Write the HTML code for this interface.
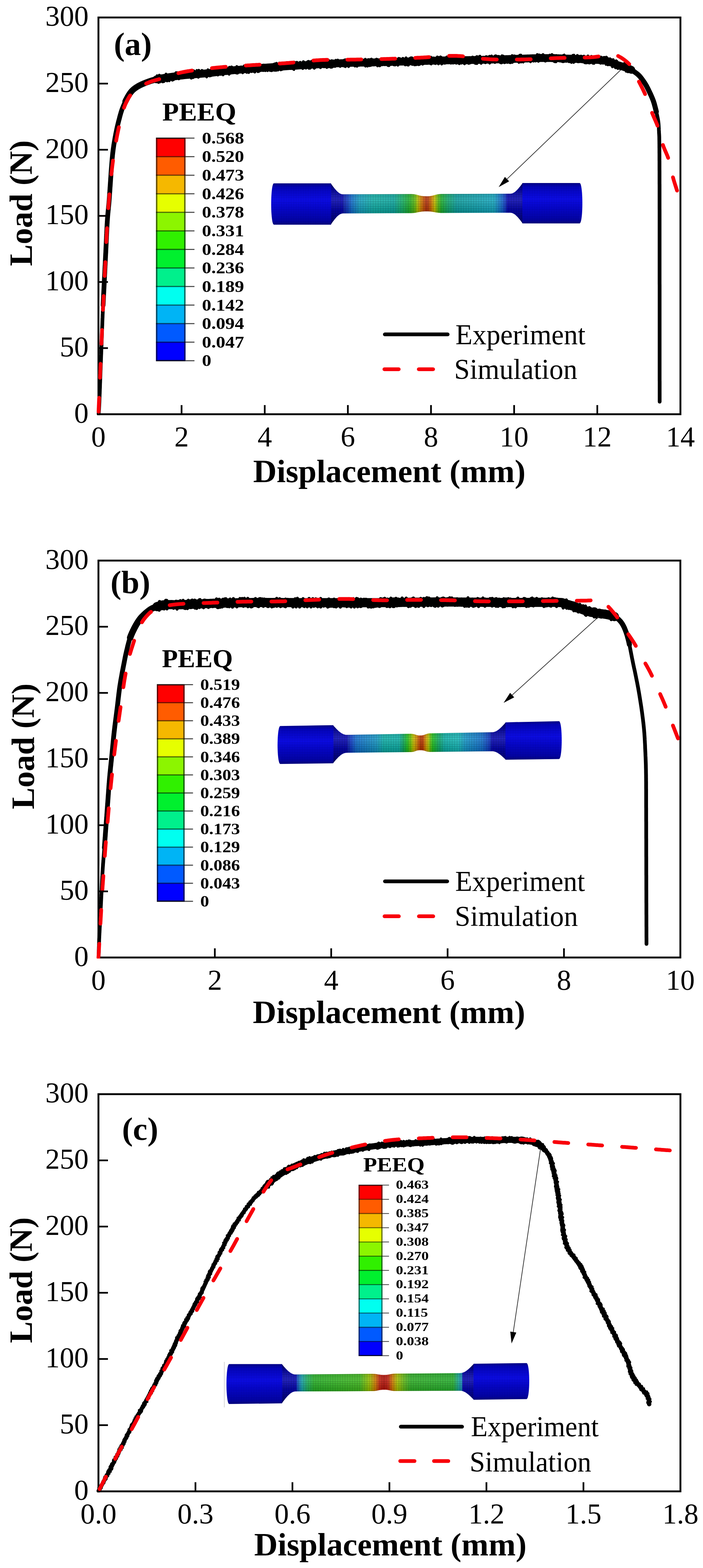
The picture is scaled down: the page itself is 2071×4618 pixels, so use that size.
<!DOCTYPE html><html><head><meta charset="utf-8"><title>Load-displacement</title><style>html,body{margin:0;padding:0;background:#fff;}svg{display:block;}</style></head><body>
<svg width="2071" height="4618" viewBox="0 0 2071 4618" font-family="'Liberation Serif', 'Times New Roman', serif">
<rect width="2071" height="4618" fill="#fff"/>
<defs>
<linearGradient id="s1g" gradientUnits="userSpaceOnUse" x1="1010.0" y1="0" x2="1495.0" y2="0"><stop offset="0.0000" stop-color="#0606b0"/><stop offset="0.0041" stop-color="#1020b0"/><stop offset="0.0289" stop-color="#1240c4"/><stop offset="0.0536" stop-color="#1470cc"/><stop offset="0.1031" stop-color="#18a0c0"/><stop offset="0.1856" stop-color="#14b0a8"/><stop offset="0.3093" stop-color="#10a8a0"/><stop offset="0.3608" stop-color="#18b068"/><stop offset="0.4021" stop-color="#20b030"/><stop offset="0.4371" stop-color="#60b810"/><stop offset="0.4536" stop-color="#b0c000"/><stop offset="0.4742" stop-color="#d08000"/><stop offset="0.4948" stop-color="#c04808"/><stop offset="0.5093" stop-color="#b03010"/><stop offset="0.5237" stop-color="#c04808"/><stop offset="0.5402" stop-color="#d08000"/><stop offset="0.5588" stop-color="#c0c000"/><stop offset="0.5773" stop-color="#60b810"/><stop offset="0.5979" stop-color="#20b030"/><stop offset="0.6392" stop-color="#14a870"/><stop offset="0.6907" stop-color="#10a0a0"/><stop offset="0.9175" stop-color="#18a8c0"/><stop offset="0.9649" stop-color="#1468cc"/><stop offset="0.9897" stop-color="#1030c0"/><stop offset="1.0000" stop-color="#0606b0"/></linearGradient>
<linearGradient id="s1sh" x1="0" y1="0" x2="0" y2="1"><stop offset="0" stop-color="#000" stop-opacity="0.55"/><stop offset="0.15" stop-color="#000" stop-opacity="0.18"/><stop offset="0.4" stop-color="#fff" stop-opacity="0.12"/><stop offset="0.65" stop-color="#000" stop-opacity="0.12"/><stop offset="0.88" stop-color="#000" stop-opacity="0.35"/><stop offset="1" stop-color="#000" stop-opacity="0.6"/></linearGradient>
<linearGradient id="s1gb" x1="0" y1="0" x2="0" y2="1"><stop offset="0" stop-color="#02028c"/><stop offset="0.1" stop-color="#0404c4"/><stop offset="0.4" stop-color="#0c0cf0"/><stop offset="0.6" stop-color="#0606d4"/><stop offset="0.9" stop-color="#0303ac"/><stop offset="1" stop-color="#020280"/></linearGradient>
<pattern id="s1m" patternUnits="userSpaceOnUse" width="5.00" height="5.10" x="798.7" y="540.0"><path d="M0,0 H5.00 M0,0 V5.10" stroke="#000030" stroke-opacity="0.42" stroke-width="1.3" fill="none"/></pattern>
<pattern id="s1n" patternUnits="userSpaceOnUse" width="7.40" height="7.00" x="1010.0" y="572.3"><path d="M0,0 H7.40 M0,0 V7.00" stroke="#000" stroke-opacity="0.3" stroke-width="1.4" fill="none"/></pattern>
</defs>
<path d="M974.3,540.0 C991.5,564.2 1000.5,572.3 1011.3,572.3 L1208.0,571.6 C1232.0,571.6 1232.0,578.0 1256.0,578.0 C1280.0,578.0 1280.0,571.3 1304.0,571.3 L1502.8,570.6 C1513.6,570.6 1522.6,562.7 1539.8,539.0 L1539.8,657.9 C1522.6,634.3 1513.6,626.4 1502.8,626.4 L1304.0,627.2 C1280.0,627.2 1280.0,622.5 1256.0,622.5 C1232.0,622.5 1232.0,627.7 1208.0,627.7 L1011.3,628.5 C1000.5,628.5 991.5,636.8 974.3,661.7 Z" fill="url(#s1g)"/>
<path d="M974.3,540.0 C991.5,564.2 1000.5,572.3 1011.3,572.3 L1208.0,571.6 C1232.0,571.6 1232.0,578.0 1256.0,578.0 C1280.0,578.0 1280.0,571.3 1304.0,571.3 L1502.8,570.6 C1513.6,570.6 1522.6,562.7 1539.8,539.0 L1539.8,657.9 C1522.6,634.3 1513.6,626.4 1502.8,626.4 L1304.0,627.2 C1280.0,627.2 1280.0,622.5 1256.0,622.5 C1232.0,622.5 1232.0,627.7 1208.0,627.7 L1011.3,628.5 C1000.5,628.5 991.5,636.8 974.3,661.7 Z" fill="url(#s1sh)"/>
<path d="M974.3,540.0 C991.5,564.2 1000.5,572.3 1011.3,572.3 L1208.0,571.6 C1232.0,571.6 1232.0,578.0 1256.0,578.0 C1280.0,578.0 1280.0,571.3 1304.0,571.3 L1502.8,570.6 C1513.6,570.6 1522.6,562.7 1539.8,539.0 L1539.8,657.9 C1522.6,634.3 1513.6,626.4 1502.8,626.4 L1304.0,627.2 C1280.0,627.2 1280.0,622.5 1256.0,622.5 C1232.0,622.5 1232.0,627.7 1208.0,627.7 L1011.3,628.5 C1000.5,628.5 991.5,636.8 974.3,661.7 Z" fill="url(#s1n)"/>
<path d="M806.7,540.0 L975.3,540.0 L975.3,661.7 L806.7,661.7 C796.3,658.7 796.3,543.0 806.7,540.0 Z" fill="url(#s1gb)"/>
<path d="M806.7,540.0 L975.3,540.0 L975.3,661.7 L806.7,661.7 C796.3,658.7 796.3,543.0 806.7,540.0 Z" fill="url(#s1m)"/>
<path d="M1538.8,539.0 L1707.8,539.0 C1718.2,542.0 1718.2,654.9 1707.8,657.9 L1538.8,657.9 Z" fill="url(#s1gb)"/>
<path d="M1538.8,539.0 L1707.8,539.0 C1718.2,542.0 1718.2,654.9 1707.8,657.9 L1538.8,657.9 Z" fill="url(#s1m)"/>
<rect x="459.5" y="406.8" width="87.0" height="55.1" fill="#ff0000"/>
<rect x="459.5" y="461.4" width="87.0" height="55.1" fill="#ff5c00"/>
<rect x="459.5" y="516.1" width="87.0" height="55.1" fill="#f5b800"/>
<rect x="459.5" y="570.7" width="87.0" height="55.1" fill="#e6ff00"/>
<rect x="459.5" y="625.3" width="87.0" height="55.1" fill="#8cf500"/>
<rect x="459.5" y="680.0" width="87.0" height="55.1" fill="#30f000"/>
<rect x="459.5" y="734.6" width="87.0" height="55.1" fill="#00f02e"/>
<rect x="459.5" y="789.2" width="87.0" height="55.1" fill="#00f08c"/>
<rect x="459.5" y="843.8" width="87.0" height="55.1" fill="#00fff0"/>
<rect x="459.5" y="898.5" width="87.0" height="55.1" fill="#00b4f5"/>
<rect x="459.5" y="953.1" width="87.0" height="55.1" fill="#005aff"/>
<rect x="459.5" y="1007.7" width="87.0" height="55.1" fill="#0000ff"/>
<line x1="459.5" y1="406.8" x2="546.5" y2="406.8" stroke="#000" stroke-opacity="0.55" stroke-width="3.5"/>
<line x1="546.5" y1="406.8" x2="572.9" y2="406.8" stroke="#444" stroke-width="3.0"/>
<line x1="459.5" y1="461.4" x2="546.5" y2="461.4" stroke="#000" stroke-opacity="0.55" stroke-width="3.5"/>
<line x1="546.5" y1="461.4" x2="572.9" y2="461.4" stroke="#444" stroke-width="3.0"/>
<line x1="459.5" y1="516.1" x2="546.5" y2="516.1" stroke="#000" stroke-opacity="0.55" stroke-width="3.5"/>
<line x1="546.5" y1="516.1" x2="572.9" y2="516.1" stroke="#444" stroke-width="3.0"/>
<line x1="459.5" y1="570.7" x2="546.5" y2="570.7" stroke="#000" stroke-opacity="0.55" stroke-width="3.5"/>
<line x1="546.5" y1="570.7" x2="572.9" y2="570.7" stroke="#444" stroke-width="3.0"/>
<line x1="459.5" y1="625.3" x2="546.5" y2="625.3" stroke="#000" stroke-opacity="0.55" stroke-width="3.5"/>
<line x1="546.5" y1="625.3" x2="572.9" y2="625.3" stroke="#444" stroke-width="3.0"/>
<line x1="459.5" y1="680.0" x2="546.5" y2="680.0" stroke="#000" stroke-opacity="0.55" stroke-width="3.5"/>
<line x1="546.5" y1="680.0" x2="572.9" y2="680.0" stroke="#444" stroke-width="3.0"/>
<line x1="459.5" y1="734.6" x2="546.5" y2="734.6" stroke="#000" stroke-opacity="0.55" stroke-width="3.5"/>
<line x1="546.5" y1="734.6" x2="572.9" y2="734.6" stroke="#444" stroke-width="3.0"/>
<line x1="459.5" y1="789.2" x2="546.5" y2="789.2" stroke="#000" stroke-opacity="0.55" stroke-width="3.5"/>
<line x1="546.5" y1="789.2" x2="572.9" y2="789.2" stroke="#444" stroke-width="3.0"/>
<line x1="459.5" y1="843.8" x2="546.5" y2="843.8" stroke="#000" stroke-opacity="0.55" stroke-width="3.5"/>
<line x1="546.5" y1="843.8" x2="572.9" y2="843.8" stroke="#444" stroke-width="3.0"/>
<line x1="459.5" y1="898.5" x2="546.5" y2="898.5" stroke="#000" stroke-opacity="0.55" stroke-width="3.5"/>
<line x1="546.5" y1="898.5" x2="572.9" y2="898.5" stroke="#444" stroke-width="3.0"/>
<line x1="459.5" y1="953.1" x2="546.5" y2="953.1" stroke="#000" stroke-opacity="0.55" stroke-width="3.5"/>
<line x1="546.5" y1="953.1" x2="572.9" y2="953.1" stroke="#444" stroke-width="3.0"/>
<line x1="459.5" y1="1007.7" x2="546.5" y2="1007.7" stroke="#000" stroke-opacity="0.55" stroke-width="3.5"/>
<line x1="546.5" y1="1007.7" x2="572.9" y2="1007.7" stroke="#444" stroke-width="3.0"/>
<line x1="459.5" y1="1062.4" x2="546.5" y2="1062.4" stroke="#000" stroke-opacity="0.55" stroke-width="3.5"/>
<line x1="546.5" y1="1062.4" x2="572.9" y2="1062.4" stroke="#444" stroke-width="3.0"/>
<rect x="461.5" y="407.3" width="83.0" height="654.6" fill="none" stroke="#000" stroke-opacity="0.6" stroke-width="4.0"/>
<text transform="translate(594.9,422.8) scale(1.1490,1)" font-size="48" font-weight="bold" text-anchor="start">0.568</text>
<text transform="translate(594.9,477.4) scale(1.1490,1)" font-size="48" font-weight="bold" text-anchor="start">0.520</text>
<text transform="translate(594.9,532.1) scale(1.1490,1)" font-size="48" font-weight="bold" text-anchor="start">0.473</text>
<text transform="translate(594.9,586.7) scale(1.1490,1)" font-size="48" font-weight="bold" text-anchor="start">0.426</text>
<text transform="translate(594.9,641.3) scale(1.1490,1)" font-size="48" font-weight="bold" text-anchor="start">0.378</text>
<text transform="translate(594.9,696.0) scale(1.1490,1)" font-size="48" font-weight="bold" text-anchor="start">0.331</text>
<text transform="translate(594.9,750.6) scale(1.1490,1)" font-size="48" font-weight="bold" text-anchor="start">0.284</text>
<text transform="translate(594.9,805.2) scale(1.1490,1)" font-size="48" font-weight="bold" text-anchor="start">0.236</text>
<text transform="translate(594.9,859.8) scale(1.1490,1)" font-size="48" font-weight="bold" text-anchor="start">0.189</text>
<text transform="translate(594.9,914.5) scale(1.1490,1)" font-size="48" font-weight="bold" text-anchor="start">0.142</text>
<text transform="translate(594.9,969.1) scale(1.1490,1)" font-size="48" font-weight="bold" text-anchor="start">0.094</text>
<text transform="translate(594.9,1023.7) scale(1.1490,1)" font-size="48" font-weight="bold" text-anchor="start">0.047</text>
<text transform="translate(594.9,1078.4) scale(1.1490,1)" font-size="48" font-weight="bold" text-anchor="start">0</text>
<text transform="translate(478.0,355.3) scale(1.0542,1)" font-size="76" font-weight="bold" text-anchor="start">PEEQ</text>
<line x1="1133.7" y1="984.8" x2="1318.8" y2="984.8" stroke="#000" stroke-width="11" stroke-linecap="round"/>
<line x1="1132.4" y1="1087.4" x2="1174.6" y2="1087.4" stroke="#f8000a" stroke-width="11" stroke-linecap="round"/>
<line x1="1233.7" y1="1087.4" x2="1275.9" y2="1087.4" stroke="#f8000a" stroke-width="11" stroke-linecap="round"/>
<text transform="translate(1341.8,1014.0) scale(0.9662,1)" font-size="85" font-weight="normal" text-anchor="start">Experiment</text>
<text transform="translate(1338.0,1115.5) scale(0.9727,1)" font-size="85" font-weight="normal" text-anchor="start">Simulation</text>
<rect x="290.0" y="51.5" width="1714.5" height="1168.5" fill="none" stroke="#000" stroke-width="5.5"/>
<clipPath id="clipa"><rect x="283.0" y="51.5" width="1721.5" height="1171.5"/></clipPath>
<g clip-path="url(#clipa)">
<path d="M290.5,1219.0 L290.6,1217.4 L290.8,1215.8 L291.0,1213.9 L291.2,1211.7 L291.4,1208.9 L291.7,1205.6 L291.9,1201.5 L292.2,1196.5 L292.5,1190.5 L292.6,1188.5 L292.7,1186.3 L292.8,1184.0 L292.9,1181.6 L293.0,1179.1 L293.1,1176.4 L293.2,1173.7 L293.3,1170.9 L293.4,1168.0 L293.5,1165.1 L293.6,1162.0 L293.8,1158.9 L293.9,1155.8 L294.0,1152.6 L294.1,1149.4 L294.2,1146.1 L294.4,1142.8 L294.5,1139.5 L294.6,1136.1 L294.7,1132.8 L294.8,1129.4 L295.0,1126.1 L295.1,1122.8 L295.2,1119.5 L295.3,1116.2 L295.4,1113.0 L295.6,1109.8 L295.7,1106.6 L295.8,1103.5 L295.9,1100.5 L296.0,1097.5 L296.1,1094.5 L296.2,1091.5 L296.4,1088.5 L296.5,1085.5 L296.6,1082.5 L296.7,1079.5 L296.8,1076.5 L296.9,1073.5 L297.0,1070.5 L297.1,1067.5 L297.3,1064.5 L297.4,1061.5 L297.5,1058.5 L297.6,1055.5 L297.7,1052.5 L297.8,1049.5 L297.9,1046.5 L298.1,1043.5 L298.2,1040.5 L298.3,1037.5 L298.4,1034.5 L298.5,1031.4 L298.6,1028.4 L298.7,1025.4 L298.8,1022.4 L299.0,1019.4 L299.1,1016.4 L299.2,1013.4 L299.3,1010.4 L299.4,1007.4 L299.5,1004.4 L299.6,1001.4 L299.7,998.4 L299.9,995.3 L300.0,992.3 L300.1,989.3 L300.2,986.3 L300.3,983.3 L300.4,980.3 L300.5,977.3 L300.6,974.2 L300.7,971.2 L300.8,968.2 L300.9,965.2 L301.0,962.2 L301.2,959.2 L301.3,956.1 L301.4,953.1 L301.5,950.1 L301.6,947.1 L301.7,944.1 L301.8,941.1 L301.9,938.1 L302.1,935.0 L302.2,932.0 L302.3,929.0 L302.4,926.0 L302.6,923.0 L302.7,920.0 L302.8,917.0 L303.0,914.0 L303.1,911.0 L303.2,908.0 L303.4,905.0 L303.5,902.0 L303.7,899.0 L303.8,896.0 L304.0,893.0 L304.1,890.0 L304.3,887.0 L304.4,884.0 L304.6,881.0 L304.7,878.0 L304.9,875.0 L305.0,872.0 L305.2,869.0 L305.3,866.0 L305.5,863.0 L305.7,860.0 L305.8,857.0 L306.0,854.0 L306.1,851.0 L306.3,848.0 L306.4,845.0 L306.6,842.0 L306.7,839.0 L306.9,836.0 L307.0,833.0 L307.2,830.0 L307.3,827.0 L307.5,824.0 L307.6,821.0 L307.8,818.0 L307.9,815.0 L308.1,812.0 L308.2,809.0 L308.4,806.0 L308.6,803.0 L308.7,800.0 L308.8,797.0 L309.0,794.0 L309.1,791.0 L309.3,788.0 L309.4,785.0 L309.6,782.0 L309.8,779.0 L309.9,776.0 L310.1,773.0 L310.2,770.0 L310.3,767.0 L310.5,764.0 L310.6,761.0 L310.8,758.0 L310.9,755.0 L311.1,752.0 L311.2,749.0 L311.4,746.0 L311.6,743.0 L311.7,740.0 L311.8,737.0 L312.0,733.9 L312.1,730.9 L312.3,727.8 L312.4,724.7 L312.6,721.6 L312.7,718.4 L312.9,715.3 L313.0,712.1 L313.2,709.0 L313.3,705.8 L313.5,702.7 L313.6,699.5 L313.7,696.4 L313.9,693.2 L314.0,690.1 L314.2,687.1 L314.3,684.0 L314.5,680.9 L314.6,677.9 L314.8,674.9 L314.9,672.0 L315.1,669.1 L315.2,666.2 L315.4,663.4 L315.5,660.6 L315.7,657.9 L315.9,655.2 L316.0,652.6 L316.2,650.0 L316.5,646.3 L316.7,642.8 L317.0,639.5 L317.2,636.4 L317.5,633.4 L317.7,630.4 L318.0,627.6 L318.3,624.9 L318.5,622.1 L318.8,619.4 L319.1,616.7 L319.4,614.0 L319.6,611.2 L319.9,608.3 L320.2,605.3 L320.5,602.2 L320.8,598.9 L321.1,595.5 L321.4,591.9 L321.7,588.0 L321.9,585.5 L322.1,582.8 L322.3,580.1 L322.5,577.2 L322.7,574.3 L322.9,571.3 L323.1,568.2 L323.4,565.1 L323.6,561.9 L323.8,558.7 L324.0,555.4 L324.2,552.1 L324.5,548.8 L324.7,545.5 L324.9,542.1 L325.1,538.8 L325.4,535.4 L325.6,532.1 L325.8,528.8 L326.0,525.5 L326.3,522.2 L326.5,519.0 L326.7,515.9 L326.9,512.8 L327.1,509.7 L327.3,506.8 L327.5,503.9 L327.7,501.1 L327.9,498.4 L328.1,495.8 L328.3,493.4 L328.5,491.0 L328.9,486.6 L329.2,482.5 L329.5,478.6 L329.8,475.1 L330.1,471.7 L330.3,468.6 L330.6,465.6 L330.9,462.8 L331.2,460.0 L331.4,457.3 L331.7,454.7 L332.0,452.0 L332.3,449.3 L332.7,446.6 L333.0,443.8 L333.4,440.8 L333.8,437.6 L334.3,434.3 L334.8,431.1 L335.2,427.9 L335.7,424.7 L336.3,421.5 L336.8,418.3 L337.3,415.1 L337.9,412.0 L338.4,408.9 L339.0,405.8 L339.5,402.8 L340.1,399.8 L340.6,396.9 L341.2,394.0 L341.8,390.7 L342.5,387.6 L343.1,384.5 L343.7,381.4 L344.4,378.4 L345.0,375.4 L345.7,372.5 L346.4,369.6 L347.1,366.7 L347.8,363.8 L348.5,360.9 L349.2,358.0 L350.0,355.0 L350.8,352.0 L351.6,349.1 L352.3,346.1 L353.1,343.1 L353.9,340.2 L354.7,337.2 L355.6,334.3 L356.4,331.3 L357.4,328.4 L358.3,325.4 L359.4,322.4 L360.4,319.5 L361.6,316.5 L362.7,313.7 L364.0,310.8 L365.2,307.9 L366.6,304.9 L368.0,301.9 L369.4,298.9 L370.8,295.9 L372.3,293.0 L373.8,290.2 L375.2,287.4 L376.7,284.8 L378.2,282.2 L379.6,279.9 L381.0,277.7 L383.1,274.6 L385.1,272.0 L387.0,269.6 L389.0,267.4 L391.0,265.4 L393.1,263.5 L395.3,261.7 L397.7,259.9 L400.4,258.0 L402.8,256.4 L405.3,254.9 L407.9,253.4 L410.6,251.9 L413.4,250.5 L416.3,249.1 L419.2,247.7 L422.2,246.4 L425.3,245.1 L428.4,243.9 L431.5,242.7 L434.3,241.6 L437.0,240.6 L439.7,239.7 L442.3,238.8 L445.1,237.9 L447.9,237.0 L450.8,236.2 L453.9,235.3 L457.2,234.5 L460.8,233.7 L464.7,232.9 L469.0,232.0 L471.4,231.5 L473.9,231.1 L476.5,230.6 L479.2,230.2 L482.0,229.7 L484.9,229.2 L487.8,228.8 L490.8,228.3 L493.9,227.8 L497.0,227.4 L500.2,226.9 L503.4,226.5 L506.6,226.0 L509.8,225.6 L513.1,225.2 L516.3,224.7 L519.6,224.3 L522.8,223.9 L526.0,223.5 L529.2,223.1 L532.4,222.7 L535.5,222.4 L538.5,222.0 L541.5,221.7 L544.5,221.3 L547.5,221.0 L550.6,220.7 L553.6,220.5 L556.6,220.2 L559.6,219.9 L562.6,219.7 L565.6,219.5 L568.6,219.2 L571.7,219.0 L574.7,218.8 L577.7,218.5 L580.7,218.3 L583.7,218.1 L586.7,217.8 L589.7,217.6 L592.7,217.4 L595.8,217.1 L598.8,216.9 L601.8,216.6 L604.8,216.3 L607.8,216.0 L610.8,215.7 L613.8,215.4 L616.8,215.0 L619.8,214.7 L622.8,214.4 L625.9,214.0 L628.9,213.6 L631.9,213.3 L634.9,212.9 L637.9,212.6 L640.9,212.2 L643.9,211.8 L646.9,211.4 L649.9,211.1 L652.9,210.7 L655.9,210.4 L658.9,210.0 L662.0,209.6 L665.0,209.3 L668.0,209.0 L671.0,208.6 L674.0,208.3 L677.0,208.0 L680.0,207.7 L683.1,207.4 L686.1,207.1 L689.2,206.8 L692.3,206.5 L695.5,206.2 L698.6,206.0 L701.7,205.7 L704.8,205.4 L708.0,205.1 L711.1,204.9 L714.2,204.6 L717.2,204.4 L720.3,204.1 L723.3,203.9 L726.4,203.6 L729.3,203.4 L732.3,203.1 L735.2,202.9 L738.0,202.7 L740.8,202.4 L743.6,202.2 L746.3,202.0 L749.8,201.7 L753.0,201.5 L756.1,201.2 L758.9,201.0 L761.7,200.8 L764.4,200.5 L767.0,200.3 L769.7,200.1 L772.3,199.9 L775.1,199.7 L778.0,199.5 L781.0,199.3 L784.2,199.1 L787.7,198.8 L791.5,198.6 L795.6,198.3 L800.0,198.0 L802.4,197.8 L804.8,197.7 L807.3,197.5 L809.9,197.3 L812.6,197.2 L815.3,197.0 L818.1,196.8 L821.0,196.6 L823.9,196.4 L826.9,196.2 L829.9,196.0 L833.0,195.9 L836.1,195.7 L839.2,195.5 L842.4,195.3 L845.6,195.0 L848.9,194.8 L852.1,194.6 L855.4,194.4 L858.7,194.2 L862.0,194.0 L865.3,193.8 L868.6,193.6 L871.9,193.4 L875.2,193.2 L878.5,193.0 L881.7,192.8 L885.0,192.6 L888.2,192.4 L891.5,192.2 L894.6,192.0 L897.8,191.9 L900.9,191.7 L904.0,191.5 L907.1,191.3 L910.1,191.1 L913.2,191.0 L916.2,190.8 L919.3,190.6 L922.4,190.4 L925.4,190.3 L928.5,190.1 L931.5,189.9 L934.6,189.7 L937.6,189.5 L940.7,189.4 L943.8,189.2 L946.8,189.0 L949.9,188.8 L952.9,188.7 L956.0,188.5 L959.1,188.3 L962.1,188.2 L965.2,188.0 L968.2,187.8 L971.3,187.7 L974.4,187.5 L977.4,187.4 L980.5,187.2 L983.5,187.1 L986.6,186.9 L989.6,186.8 L992.7,186.6 L995.8,186.5 L998.8,186.4 L1001.9,186.2 L1004.9,186.1 L1008.0,186.0 L1011.1,185.9 L1014.1,185.8 L1017.2,185.7 L1020.3,185.6 L1023.4,185.5 L1026.6,185.4 L1029.7,185.3 L1032.8,185.2 L1035.9,185.1 L1039.1,185.0 L1042.2,185.0 L1045.4,184.9 L1048.5,184.8 L1051.6,184.8 L1054.8,184.7 L1057.9,184.6 L1061.0,184.6 L1064.1,184.5 L1067.2,184.4 L1070.3,184.4 L1073.4,184.3 L1076.5,184.3 L1079.5,184.2 L1082.6,184.1 L1085.6,184.1 L1088.6,184.0 L1091.6,184.0 L1094.6,183.9 L1097.6,183.8 L1100.5,183.8 L1103.4,183.7 L1106.3,183.6 L1109.2,183.6 L1112.0,183.5 L1115.3,183.4 L1118.5,183.3 L1121.7,183.2 L1124.8,183.2 L1127.9,183.1 L1131.0,183.0 L1134.0,182.9 L1137.0,182.8 L1140.0,182.7 L1142.9,182.7 L1145.8,182.6 L1148.7,182.5 L1151.7,182.4 L1154.6,182.3 L1157.4,182.2 L1160.3,182.2 L1163.3,182.1 L1166.2,182.0 L1169.1,181.9 L1172.0,181.8 L1175.0,181.7 L1178.0,181.6 L1181.0,181.5 L1184.1,181.5 L1187.2,181.4 L1190.3,181.3 L1193.5,181.2 L1196.7,181.1 L1200.0,181.0 L1202.8,180.9 L1205.7,180.8 L1208.6,180.7 L1211.5,180.7 L1214.4,180.6 L1217.4,180.5 L1220.4,180.4 L1223.4,180.3 L1226.4,180.2 L1229.4,180.1 L1232.5,180.0 L1235.5,179.9 L1238.6,179.8 L1241.7,179.7 L1244.8,179.6 L1247.9,179.5 L1251.0,179.4 L1254.1,179.3 L1257.2,179.2 L1260.4,179.2 L1263.5,179.1 L1266.6,179.0 L1269.8,178.9 L1272.9,178.8 L1276.1,178.7 L1279.2,178.6 L1282.3,178.5 L1285.4,178.4 L1288.6,178.4 L1291.7,178.3 L1294.8,178.2 L1297.9,178.1 L1300.9,178.1 L1304.0,178.0 L1307.1,177.9 L1310.1,177.9 L1313.2,177.8 L1316.2,177.8 L1319.3,177.7 L1322.4,177.7 L1325.4,177.6 L1328.5,177.6 L1331.5,177.5 L1334.6,177.5 L1337.6,177.5 L1340.7,177.4 L1343.8,177.4 L1346.8,177.4 L1349.9,177.3 L1352.9,177.3 L1356.0,177.2 L1359.1,177.2 L1362.1,177.2 L1365.2,177.1 L1368.2,177.1 L1371.3,177.1 L1374.4,177.0 L1377.4,177.0 L1380.5,177.0 L1383.5,176.9 L1386.6,176.9 L1389.6,176.8 L1392.7,176.8 L1395.8,176.7 L1398.8,176.7 L1401.9,176.6 L1404.9,176.6 L1408.0,176.5 L1411.1,176.4 L1414.1,176.4 L1417.2,176.3 L1420.3,176.2 L1423.4,176.1 L1426.6,176.1 L1429.7,176.0 L1432.8,175.9 L1435.9,175.8 L1439.1,175.7 L1442.2,175.6 L1445.4,175.5 L1448.5,175.4 L1451.6,175.3 L1454.8,175.3 L1457.9,175.2 L1461.0,175.1 L1464.1,175.0 L1467.2,174.9 L1470.3,174.8 L1473.4,174.7 L1476.5,174.6 L1479.5,174.5 L1482.6,174.4 L1485.6,174.3 L1488.6,174.2 L1491.6,174.1 L1494.6,174.0 L1497.6,173.9 L1500.5,173.8 L1503.4,173.8 L1506.3,173.7 L1509.2,173.6 L1512.0,173.5 L1515.3,173.4 L1518.6,173.3 L1521.9,173.2 L1525.1,173.1 L1528.3,173.0 L1531.5,172.9 L1534.7,172.8 L1537.9,172.7 L1541.1,172.6 L1544.2,172.4 L1547.3,172.3 L1550.4,172.2 L1553.5,172.1 L1556.5,172.0 L1559.6,171.9 L1562.6,171.8 L1565.6,171.7 L1568.6,171.6 L1571.5,171.5 L1574.5,171.5 L1577.4,171.4 L1580.3,171.3 L1583.2,171.2 L1586.0,171.2 L1588.9,171.1 L1591.7,171.1 L1594.5,171.1 L1597.2,171.0 L1600.0,171.0 L1603.4,171.0 L1606.8,171.0 L1610.1,171.0 L1613.4,171.0 L1616.6,171.0 L1619.7,171.1 L1622.9,171.1 L1626.0,171.2 L1629.0,171.2 L1632.1,171.3 L1635.1,171.4 L1638.1,171.4 L1641.0,171.5 L1644.0,171.6 L1647.0,171.7 L1649.9,171.8 L1652.9,171.9 L1655.9,172.0 L1658.9,172.1 L1661.9,172.2 L1664.9,172.3 L1667.9,172.4 L1671.0,172.5 L1674.1,172.6 L1677.3,172.7 L1680.5,172.8 L1683.8,173.0 L1687.0,173.1 L1690.4,173.2 L1693.7,173.4 L1697.0,173.5 L1700.3,173.7 L1703.6,173.8 L1706.9,174.0 L1710.2,174.1 L1713.4,174.3 L1716.6,174.4 L1719.7,174.6 L1722.8,174.7 L1725.8,174.9 L1728.8,175.0 L1731.6,175.2 L1734.4,175.3 L1737.0,175.4 L1739.6,175.6 L1742.0,175.7 L1746.4,175.9 L1750.5,176.1 L1754.2,176.3 L1757.8,176.4 L1761.1,176.5 L1764.2,176.7 L1767.1,176.8 L1769.9,177.0 L1772.5,177.2 L1775.1,177.4 L1777.6,177.7 L1780.0,178.0 L1784.4,178.7 L1788.0,179.6 L1791.1,180.5 L1794.0,181.6 L1796.9,182.7 L1800.0,183.8 L1802.8,184.8 L1805.7,186.0 L1808.5,187.2 L1811.3,188.4 L1814.1,189.6 L1817.0,190.7 L1819.8,191.8 L1823.1,192.9 L1826.5,193.9 L1829.8,194.8 L1833.1,195.7 L1836.5,196.7 L1839.8,197.8 L1842.6,198.8 L1845.5,199.7 L1848.3,200.7 L1851.2,201.8 L1854.0,202.9 L1856.9,204.2 L1859.7,205.7 L1862.2,207.2 L1864.9,208.8 L1867.5,210.5 L1870.1,212.3 L1872.7,214.2 L1875.2,216.1 L1877.5,217.9 L1879.6,219.7 L1882.1,222.0 L1884.2,224.2 L1886.1,226.4 L1887.9,228.7 L1889.7,231.1 L1891.6,233.6 L1893.3,235.9 L1895.0,238.2 L1896.7,240.7 L1898.4,243.2 L1900.1,245.8 L1901.8,248.6 L1903.5,251.5 L1905.0,254.2 L1906.5,257.1 L1908.1,260.1 L1909.6,263.1 L1911.1,266.2 L1912.6,269.4 L1914.1,272.5 L1915.5,275.5 L1916.9,278.5 L1918.2,281.3 L1919.4,284.2 L1920.7,287.1 L1921.9,290.0 L1923.1,293.0 L1924.3,296.1 L1925.4,299.4 L1926.3,302.1 L1927.2,305.0 L1928.0,307.9 L1928.8,310.9 L1929.6,313.9 L1930.4,317.0 L1931.2,320.1 L1932.0,323.1 L1932.7,326.2 L1933.4,329.2 L1934.1,332.2 L1934.8,335.2 L1935.5,338.1 L1936.1,341.1 L1936.8,344.1 L1937.4,347.1 L1938.0,350.0 L1938.5,353.0 L1939.0,356.0 L1939.4,359.0 L1939.8,362.0 L1940.1,365.0 L1940.3,368.0 L1940.5,371.0 L1940.7,374.0 L1940.9,377.0 L1941.0,380.0 L1941.1,383.0 L1941.3,386.0 L1941.4,389.0 L1941.5,391.7 L1941.7,393.9 L1941.8,395.8 L1941.9,397.6 L1942.0,399.6 L1942.1,401.9 L1942.2,404.8 L1942.2,408.5 L1942.3,413.1 L1942.4,419.0 L1942.4,421.0 L1942.4,423.1 L1942.5,425.3 L1942.5,427.5 L1942.5,429.7 L1942.5,432.1 L1942.5,434.5 L1942.6,437.0 L1942.6,439.5 L1942.6,442.1 L1942.6,444.8 L1942.6,447.6 L1942.6,450.4 L1942.7,453.2 L1942.7,456.2 L1942.7,459.2 L1942.7,462.2 L1942.7,465.4 L1942.7,468.6 L1942.7,471.8 L1942.8,475.1 L1942.8,478.5 L1942.8,482.0 L1942.8,485.5 L1942.8,489.1 L1942.8,492.7 L1942.8,496.4 L1942.8,500.2 L1942.9,504.0 L1942.9,507.9 L1942.9,511.9 L1942.9,515.9 L1942.9,520.0 L1942.9,522.4 L1942.9,524.8 L1942.9,527.1 L1942.9,529.5 L1942.9,531.8 L1942.9,534.2 L1942.9,536.6 L1942.9,538.9 L1942.9,541.3 L1943.0,543.7 L1943.0,546.0 L1943.0,548.4 L1943.0,550.8 L1943.0,553.2 L1943.0,555.6 L1943.0,558.1 L1943.0,560.5 L1943.0,563.0 L1943.0,565.5 L1943.0,568.0 L1943.0,570.5 L1943.0,573.1 L1943.0,575.7 L1943.0,578.3 L1943.0,580.9 L1943.0,583.6 L1943.0,586.3 L1943.0,589.1 L1943.0,591.8 L1943.0,594.6 L1943.0,597.5 L1943.0,600.4 L1943.0,603.3 L1943.0,606.3 L1943.0,609.4 L1943.0,612.4 L1943.0,615.6 L1943.1,618.7 L1943.1,622.0 L1943.1,625.3 L1943.1,628.6 L1943.1,632.0 L1943.1,635.5 L1943.1,639.0 L1943.1,642.6 L1943.1,646.2 L1943.1,649.9 L1943.1,653.7 L1943.1,657.5 L1943.1,661.5 L1943.1,665.4 L1943.1,669.5 L1943.1,673.7 L1943.1,677.9 L1943.1,682.2 L1943.1,686.5 L1943.1,691.0 L1943.1,693.3 L1943.1,695.6 L1943.1,697.9 L1943.1,700.3 L1943.1,702.7 L1943.1,705.2 L1943.1,707.7 L1943.1,710.3 L1943.1,712.8 L1943.1,715.4 L1943.1,718.1 L1943.1,720.7 L1943.1,723.5 L1943.1,726.2 L1943.1,729.0 L1943.1,731.8 L1943.1,734.6 L1943.1,737.4 L1943.1,740.3 L1943.1,743.2 L1943.1,746.2 L1943.1,749.1 L1943.1,752.1 L1943.1,755.1 L1943.1,758.2 L1943.1,761.2 L1943.1,764.3 L1943.1,767.4 L1943.1,770.5 L1943.1,773.7 L1943.1,776.8 L1943.1,780.0 L1943.1,783.2 L1943.1,786.4 L1943.1,789.7 L1943.1,792.9 L1943.1,796.2 L1943.1,799.4 L1943.1,802.7 L1943.1,806.0 L1943.1,809.3 L1943.1,812.7 L1943.1,816.0 L1943.1,819.3 L1943.1,822.7 L1943.1,826.0 L1943.1,829.4 L1943.1,832.8 L1943.1,836.2 L1943.2,839.5 L1943.2,842.9 L1943.2,846.3 L1943.2,849.7 L1943.2,853.1 L1943.2,856.5 L1943.2,859.9 L1943.2,863.3 L1943.2,866.7 L1943.2,870.1 L1943.2,873.5 L1943.2,876.9 L1943.2,880.3 L1943.2,883.7 L1943.2,887.0 L1943.2,890.4 L1943.2,893.8 L1943.2,897.1 L1943.2,900.5 L1943.2,903.8 L1943.2,907.1 L1943.2,910.5 L1943.2,913.8 L1943.2,917.1 L1943.2,920.4 L1943.2,923.6 L1943.2,926.9 L1943.2,930.1 L1943.2,933.4 L1943.2,936.6 L1943.2,939.8 L1943.2,942.9 L1943.2,946.1 L1943.2,949.2 L1943.2,952.4 L1943.2,955.5 L1943.2,958.5 L1943.2,961.6 L1943.2,964.6 L1943.2,967.6 L1943.2,970.6 L1943.2,973.6 L1943.2,976.5 L1943.2,979.4 L1943.2,982.3 L1943.2,985.1 L1943.2,988.0 L1943.2,990.7 L1943.2,993.5 L1943.2,996.2 L1943.2,998.9 L1943.2,1001.6 L1943.2,1004.2 L1943.2,1006.8 L1943.2,1009.4 L1943.2,1011.9 L1943.2,1014.4 L1943.2,1016.9 L1943.2,1019.3 L1943.2,1021.7 L1943.2,1024.0 L1943.2,1026.3 L1943.2,1028.6 L1943.2,1030.8 L1943.2,1033.0 L1943.2,1037.9 L1943.2,1042.7 L1943.2,1047.3 L1943.2,1051.9 L1943.2,1056.5 L1943.2,1060.9 L1943.2,1065.2 L1943.2,1069.5 L1943.2,1073.6 L1943.2,1077.7 L1943.2,1081.7 L1943.2,1085.6 L1943.2,1089.4 L1943.2,1093.2 L1943.2,1096.8 L1943.2,1100.4 L1943.2,1103.9 L1943.2,1107.4 L1943.2,1110.7 L1943.2,1114.0 L1943.2,1117.2 L1943.2,1120.4 L1943.3,1123.4 L1943.3,1126.4 L1943.3,1129.4 L1943.3,1132.2 L1943.3,1135.0 L1943.3,1137.8 L1943.3,1140.4 L1943.3,1143.0 L1943.3,1145.6 L1943.3,1148.0 L1943.3,1150.4 L1943.3,1152.8 L1943.3,1155.1 L1943.3,1157.3 L1943.3,1159.5 L1943.3,1161.6 L1943.3,1163.7 L1943.3,1165.7 L1943.3,1167.6 L1943.3,1169.5 L1943.3,1171.4 L1943.3,1173.2 L1943.3,1174.9 L1943.3,1176.6 L1943.3,1178.3 L1943.3,1179.9 L1943.3,1181.5 L1943.3,1183.0" fill="none" stroke="#000" stroke-width="11" stroke-linejoin="round" stroke-linecap="round"/>
<path d="M303.7,899.0 L303.8,896.0 L304.0,893.0 L304.1,890.0 L304.3,887.0 L304.4,884.0 L304.6,881.0 L304.7,878.0 L304.9,875.0 L305.0,872.0 L305.2,869.0 L305.3,866.0 L305.5,863.0 L305.7,860.0 L305.8,857.0 L306.0,854.0 L306.1,851.0 L306.3,848.0 L306.4,845.0 L306.6,842.0 L306.7,839.0 L306.9,836.0 L307.0,833.0 L307.2,830.0 L307.3,827.0 L307.5,824.0 L307.6,821.0 L307.8,818.0 L307.9,815.0 L308.1,812.0 L308.2,809.0 L308.4,806.0 L308.6,803.0 L308.7,800.0 L308.8,797.0 L309.0,794.0 L309.1,791.0 L309.3,788.0 L309.4,785.0 L309.6,782.0 L309.8,779.0 L309.9,776.0 L310.1,773.0 L310.2,770.0 L310.3,767.0 L310.5,764.0 L310.6,761.0 L310.8,758.0 L310.9,755.0 L311.1,752.0 L311.2,749.0 L311.4,746.0 L311.6,743.0 L311.7,740.0 L311.8,737.0 L312.0,733.9 L312.1,730.9 L312.3,727.8 L312.4,724.7 L312.6,721.6 L312.7,718.4 L312.9,715.3 L313.0,712.1 L313.2,709.0 L313.3,705.8 L313.5,702.7 L313.6,699.5 L313.7,696.4 L313.9,693.2 L314.0,690.1 L314.2,687.1 L314.3,684.0 L314.5,680.9 L314.6,677.9 L314.8,674.9 L314.9,672.0 L315.1,669.1 L315.2,666.2 L315.4,663.4 L315.5,660.6 L315.7,657.9 L315.9,655.2 L316.0,652.6 L316.2,650.0 L316.5,646.3 L316.7,642.8 L317.0,639.5 L317.2,636.4 L317.5,633.4 L317.7,630.4 L318.0,627.6 L318.3,624.9 L318.5,622.1 L318.8,619.4 L319.1,616.7 L319.4,614.0 L319.6,611.2 L319.9,608.3 L320.2,605.3 L320.5,602.2 L320.8,598.9 L321.1,595.5 L321.4,591.9 L321.7,588.0 L321.9,585.5 L322.1,582.8 L322.3,580.1 L322.5,577.2 L322.7,574.3 L322.9,571.3 L323.1,568.2 L323.4,565.1 L323.6,561.9 L323.8,558.7 L324.0,555.4 L324.2,552.1 L324.5,548.8 L324.7,545.5 L324.9,542.1 L325.1,538.8 L325.4,535.4 L325.6,532.1 L325.8,528.8 L326.0,525.5 L326.3,522.2 L326.5,519.0 L326.7,515.9 L326.9,512.8 L327.1,509.7 L327.3,506.8 L327.5,503.9 L327.7,501.1 L327.9,498.4 L328.1,495.8 L328.3,493.4 L328.5,491.0 L328.9,486.6 L329.2,482.5 L329.5,478.6 L329.8,475.1 L330.1,471.7 L330.3,468.6 L330.6,465.6 L330.9,462.8 L331.2,460.0 L331.4,457.3 L331.7,454.7 L332.0,452.0 L332.3,449.3 L332.7,446.6 L333.0,443.8 L333.4,440.8 L333.8,437.6 L334.3,434.3 L334.8,431.1 L335.2,427.9 L335.7,424.7 L336.3,421.5 L336.8,418.3 L337.3,415.1 L337.9,412.0 L338.4,408.9 L339.0,405.8 L339.5,402.8 L340.1,399.8 L340.6,396.9 L341.2,394.0 L341.8,390.7 L342.5,387.6 L343.1,384.5 L343.7,381.4 L344.4,378.4 L345.0,375.4 L345.7,372.5 L346.4,369.6 L347.1,366.7 L347.8,363.8 L348.5,360.9 L349.2,358.0 L350.0,355.0 L350.8,352.0 L351.6,349.1 L352.3,346.1 L353.1,343.1 L353.9,340.2 L354.7,337.2 L355.6,334.3 L356.4,331.3 L357.4,328.4 L358.3,325.4 L359.4,322.4 L360.4,319.5 L361.6,316.5 L362.7,313.7 L364.0,310.8 L365.2,307.9 L366.6,304.9 L368.0,301.9 L369.4,298.9 L370.8,295.9 L372.3,293.0 L373.8,290.2 L375.2,287.4 L376.7,284.8 L378.2,282.2 L379.6,279.9 L381.0,277.7 L383.1,274.6 L385.1,272.0 L387.0,269.6 L389.0,267.4 L391.0,265.4 L393.1,263.5 L395.3,261.7 L397.7,259.9 L400.4,258.0 L402.8,256.4 L405.3,254.9 L407.9,253.4 L410.6,251.9 L413.4,250.5 L416.3,249.1 L419.2,247.7 L422.2,246.4 L425.3,245.1 L428.4,243.9 L431.5,242.7 L434.3,241.6 L437.0,240.6 L439.7,239.7 L442.3,238.8 L445.1,237.9 L447.9,237.0 L450.8,236.2" fill="none" stroke="#000" stroke-width="14" stroke-linejoin="round" stroke-linecap="round"/>
<path d="M303.7,899.0 L305.3,896.0 L302.6,892.9 L304.8,890.0 L304.2,887.0 L305.7,884.0 L304.3,881.0 L306.0,878.0 L303.9,874.9 L306.5,872.1 L304.9,869.0 L304.4,865.9 L305.0,863.0 L306.1,860.0 L304.4,856.9 L305.6,854.0 L304.7,850.9 L305.0,847.9 L305.4,844.9 L305.8,842.0 L306.1,839.0 L307.7,836.0 L306.8,833.0 L308.3,830.1 L308.5,827.1 L308.7,824.1 L309.0,821.1 L308.0,818.0 L308.5,815.0 L309.2,812.1 L308.4,809.0 L307.3,805.9 L308.6,803.0 L308.8,800.0 L307.9,797.0 L307.8,793.9 L308.2,791.0 L309.9,788.0 L310.4,785.0 L310.1,782.0 L309.5,779.0 L308.5,775.9 L308.6,772.9 L310.7,770.0 L310.4,767.0 L310.4,764.0 L309.7,761.0 L309.7,757.9 L310.0,755.0 L310.0,751.9 L311.5,749.0 L310.8,746.0 L311.7,743.0 L311.5,740.0 L312.0,737.0 L312.7,734.0 L313.0,730.9 L311.2,727.7 L313.8,724.7 L313.6,721.6 L313.7,718.5 L312.7,715.3 L314.4,712.2 L314.1,709.0 L312.5,705.8 L314.0,702.7 L314.6,699.6 L314.5,696.4 L315.1,693.3 L314.1,690.1 L314.7,687.1 L313.1,683.9 L315.0,681.0 L313.6,677.9 L315.4,675.0 L316.1,672.1 L314.7,669.1 L313.9,666.1 L314.0,663.3 L315.6,660.6 L314.7,657.8 L316.6,655.2 L316.4,652.6 L316.2,650.0 L317.0,646.3 L315.7,642.7 L316.8,639.5 L315.9,636.3 L317.6,633.4 L318.6,630.5 L317.0,627.5 L318.8,624.9 L320.0,622.3 L318.3,619.4 L318.2,616.6 L318.6,613.9 L320.6,611.3 L318.7,608.2 L321.0,605.4 L319.8,602.1 L321.6,599.0 L322.2,595.6 L322.4,591.9 L320.8,587.9 L322.0,585.5 L321.5,582.8 L323.4,580.1 L321.9,577.2 L321.7,574.2 L322.6,571.3 L321.9,568.2 L322.5,565.1 L324.2,562.0 L323.3,558.7 L323.1,555.4 L325.5,552.2 L323.7,548.8 L325.6,545.5 L325.5,542.2 L325.3,538.8 L325.8,535.4 L325.8,532.1 L326.8,528.8 L326.6,525.5 L325.6,522.2 L326.9,519.1 L326.7,515.9 L328.2,512.9 L326.0,509.7 L327.2,506.8 L328.9,504.0 L326.4,501.0 L328.6,498.5 L329.3,495.9 L328.6,493.4 L327.2,490.9 L329.7,486.6 L328.5,482.4 L329.5,478.6 L330.7,475.2 L329.5,471.7 L329.6,468.5 L329.5,465.5 L330.4,462.7 L330.0,459.9 L332.0,457.4 L332.7,454.8 L330.7,451.9 L332.4,449.3 L333.5,446.7 L333.8,443.9 L332.7,440.7 L333.9,437.6 L334.8,434.4 L334.8,431.1 L336.7,428.1 L337.0,424.9 L337.6,421.7 L335.7,418.1 L335.9,414.9 L338.1,412.0 L338.7,408.9 L338.3,405.7 L338.8,402.7 L340.9,400.0 L341.5,397.1 L339.8,393.7 L340.7,390.5 L343.1,387.7 L342.9,384.4 L342.7,381.2 L345.7,378.7 L344.5,375.3 L344.5,372.2 L346.1,369.5 L346.8,366.6 L348.2,363.9 L349.3,361.1 L348.0,357.6 L349.9,355.0 L351.9,352.3 L351.5,349.0 L353.5,346.4 L354.3,343.4 L354.8,340.4 L355.2,337.3 L354.4,333.9 L357.8,331.7 L356.8,328.2 L357.8,325.2 L359.4,322.4 L360.5,319.5 L362.4,316.8 L362.9,313.7 L365.1,311.3 L366.0,308.2 L367.0,305.1 L367.3,301.6 L369.7,299.1 L370.8,295.9 L373.0,293.4 L373.2,289.8 L376.0,287.8 L377.3,285.1 L377.3,281.8 L380.7,280.6 L381.0,277.7 L382.9,274.5 L384.7,271.7 L386.8,269.3 L389.6,268.0 L391.8,266.3 L393.0,263.5 L395.4,261.8 L397.7,259.8 L399.8,257.1 L403.4,257.4 L405.1,254.7 L407.2,252.1 L410.2,251.2 L413.1,250.0 L416.6,249.9 L418.8,246.9 L421.8,245.5 L425.8,246.3 L428.2,243.4 L432.0,243.9 L433.8,240.3 L436.6,239.5 L439.4,238.9 L442.2,238.5 L445.1,238.0 L447.7,236.5 L450.8,236.2" fill="none" stroke="#000" stroke-width="8" stroke-linejoin="round" stroke-linecap="round"/>
<path d="M369.4,298.9 L370.8,295.9 L372.3,293.0 L373.8,290.2 L375.2,287.4 L376.7,284.8 L378.2,282.2 L379.6,279.9 L381.0,277.7 L383.1,274.6 L385.1,272.0 L387.0,269.6 L389.0,267.4 L391.0,265.4 L393.1,263.5 L395.3,261.7 L397.7,259.9 L400.4,258.0 L402.8,256.4 L405.3,254.9 L407.9,253.4 L410.6,251.9 L413.4,250.5 L416.3,249.1 L419.2,247.7 L422.2,246.4 L425.3,245.1 L428.4,243.9 L431.5,242.7 L434.3,241.6 L437.0,240.6 L439.7,239.7 L442.3,238.8 L445.1,237.9 L447.9,237.0 L450.8,236.2 L453.9,235.3 L457.2,234.5 L460.8,233.7 L464.7,232.9 L469.0,232.0 L471.4,231.5 L473.9,231.1 L476.5,230.6 L479.2,230.2 L482.0,229.7 L484.9,229.2 L487.8,228.8" fill="none" stroke="#000" stroke-width="18" stroke-linejoin="round" stroke-linecap="round"/>
<path d="M369.4,298.9 L371.4,296.2 L374.4,294.1 L373.5,290.0 L376.3,288.0 L379.0,286.1 L378.3,282.3 L380.8,280.6 L382.1,278.5 L384.8,275.9 L382.9,270.3 L385.5,268.3 L391.1,269.4 L392.0,266.5 L392.1,262.4 L396.2,262.9 L396.6,258.3 L399.9,257.3 L402.6,256.1 L404.4,253.5 L406.8,251.5 L410.6,252.0 L413.8,251.3 L415.8,248.1 L419.6,248.6 L423.4,249.1 L424.3,242.7 L427.9,242.7 L430.6,240.4 L434.7,242.6 L436.8,240.1 L439.6,239.3 L441.9,237.3 L445.6,239.5 L448.3,238.5 L450.7,235.9 L454.4,237.2 L456.9,232.9 L460.6,232.8 L465.3,235.5 L468.7,230.4 L471.0,229.4 L473.4,228.3 L476.7,231.7 L479.5,232.1 L481.5,227.1 L484.8,229.1 L487.8,228.8" fill="none" stroke="#000" stroke-width="8" stroke-linejoin="round" stroke-linecap="round"/>
<path d="M369.4,298.9 L373.0,297.0 L370.3,292.0 L374.0,290.3 L375.1,287.4 L379.1,286.1 L377.5,281.9 L379.3,279.7 L381.4,278.0 L382.5,274.2 L387.0,273.5 L388.8,271.0 L390.0,268.3 L389.1,263.5 L395.0,265.8 L395.5,261.9 L398.1,260.4 L400.5,258.2 L402.8,256.5 L406.6,257.1 L407.2,252.2 L409.6,250.0 L414.7,253.2 L415.7,247.8 L418.7,246.5 L422.1,246.1 L426.2,247.3 L428.1,243.2 L430.5,240.0 L433.8,240.3 L436.5,239.1 L438.7,237.0 L443.1,241.0 L445.5,239.2 L447.2,234.9 L450.4,234.7 L454.6,238.1 L457.5,235.7 L460.8,233.4 L464.8,233.3 L469.6,234.8 L471.1,230.0 L474.0,231.9 L476.0,227.8 L479.2,230.1 L481.7,228.1 L484.7,228.3 L487.8,228.8" fill="none" stroke="#000" stroke-width="8" stroke-linejoin="round" stroke-linecap="round"/>
<path d="M460.8,233.7 L464.7,232.9 L469.0,232.0 L471.4,231.5 L473.9,231.1 L476.5,230.6 L479.2,230.2 L482.0,229.7 L484.9,229.2 L487.8,228.8 L490.8,228.3 L493.9,227.8 L497.0,227.4 L500.2,226.9 L503.4,226.5 L506.6,226.0 L509.8,225.6 L513.1,225.2 L516.3,224.7 L519.6,224.3 L522.8,223.9 L526.0,223.5 L529.2,223.1 L532.4,222.7 L535.5,222.4 L538.5,222.0 L541.5,221.7 L544.5,221.3 L547.5,221.0 L550.6,220.7 L553.6,220.5 L556.6,220.2 L559.6,219.9 L562.6,219.7 L565.6,219.5 L568.6,219.2 L571.7,219.0 L574.7,218.8 L577.7,218.5 L580.7,218.3 L583.7,218.1 L586.7,217.8 L589.7,217.6 L592.7,217.4 L595.8,217.1 L598.8,216.9 L601.8,216.6 L604.8,216.3 L607.8,216.0 L610.8,215.7 L613.8,215.4 L616.8,215.0 L619.8,214.7 L622.8,214.4 L625.9,214.0 L628.9,213.6 L631.9,213.3 L634.9,212.9 L637.9,212.6 L640.9,212.2 L643.9,211.8 L646.9,211.4 L649.9,211.1 L652.9,210.7 L655.9,210.4 L658.9,210.0 L662.0,209.6 L665.0,209.3 L668.0,209.0 L671.0,208.6 L674.0,208.3 L677.0,208.0 L680.0,207.7 L683.1,207.4 L686.1,207.1 L689.2,206.8 L692.3,206.5 L695.5,206.2 L698.6,206.0 L701.7,205.7 L704.8,205.4 L708.0,205.1 L711.1,204.9 L714.2,204.6 L717.2,204.4 L720.3,204.1 L723.3,203.9 L726.4,203.6 L729.3,203.4 L732.3,203.1 L735.2,202.9 L738.0,202.7 L740.8,202.4 L743.6,202.2 L746.3,202.0 L749.8,201.7 L753.0,201.5 L756.1,201.2 L758.9,201.0 L761.7,200.8 L764.4,200.5 L767.0,200.3 L769.7,200.1 L772.3,199.9 L775.1,199.7 L778.0,199.5 L781.0,199.3 L784.2,199.1 L787.7,198.8 L791.5,198.6 L795.6,198.3 L800.0,198.0 L802.4,197.8 L804.8,197.7 L807.3,197.5 L809.9,197.3 L812.6,197.2 L815.3,197.0 L818.1,196.8 L821.0,196.6 L823.9,196.4 L826.9,196.2 L829.9,196.0 L833.0,195.9 L836.1,195.7 L839.2,195.5 L842.4,195.3 L845.6,195.0 L848.9,194.8 L852.1,194.6 L855.4,194.4 L858.7,194.2 L862.0,194.0 L865.3,193.8 L868.6,193.6 L871.9,193.4 L875.2,193.2 L878.5,193.0 L881.7,192.8 L885.0,192.6 L888.2,192.4 L891.5,192.2 L894.6,192.0 L897.8,191.9 L900.9,191.7 L904.0,191.5 L907.1,191.3 L910.1,191.1 L913.2,191.0 L916.2,190.8 L919.3,190.6 L922.4,190.4 L925.4,190.3 L928.5,190.1 L931.5,189.9 L934.6,189.7 L937.6,189.5 L940.7,189.4 L943.8,189.2 L946.8,189.0 L949.9,188.8 L952.9,188.7 L956.0,188.5 L959.1,188.3 L962.1,188.2 L965.2,188.0 L968.2,187.8 L971.3,187.7 L974.4,187.5 L977.4,187.4 L980.5,187.2 L983.5,187.1 L986.6,186.9 L989.6,186.8 L992.7,186.6 L995.8,186.5 L998.8,186.4 L1001.9,186.2 L1004.9,186.1 L1008.0,186.0 L1011.1,185.9 L1014.1,185.8 L1017.2,185.7 L1020.3,185.6 L1023.4,185.5 L1026.6,185.4 L1029.7,185.3 L1032.8,185.2 L1035.9,185.1 L1039.1,185.0 L1042.2,185.0 L1045.4,184.9 L1048.5,184.8 L1051.6,184.8 L1054.8,184.7 L1057.9,184.6 L1061.0,184.6 L1064.1,184.5 L1067.2,184.4 L1070.3,184.4 L1073.4,184.3 L1076.5,184.3 L1079.5,184.2 L1082.6,184.1 L1085.6,184.1 L1088.6,184.0 L1091.6,184.0 L1094.6,183.9 L1097.6,183.8 L1100.5,183.8 L1103.4,183.7 L1106.3,183.6 L1109.2,183.6 L1112.0,183.5 L1115.3,183.4 L1118.5,183.3 L1121.7,183.2 L1124.8,183.2 L1127.9,183.1 L1131.0,183.0 L1134.0,182.9 L1137.0,182.8 L1140.0,182.7 L1142.9,182.7 L1145.8,182.6 L1148.7,182.5 L1151.7,182.4 L1154.6,182.3 L1157.4,182.2 L1160.3,182.2 L1163.3,182.1 L1166.2,182.0 L1169.1,181.9 L1172.0,181.8 L1175.0,181.7 L1178.0,181.6 L1181.0,181.5 L1184.1,181.5 L1187.2,181.4 L1190.3,181.3 L1193.5,181.2 L1196.7,181.1 L1200.0,181.0 L1202.8,180.9 L1205.7,180.8 L1208.6,180.7 L1211.5,180.7 L1214.4,180.6 L1217.4,180.5 L1220.4,180.4 L1223.4,180.3 L1226.4,180.2 L1229.4,180.1 L1232.5,180.0 L1235.5,179.9 L1238.6,179.8 L1241.7,179.7 L1244.8,179.6 L1247.9,179.5 L1251.0,179.4 L1254.1,179.3 L1257.2,179.2 L1260.4,179.2 L1263.5,179.1 L1266.6,179.0 L1269.8,178.9 L1272.9,178.8 L1276.1,178.7 L1279.2,178.6 L1282.3,178.5 L1285.4,178.4 L1288.6,178.4 L1291.7,178.3 L1294.8,178.2 L1297.9,178.1 L1300.9,178.1 L1304.0,178.0 L1307.1,177.9 L1310.1,177.9 L1313.2,177.8 L1316.2,177.8 L1319.3,177.7 L1322.4,177.7 L1325.4,177.6 L1328.5,177.6 L1331.5,177.5 L1334.6,177.5 L1337.6,177.5 L1340.7,177.4 L1343.8,177.4 L1346.8,177.4 L1349.9,177.3 L1352.9,177.3 L1356.0,177.2 L1359.1,177.2 L1362.1,177.2 L1365.2,177.1 L1368.2,177.1 L1371.3,177.1 L1374.4,177.0 L1377.4,177.0 L1380.5,177.0 L1383.5,176.9 L1386.6,176.9 L1389.6,176.8 L1392.7,176.8 L1395.8,176.7 L1398.8,176.7 L1401.9,176.6 L1404.9,176.6 L1408.0,176.5 L1411.1,176.4 L1414.1,176.4 L1417.2,176.3 L1420.3,176.2 L1423.4,176.1 L1426.6,176.1 L1429.7,176.0 L1432.8,175.9 L1435.9,175.8 L1439.1,175.7 L1442.2,175.6 L1445.4,175.5 L1448.5,175.4 L1451.6,175.3 L1454.8,175.3 L1457.9,175.2 L1461.0,175.1 L1464.1,175.0 L1467.2,174.9 L1470.3,174.8 L1473.4,174.7 L1476.5,174.6 L1479.5,174.5 L1482.6,174.4 L1485.6,174.3 L1488.6,174.2 L1491.6,174.1 L1494.6,174.0 L1497.6,173.9 L1500.5,173.8 L1503.4,173.8 L1506.3,173.7 L1509.2,173.6 L1512.0,173.5 L1515.3,173.4 L1518.6,173.3 L1521.9,173.2 L1525.1,173.1 L1528.3,173.0 L1531.5,172.9 L1534.7,172.8 L1537.9,172.7 L1541.1,172.6 L1544.2,172.4 L1547.3,172.3 L1550.4,172.2 L1553.5,172.1 L1556.5,172.0 L1559.6,171.9 L1562.6,171.8 L1565.6,171.7 L1568.6,171.6 L1571.5,171.5 L1574.5,171.5 L1577.4,171.4 L1580.3,171.3 L1583.2,171.2 L1586.0,171.2 L1588.9,171.1 L1591.7,171.1 L1594.5,171.1 L1597.2,171.0 L1600.0,171.0 L1603.4,171.0 L1606.8,171.0 L1610.1,171.0 L1613.4,171.0 L1616.6,171.0 L1619.7,171.1 L1622.9,171.1 L1626.0,171.2 L1629.0,171.2 L1632.1,171.3 L1635.1,171.4 L1638.1,171.4 L1641.0,171.5 L1644.0,171.6 L1647.0,171.7 L1649.9,171.8 L1652.9,171.9 L1655.9,172.0 L1658.9,172.1 L1661.9,172.2 L1664.9,172.3 L1667.9,172.4 L1671.0,172.5 L1674.1,172.6 L1677.3,172.7 L1680.5,172.8 L1683.8,173.0 L1687.0,173.1 L1690.4,173.2 L1693.7,173.4 L1697.0,173.5 L1700.3,173.7 L1703.6,173.8 L1706.9,174.0 L1710.2,174.1 L1713.4,174.3 L1716.6,174.4 L1719.7,174.6 L1722.8,174.7 L1725.8,174.9 L1728.8,175.0 L1731.6,175.2 L1734.4,175.3 L1737.0,175.4 L1739.6,175.6 L1742.0,175.7 L1746.4,175.9 L1750.5,176.1 L1754.2,176.3 L1757.8,176.4 L1761.1,176.5 L1764.2,176.7 L1767.1,176.8 L1769.9,177.0 L1772.5,177.2 L1775.1,177.4 L1777.6,177.7 L1780.0,178.0 L1784.4,178.7 L1788.0,179.6 L1791.1,180.5 L1794.0,181.6 L1796.9,182.7 L1800.0,183.8 L1802.8,184.8 L1805.7,186.0 L1808.5,187.2 L1811.3,188.4 L1814.1,189.6 L1817.0,190.7 L1819.8,191.8 L1823.1,192.9 L1826.5,193.9 L1829.8,194.8 L1833.1,195.7 L1836.5,196.7 L1839.8,197.8 L1842.6,198.8 L1845.5,199.7 L1848.3,200.7 L1851.2,201.8 L1854.0,202.9 L1856.9,204.2 L1859.7,205.7" fill="none" stroke="#000" stroke-width="23" stroke-linejoin="round" stroke-linecap="round"/>
<path d="M460.8,233.7 L462.9,224.0 L470.9,241.7 L470.0,224.0 L474.8,236.3 L477.8,238.0 L480.1,235.5 L481.3,225.4 L484.3,226.0 L488.6,233.6 L492.4,238.4 L494.4,231.4 L497.1,228.3 L499.8,224.5 L503.1,224.4 L507.2,230.8 L509.6,224.0 L513.2,225.9 L516.7,227.6 L520.0,227.2 L521.5,213.9 L525.3,217.6 L529.8,227.6 L532.5,224.3 L536.3,229.7 L537.4,212.2 L540.9,215.8 L544.5,221.4 L548.1,226.4 L549.9,214.1 L554.1,226.3 L556.4,218.2 L559.3,215.7 L563.2,226.9 L565.0,210.8 L569.4,228.7 L571.3,214.8 L574.4,215.7 L577.2,212.0 L580.6,217.6 L584.3,225.6 L586.2,211.7 L589.8,218.8 L592.6,216.1 L595.4,212.8 L598.1,208.7 L602.2,220.9 L604.6,214.4 L607.7,215.3 L611.0,217.9 L612.9,206.8 L617.6,222.0 L620.8,223.2 L622.2,209.0 L626.7,220.9 L629.4,218.0 L631.3,208.9 L634.3,207.9 L636.8,203.5 L640.7,210.3 L643.8,210.7 L646.9,211.2 L649.9,210.7 L653.1,211.8 L655.0,202.2 L658.2,204.0 L662.1,210.9 L664.9,208.7 L667.2,201.8 L670.5,203.7 L675.1,218.8 L677.7,214.5 L680.5,212.7 L682.8,204.2 L686.0,205.3 L689.7,211.3 L692.5,207.9 L695.7,209.3 L697.7,195.8 L702.1,210.3 L704.3,198.8 L707.6,201.4 L711.1,205.6 L715.0,214.5 L717.1,202.3 L720.6,207.3 L722.8,197.5 L727.1,213.3 L728.9,197.8 L732.3,204.0 L735.5,206.9 L738.4,207.0 L740.7,201.2 L743.9,205.4 L745.4,191.3 L750.6,212.4 L753.1,202.7 L756.2,203.3 L758.5,195.6 L761.7,200.3 L764.6,203.7 L766.9,198.4 L769.0,191.8 L771.8,193.3 L775.7,207.9 L777.5,193.1 L781.0,199.6 L784.6,203.7 L787.3,192.7 L791.9,205.3 L795.5,197.8 L800.7,207.8 L801.9,191.4 L804.7,196.0 L807.1,194.5 L809.6,192.4 L812.5,195.5 L815.2,195.4 L818.0,194.5 L821.5,204.7 L823.7,192.6 L826.3,186.5 L830.3,201.5 L832.9,194.4 L835.4,185.2 L839.6,201.0 L842.7,200.2 L845.8,198.4 L849.3,201.9 L851.8,189.6 L855.8,201.9 L858.5,191.2 L862.5,201.9 L865.9,204.8 L868.6,194.8 L871.8,191.7 L875.5,198.4 L878.8,197.8 L881.7,192.9 L884.5,183.4 L888.1,189.3 L891.7,196.2 L894.0,181.4 L897.7,189.9 L901.5,200.8 L904.3,196.2 L906.8,186.1 L909.7,183.1 L913.3,192.5 L916.4,193.3 L919.0,185.9 L922.4,190.8 L926.0,201.1 L928.7,193.4 L931.6,190.8 L934.0,180.1 L937.6,189.0 L940.1,178.9 L944.3,199.4 L946.8,189.4 L950.0,191.1 L953.2,192.6 L955.4,178.4 L959.4,195.4 L962.4,192.5 L964.7,178.6 L968.7,196.9 L971.7,195.7 L974.9,198.3 L977.0,178.4 L980.9,196.3 L983.8,193.2 L986.3,181.5 L989.2,177.5 L992.9,190.5 L995.3,176.9 L998.9,187.4 L1002.2,193.0 L1004.9,183.8 L1007.9,182.3 L1011.0,184.1 L1013.8,177.3 L1016.9,176.0 L1020.4,187.0 L1023.7,192.5 L1026.9,196.2 L1029.4,176.6 L1032.7,180.9 L1036.1,192.1 L1039.0,180.5 L1042.4,190.9 L1045.6,194.6 L1048.7,192.7 L1051.7,187.5 L1054.9,189.7 L1058.0,192.5 L1060.8,176.7 L1064.0,180.9 L1067.3,189.6 L1070.3,183.9 L1073.5,190.2 L1076.7,194.7 L1079.6,189.1 L1082.6,186.1 L1085.7,189.0 L1088.8,193.4 L1091.4,175.1 L1094.4,173.9 L1097.7,190.3 L1100.7,191.5 L1103.5,187.2 L1106.3,182.7 L1109.0,178.5 L1112.3,194.1 L1115.4,187.9 L1118.8,194.0 L1121.8,186.8 L1125.0,191.0 L1127.8,177.2 L1131.1,187.9 L1133.8,174.0 L1136.9,179.0 L1139.9,181.6 L1142.9,183.2 L1146.1,193.4 L1148.8,185.3 L1151.4,173.8 L1154.7,188.9 L1157.6,188.0 L1160.6,189.4 L1163.5,191.6 L1166.3,188.2 L1169.1,182.3 L1172.1,185.4 L1174.7,171.9 L1177.9,178.9 L1181.0,179.5 L1184.2,186.7 L1186.9,171.7 L1190.1,174.8 L1193.3,175.5 L1196.5,174.5 L1200.0,180.4 L1203.2,191.8 L1205.6,177.1 L1208.3,171.2 L1211.2,170.1 L1214.6,186.0 L1217.3,178.1 L1220.7,191.1 L1223.2,174.8 L1226.7,190.6 L1229.3,176.0 L1232.8,190.5 L1235.8,189.4 L1238.5,177.6 L1241.4,170.7 L1244.9,182.3 L1247.9,181.4 L1251.1,182.4 L1253.9,171.5 L1257.5,186.7 L1260.3,175.7 L1263.4,175.0 L1266.4,169.6 L1269.5,168.3 L1272.9,177.7 L1275.8,170.6 L1279.1,174.4 L1282.5,183.8 L1285.6,184.0 L1288.5,177.2 L1291.5,172.2 L1294.8,181.0 L1297.8,175.6 L1301.2,188.7 L1304.1,183.8 L1307.2,185.8 L1310.0,172.8 L1313.3,183.7 L1316.2,176.1 L1319.2,172.3 L1322.2,169.2 L1325.4,177.9 L1328.5,180.9 L1331.5,172.2 L1334.5,168.6 L1337.7,179.4 L1340.7,178.0 L1343.8,182.3 L1346.9,185.4 L1349.8,170.0 L1353.1,187.7 L1355.9,172.6 L1359.1,182.6 L1362.1,171.3 L1365.2,182.9 L1368.2,173.8 L1371.3,177.6 L1374.5,185.4 L1377.5,182.8 L1380.5,182.7 L1383.7,186.1 L1386.6,174.9 L1389.6,171.4 L1392.8,184.0 L1395.8,178.6 L1398.7,171.7 L1402.1,187.2 L1405.1,185.2 L1408.1,183.1 L1411.0,175.6 L1414.3,183.1 L1417.2,174.1 L1420.2,171.6 L1423.6,183.1 L1426.6,178.4 L1429.8,181.3 L1432.6,166.6 L1436.0,176.3 L1439.0,173.9 L1441.9,165.5 L1445.6,183.1 L1448.5,174.4 L1451.6,174.9 L1454.8,177.0 L1458.0,177.8 L1460.7,166.8 L1463.9,168.3 L1466.9,166.0 L1470.4,177.8 L1473.2,167.4 L1476.6,178.9 L1479.7,180.9 L1482.8,179.9 L1485.9,184.9 L1488.6,174.6 L1491.7,175.0 L1494.7,175.7 L1497.6,176.2 L1500.5,174.3 L1503.3,168.5 L1506.4,178.1 L1509.3,179.4 L1511.9,170.1 L1515.0,164.6 L1518.6,175.2 L1521.7,167.7 L1525.0,169.3 L1528.6,181.3 L1531.8,179.4 L1535.1,182.7 L1538.0,174.5 L1541.2,177.5 L1544.0,166.9 L1547.4,175.1 L1550.4,173.3 L1553.3,165.5 L1556.6,175.0 L1559.7,175.0 L1562.4,164.8 L1565.8,177.9 L1568.4,166.7 L1571.8,180.1 L1574.3,166.6 L1577.6,179.9 L1580.4,176.8 L1583.1,167.0 L1585.9,163.7 L1588.9,171.3 L1591.6,168.2 L1594.5,173.4 L1597.2,170.9 L1599.9,160.7 L1603.4,166.4 L1606.8,171.9 L1610.1,175.2 L1613.4,165.5 L1616.6,172.1 L1619.8,164.4 L1622.8,176.6 L1625.9,174.0 L1629.1,166.9 L1632.2,163.2 L1634.8,182.0 L1638.2,164.3 L1641.0,173.0 L1644.2,164.0 L1647.1,166.8 L1650.2,164.9 L1652.6,180.0 L1655.9,172.3 L1659.2,163.4 L1662.2,162.0 L1664.8,174.5 L1668.1,166.7 L1670.8,178.5 L1674.0,175.0 L1677.2,176.4 L1680.8,165.7 L1684.0,166.8 L1686.8,179.4 L1689.9,183.9 L1693.7,172.8 L1697.0,172.8 L1700.3,173.4 L1704.0,165.2 L1707.3,166.8 L1710.6,165.2 L1713.8,165.5 L1716.8,171.2 L1720.1,167.3 L1722.3,184.8 L1725.5,181.2 L1728.3,185.3 L1732.1,164.7 L1734.0,182.2 L1736.7,181.3 L1739.3,180.4 L1742.5,165.9 L1745.9,186.2 L1750.0,186.8 L1754.1,179.2 L1757.6,181.0 L1761.4,170.0 L1763.8,184.2 L1767.6,167.8 L1769.7,179.5 L1771.9,185.7 L1775.5,173.3 L1777.7,176.7 L1779.5,181.5 L1786.5,168.3 L1789.7,173.1 L1789.1,186.6 L1790.6,191.0 L1799.7,175.1 L1802.6,176.7 L1806.5,175.5 L1803.5,191.1 L1804.3,196.9 L1815.4,179.0 L1811.9,195.1 L1816.5,192.0 L1821.8,186.2 L1821.9,196.7 L1826.5,193.6 L1831.5,188.7 L1834.8,190.0 L1838.0,191.7 L1842.6,189.5 L1843.5,196.2 L1844.2,203.6 L1851.4,192.1 L1851.2,201.7 L1850.2,211.7 L1857.5,203.0 L1859.7,205.7" fill="none" stroke="#000" stroke-width="8" stroke-linejoin="round" stroke-linecap="round"/>
<path d="M460.8,233.7 L466.8,242.9 L469.3,233.3 L471.3,231.0 L474.0,231.6 L477.5,236.4 L481.0,240.8 L481.7,228.0 L483.9,223.4 L487.4,226.1 L489.4,218.9 L494.3,231.0 L498.6,238.1 L499.3,220.6 L504.2,232.1 L505.7,219.7 L511.1,235.0 L513.2,226.4 L516.0,222.2 L518.3,214.1 L521.9,216.4 L527.1,232.3 L528.4,216.3 L532.7,225.2 L535.6,223.6 L538.4,220.8 L542.0,226.3 L543.7,213.1 L547.9,224.8 L549.7,211.2 L553.0,214.2 L556.9,224.0 L559.0,213.1 L562.0,211.7 L565.6,219.4 L568.9,222.3 L570.8,208.1 L575.0,222.6 L577.8,220.4 L579.9,207.4 L583.8,219.6 L585.9,206.9 L589.8,218.8 L592.9,219.8 L595.5,214.6 L598.5,213.8 L602.4,223.0 L604.1,209.6 L607.7,215.2 L610.8,215.7 L612.7,205.4 L617.8,223.8 L619.0,207.7 L623.6,220.7 L625.8,213.3 L627.6,202.9 L631.4,209.0 L635.1,214.7 L637.8,211.7 L642.0,221.2 L642.6,201.5 L647.8,218.6 L650.9,219.0 L652.0,203.3 L656.0,210.5 L657.8,200.1 L662.2,211.4 L665.4,213.5 L667.5,204.3 L671.7,214.9 L673.4,202.7 L676.0,198.3 L680.0,207.3 L683.6,212.8 L685.7,202.7 L688.7,200.6 L692.7,209.9 L695.8,209.9 L697.9,197.9 L701.1,198.3 L705.1,208.1 L708.5,211.5 L710.4,197.1 L714.4,207.7 L717.5,207.9 L719.5,194.1 L723.7,207.8 L726.3,203.3 L728.6,194.8 L731.6,195.1 L734.7,197.6 L738.4,207.2 L740.2,194.7 L743.7,204.0 L747.0,210.1 L749.9,203.2 L753.4,205.7 L755.4,192.8 L759.8,211.1 L762.5,210.6 L765.0,208.4 L766.6,194.5 L769.8,202.1 L772.7,205.4 L774.5,191.7 L777.4,191.4 L781.6,208.1 L784.3,200.4 L788.3,208.1 L791.4,196.8 L796.2,207.9 L800.3,202.7 L801.9,191.1 L804.4,191.9 L808.0,207.1 L809.4,188.7 L813.3,207.4 L815.5,200.1 L818.8,206.5 L820.6,189.9 L823.3,186.4 L827.5,205.8 L830.0,196.8 L832.7,191.1 L836.2,198.0 L838.7,187.6 L842.7,199.6 L845.8,197.9 L849.1,198.3 L851.9,191.9 L855.2,192.3 L858.3,188.6 L861.4,184.4 L865.3,194.1 L868.3,189.9 L871.7,190.8 L874.7,184.9 L878.8,198.8 L881.8,194.5 L884.5,183.8 L888.2,191.4 L891.4,190.7 L895.1,199.4 L897.6,188.8 L900.7,187.5 L904.0,192.2 L907.5,198.9 L909.5,180.6 L913.8,200.9 L915.7,181.6 L918.7,180.3 L922.0,185.2 L925.7,194.6 L929.0,198.7 L931.4,187.9 L934.1,181.7 L937.5,187.2 L940.5,185.4 L943.8,189.9 L946.3,180.4 L950.2,193.7 L953.4,196.5 L955.7,183.1 L959.0,187.2 L962.7,199.0 L964.9,181.9 L967.7,177.0 L971.5,191.6 L974.3,186.8 L977.3,185.7 L980.2,181.6 L983.7,189.7 L987.0,195.8 L989.9,193.1 L992.6,183.4 L995.5,179.6 L998.8,185.9 L1002.3,195.8 L1005.0,187.5 L1008.1,187.8 L1011.2,188.3 L1014.5,194.8 L1017.6,196.4 L1020.1,179.4 L1023.6,190.8 L1026.7,189.9 L1029.7,184.7 L1032.9,189.5 L1035.7,176.6 L1039.1,184.4 L1042.0,176.7 L1045.1,174.5 L1048.5,187.5 L1051.8,195.2 L1054.7,184.3 L1057.9,187.9 L1061.0,186.2 L1064.0,178.4 L1067.1,180.0 L1070.4,186.9 L1073.4,185.8 L1076.3,174.4 L1079.5,184.0 L1082.6,185.0 L1085.7,187.9 L1088.5,175.7 L1091.8,192.7 L1094.6,184.6 L1097.7,189.5 L1100.6,189.0 L1103.3,178.7 L1106.1,176.8 L1109.0,178.8 L1112.1,189.1 L1115.1,177.7 L1118.8,193.1 L1121.8,186.9 L1124.9,185.9 L1127.9,180.7 L1131.0,182.5 L1134.2,188.9 L1137.0,182.5 L1140.2,190.7 L1143.2,193.2 L1145.9,183.9 L1149.0,190.2 L1151.4,175.1 L1154.3,174.5 L1157.4,179.2 L1160.6,191.2 L1163.0,172.7 L1166.0,177.2 L1169.3,190.2 L1171.8,175.0 L1174.8,173.2 L1177.8,176.3 L1180.9,177.8 L1184.1,181.9 L1187.2,182.4 L1190.2,178.2 L1193.8,191.3 L1196.8,185.7 L1200.2,187.6 L1203.0,186.5 L1205.7,181.7 L1208.8,186.4 L1211.7,186.6 L1214.7,189.9 L1217.6,187.0 L1220.5,185.3 L1223.7,190.9 L1226.4,181.3 L1229.2,172.6 L1232.3,174.5 L1235.8,190.1 L1238.4,172.6 L1241.9,186.0 L1244.7,176.1 L1247.8,177.7 L1250.7,168.9 L1254.1,180.1 L1257.5,186.8 L1260.6,185.0 L1263.2,168.5 L1266.7,182.0 L1270.0,185.6 L1272.8,174.3 L1275.8,170.5 L1279.0,171.1 L1282.4,180.3 L1285.3,172.4 L1288.5,175.8 L1291.9,188.5 L1294.8,180.4 L1297.9,178.7 L1300.8,172.6 L1304.1,180.9 L1307.2,183.9 L1310.1,176.4 L1313.3,185.5 L1316.1,167.7 L1319.2,170.6 L1322.4,180.7 L1325.3,169.7 L1328.6,186.3 L1331.5,173.4 L1334.7,185.8 L1337.5,166.9 L1340.6,170.9 L1343.8,182.6 L1346.8,175.8 L1349.9,180.5 L1352.9,170.3 L1356.0,179.9 L1359.2,186.1 L1362.0,169.4 L1365.3,185.3 L1368.4,188.0 L1371.4,182.4 L1374.4,183.6 L1377.4,177.2 L1380.6,185.0 L1383.6,181.1 L1386.5,171.9 L1389.7,181.9 L1392.7,176.8 L1395.9,183.6 L1398.9,179.5 L1402.0,184.6 L1404.7,166.6 L1408.1,181.2 L1410.9,168.4 L1413.9,165.4 L1417.3,177.5 L1420.3,174.3 L1423.2,168.6 L1426.6,178.2 L1429.9,184.9 L1432.9,178.2 L1435.7,167.5 L1439.2,178.5 L1442.5,186.0 L1445.1,167.0 L1448.2,164.7 L1451.5,170.3 L1454.6,169.8 L1457.6,165.2 L1460.9,171.9 L1463.9,169.5 L1467.0,166.5 L1470.4,179.0 L1473.3,171.8 L1476.5,176.6 L1479.2,164.1 L1482.7,179.5 L1485.7,178.0 L1488.8,180.0 L1491.9,182.3 L1494.9,183.9 L1497.4,169.2 L1500.8,184.2 L1503.7,184.7 L1506.2,171.5 L1509.5,183.9 L1512.0,173.5 L1515.3,172.2 L1518.3,165.5 L1521.7,167.9 L1525.3,179.5 L1528.7,183.9 L1531.2,162.6 L1534.6,168.4 L1538.1,178.0 L1540.9,167.0 L1544.2,172.2 L1547.5,178.4 L1550.4,171.7 L1553.7,179.9 L1556.3,165.4 L1559.6,172.0 L1562.9,182.1 L1565.4,165.9 L1568.8,177.8 L1571.7,175.9 L1574.6,174.4 L1577.4,173.5 L1580.2,166.6 L1583.3,178.2 L1586.2,180.7 L1589.0,177.4 L1591.8,175.9 L1594.4,162.9 L1597.2,169.9 L1600.0,170.5 L1603.4,167.3 L1606.8,176.2 L1610.1,165.7 L1613.4,169.2 L1616.6,171.4 L1619.8,162.2 L1622.9,165.5 L1626.1,160.8 L1629.0,174.3 L1631.8,180.5 L1634.9,176.4 L1637.8,182.2 L1640.9,177.0 L1644.0,171.0 L1646.8,177.1 L1649.8,176.4 L1652.8,174.5 L1655.6,181.2 L1658.5,181.9 L1661.6,181.3 L1664.6,179.6 L1667.6,180.9 L1671.2,167.7 L1673.8,180.6 L1677.3,172.8 L1680.6,169.2 L1683.7,174.8 L1687.5,162.9 L1690.7,165.5 L1693.3,181.9 L1697.0,174.0 L1700.8,163.1 L1703.2,182.2 L1706.6,181.6 L1710.5,167.1 L1713.5,172.4 L1716.2,182.3 L1720.2,165.2 L1723.0,170.7 L1725.6,179.8 L1728.6,178.3 L1731.2,184.2 L1733.9,185.1 L1737.3,170.8 L1739.6,175.2 L1742.3,169.4 L1746.3,178.4 L1750.5,174.8 L1754.4,171.4 L1758.0,171.4 L1761.6,166.0 L1764.6,167.4 L1767.0,178.1 L1769.3,186.4 L1772.6,176.6 L1775.6,172.6 L1778.6,169.1 L1781.4,168.9 L1783.7,182.3 L1785.3,189.6 L1792.1,177.6 L1790.6,190.9 L1798.6,178.0 L1798.1,188.9 L1801.3,188.7 L1802.9,192.6 L1809.5,184.8 L1815.0,179.9 L1815.3,186.8 L1817.8,188.6 L1820.6,189.6 L1820.3,201.9 L1826.0,195.5 L1831.1,190.1 L1831.7,200.6 L1837.7,192.8 L1841.3,193.2 L1840.6,204.7 L1844.4,202.9 L1846.4,206.0 L1852.8,197.7 L1853.8,203.6 L1857.8,202.3 L1859.7,205.7" fill="none" stroke="#000" stroke-width="8" stroke-linejoin="round" stroke-linecap="round"/>
<path d="M460.8,233.7 L462.7,223.0 L469.4,233.9 L469.5,221.2 L473.9,231.4 L478.3,241.0 L478.4,225.6 L483.7,240.0 L485.3,232.2 L489.1,237.1 L489.2,217.9 L494.6,233.0 L497.1,227.8 L500.5,229.2 L503.0,223.8 L508.0,236.4 L510.3,229.0 L513.7,230.1 L516.9,228.7 L519.7,225.3 L523.7,230.7 L526.3,226.0 L529.4,224.5 L531.4,214.8 L535.6,223.6 L537.6,214.4 L541.7,223.5 L544.4,219.7 L548.1,226.8 L550.8,222.7 L553.3,217.5 L556.6,220.6 L559.1,213.8 L563.5,230.3 L566.3,227.2 L568.5,216.9 L571.2,212.8 L574.6,217.6 L577.9,221.6 L580.6,217.1 L584.5,227.8 L586.0,208.0 L589.5,214.1 L592.8,217.7 L594.9,207.2 L598.7,216.1 L601.9,218.2 L604.4,212.0 L608.9,226.8 L610.5,212.4 L613.5,212.5 L617.1,217.1 L619.3,209.6 L622.8,213.7 L625.0,206.5 L627.7,203.9 L632.4,217.3 L634.3,208.1 L637.0,205.1 L640.2,206.9 L643.7,210.0 L646.0,203.7 L650.4,215.3 L653.5,215.6 L657.2,220.6 L657.8,200.0 L661.5,205.6 L665.4,213.1 L668.8,216.5 L670.4,203.1 L674.8,216.3 L676.0,198.0 L680.1,208.7 L682.1,197.0 L685.4,199.6 L689.7,211.5 L692.2,205.4 L696.3,215.2 L699.4,215.6 L701.6,204.5 L704.9,206.1 L707.7,202.5 L710.4,197.6 L714.0,202.8 L717.8,210.9 L720.1,202.2 L723.9,210.5 L725.7,195.6 L728.6,194.8 L733.1,213.7 L734.7,197.0 L737.4,194.8 L741.5,210.9 L744.1,207.8 L747.0,210.4 L750.4,209.7 L752.4,193.2 L756.2,202.8 L759.2,204.1 L761.3,195.6 L764.6,202.8 L766.8,197.1 L769.3,196.2 L772.2,197.6 L775.2,200.9 L777.5,192.6 L781.4,204.5 L784.0,196.2 L787.6,196.6 L791.3,196.7 L795.7,199.7 L800.7,208.2 L802.9,206.3 L804.8,198.1 L806.8,189.2 L809.3,188.0 L813.1,204.8 L814.6,186.2 L817.8,191.8 L821.0,196.8 L823.2,185.6 L827.1,199.3 L830.5,204.6 L833.2,199.4 L836.4,200.1 L839.6,200.5 L842.6,198.2 L844.9,184.3 L848.2,184.6 L852.5,200.3 L855.7,200.1 L859.1,201.4 L862.3,199.1 L864.9,188.0 L867.9,183.1 L871.9,194.5 L874.6,183.2 L878.7,196.6 L881.5,188.6 L885.3,196.8 L888.6,197.9 L892.0,202.0 L894.7,192.4 L897.8,191.4 L900.5,184.6 L903.7,186.1 L906.5,181.4 L910.7,201.4 L912.7,183.3 L916.6,196.4 L918.7,180.1 L922.3,189.6 L925.0,183.4 L928.8,195.7 L931.0,181.6 L934.9,195.4 L938.0,196.2 L940.8,190.4 L943.8,190.0 L946.8,187.8 L950.1,193.2 L952.9,187.5 L956.5,196.7 L958.7,181.3 L961.7,179.8 L965.3,190.0 L967.9,181.0 L970.9,181.0 L974.5,190.4 L977.9,197.9 L980.1,179.3 L983.3,181.9 L986.3,181.4 L989.5,183.4 L992.8,189.7 L995.8,187.5 L998.6,180.3 L1002.3,195.3 L1004.7,179.0 L1007.8,182.0 L1011.4,194.1 L1014.3,191.1 L1017.4,189.8 L1020.1,179.6 L1023.3,179.3 L1026.7,189.5 L1029.6,180.7 L1032.6,178.8 L1036.0,185.7 L1039.1,184.9 L1042.2,182.4 L1045.5,193.2 L1048.4,180.2 L1051.8,194.9 L1054.7,181.5 L1057.7,174.1 L1060.9,182.0 L1064.0,179.1 L1067.1,175.8 L1070.2,180.7 L1073.4,182.1 L1076.4,178.9 L1079.6,188.8 L1082.8,194.8 L1085.4,175.3 L1088.5,176.1 L1091.6,180.3 L1094.8,191.9 L1097.5,180.4 L1100.6,189.0 L1103.3,179.2 L1106.1,177.4 L1108.9,174.1 L1111.8,175.1 L1115.3,183.1 L1118.6,187.4 L1121.8,187.6 L1124.6,175.0 L1127.8,177.2 L1131.1,188.1 L1134.2,190.5 L1137.1,185.6 L1139.8,176.6 L1143.1,187.9 L1146.1,192.4 L1148.5,172.4 L1151.7,184.5 L1154.3,175.2 L1157.6,188.6 L1160.5,187.5 L1163.3,184.4 L1166.4,189.3 L1169.1,183.6 L1172.3,192.1 L1175.0,182.5 L1177.7,172.3 L1180.9,178.2 L1183.9,175.3 L1187.3,185.8 L1190.1,173.5 L1193.4,178.6 L1196.4,170.2 L1200.3,191.4 L1202.9,183.8 L1205.8,185.7 L1208.7,185.5 L1211.6,184.4 L1214.1,170.5 L1217.2,174.4 L1220.2,175.3 L1223.5,185.6 L1226.2,172.8 L1229.2,174.2 L1232.3,174.8 L1235.5,179.0 L1238.4,172.5 L1241.6,176.8 L1245.1,189.2 L1248.1,185.0 L1250.7,170.5 L1254.3,185.9 L1257.4,183.2 L1260.6,185.2 L1263.4,174.5 L1266.9,186.8 L1270.1,188.5 L1272.8,175.9 L1276.0,176.3 L1279.1,176.3 L1282.6,187.5 L1285.3,173.0 L1288.3,167.6 L1291.4,169.2 L1294.6,170.1 L1297.6,167.4 L1300.7,169.5 L1304.0,178.8 L1306.9,170.8 L1310.3,186.5 L1313.2,179.3 L1316.2,173.8 L1319.3,177.9 L1322.3,173.5 L1325.5,181.8 L1328.6,185.2 L1331.5,175.7 L1334.7,185.8 L1337.7,184.2 L1340.8,182.6 L1343.9,186.2 L1346.9,180.8 L1349.8,168.8 L1353.0,185.3 L1356.1,184.5 L1359.0,170.0 L1362.1,175.9 L1365.2,177.3 L1368.3,185.4 L1371.2,170.1 L1374.4,181.5 L1377.4,174.0 L1380.6,186.8 L1383.4,169.6 L1386.5,172.2 L1389.8,184.1 L1392.6,167.9 L1395.7,173.2 L1399.0,185.9 L1401.7,169.0 L1405.2,187.2 L1407.8,167.1 L1411.1,177.8 L1414.1,176.5 L1417.5,186.7 L1420.3,174.0 L1423.4,174.9 L1426.6,179.2 L1429.7,175.3 L1432.7,172.4 L1436.1,181.4 L1438.9,168.4 L1442.1,173.0 L1445.4,175.7 L1448.3,170.0 L1451.5,172.2 L1454.6,170.8 L1458.2,184.1 L1460.7,164.1 L1463.9,167.1 L1467.1,170.2 L1470.1,166.3 L1473.7,184.5 L1476.8,185.5 L1479.8,184.3 L1482.3,164.9 L1485.9,182.7 L1488.9,184.0 L1491.8,179.7 L1494.9,183.3 L1497.5,171.6 L1500.6,178.3 L1503.6,181.7 L1506.4,175.4 L1508.9,163.6 L1511.8,168.0 L1515.0,164.8 L1518.7,175.6 L1521.7,169.0 L1525.2,177.3 L1528.5,178.7 L1531.5,172.1 L1534.4,162.2 L1538.0,176.9 L1541.4,182.9 L1544.2,172.9 L1547.6,179.4 L1550.5,176.3 L1553.7,178.0 L1556.4,167.8 L1559.8,179.6 L1562.6,170.8 L1565.6,171.3 L1568.4,164.1 L1571.7,178.8 L1574.5,171.6 L1577.5,174.5 L1580.4,175.3 L1582.9,160.5 L1586.0,171.0 L1588.7,161.7 L1591.7,169.7 L1594.5,170.4 L1597.3,173.0 L1600.0,165.8 L1603.4,169.3 L1606.8,180.2 L1610.1,177.6 L1613.3,176.6 L1616.5,173.2 L1619.8,169.1 L1623.0,165.3 L1626.1,160.8 L1629.0,171.1 L1631.9,178.6 L1634.9,177.8 L1638.3,163.2 L1641.2,164.7 L1644.2,165.8 L1646.9,174.7 L1649.7,179.8 L1653.1,166.0 L1656.1,166.9 L1658.9,169.7 L1661.6,180.6 L1664.7,179.0 L1668.1,166.7 L1670.8,177.3 L1674.3,168.4 L1676.9,181.9 L1680.2,180.3 L1683.3,183.9 L1687.4,163.7 L1690.8,162.3 L1693.5,177.1 L1697.2,168.7 L1700.8,164.1 L1703.8,169.3 L1706.7,179.1 L1710.0,177.9 L1713.3,177.6 L1716.7,173.6 L1719.4,181.8 L1722.7,176.7 L1725.3,185.3 L1728.8,173.9 L1732.1,166.2 L1734.4,174.7 L1736.5,185.7 L1739.1,184.7 L1741.6,183.4 L1746.7,168.5 L1750.9,166.9 L1754.3,174.2 L1757.7,177.6 L1761.3,172.4 L1764.2,177.2 L1767.3,173.0 L1770.5,168.0 L1773.0,171.5 L1775.6,171.8 L1776.6,186.3 L1780.0,178.2 L1783.0,185.6 L1787.5,181.6 L1792.3,177.0 L1797.1,173.1 L1794.0,190.4 L1800.3,183.0 L1801.6,188.1 L1808.0,180.3 L1807.0,190.6 L1814.0,182.1 L1817.7,180.9 L1813.4,199.8 L1817.7,197.7 L1825.4,185.7 L1826.8,192.6 L1827.7,202.2 L1831.6,201.1 L1839.6,186.6 L1841.1,194.0 L1840.9,203.8 L1848.3,191.7 L1844.9,210.2 L1848.3,209.1 L1853.3,204.7 L1856.5,204.9 L1859.7,205.7" fill="none" stroke="#000" stroke-width="8" stroke-linejoin="round" stroke-linecap="round"/>
<path d="M1842.6,198.8 L1845.5,199.7 L1848.3,200.7 L1851.2,201.8 L1854.0,202.9 L1856.9,204.2 L1859.7,205.7 L1862.2,207.2 L1864.9,208.8 L1867.5,210.5 L1870.1,212.3 L1872.7,214.2 L1875.2,216.1 L1877.5,217.9 L1879.6,219.7 L1882.1,222.0 L1884.2,224.2 L1886.1,226.4 L1887.9,228.7 L1889.7,231.1 L1891.6,233.6 L1893.3,235.9 L1895.0,238.2 L1896.7,240.7 L1898.4,243.2 L1900.1,245.8 L1901.8,248.6 L1903.5,251.5 L1905.0,254.2 L1906.5,257.1 L1908.1,260.1 L1909.6,263.1 L1911.1,266.2 L1912.6,269.4 L1914.1,272.5 L1915.5,275.5 L1916.9,278.5 L1918.2,281.3 L1919.4,284.2 L1920.7,287.1 L1921.9,290.0 L1923.1,293.0 L1924.3,296.1 L1925.4,299.4 L1926.3,302.1 L1927.2,305.0 L1928.0,307.9 L1928.8,310.9 L1929.6,313.9 L1930.4,317.0 L1931.2,320.1 L1932.0,323.1 L1932.7,326.2 L1933.4,329.2" fill="none" stroke="#000" stroke-width="15" stroke-linejoin="round" stroke-linecap="round"/>
<path d="M1842.6,198.8 L1845.4,199.9 L1848.6,200.1 L1851.1,202.1 L1853.6,203.9 L1857.3,203.2 L1859.8,205.6 L1862.4,206.9 L1865.1,208.3 L1867.0,211.3 L1869.5,213.2 L1872.3,214.8 L1875.3,215.9 L1876.9,218.6 L1880.2,219.0 L1882.1,222.0 L1884.2,224.1 L1886.9,225.8 L1887.8,228.8 L1889.9,230.9 L1891.9,233.4 L1894.1,235.3 L1894.7,238.5 L1897.4,240.2 L1899.3,242.6 L1899.3,246.3 L1902.2,248.4 L1903.3,251.6 L1904.5,254.5 L1906.0,257.4 L1907.2,260.5 L1910.4,262.8 L1911.3,266.2 L1913.4,269.0 L1913.6,272.7 L1916.1,275.2 L1917.4,278.2 L1918.7,281.1 L1919.0,284.4 L1920.7,287.1 L1921.2,290.3 L1922.9,293.1 L1924.1,296.2 L1925.0,299.5 L1926.7,302.0 L1927.4,304.9 L1928.5,307.8 L1929.5,310.7 L1928.7,314.2 L1930.2,317.1 L1931.3,320.0 L1931.7,323.2 L1933.4,326.0 L1933.4,329.2" fill="none" stroke="#000" stroke-width="8" stroke-linejoin="round" stroke-linecap="round"/>
<path d="M290.0,1220.0 L290.1,1218.4 L290.1,1216.6 L290.2,1214.7 L290.3,1212.6 L290.4,1210.4 L290.5,1208.0 L290.6,1205.5 L290.7,1202.8 L290.9,1200.0 L291.0,1197.1 L291.1,1194.1 L291.3,1190.9 L291.4,1187.6 L291.5,1184.3 L291.7,1180.8 L291.8,1177.2 L292.0,1173.6 L292.2,1169.8 L292.3,1166.0 L292.5,1162.1 L292.7,1158.1 L292.8,1154.1 L293.0,1150.0 L293.1,1147.6 L293.2,1145.1 L293.3,1142.6 L293.4,1140.1 L293.5,1137.5 L293.6,1134.8 L293.7,1132.1 L293.9,1129.4 L294.0,1126.6 L294.1,1123.8 L294.2,1120.9 L294.3,1118.0 L294.4,1115.1 L294.6,1112.1 L294.7,1109.1 L294.8,1106.1 L294.9,1103.0 L295.1,1100.0 L295.2,1096.9 L295.3,1093.8 L295.4,1090.6 L295.6,1087.5 L295.7,1084.3 L295.8,1081.1 L296.0,1077.9 L296.1,1074.7 L296.2,1071.5 L296.4,1068.3 L296.5,1065.1 L296.6,1061.9 L296.8,1058.7 L296.9,1055.4 L297.0,1052.2 L297.2,1049.0 L297.3,1045.8 L297.5,1042.6 L297.6,1039.5 L297.7,1036.3 L297.9,1033.1 L298.0,1030.0 L298.1,1027.1 L298.3,1024.2 L298.4,1021.2 L298.5,1018.3 L298.7,1015.3 L298.8,1012.3 L298.9,1009.3 L299.1,1006.3 L299.2,1003.3 L299.3,1000.2 L299.5,997.2 L299.6,994.2 L299.7,991.1 L299.9,988.1 L300.0,985.0 L300.2,981.9 L300.3,978.9 L300.4,975.8 L300.6,972.7 L300.7,969.6 L300.9,966.5 L301.0,963.5 L301.2,960.4 L301.3,957.3 L301.4,954.2 L301.6,951.1 L301.7,948.1 L301.9,945.0 L302.0,941.9 L302.2,938.9 L302.3,935.8 L302.4,932.8 L302.6,929.8 L302.7,926.7 L302.9,923.7 L303.0,920.7 L303.2,917.7 L303.3,914.7 L303.4,911.7 L303.6,908.8 L303.7,905.8 L303.9,902.9 L304.0,900.0 L304.1,896.9 L304.3,893.8 L304.4,890.7 L304.6,887.6 L304.8,884.5 L304.9,881.5 L305.1,878.4 L305.2,875.4 L305.4,872.3 L305.5,869.3 L305.6,866.3 L305.8,863.3 L305.9,860.3 L306.1,857.3 L306.2,854.3 L306.4,851.3 L306.6,848.3 L306.7,845.3 L306.9,842.3 L307.0,839.4 L307.1,836.4 L307.3,833.4 L307.4,830.5 L307.6,827.5 L307.8,824.6 L307.9,821.6 L308.1,818.6 L308.2,815.7 L308.4,812.7 L308.5,809.8 L308.6,806.8 L308.8,803.8 L308.9,800.9 L309.1,797.9 L309.2,794.9 L309.4,792.0 L309.6,789.0 L309.7,786.0 L309.9,783.0 L310.0,780.0 L310.1,777.0 L310.3,774.0 L310.4,770.9 L310.6,767.9 L310.7,764.8 L310.9,761.8 L311.0,758.7 L311.2,755.6 L311.3,752.5 L311.5,749.4 L311.6,746.3 L311.8,743.2 L311.9,740.1 L312.1,737.0 L312.2,733.9 L312.4,730.8 L312.5,727.7 L312.6,724.6 L312.8,721.5 L312.9,718.4 L313.1,715.4 L313.2,712.3 L313.4,709.2 L313.5,706.2 L313.7,703.2 L313.8,700.2 L314.0,697.1 L314.1,694.2 L314.3,691.2 L314.4,688.2 L314.6,685.3 L314.7,682.4 L314.9,679.5 L315.0,676.6 L315.2,673.8 L315.4,671.0 L315.5,668.2 L315.7,665.4 L315.8,662.7 L316.0,660.0 L316.2,656.6 L316.4,653.1 L316.6,649.8 L316.8,646.4 L317.1,643.2 L317.3,639.9 L317.5,636.7 L317.7,633.5 L317.9,630.3 L318.1,627.2 L318.3,624.0 L318.5,620.9 L318.8,617.9 L319.0,614.8 L319.2,611.8 L319.4,608.8 L319.6,605.8 L319.9,602.9 L320.1,599.9 L320.3,597.0 L320.6,594.0 L320.8,591.1 L321.0,588.2 L321.3,585.3 L321.5,582.4 L321.7,579.5 L322.0,576.6 L322.2,573.7 L322.5,570.8 L322.7,567.9 L323.0,565.0 L323.3,561.8 L323.6,558.6 L323.9,555.4 L324.2,552.2 L324.5,549.0 L324.8,545.9 L325.1,542.7 L325.4,539.5 L325.7,536.4 L326.0,533.3 L326.3,530.2 L326.6,527.1 L326.9,524.0 L327.2,520.9 L327.6,517.9 L327.9,514.9 L328.2,511.8 L328.6,508.8 L328.9,505.9 L329.2,502.9 L329.6,500.0 L329.9,497.0 L330.2,494.1 L330.6,491.3 L330.9,488.4 L331.3,485.6 L331.6,482.8 L332.0,480.0 L332.4,476.6 L332.9,473.3 L333.3,470.1 L333.8,466.8 L334.2,463.6 L334.7,460.4 L335.1,457.3 L335.6,454.1 L336.1,451.1 L336.5,448.0 L337.0,444.9 L337.5,441.9 L338.0,438.9 L338.5,436.0 L338.9,433.0 L339.4,430.1 L339.9,427.2 L340.4,424.3 L340.9,421.4 L341.5,418.5 L342.0,415.7 L342.5,412.8 L343.0,410.0 L343.6,406.8 L344.2,403.5 L344.8,400.3 L345.5,397.1 L346.1,393.9 L346.8,390.7 L347.4,387.5 L348.1,384.4 L348.7,381.3 L349.4,378.2 L350.0,375.2 L350.7,372.2 L351.4,369.3 L352.0,366.4 L352.7,363.5 L353.4,360.7 L354.0,357.9 L354.7,355.2 L355.3,352.6 L356.0,350.0 L356.9,346.4 L357.8,343.0 L358.7,339.6 L359.5,336.4 L360.4,333.3 L361.3,330.3 L362.1,327.3 L363.0,324.4 L363.9,321.6 L364.8,318.8 L365.8,316.1 L366.8,313.4 L367.9,310.7 L369.0,308.0 L370.4,304.9 L371.8,301.8 L373.2,298.8 L374.7,295.8 L376.2,292.9 L377.8,290.1 L379.4,287.3 L381.1,284.6 L382.8,282.1 L384.5,279.6 L386.2,277.2 L388.0,275.0 L390.2,272.5 L392.4,270.2 L394.7,268.1 L397.0,266.2 L399.4,264.3 L401.9,262.6 L404.3,260.9 L406.9,259.3 L409.4,257.6 L412.0,256.0 L414.6,254.4 L417.3,252.8 L420.1,251.3 L422.9,249.8 L425.7,248.4 L428.5,247.0 L431.4,245.7 L434.3,244.4 L437.1,243.2 L440.0,242.0 L442.7,241.0 L445.0,240.1 L447.3,239.3 L449.5,238.6 L451.8,237.9 L454.3,237.2 L457.1,236.4 L460.4,235.5 L464.4,234.4 L469.0,233.0 L471.1,232.4 L473.2,231.7 L475.5,231.0 L477.8,230.2 L480.2,229.4 L482.7,228.6 L485.3,227.8 L487.9,226.9 L490.6,226.0 L493.4,225.1 L496.2,224.2 L499.2,223.2 L502.1,222.3 L505.1,221.3 L508.2,220.4 L511.3,219.5 L514.5,218.5 L517.7,217.6 L520.9,216.7 L524.2,215.9 L527.5,215.0 L530.8,214.2 L534.2,213.4 L537.6,212.7 L541.0,212.0 L543.6,211.5 L546.3,211.0 L549.0,210.5 L551.7,210.0 L554.5,209.5 L557.3,209.1 L560.2,208.6 L563.1,208.2 L566.0,207.7 L569.0,207.3 L572.0,206.9 L575.0,206.4 L578.0,206.0 L581.0,205.6 L584.1,205.2 L587.2,204.8 L590.3,204.4 L593.4,204.1 L596.5,203.7 L599.7,203.3 L602.8,202.9 L605.9,202.6 L609.1,202.2 L612.2,201.9 L615.3,201.6 L618.5,201.2 L621.6,200.9 L624.7,200.6 L627.8,200.2 L630.9,199.9 L633.9,199.6 L637.0,199.3 L640.0,199.0 L643.0,198.7 L646.0,198.4 L649.0,198.1 L652.1,197.9 L655.1,197.6 L658.1,197.3 L661.1,197.1 L664.1,196.9 L667.1,196.6 L670.2,196.4 L673.2,196.2 L676.2,196.0 L679.2,195.8 L682.3,195.6 L685.3,195.4 L688.3,195.2 L691.3,195.0 L694.4,194.8 L697.4,194.6 L700.4,194.4 L703.4,194.2 L706.5,194.0 L709.5,193.9 L712.6,193.7 L715.6,193.5 L718.6,193.3 L721.7,193.1 L724.7,192.9 L727.8,192.8 L730.8,192.6 L733.9,192.4 L736.9,192.2 L740.0,192.0 L743.0,191.8 L746.0,191.6 L748.9,191.4 L751.9,191.3 L754.9,191.1 L757.9,190.9 L760.9,190.8 L763.9,190.6 L766.9,190.4 L769.9,190.3 L772.9,190.1 L775.9,189.9 L778.9,189.8 L782.0,189.6 L785.0,189.4 L788.0,189.3 L791.0,189.1 L794.0,189.0 L797.0,188.8 L800.0,188.6 L803.1,188.5 L806.1,188.3 L809.1,188.1 L812.1,188.0 L815.1,187.8 L818.1,187.6 L821.1,187.4 L824.1,187.2 L827.1,187.0 L830.1,186.8 L833.1,186.6 L836.0,186.4 L839.0,186.2 L842.0,186.0 L845.1,185.8 L848.1,185.5 L851.2,185.3 L854.2,185.0 L857.3,184.7 L860.3,184.4 L863.3,184.2 L866.4,183.9 L869.4,183.6 L872.5,183.3 L875.5,182.9 L878.5,182.6 L881.5,182.3 L884.6,182.0 L887.6,181.7 L890.6,181.4 L893.6,181.1 L896.7,180.8 L899.7,180.4 L902.7,180.1 L905.7,179.8 L908.7,179.6 L911.8,179.3 L914.8,179.0 L917.8,178.7 L920.8,178.5 L923.8,178.2 L926.9,178.0 L929.9,177.8 L932.9,177.5 L935.9,177.4 L939.0,177.2 L942.0,177.0 L945.0,176.8 L948.1,176.7 L951.1,176.6 L954.1,176.5 L957.1,176.4 L960.2,176.3 L963.2,176.2 L966.2,176.1 L969.2,176.1 L972.3,176.0 L975.3,176.0 L978.3,175.9 L981.3,175.9 L984.4,175.9 L987.4,175.8 L990.4,175.8 L993.5,175.8 L996.5,175.8 L999.5,175.8 L1002.5,175.8 L1005.6,175.8 L1008.6,175.8 L1011.6,175.8 L1014.7,175.7 L1017.7,175.7 L1020.7,175.7 L1023.8,175.7 L1026.8,175.7 L1029.8,175.7 L1032.9,175.6 L1035.9,175.6 L1039.0,175.5 L1042.0,175.5 L1045.0,175.4 L1048.1,175.4 L1051.2,175.3 L1054.2,175.3 L1057.3,175.2 L1060.3,175.2 L1063.4,175.1 L1066.5,175.1 L1069.5,175.0 L1072.6,175.0 L1075.7,174.9 L1078.7,174.9 L1081.8,174.8 L1084.9,174.8 L1088.0,174.7 L1091.0,174.7 L1094.1,174.6 L1097.2,174.6 L1100.2,174.5 L1103.3,174.4 L1106.4,174.4 L1109.4,174.3 L1112.5,174.3 L1115.6,174.2 L1118.6,174.1 L1121.7,174.1 L1124.7,174.0 L1127.8,173.9 L1130.8,173.8 L1133.9,173.8 L1136.9,173.7 L1140.0,173.6 L1143.0,173.5 L1146.0,173.4 L1149.1,173.3 L1152.1,173.2 L1155.1,173.1 L1158.1,173.0 L1161.1,172.9 L1164.1,172.8 L1167.1,172.7 L1170.1,172.6 L1173.1,172.5 L1176.1,172.4 L1179.1,172.3 L1182.1,172.2 L1185.1,172.0 L1188.1,171.9 L1191.1,171.8 L1194.1,171.7 L1197.0,171.6 L1200.0,171.4 L1203.0,171.3 L1206.0,171.2 L1209.0,171.1 L1212.0,170.9 L1215.0,170.8 L1218.0,170.7 L1221.0,170.5 L1224.0,170.4 L1227.0,170.3 L1230.0,170.1 L1233.0,170.0 L1236.0,169.9 L1239.0,169.7 L1242.0,169.6 L1245.0,169.5 L1248.0,169.3 L1251.1,169.1 L1254.1,168.9 L1257.1,168.7 L1260.1,168.5 L1263.1,168.3 L1266.2,168.1 L1269.2,167.9 L1272.2,167.7 L1275.3,167.4 L1278.3,167.2 L1281.3,167.0 L1284.4,166.7 L1287.4,166.5 L1290.4,166.3 L1293.5,166.1 L1296.5,165.9 L1299.5,165.7 L1302.6,165.5 L1305.6,165.3 L1308.6,165.1 L1311.7,165.0 L1314.7,164.8 L1317.7,164.7 L1320.8,164.6 L1323.8,164.5 L1326.8,164.5 L1329.9,164.4 L1332.9,164.4 L1335.9,164.4 L1339.0,164.4 L1342.0,164.5 L1345.0,164.6 L1348.1,164.7 L1351.1,164.9 L1354.1,165.1 L1357.2,165.3 L1360.2,165.5 L1363.2,165.8 L1366.2,166.1 L1369.3,166.4 L1372.3,166.7 L1375.3,167.1 L1378.4,167.4 L1381.4,167.8 L1384.4,168.2 L1387.5,168.6 L1390.5,169.0 L1393.5,169.3 L1396.5,169.7 L1399.6,170.1 L1402.6,170.5 L1405.6,170.9 L1408.7,171.3 L1411.7,171.7 L1414.7,172.0 L1417.8,172.4 L1420.8,172.7 L1423.8,173.1 L1426.8,173.4 L1429.9,173.6 L1432.9,173.9 L1435.9,174.1 L1439.0,174.3 L1442.0,174.5 L1445.0,174.7 L1448.1,174.8 L1451.1,174.9 L1454.1,175.0 L1457.1,175.1 L1460.2,175.2 L1463.2,175.3 L1466.2,175.4 L1469.2,175.4 L1472.3,175.5 L1475.3,175.5 L1478.3,175.6 L1481.3,175.6 L1484.4,175.6 L1487.4,175.6 L1490.4,175.6 L1493.5,175.6 L1496.5,175.6 L1499.5,175.6 L1502.5,175.6 L1505.6,175.5 L1508.6,175.5 L1511.6,175.5 L1514.7,175.4 L1517.7,175.4 L1520.7,175.4 L1523.8,175.3 L1526.8,175.3 L1529.8,175.2 L1532.9,175.2 L1535.9,175.1 L1539.0,175.1 L1542.0,175.0 L1545.0,174.9 L1548.1,174.9 L1551.1,174.8 L1554.2,174.7 L1557.3,174.6 L1560.3,174.5 L1563.4,174.4 L1566.4,174.3 L1569.5,174.2 L1572.6,174.1 L1575.6,173.9 L1578.7,173.8 L1581.8,173.7 L1584.8,173.5 L1587.9,173.4 L1591.0,173.3 L1594.0,173.1 L1597.1,173.0 L1600.2,172.8 L1603.2,172.7 L1606.3,172.5 L1609.4,172.4 L1612.4,172.2 L1615.5,172.1 L1618.6,172.0 L1621.6,171.8 L1624.7,171.7 L1627.7,171.6 L1630.8,171.4 L1633.9,171.3 L1636.9,171.2 L1640.0,171.1 L1643.0,171.0 L1646.1,170.9 L1649.2,170.8 L1652.3,170.7 L1655.5,170.7 L1658.7,170.6 L1662.0,170.5 L1665.2,170.5 L1668.5,170.4 L1671.8,170.4 L1675.1,170.3 L1678.4,170.3 L1681.7,170.2 L1685.0,170.2 L1688.2,170.1 L1691.5,170.1 L1694.8,170.0 L1698.0,170.0 L1701.2,169.9 L1704.4,169.9 L1707.5,169.8 L1710.6,169.8 L1713.6,169.7 L1716.6,169.6 L1719.6,169.6 L1722.5,169.5 L1725.3,169.4 L1728.1,169.3 L1730.7,169.2 L1733.4,169.1 L1735.9,169.0 L1738.4,168.9 L1740.7,168.7 L1743.0,168.6 L1747.7,168.2 L1752.1,167.8 L1756.1,167.3 L1759.8,166.8 L1763.3,166.2 L1766.5,165.7 L1769.6,165.1 L1772.4,164.5 L1775.1,163.9 L1777.7,163.4 L1780.2,162.9 L1782.7,162.4 L1785.1,162.0 L1787.5,161.7 L1790.0,161.5 L1793.9,161.2 L1797.3,160.8 L1800.4,160.5 L1803.2,160.3 L1805.9,160.3 L1808.6,160.6 L1811.5,161.1 L1814.6,162.1 L1818.0,163.5 L1820.3,164.6 L1822.7,165.8 L1825.2,167.2 L1827.8,168.7 L1830.4,170.3 L1833.2,172.0 L1835.9,173.9 L1838.6,175.8 L1841.3,177.9 L1844.0,180.0 L1846.6,182.2 L1849.1,184.4 L1851.6,186.7 L1853.9,189.1 L1856.0,191.5 L1857.9,193.8 L1859.7,196.3 L1861.4,198.8 L1863.0,201.5 L1864.6,204.2 L1866.1,207.0 L1867.6,209.8 L1869.0,212.7 L1870.4,215.6 L1871.8,218.6 L1873.1,221.5 L1874.5,224.5 L1875.8,227.4 L1877.2,230.3 L1878.6,233.2 L1880.0,236.0 L1881.4,238.8 L1882.9,241.6 L1884.3,244.3 L1885.7,247.1 L1887.2,249.9 L1888.6,252.7 L1890.0,255.4 L1891.4,258.2 L1892.8,261.0 L1894.1,263.8 L1895.5,266.6 L1896.8,269.5 L1898.2,272.3 L1899.5,275.2 L1900.7,278.1 L1902.0,281.0 L1903.2,283.8 L1904.3,286.6 L1905.4,289.4 L1906.5,292.3 L1907.6,295.2 L1908.6,298.1 L1909.6,301.0 L1910.7,304.0 L1911.7,306.9 L1912.7,309.8 L1913.7,312.8 L1914.8,315.7 L1915.8,318.6 L1916.8,321.5 L1917.9,324.3 L1918.9,327.2 L1920.0,330.0 L1921.2,332.9 L1922.4,335.9 L1923.6,338.7 L1924.8,341.6 L1926.0,344.4 L1927.3,347.2 L1928.5,350.1 L1929.8,352.9 L1931.0,355.7 L1932.2,358.5 L1933.4,361.4 L1934.6,364.2 L1935.7,367.1 L1936.9,370.0 L1937.9,373.0 L1939.0,376.0 L1939.9,378.9 L1940.9,381.8 L1941.7,384.8 L1942.6,387.8 L1943.4,390.9 L1944.2,394.0 L1945.0,397.0 L1945.7,400.1 L1946.5,403.2 L1947.3,406.3 L1948.0,409.4 L1948.8,412.4 L1949.6,415.4 L1950.4,418.4 L1951.2,421.3 L1952.1,424.2 L1953.0,427.0 L1954.1,430.1 L1955.1,433.0 L1956.3,435.9 L1957.4,438.8 L1958.6,441.5 L1959.8,444.2 L1961.0,447.0 L1962.2,449.7 L1963.3,452.4 L1964.5,455.1 L1965.7,458.0 L1966.8,460.8 L1967.9,463.8 L1969.0,466.8 L1970.0,470.0 L1970.8,472.7 L1971.6,475.5 L1972.4,478.4 L1973.1,481.3 L1973.8,484.3 L1974.5,487.3 L1975.2,490.3 L1975.9,493.4 L1976.6,496.5 L1977.2,499.6 L1977.9,502.7 L1978.6,505.8 L1979.3,508.9 L1980.0,512.0 L1980.7,515.0 L1981.4,518.1 L1982.2,521.1 L1983.0,524.0 L1983.9,527.2 L1984.8,530.4 L1985.8,533.8 L1986.9,537.3 L1988.0,540.8 L1989.1,544.3 L1990.2,547.8 L1991.3,551.2 L1992.3,554.5 L1993.4,557.8 L1994.4,560.9 L1995.4,563.8 L1996.3,566.6 L1997.1,569.1 L1997.8,571.4 L1998.5,573.3 L1999.0,575.0" fill="none" stroke="#f8000a" stroke-width="11" stroke-dasharray="41 59" stroke-dashoffset="92.4" stroke-linecap="round" stroke-linejoin="round"/>
</g>
<line x1="1829.0" y1="205.5" x2="1490.7" y2="530.1" stroke="#2a2a2a" stroke-width="2"/>
<polygon points="1469.1,550.9 1487.4,520.9 1499.9,533.9" fill="#000"/>
<line x1="290.0" y1="1025.2" x2="318.0" y2="1025.2" stroke="#000" stroke-width="5"/>
<line x1="290.0" y1="830.5" x2="318.0" y2="830.5" stroke="#000" stroke-width="5"/>
<line x1="290.0" y1="635.8" x2="318.0" y2="635.8" stroke="#000" stroke-width="5"/>
<line x1="290.0" y1="441.0" x2="318.0" y2="441.0" stroke="#000" stroke-width="5"/>
<line x1="290.0" y1="246.2" x2="318.0" y2="246.2" stroke="#000" stroke-width="5"/>
<line x1="534.9" y1="1220.0" x2="534.9" y2="1193.0" stroke="#000" stroke-width="5"/>
<line x1="779.9" y1="1220.0" x2="779.9" y2="1193.0" stroke="#000" stroke-width="5"/>
<line x1="1024.8" y1="1220.0" x2="1024.8" y2="1193.0" stroke="#000" stroke-width="5"/>
<line x1="1269.7" y1="1220.0" x2="1269.7" y2="1193.0" stroke="#000" stroke-width="5"/>
<line x1="1514.6" y1="1220.0" x2="1514.6" y2="1193.0" stroke="#000" stroke-width="5"/>
<line x1="1759.6" y1="1220.0" x2="1759.6" y2="1193.0" stroke="#000" stroke-width="5"/>
<text x="261.0" y="1244.5" font-size="85" font-weight="normal" text-anchor="end">0</text>
<text x="261.0" y="1049.8" font-size="85" font-weight="normal" text-anchor="end">50</text>
<text x="261.0" y="855.0" font-size="85" font-weight="normal" text-anchor="end">100</text>
<text x="261.0" y="660.2" font-size="85" font-weight="normal" text-anchor="end">150</text>
<text x="261.0" y="465.5" font-size="85" font-weight="normal" text-anchor="end">200</text>
<text x="261.0" y="270.8" font-size="85" font-weight="normal" text-anchor="end">250</text>
<text x="261.0" y="76.0" font-size="85" font-weight="normal" text-anchor="end">300</text>
<text x="290.0" y="1314.5" font-size="85" font-weight="normal" text-anchor="middle">0</text>
<text x="534.9" y="1314.5" font-size="85" font-weight="normal" text-anchor="middle">2</text>
<text x="779.9" y="1314.5" font-size="85" font-weight="normal" text-anchor="middle">4</text>
<text x="1024.8" y="1314.5" font-size="85" font-weight="normal" text-anchor="middle">6</text>
<text x="1269.7" y="1314.5" font-size="85" font-weight="normal" text-anchor="middle">8</text>
<text x="1514.6" y="1314.5" font-size="85" font-weight="normal" text-anchor="middle">10</text>
<text x="1759.6" y="1314.5" font-size="85" font-weight="normal" text-anchor="middle">12</text>
<text x="2004.5" y="1314.5" font-size="85" font-weight="normal" text-anchor="middle">14</text>
<text transform="translate(93.7,598.3) rotate(-90)" font-size="96" font-weight="bold" text-anchor="middle">Load (N)</text>
<text x="745.7" y="1419.6" font-size="96" font-weight="bold" text-anchor="start">Displacement (mm)</text>
<text x="335.4" y="162.1" font-size="96" font-weight="bold" text-anchor="start">(a)</text>
<defs>
<linearGradient id="s2g" gradientUnits="userSpaceOnUse" x1="1022.0" y1="0" x2="1449.0" y2="0"><stop offset="0.0000" stop-color="#0606b0"/><stop offset="0.0070" stop-color="#1020b0"/><stop offset="0.0304" stop-color="#1040c8"/><stop offset="0.0656" stop-color="#1470cc"/><stop offset="0.2061" stop-color="#1898c4"/><stop offset="0.2529" stop-color="#10b0a8"/><stop offset="0.3583" stop-color="#10b0a8"/><stop offset="0.3888" stop-color="#10a860"/><stop offset="0.4169" stop-color="#20c020"/><stop offset="0.4450" stop-color="#80c000"/><stop offset="0.4567" stop-color="#c0c000"/><stop offset="0.4824" stop-color="#d08000"/><stop offset="0.5012" stop-color="#c04000"/><stop offset="0.5129" stop-color="#b03000"/><stop offset="0.5269" stop-color="#c04000"/><stop offset="0.5386" stop-color="#d08000"/><stop offset="0.5597" stop-color="#c0c000"/><stop offset="0.5761" stop-color="#60c010"/><stop offset="0.5925" stop-color="#20c020"/><stop offset="0.6393" stop-color="#10a870"/><stop offset="0.6745" stop-color="#10b0a8"/><stop offset="0.7681" stop-color="#18b8b8"/><stop offset="0.8150" stop-color="#1898c8"/><stop offset="0.9321" stop-color="#1470cc"/><stop offset="0.9836" stop-color="#1038c0"/><stop offset="1.0000" stop-color="#0606b0"/></linearGradient>
<linearGradient id="s2sh" x1="0" y1="0" x2="0" y2="1"><stop offset="0" stop-color="#000" stop-opacity="0.55"/><stop offset="0.15" stop-color="#000" stop-opacity="0.18"/><stop offset="0.4" stop-color="#fff" stop-opacity="0.12"/><stop offset="0.65" stop-color="#000" stop-opacity="0.12"/><stop offset="0.88" stop-color="#000" stop-opacity="0.35"/><stop offset="1" stop-color="#000" stop-opacity="0.6"/></linearGradient>
<linearGradient id="s2gb" x1="0" y1="0" x2="0" y2="1"><stop offset="0" stop-color="#02028c"/><stop offset="0.1" stop-color="#0404c4"/><stop offset="0.4" stop-color="#0c0cf0"/><stop offset="0.6" stop-color="#0606d4"/><stop offset="0.9" stop-color="#0303ac"/><stop offset="1" stop-color="#020280"/></linearGradient>
<pattern id="s2m" patternUnits="userSpaceOnUse" width="4.90" height="5.00" x="817.5" y="2136.0"><path d="M0,0 H4.90 M0,0 V5.00" stroke="#000030" stroke-opacity="0.42" stroke-width="1.3" fill="none"/></pattern>
<pattern id="s2n" patternUnits="userSpaceOnUse" width="7.20" height="6.80" x="1022.0" y="2164.3"><path d="M0,0 H7.20 M0,0 V6.80" stroke="#000" stroke-opacity="0.3" stroke-width="1.4" fill="none"/></pattern>
</defs>
<path d="M981.0,2135.8 C1000.0,2157.2 1010.0,2164.3 1022.0,2164.3 L1208.5,2160.9 C1223.5,2160.9 1223.5,2166.0 1238.5,2166.0 C1253.5,2166.0 1253.5,2159.8 1268.5,2159.8 L1449.0,2156.5 C1461.0,2156.5 1471.0,2149.2 1490.0,2127.4 L1490.0,2237.5 C1471.0,2218.8 1461.0,2212.6 1449.0,2212.6 L1268.5,2214.5 C1253.5,2214.5 1253.5,2209.5 1238.5,2209.5 C1223.5,2209.5 1223.5,2215.1 1208.5,2215.1 L1022.0,2217.0 C1010.0,2217.0 1000.0,2224.8 981.0,2248.0 Z" fill="url(#s2g)"/>
<path d="M981.0,2135.8 C1000.0,2157.2 1010.0,2164.3 1022.0,2164.3 L1208.5,2160.9 C1223.5,2160.9 1223.5,2166.0 1238.5,2166.0 C1253.5,2166.0 1253.5,2159.8 1268.5,2159.8 L1449.0,2156.5 C1461.0,2156.5 1471.0,2149.2 1490.0,2127.4 L1490.0,2237.5 C1471.0,2218.8 1461.0,2212.6 1449.0,2212.6 L1268.5,2214.5 C1253.5,2214.5 1253.5,2209.5 1238.5,2209.5 C1223.5,2209.5 1223.5,2215.1 1208.5,2215.1 L1022.0,2217.0 C1010.0,2217.0 1000.0,2224.8 981.0,2248.0 Z" fill="url(#s2sh)"/>
<path d="M981.0,2135.8 C1000.0,2157.2 1010.0,2164.3 1022.0,2164.3 L1208.5,2160.9 C1223.5,2160.9 1223.5,2166.0 1238.5,2166.0 C1253.5,2166.0 1253.5,2159.8 1268.5,2159.8 L1449.0,2156.5 C1461.0,2156.5 1471.0,2149.2 1490.0,2127.4 L1490.0,2237.5 C1471.0,2218.8 1461.0,2212.6 1449.0,2212.6 L1268.5,2214.5 C1253.5,2214.5 1253.5,2209.5 1238.5,2209.5 C1223.5,2209.5 1223.5,2215.1 1208.5,2215.1 L1022.0,2217.0 C1010.0,2217.0 1000.0,2224.8 981.0,2248.0 Z" fill="url(#s2n)"/>
<path d="M825.5,2138.2 L982.0,2135.8 L982.0,2248.0 L825.5,2250.0 C815.1,2247.0 815.1,2141.2 825.5,2138.2 Z" fill="url(#s2gb)"/>
<path d="M825.5,2138.2 L982.0,2135.8 L982.0,2248.0 L825.5,2250.0 C815.1,2247.0 815.1,2141.2 825.5,2138.2 Z" fill="url(#s2m)"/>
<path d="M1489.0,2127.4 L1647.0,2124.0 C1657.4,2127.0 1657.4,2232.5 1647.0,2235.5 L1489.0,2237.5 Z" fill="url(#s2gb)"/>
<path d="M1489.0,2127.4 L1647.0,2124.0 C1657.4,2127.0 1657.4,2232.5 1647.0,2235.5 L1489.0,2237.5 Z" fill="url(#s2m)"/>
<rect x="462.0" y="2016.4" width="81.9" height="53.7" fill="#ff0000"/>
<rect x="462.0" y="2069.6" width="81.9" height="53.7" fill="#ff5c00"/>
<rect x="462.0" y="2122.7" width="81.9" height="53.7" fill="#f5b800"/>
<rect x="462.0" y="2175.9" width="81.9" height="53.7" fill="#e6ff00"/>
<rect x="462.0" y="2229.1" width="81.9" height="53.7" fill="#8cf500"/>
<rect x="462.0" y="2282.2" width="81.9" height="53.7" fill="#30f000"/>
<rect x="462.0" y="2335.4" width="81.9" height="53.7" fill="#00f02e"/>
<rect x="462.0" y="2388.6" width="81.9" height="53.7" fill="#00f08c"/>
<rect x="462.0" y="2441.8" width="81.9" height="53.7" fill="#00fff0"/>
<rect x="462.0" y="2494.9" width="81.9" height="53.7" fill="#00b4f5"/>
<rect x="462.0" y="2548.1" width="81.9" height="53.7" fill="#005aff"/>
<rect x="462.0" y="2601.3" width="81.9" height="53.7" fill="#0000ff"/>
<line x1="462.0" y1="2016.4" x2="543.9" y2="2016.4" stroke="#000" stroke-opacity="0.55" stroke-width="3.5"/>
<line x1="543.9" y1="2016.4" x2="568.6" y2="2016.4" stroke="#444" stroke-width="3.0"/>
<line x1="462.0" y1="2069.6" x2="543.9" y2="2069.6" stroke="#000" stroke-opacity="0.55" stroke-width="3.5"/>
<line x1="543.9" y1="2069.6" x2="568.6" y2="2069.6" stroke="#444" stroke-width="3.0"/>
<line x1="462.0" y1="2122.7" x2="543.9" y2="2122.7" stroke="#000" stroke-opacity="0.55" stroke-width="3.5"/>
<line x1="543.9" y1="2122.7" x2="568.6" y2="2122.7" stroke="#444" stroke-width="3.0"/>
<line x1="462.0" y1="2175.9" x2="543.9" y2="2175.9" stroke="#000" stroke-opacity="0.55" stroke-width="3.5"/>
<line x1="543.9" y1="2175.9" x2="568.6" y2="2175.9" stroke="#444" stroke-width="3.0"/>
<line x1="462.0" y1="2229.1" x2="543.9" y2="2229.1" stroke="#000" stroke-opacity="0.55" stroke-width="3.5"/>
<line x1="543.9" y1="2229.1" x2="568.6" y2="2229.1" stroke="#444" stroke-width="3.0"/>
<line x1="462.0" y1="2282.2" x2="543.9" y2="2282.2" stroke="#000" stroke-opacity="0.55" stroke-width="3.5"/>
<line x1="543.9" y1="2282.2" x2="568.6" y2="2282.2" stroke="#444" stroke-width="3.0"/>
<line x1="462.0" y1="2335.4" x2="543.9" y2="2335.4" stroke="#000" stroke-opacity="0.55" stroke-width="3.5"/>
<line x1="543.9" y1="2335.4" x2="568.6" y2="2335.4" stroke="#444" stroke-width="3.0"/>
<line x1="462.0" y1="2388.6" x2="543.9" y2="2388.6" stroke="#000" stroke-opacity="0.55" stroke-width="3.5"/>
<line x1="543.9" y1="2388.6" x2="568.6" y2="2388.6" stroke="#444" stroke-width="3.0"/>
<line x1="462.0" y1="2441.8" x2="543.9" y2="2441.8" stroke="#000" stroke-opacity="0.55" stroke-width="3.5"/>
<line x1="543.9" y1="2441.8" x2="568.6" y2="2441.8" stroke="#444" stroke-width="3.0"/>
<line x1="462.0" y1="2494.9" x2="543.9" y2="2494.9" stroke="#000" stroke-opacity="0.55" stroke-width="3.5"/>
<line x1="543.9" y1="2494.9" x2="568.6" y2="2494.9" stroke="#444" stroke-width="3.0"/>
<line x1="462.0" y1="2548.1" x2="543.9" y2="2548.1" stroke="#000" stroke-opacity="0.55" stroke-width="3.5"/>
<line x1="543.9" y1="2548.1" x2="568.6" y2="2548.1" stroke="#444" stroke-width="3.0"/>
<line x1="462.0" y1="2601.3" x2="543.9" y2="2601.3" stroke="#000" stroke-opacity="0.55" stroke-width="3.5"/>
<line x1="543.9" y1="2601.3" x2="568.6" y2="2601.3" stroke="#444" stroke-width="3.0"/>
<line x1="462.0" y1="2654.4" x2="543.9" y2="2654.4" stroke="#000" stroke-opacity="0.55" stroke-width="3.5"/>
<line x1="543.9" y1="2654.4" x2="568.6" y2="2654.4" stroke="#444" stroke-width="3.0"/>
<rect x="464.0" y="2016.9" width="77.9" height="637.0" fill="none" stroke="#000" stroke-opacity="0.6" stroke-width="4.0"/>
<text transform="translate(589.9,2031.9) scale(1.1078,1)" font-size="47" font-weight="bold" text-anchor="start">0.519</text>
<text transform="translate(589.9,2085.1) scale(1.1078,1)" font-size="47" font-weight="bold" text-anchor="start">0.476</text>
<text transform="translate(589.9,2138.2) scale(1.1078,1)" font-size="47" font-weight="bold" text-anchor="start">0.433</text>
<text transform="translate(589.9,2191.4) scale(1.1078,1)" font-size="47" font-weight="bold" text-anchor="start">0.389</text>
<text transform="translate(589.9,2244.6) scale(1.1078,1)" font-size="47" font-weight="bold" text-anchor="start">0.346</text>
<text transform="translate(589.9,2297.8) scale(1.1078,1)" font-size="47" font-weight="bold" text-anchor="start">0.303</text>
<text transform="translate(589.9,2350.9) scale(1.1078,1)" font-size="47" font-weight="bold" text-anchor="start">0.259</text>
<text transform="translate(589.9,2404.1) scale(1.1078,1)" font-size="47" font-weight="bold" text-anchor="start">0.216</text>
<text transform="translate(589.9,2457.3) scale(1.1078,1)" font-size="47" font-weight="bold" text-anchor="start">0.173</text>
<text transform="translate(589.9,2510.4) scale(1.1078,1)" font-size="47" font-weight="bold" text-anchor="start">0.129</text>
<text transform="translate(589.9,2563.6) scale(1.1078,1)" font-size="47" font-weight="bold" text-anchor="start">0.086</text>
<text transform="translate(589.9,2616.8) scale(1.1078,1)" font-size="47" font-weight="bold" text-anchor="start">0.043</text>
<text transform="translate(589.9,2669.9) scale(1.1078,1)" font-size="47" font-weight="bold" text-anchor="start">0</text>
<text transform="translate(477.0,1965.4) scale(1.0099,1)" font-size="76" font-weight="bold" text-anchor="start">PEEQ</text>
<line x1="1134.1" y1="2595.7" x2="1317.4" y2="2595.7" stroke="#000" stroke-width="11" stroke-linecap="round"/>
<line x1="1132.8" y1="2698.6" x2="1175.0" y2="2698.6" stroke="#f8000a" stroke-width="11" stroke-linecap="round"/>
<line x1="1234.1" y1="2698.6" x2="1276.3" y2="2698.6" stroke="#f8000a" stroke-width="11" stroke-linecap="round"/>
<text transform="translate(1340.9,2624.3) scale(0.9645,1)" font-size="85" font-weight="normal" text-anchor="start">Experiment</text>
<text transform="translate(1339.7,2726.8) scale(0.9727,1)" font-size="85" font-weight="normal" text-anchor="start">Simulation</text>
<rect x="290.0" y="1651.0" width="1714.3" height="1169.0" fill="none" stroke="#000" stroke-width="5.5"/>
<clipPath id="clipb"><rect x="283.0" y="1651.0" width="1721.3" height="1172.0"/></clipPath>
<g clip-path="url(#clipb)">
<path d="M290.5,2819.0 L290.5,2817.3 L290.6,2815.4 L290.7,2813.2 L290.7,2810.8 L290.8,2808.1 L290.9,2805.2 L291.0,2802.2 L291.0,2799.0 L291.1,2795.7 L291.2,2792.3 L291.3,2788.8 L291.5,2785.2 L291.6,2781.5 L291.7,2777.9 L291.9,2774.2 L292.0,2770.5 L292.1,2767.8 L292.2,2765.0 L292.4,2762.2 L292.5,2759.3 L292.6,2756.3 L292.8,2753.3 L292.9,2750.2 L293.1,2747.1 L293.3,2743.9 L293.4,2740.7 L293.6,2737.5 L293.7,2734.2 L293.9,2731.0 L294.1,2727.7 L294.3,2724.5 L294.4,2721.2 L294.6,2717.9 L294.8,2714.7 L294.9,2711.5 L295.1,2708.3 L295.2,2705.1 L295.4,2702.0 L295.6,2698.9 L295.7,2695.8 L295.9,2692.7 L296.0,2689.6 L296.2,2686.5 L296.3,2683.4 L296.5,2680.3 L296.6,2677.2 L296.8,2674.1 L296.9,2671.0 L297.1,2667.9 L297.3,2664.8 L297.4,2661.7 L297.6,2658.6 L297.7,2655.5 L297.9,2652.4 L298.0,2649.3 L298.2,2646.2 L298.3,2643.1 L298.5,2640.0 L298.6,2636.9 L298.8,2633.8 L299.0,2630.7 L299.1,2627.6 L299.2,2624.5 L299.4,2621.4 L299.5,2618.3 L299.7,2615.2 L299.8,2612.1 L300.0,2608.9 L300.1,2605.8 L300.2,2602.7 L300.4,2599.6 L300.5,2596.5 L300.7,2593.4 L300.8,2590.3 L301.0,2587.2 L301.1,2584.1 L301.3,2580.9 L301.5,2577.8 L301.6,2574.7 L301.8,2571.6 L302.0,2568.5 L302.2,2565.4 L302.4,2562.3 L302.6,2559.2 L302.8,2556.1 L303.0,2553.0 L303.3,2549.9 L303.5,2546.7 L303.7,2543.6 L304.0,2540.5 L304.2,2537.4 L304.4,2534.3 L304.7,2531.2 L304.9,2528.1 L305.2,2525.0 L305.4,2521.9 L305.7,2518.8 L305.9,2515.7 L306.2,2512.5 L306.4,2509.4 L306.7,2506.3 L306.9,2503.2 L307.2,2500.1 L307.4,2497.0 L307.6,2493.9 L307.9,2490.8 L308.1,2487.7 L308.3,2484.6 L308.6,2481.5 L308.8,2478.3 L309.0,2475.2 L309.3,2472.1 L309.5,2469.0 L309.7,2465.9 L310.0,2462.8 L310.2,2459.7 L310.4,2456.6 L310.6,2453.5 L310.9,2450.4 L311.1,2447.2 L311.3,2444.1 L311.6,2441.0 L311.8,2437.9 L312.0,2434.8 L312.3,2431.7 L312.5,2428.6 L312.7,2425.5 L313.0,2422.4 L313.2,2419.3 L313.4,2416.2 L313.7,2413.1 L313.9,2410.0 L314.1,2406.9 L314.4,2403.8 L314.6,2400.7 L314.8,2397.6 L315.1,2394.4 L315.3,2391.3 L315.5,2388.2 L315.7,2385.1 L316.0,2382.0 L316.2,2378.9 L316.4,2375.8 L316.7,2372.7 L316.9,2369.6 L317.1,2366.5 L317.4,2363.4 L317.6,2360.3 L317.8,2357.2 L318.1,2354.1 L318.3,2351.0 L318.5,2347.9 L318.7,2344.8 L318.9,2341.7 L319.2,2338.5 L319.4,2335.4 L319.6,2332.3 L319.8,2329.2 L320.0,2326.1 L320.3,2323.0 L320.5,2319.9 L320.7,2316.8 L320.9,2313.7 L321.2,2310.6 L321.4,2307.4 L321.7,2304.3 L321.9,2301.2 L322.2,2298.1 L322.4,2295.0 L322.7,2291.9 L323.0,2288.8 L323.3,2285.7 L323.6,2282.6 L323.8,2279.5 L324.1,2276.4 L324.5,2273.2 L324.8,2270.1 L325.1,2267.0 L325.4,2263.9 L325.7,2260.8 L326.0,2257.7 L326.4,2254.6 L326.7,2251.5 L327.0,2248.4 L327.3,2245.3 L327.7,2242.2 L328.0,2239.1 L328.3,2235.9 L328.6,2232.8 L329.0,2229.7 L329.3,2226.6 L329.6,2223.5 L329.9,2220.4 L330.2,2217.3 L330.5,2214.2 L330.8,2211.0 L331.1,2207.9 L331.4,2204.8 L331.7,2201.7 L332.0,2198.6 L332.3,2195.5 L332.6,2192.4 L332.9,2189.2 L333.2,2186.1 L333.5,2183.0 L333.8,2179.9 L334.1,2176.8 L334.4,2173.7 L334.7,2170.5 L335.1,2167.4 L335.4,2164.3 L335.7,2161.2 L336.1,2158.1 L336.4,2155.0 L336.8,2151.9 L337.1,2148.8 L337.5,2145.7 L337.9,2142.6 L338.2,2139.5 L338.6,2136.4 L339.0,2133.3 L339.4,2130.2 L339.8,2127.1 L340.2,2124.0 L340.6,2120.9 L341.0,2117.8 L341.4,2114.7 L341.8,2111.6 L342.2,2108.5 L342.6,2105.4 L343.0,2102.3 L343.4,2099.2 L343.8,2096.1 L344.2,2093.0 L344.6,2089.9 L345.0,2086.8 L345.4,2083.7 L345.8,2080.6 L346.1,2077.5 L346.5,2074.4 L346.9,2071.3 L347.2,2068.2 L347.6,2065.1 L347.9,2061.9 L348.3,2058.8 L348.6,2055.7 L349.0,2052.6 L349.4,2049.5 L349.7,2046.4 L350.1,2043.3 L350.5,2040.2 L350.9,2037.1 L351.3,2033.9 L351.7,2030.8 L352.1,2027.7 L352.6,2024.6 L353.0,2021.5 L353.5,2018.4 L354.0,2015.4 L354.5,2012.3 L355.0,2009.2 L355.5,2006.1 L356.1,2002.9 L356.6,1999.7 L357.2,1996.5 L357.8,1993.2 L358.4,1990.0 L359.0,1986.8 L359.5,1983.6 L360.1,1980.4 L360.7,1977.3 L361.3,1974.2 L361.9,1971.2 L362.5,1968.2 L363.0,1965.3 L363.6,1962.5 L364.1,1959.8 L364.6,1957.2 L365.1,1954.7 L365.6,1952.3 L366.0,1950.0 L366.8,1945.7 L367.6,1941.8 L368.2,1938.4 L368.9,1935.4 L369.4,1932.6 L370.0,1929.9 L370.5,1927.4 L371.1,1924.9 L371.7,1922.3 L372.3,1919.6 L373.0,1916.6 L373.7,1913.7 L374.4,1910.8 L375.1,1907.8 L375.8,1904.7 L376.5,1901.7 L377.3,1898.7 L378.1,1895.7 L378.9,1892.7 L379.7,1889.7 L380.5,1886.8 L381.4,1884.0 L382.3,1881.3 L383.4,1878.1 L384.6,1875.0 L385.7,1872.0 L387.0,1869.0 L388.2,1866.1 L389.5,1863.2 L390.8,1860.4 L392.1,1857.7 L393.5,1854.9 L394.8,1852.2 L396.3,1849.2 L397.9,1846.2 L399.5,1843.3 L401.1,1840.4 L402.8,1837.6 L404.5,1834.8 L406.1,1832.2 L407.8,1829.7 L409.4,1827.3 L411.4,1824.5 L413.4,1821.9 L415.3,1819.6 L417.3,1817.3 L419.4,1815.1 L421.6,1812.9 L424.0,1810.6 L426.3,1808.5 L428.7,1806.2 L431.3,1804.0 L434.0,1801.8 L436.7,1799.6 L439.4,1797.6 L442.1,1795.7 L444.7,1794.0 L447.7,1792.3 L450.6,1790.9 L453.6,1789.7 L456.6,1788.6 L459.6,1787.6 L462.5,1786.6 L465.5,1785.7 L468.3,1784.8 L470.8,1784.0 L473.3,1783.2 L475.9,1782.5 L478.8,1781.9 L482.1,1781.4 L486.2,1781.0 L488.7,1780.8 L491.5,1780.8 L494.6,1780.7 L497.8,1780.7 L501.1,1780.7 L504.5,1780.7 L508.0,1780.8 L511.5,1780.9 L515.0,1780.9 L518.4,1781.0 L521.7,1781.0 L524.9,1781.0 L527.8,1781.0 L531.2,1780.9 L534.3,1780.9 L537.1,1780.8 L539.7,1780.8 L542.4,1780.7 L545.1,1780.6 L548.2,1780.5 L551.5,1780.3 L555.5,1780.2 L560.0,1780.0 L562.2,1779.9 L564.5,1779.8 L566.8,1779.7 L569.1,1779.6 L571.4,1779.4 L573.8,1779.3 L576.3,1779.2 L578.8,1779.0 L581.4,1778.9 L584.1,1778.7 L586.9,1778.6 L589.8,1778.4 L592.8,1778.3 L595.9,1778.1 L599.1,1778.0 L602.5,1777.8 L606.0,1777.7 L609.6,1777.5 L613.5,1777.4 L617.5,1777.3 L621.6,1777.1 L626.0,1777.0 L628.3,1776.9 L630.7,1776.9 L633.1,1776.8 L635.6,1776.7 L638.1,1776.7 L640.7,1776.6 L643.4,1776.5 L646.0,1776.5 L648.8,1776.4 L651.6,1776.3 L654.4,1776.3 L657.2,1776.2 L660.1,1776.1 L663.1,1776.0 L666.1,1776.0 L669.1,1775.9 L672.1,1775.8 L675.2,1775.8 L678.3,1775.7 L681.4,1775.6 L684.5,1775.6 L687.7,1775.5 L690.9,1775.4 L694.1,1775.4 L697.3,1775.3 L700.6,1775.2 L703.8,1775.2 L707.1,1775.1 L710.4,1775.1 L713.6,1775.0 L716.9,1775.0 L720.2,1774.9 L723.5,1774.9 L726.8,1774.8 L730.0,1774.8 L733.3,1774.7 L736.6,1774.7 L739.9,1774.7 L743.1,1774.6 L746.4,1774.6 L749.6,1774.6 L752.8,1774.5 L756.0,1774.5 L758.8,1774.5 L761.7,1774.5 L764.5,1774.4 L767.3,1774.4 L770.1,1774.4 L772.9,1774.4 L775.7,1774.4 L778.5,1774.4 L781.3,1774.4 L784.1,1774.4 L786.9,1774.4 L789.7,1774.4 L792.5,1774.4 L795.3,1774.4 L798.1,1774.5 L800.9,1774.5 L803.7,1774.5 L806.5,1774.5 L809.3,1774.5 L812.2,1774.5 L815.0,1774.5 L817.9,1774.6 L820.7,1774.6 L823.6,1774.6 L826.5,1774.6 L829.4,1774.6 L832.4,1774.7 L835.3,1774.7 L838.3,1774.7 L841.3,1774.7 L844.3,1774.7 L847.3,1774.8 L850.4,1774.8 L853.5,1774.8 L856.6,1774.8 L859.7,1774.8 L862.9,1774.9 L866.1,1774.9 L869.3,1774.9 L872.6,1774.9 L875.9,1774.9 L879.2,1774.9 L882.6,1775.0 L886.0,1775.0 L889.4,1775.0 L892.9,1775.0 L896.4,1775.0 L900.0,1775.0 L902.6,1775.0 L905.3,1775.0 L907.9,1775.0 L910.6,1775.0 L913.3,1775.0 L916.1,1775.0 L918.8,1775.0 L921.6,1775.0 L924.4,1775.0 L927.2,1775.0 L930.1,1775.1 L933.0,1775.1 L935.8,1775.1 L938.7,1775.1 L941.7,1775.1 L944.6,1775.1 L947.5,1775.1 L950.5,1775.1 L953.5,1775.1 L956.5,1775.1 L959.5,1775.1 L962.5,1775.1 L965.6,1775.1 L968.6,1775.1 L971.7,1775.1 L974.7,1775.1 L977.8,1775.1 L980.9,1775.1 L984.0,1775.1 L987.1,1775.1 L990.2,1775.2 L993.4,1775.2 L996.5,1775.2 L999.6,1775.2 L1002.8,1775.2 L1005.9,1775.2 L1009.1,1775.2 L1012.2,1775.2 L1015.4,1775.2 L1018.6,1775.2 L1021.7,1775.2 L1024.9,1775.2 L1028.1,1775.2 L1031.3,1775.2 L1034.4,1775.2 L1037.6,1775.2 L1040.8,1775.2 L1043.9,1775.2 L1047.1,1775.2 L1050.3,1775.2 L1053.4,1775.1 L1056.6,1775.1 L1059.7,1775.1 L1062.9,1775.1 L1066.0,1775.1 L1069.2,1775.1 L1072.3,1775.1 L1075.4,1775.1 L1078.5,1775.1 L1081.6,1775.1 L1084.7,1775.1 L1087.8,1775.1 L1090.9,1775.0 L1093.9,1775.0 L1097.0,1775.0 L1100.0,1775.0 L1103.0,1775.0 L1106.1,1775.0 L1109.1,1774.9 L1112.1,1774.9 L1115.2,1774.9 L1118.2,1774.9 L1121.2,1774.9 L1124.2,1774.8 L1127.3,1774.8 L1130.3,1774.8 L1133.3,1774.7 L1136.4,1774.7 L1139.4,1774.7 L1142.4,1774.6 L1145.5,1774.6 L1148.5,1774.6 L1151.5,1774.5 L1154.5,1774.5 L1157.6,1774.5 L1160.6,1774.4 L1163.6,1774.4 L1166.7,1774.4 L1169.7,1774.3 L1172.7,1774.3 L1175.8,1774.2 L1178.8,1774.2 L1181.8,1774.2 L1184.8,1774.1 L1187.9,1774.1 L1190.9,1774.0 L1193.9,1774.0 L1197.0,1773.9 L1200.0,1773.9 L1203.0,1773.9 L1206.1,1773.8 L1209.1,1773.8 L1212.1,1773.7 L1215.2,1773.7 L1218.2,1773.7 L1221.2,1773.6 L1224.2,1773.6 L1227.3,1773.6 L1230.3,1773.5 L1233.3,1773.5 L1236.4,1773.4 L1239.4,1773.4 L1242.4,1773.4 L1245.5,1773.3 L1248.5,1773.3 L1251.5,1773.3 L1254.5,1773.3 L1257.6,1773.2 L1260.6,1773.2 L1263.6,1773.2 L1266.7,1773.2 L1269.7,1773.1 L1272.7,1773.1 L1275.8,1773.1 L1278.8,1773.1 L1281.8,1773.1 L1284.8,1773.0 L1287.9,1773.0 L1290.9,1773.0 L1293.9,1773.0 L1297.0,1773.0 L1300.0,1773.0 L1303.0,1773.0 L1306.1,1773.0 L1309.2,1773.0 L1312.2,1773.0 L1315.3,1773.0 L1318.4,1773.0 L1321.5,1773.0 L1324.6,1773.0 L1327.8,1773.0 L1330.9,1773.1 L1334.0,1773.1 L1337.2,1773.1 L1340.3,1773.1 L1343.5,1773.1 L1346.7,1773.1 L1349.8,1773.2 L1353.0,1773.2 L1356.2,1773.2 L1359.3,1773.2 L1362.5,1773.3 L1365.7,1773.3 L1368.9,1773.3 L1372.1,1773.3 L1375.3,1773.4 L1378.4,1773.4 L1381.6,1773.4 L1384.8,1773.5 L1388.0,1773.5 L1391.1,1773.5 L1394.3,1773.6 L1397.4,1773.6 L1400.6,1773.6 L1403.8,1773.7 L1406.9,1773.7 L1410.0,1773.7 L1413.1,1773.8 L1416.3,1773.8 L1419.4,1773.8 L1422.5,1773.9 L1425.6,1773.9 L1428.6,1773.9 L1431.7,1774.0 L1434.7,1774.0 L1437.8,1774.0 L1440.8,1774.0 L1443.8,1774.1 L1446.8,1774.1 L1449.8,1774.1 L1452.7,1774.2 L1455.7,1774.2 L1458.6,1774.2 L1461.5,1774.3 L1464.4,1774.3 L1467.3,1774.3 L1470.1,1774.3 L1473.0,1774.3 L1475.8,1774.4 L1478.6,1774.4 L1481.3,1774.4 L1484.1,1774.4 L1486.8,1774.4 L1489.5,1774.5 L1492.2,1774.5 L1494.8,1774.5 L1497.4,1774.5 L1500.0,1774.5 L1503.7,1774.5 L1507.4,1774.5 L1511.1,1774.5 L1514.8,1774.5 L1518.4,1774.5 L1522.1,1774.5 L1525.7,1774.5 L1529.4,1774.5 L1533.0,1774.5 L1536.6,1774.4 L1540.2,1774.4 L1543.8,1774.4 L1547.3,1774.4 L1550.8,1774.3 L1554.3,1774.3 L1557.8,1774.3 L1561.2,1774.3 L1564.6,1774.2 L1568.0,1774.2 L1571.3,1774.2 L1574.6,1774.1 L1577.9,1774.1 L1581.1,1774.1 L1584.3,1774.0 L1587.4,1774.0 L1590.5,1774.0 L1593.5,1774.0 L1596.5,1773.9 L1599.5,1773.9 L1602.4,1773.9 L1605.2,1773.9 L1608.0,1773.9 L1610.7,1773.8 L1613.4,1773.8 L1616.0,1773.8 L1618.5,1773.8 L1621.0,1773.8 L1623.4,1773.8 L1625.7,1773.8 L1628.0,1773.8 L1630.2,1773.9 L1632.3,1773.9 L1634.3,1773.9 L1636.3,1773.9 L1638.2,1774.0 L1640.0,1774.0 L1649.4,1774.4 L1655.0,1774.8 L1657.9,1775.4 L1659.0,1776.1 L1659.5,1776.8 L1660.3,1777.6 L1662.5,1778.3 L1665.7,1779.0 L1668.9,1779.8 L1672.1,1780.5 L1675.4,1781.3 L1678.6,1782.2 L1681.8,1783.1 L1685.0,1784.0 L1688.2,1785.0 L1691.4,1786.1 L1694.6,1787.3 L1697.9,1788.5 L1701.1,1789.6 L1704.3,1790.8 L1707.5,1792.0 L1710.7,1793.2 L1713.9,1794.4 L1717.1,1795.6 L1720.4,1796.8 L1723.6,1797.9 L1726.8,1799.0 L1730.0,1800.0 L1733.2,1800.9 L1736.5,1801.8 L1739.7,1802.6 L1742.9,1803.4 L1746.2,1804.1 L1749.4,1804.7 L1752.6,1805.3 L1755.8,1805.8 L1759.0,1806.2 L1762.2,1806.6 L1765.4,1806.9 L1768.6,1807.2 L1771.8,1807.6 L1775.0,1808.0 L1778.3,1808.5 L1781.6,1809.0 L1784.9,1809.5 L1788.2,1810.0 L1791.5,1810.6 L1794.6,1811.3 L1797.6,1812.0 L1800.9,1812.9 L1804.0,1813.8 L1807.0,1814.8 L1809.9,1815.9 L1812.8,1817.3 L1815.6,1819.0 L1818.0,1820.7 L1820.4,1822.6 L1822.8,1824.7 L1825.1,1827.0 L1827.3,1829.4 L1829.4,1831.9 L1831.4,1834.6 L1833.0,1837.0 L1834.6,1839.6 L1836.0,1842.2 L1837.4,1844.9 L1838.8,1847.8 L1840.1,1850.8 L1841.3,1853.8 L1842.6,1857.0 L1843.6,1859.6 L1844.6,1862.3 L1845.5,1865.1 L1846.5,1868.0 L1847.4,1870.9 L1848.3,1873.9 L1849.1,1877.0 L1850.0,1880.0 L1850.8,1883.2 L1851.6,1886.3 L1852.3,1889.2 L1853.0,1892.2 L1853.6,1895.2 L1854.2,1898.2 L1854.8,1901.3 L1855.4,1904.4 L1856.0,1907.5 L1856.6,1910.7 L1857.2,1913.8 L1857.8,1916.9 L1858.4,1920.0 L1859.0,1923.1 L1859.6,1926.2 L1860.2,1929.3 L1860.8,1932.4 L1861.4,1935.5 L1862.0,1938.6 L1862.7,1941.7 L1863.3,1944.8 L1863.9,1947.8 L1864.5,1950.9 L1865.1,1953.9 L1865.8,1957.1 L1866.4,1960.2 L1867.1,1963.2 L1867.7,1966.2 L1868.4,1969.2 L1869.1,1972.2 L1869.8,1975.4 L1870.5,1978.7 L1871.2,1982.2 L1872.0,1986.0 L1872.5,1988.6 L1873.1,1991.4 L1873.7,1994.1 L1874.2,1997.0 L1874.8,1999.9 L1875.4,2002.9 L1876.0,2005.9 L1876.7,2009.0 L1877.3,2012.2 L1877.9,2015.4 L1878.5,2018.6 L1879.1,2022.0 L1879.8,2025.3 L1880.4,2028.7 L1881.0,2032.2 L1881.5,2035.0 L1882.0,2037.8 L1882.5,2040.7 L1883.0,2043.7 L1883.5,2046.7 L1884.0,2049.7 L1884.5,2052.8 L1885.0,2055.9 L1885.5,2059.1 L1886.0,2062.2 L1886.5,2065.4 L1887.0,2068.6 L1887.5,2071.7 L1888.0,2074.9 L1888.5,2078.1 L1889.0,2081.3 L1889.4,2084.4 L1889.9,2087.5 L1890.3,2090.6 L1890.7,2093.7 L1891.2,2096.7 L1891.6,2099.8 L1892.0,2102.9 L1892.4,2106.0 L1892.8,2109.0 L1893.2,2112.1 L1893.6,2115.2 L1894.0,2118.3 L1894.3,2121.3 L1894.7,2124.4 L1895.1,2127.5 L1895.4,2130.6 L1895.8,2133.6 L1896.1,2136.7 L1896.4,2139.8 L1896.7,2142.8 L1897.0,2145.9 L1897.3,2149.0 L1897.6,2152.1 L1897.8,2155.1 L1898.1,2158.1 L1898.3,2161.1 L1898.5,2164.1 L1898.7,2167.1 L1898.9,2170.0 L1899.1,2173.0 L1899.3,2176.0 L1899.4,2179.0 L1899.6,2182.0 L1899.7,2185.1 L1899.9,2188.2 L1900.1,2191.3 L1900.2,2194.4 L1900.4,2197.6 L1900.5,2200.9 L1900.6,2204.1 L1900.8,2207.5 L1900.9,2210.3 L1901.0,2213.0 L1901.2,2215.7 L1901.3,2218.3 L1901.4,2221.0 L1901.5,2223.6 L1901.6,2226.3 L1901.8,2229.0 L1901.9,2231.7 L1902.0,2234.4 L1902.1,2237.2 L1902.2,2240.0 L1902.3,2242.9 L1902.4,2245.8 L1902.5,2248.9 L1902.6,2252.0 L1902.7,2255.3 L1902.7,2258.7 L1902.8,2262.2 L1902.9,2265.8 L1903.0,2269.6 L1903.0,2273.5 L1903.1,2277.6 L1903.1,2280.0 L1903.2,2282.4 L1903.2,2284.9 L1903.2,2287.4 L1903.2,2289.9 L1903.3,2292.4 L1903.3,2294.9 L1903.3,2297.5 L1903.3,2300.1 L1903.4,2302.7 L1903.4,2305.4 L1903.4,2308.0 L1903.4,2310.7 L1903.4,2313.5 L1903.4,2316.3 L1903.4,2319.1 L1903.4,2321.9 L1903.5,2324.8 L1903.5,2327.7 L1903.5,2330.7 L1903.5,2333.7 L1903.5,2336.7 L1903.5,2339.8 L1903.5,2342.9 L1903.5,2346.1 L1903.5,2349.3 L1903.5,2352.6 L1903.5,2355.9 L1903.5,2359.3 L1903.5,2362.7 L1903.5,2366.2 L1903.5,2369.7 L1903.5,2373.3 L1903.5,2376.9 L1903.6,2380.6 L1903.6,2384.4 L1903.6,2388.2 L1903.6,2392.1 L1903.6,2396.0 L1903.6,2400.0 L1903.6,2402.5 L1903.6,2405.0 L1903.6,2407.5 L1903.6,2410.1 L1903.6,2412.7 L1903.6,2415.3 L1903.6,2418.0 L1903.7,2420.7 L1903.7,2423.5 L1903.7,2426.3 L1903.7,2429.1 L1903.7,2431.9 L1903.7,2434.8 L1903.7,2437.7 L1903.7,2440.6 L1903.7,2443.5 L1903.7,2446.5 L1903.7,2449.5 L1903.7,2452.5 L1903.7,2455.5 L1903.7,2458.6 L1903.7,2461.7 L1903.7,2464.7 L1903.7,2467.9 L1903.8,2471.0 L1903.8,2474.1 L1903.8,2477.3 L1903.8,2480.4 L1903.8,2483.6 L1903.8,2486.8 L1903.8,2490.0 L1903.8,2493.2 L1903.8,2496.4 L1903.8,2499.6 L1903.8,2502.8 L1903.8,2506.1 L1903.8,2509.3 L1903.8,2512.5 L1903.8,2515.8 L1903.8,2519.0 L1903.8,2522.2 L1903.9,2525.5 L1903.9,2528.7 L1903.9,2531.9 L1903.9,2535.2 L1903.9,2538.4 L1903.9,2541.6 L1903.9,2544.8 L1903.9,2548.0 L1903.9,2551.2 L1903.9,2554.4 L1903.9,2557.5 L1903.9,2560.7 L1903.9,2563.8 L1903.9,2566.9 L1903.9,2570.0 L1903.9,2573.1 L1903.9,2576.2 L1904.0,2579.2 L1904.0,2582.3 L1904.0,2585.3 L1904.0,2588.3 L1904.0,2591.2 L1904.0,2594.2 L1904.0,2597.1 L1904.0,2600.0 L1904.0,2603.2 L1904.0,2606.4 L1904.0,2609.7 L1904.0,2613.0 L1904.0,2616.3 L1904.0,2619.6 L1904.1,2623.0 L1904.1,2626.4 L1904.1,2629.8 L1904.1,2633.2 L1904.1,2636.7 L1904.1,2640.2 L1904.1,2643.6 L1904.1,2647.1 L1904.1,2650.6 L1904.1,2654.1 L1904.1,2657.6 L1904.2,2661.1 L1904.2,2664.6 L1904.2,2668.1 L1904.2,2671.6 L1904.2,2675.1 L1904.2,2678.6 L1904.2,2682.1 L1904.2,2685.5 L1904.2,2689.0 L1904.2,2692.4 L1904.3,2695.8 L1904.3,2699.2 L1904.3,2702.5 L1904.3,2705.8 L1904.3,2709.1 L1904.3,2712.4 L1904.3,2715.6 L1904.3,2718.8 L1904.3,2721.9 L1904.3,2725.0 L1904.3,2728.1 L1904.4,2731.1 L1904.4,2734.1 L1904.4,2737.0 L1904.4,2739.9 L1904.4,2742.7 L1904.4,2745.4 L1904.4,2748.1 L1904.4,2750.8 L1904.4,2753.3 L1904.4,2755.8 L1904.4,2758.3 L1904.4,2760.6 L1904.5,2762.9 L1904.5,2765.2 L1904.5,2767.3 L1904.5,2769.4 L1904.5,2771.4 L1904.5,2773.3 L1904.5,2775.1 L1904.5,2776.8 L1904.5,2778.5 L1904.5,2780.0" fill="none" stroke="#000" stroke-width="11" stroke-linejoin="round" stroke-linecap="round"/>
<path d="M307.4,2497.0 L307.6,2493.9 L307.9,2490.8 L308.1,2487.7 L308.3,2484.6 L308.6,2481.5 L308.8,2478.3 L309.0,2475.2 L309.3,2472.1 L309.5,2469.0 L309.7,2465.9 L310.0,2462.8 L310.2,2459.7 L310.4,2456.6 L310.6,2453.5 L310.9,2450.4 L311.1,2447.2 L311.3,2444.1 L311.6,2441.0 L311.8,2437.9 L312.0,2434.8 L312.3,2431.7 L312.5,2428.6 L312.7,2425.5 L313.0,2422.4 L313.2,2419.3 L313.4,2416.2 L313.7,2413.1 L313.9,2410.0 L314.1,2406.9 L314.4,2403.8 L314.6,2400.7 L314.8,2397.6 L315.1,2394.4 L315.3,2391.3 L315.5,2388.2 L315.7,2385.1 L316.0,2382.0 L316.2,2378.9 L316.4,2375.8 L316.7,2372.7 L316.9,2369.6 L317.1,2366.5 L317.4,2363.4 L317.6,2360.3 L317.8,2357.2 L318.1,2354.1 L318.3,2351.0 L318.5,2347.9 L318.7,2344.8 L318.9,2341.7 L319.2,2338.5 L319.4,2335.4 L319.6,2332.3 L319.8,2329.2 L320.0,2326.1 L320.3,2323.0 L320.5,2319.9 L320.7,2316.8 L320.9,2313.7 L321.2,2310.6 L321.4,2307.4 L321.7,2304.3 L321.9,2301.2 L322.2,2298.1 L322.4,2295.0 L322.7,2291.9 L323.0,2288.8 L323.3,2285.7 L323.6,2282.6 L323.8,2279.5 L324.1,2276.4 L324.5,2273.2 L324.8,2270.1 L325.1,2267.0 L325.4,2263.9 L325.7,2260.8 L326.0,2257.7 L326.4,2254.6 L326.7,2251.5 L327.0,2248.4 L327.3,2245.3 L327.7,2242.2 L328.0,2239.1 L328.3,2235.9 L328.6,2232.8 L329.0,2229.7 L329.3,2226.6 L329.6,2223.5 L329.9,2220.4 L330.2,2217.3 L330.5,2214.2 L330.8,2211.0 L331.1,2207.9 L331.4,2204.8 L331.7,2201.7 L332.0,2198.6 L332.3,2195.5 L332.6,2192.4 L332.9,2189.2 L333.2,2186.1 L333.5,2183.0 L333.8,2179.9 L334.1,2176.8 L334.4,2173.7 L334.7,2170.5 L335.1,2167.4 L335.4,2164.3 L335.7,2161.2 L336.1,2158.1 L336.4,2155.0 L336.8,2151.9 L337.1,2148.8 L337.5,2145.7 L337.9,2142.6 L338.2,2139.5 L338.6,2136.4 L339.0,2133.3 L339.4,2130.2 L339.8,2127.1 L340.2,2124.0 L340.6,2120.9 L341.0,2117.8 L341.4,2114.7 L341.8,2111.6 L342.2,2108.5 L342.6,2105.4 L343.0,2102.3 L343.4,2099.2 L343.8,2096.1 L344.2,2093.0 L344.6,2089.9 L345.0,2086.8 L345.4,2083.7 L345.8,2080.6 L346.1,2077.5 L346.5,2074.4 L346.9,2071.3 L347.2,2068.2 L347.6,2065.1 L347.9,2061.9 L348.3,2058.8 L348.6,2055.7 L349.0,2052.6 L349.4,2049.5 L349.7,2046.4 L350.1,2043.3 L350.5,2040.2 L350.9,2037.1 L351.3,2033.9 L351.7,2030.8 L352.1,2027.7 L352.6,2024.6 L353.0,2021.5 L353.5,2018.4 L354.0,2015.4 L354.5,2012.3 L355.0,2009.2 L355.5,2006.1 L356.1,2002.9 L356.6,1999.7 L357.2,1996.5 L357.8,1993.2 L358.4,1990.0 L359.0,1986.8 L359.5,1983.6 L360.1,1980.4 L360.7,1977.3 L361.3,1974.2 L361.9,1971.2 L362.5,1968.2 L363.0,1965.3 L363.6,1962.5 L364.1,1959.8 L364.6,1957.2 L365.1,1954.7 L365.6,1952.3 L366.0,1950.0 L366.8,1945.7 L367.6,1941.8 L368.2,1938.4 L368.9,1935.4 L369.4,1932.6 L370.0,1929.9 L370.5,1927.4 L371.1,1924.9 L371.7,1922.3 L372.3,1919.6 L373.0,1916.6 L373.7,1913.7 L374.4,1910.8 L375.1,1907.8 L375.8,1904.7 L376.5,1901.7 L377.3,1898.7 L378.1,1895.7 L378.9,1892.7 L379.7,1889.7 L380.5,1886.8 L381.4,1884.0 L382.3,1881.3 L383.4,1878.1 L384.6,1875.0 L385.7,1872.0 L387.0,1869.0 L388.2,1866.1 L389.5,1863.2 L390.8,1860.4 L392.1,1857.7 L393.5,1854.9 L394.8,1852.2 L396.3,1849.2 L397.9,1846.2 L399.5,1843.3 L401.1,1840.4" fill="none" stroke="#000" stroke-width="14" stroke-linejoin="round" stroke-linecap="round"/>
<path d="M307.4,2497.0 L307.2,2493.9 L307.5,2490.8 L307.6,2487.6 L308.3,2484.6 L308.0,2481.4 L309.8,2478.4 L308.8,2475.2 L308.8,2472.1 L308.5,2468.9 L308.9,2465.8 L309.9,2462.8 L308.7,2459.6 L309.1,2456.5 L309.8,2453.4 L311.6,2450.4 L311.7,2447.3 L310.9,2444.1 L312.0,2441.1 L310.3,2437.8 L311.1,2434.7 L311.4,2431.6 L312.6,2428.6 L312.0,2425.4 L314.4,2422.5 L314.4,2419.4 L312.6,2416.1 L313.8,2413.1 L313.3,2409.9 L314.3,2406.9 L313.0,2403.7 L314.1,2400.6 L313.9,2397.5 L314.4,2394.4 L315.5,2391.4 L315.3,2388.2 L314.6,2385.1 L314.6,2381.9 L317.5,2379.0 L317.0,2375.9 L315.3,2372.6 L318.1,2369.7 L315.7,2366.4 L318.8,2363.5 L317.3,2360.3 L316.7,2357.1 L318.2,2354.1 L319.2,2351.0 L317.0,2347.8 L319.3,2344.8 L319.0,2341.7 L319.4,2338.6 L318.6,2335.4 L318.5,2332.2 L320.1,2329.2 L318.6,2326.0 L320.9,2323.0 L319.0,2319.8 L319.9,2316.7 L321.4,2313.7 L322.1,2310.6 L320.5,2307.4 L321.7,2304.3 L322.4,2301.3 L322.0,2298.1 L323.1,2295.1 L321.5,2291.8 L321.9,2288.7 L322.4,2285.6 L324.7,2282.7 L324.6,2279.5 L323.8,2276.3 L323.7,2273.2 L324.9,2270.2 L325.2,2267.0 L324.4,2263.8 L326.9,2260.9 L324.7,2257.6 L325.6,2254.5 L326.4,2251.5 L325.8,2248.3 L327.1,2245.2 L327.0,2242.1 L326.9,2238.9 L328.9,2236.0 L328.0,2232.8 L329.4,2229.8 L328.9,2226.6 L328.7,2223.4 L330.6,2220.5 L328.9,2217.1 L329.2,2214.0 L330.0,2211.0 L330.3,2207.9 L332.3,2204.9 L332.9,2201.8 L332.8,2198.7 L331.0,2195.3 L333.4,2192.4 L333.7,2189.3 L331.8,2186.0 L334.4,2183.1 L332.8,2179.8 L333.5,2176.7 L335.7,2173.8 L333.4,2170.4 L334.3,2167.4 L335.7,2164.4 L335.9,2161.2 L335.6,2158.1 L336.6,2155.0 L336.1,2151.8 L338.4,2148.9 L338.9,2145.9 L337.4,2142.5 L338.8,2139.6 L338.6,2136.4 L339.5,2133.3 L338.1,2130.0 L339.1,2127.0 L338.8,2123.8 L341.5,2121.0 L339.9,2117.7 L340.4,2114.6 L342.0,2111.6 L342.4,2108.5 L343.7,2105.5 L342.1,2102.2 L343.3,2099.2 L343.8,2096.1 L345.4,2093.2 L343.2,2089.7 L346.5,2087.0 L346.1,2083.8 L344.6,2080.5 L345.0,2077.3 L347.5,2074.5 L346.7,2071.2 L345.8,2068.0 L347.7,2065.1 L347.3,2061.9 L349.5,2059.0 L349.6,2055.8 L349.8,2052.7 L348.1,2049.4 L348.6,2046.2 L350.9,2043.4 L351.1,2040.2 L350.2,2037.0 L351.0,2033.9 L353.1,2031.0 L353.3,2027.9 L351.2,2024.4 L352.5,2021.4 L353.8,2018.4 L353.0,2015.2 L355.9,2012.6 L354.6,2009.2 L354.4,2005.9 L357.2,2003.1 L356.2,1999.6 L358.5,1996.7 L356.4,1993.0 L357.1,1989.8 L360.4,1987.1 L359.4,1983.6 L359.9,1980.4 L362.1,1977.6 L362.5,1974.5 L361.3,1971.1 L363.6,1968.5 L363.3,1965.4 L363.3,1962.5 L364.8,1960.0 L363.9,1957.1 L365.8,1954.8 L364.9,1952.2 L364.6,1949.7 L366.6,1945.6 L367.4,1941.8 L367.1,1938.2 L369.4,1935.5 L368.1,1932.3 L370.8,1930.1 L371.3,1927.6 L369.7,1924.6 L370.4,1922.0 L372.3,1919.6 L372.7,1916.5 L372.8,1913.5 L375.3,1911.0 L376.3,1908.0 L375.1,1904.6 L377.4,1901.9 L377.8,1898.8 L377.6,1895.5 L380.3,1893.1 L378.3,1889.3 L381.1,1887.0 L382.8,1884.5 L382.3,1881.3 L383.7,1878.2 L384.8,1875.1 L386.9,1872.4 L387.3,1869.2 L387.5,1865.8 L389.0,1863.0 L391.2,1860.6 L391.8,1857.5 L393.2,1854.8 L394.8,1852.2 L395.3,1848.7 L397.2,1845.9 L400.7,1844.0 L401.1,1840.4" fill="none" stroke="#000" stroke-width="8" stroke-linejoin="round" stroke-linecap="round"/>
<path d="M383.4,1878.1 L384.6,1875.0 L385.7,1872.0 L387.0,1869.0 L388.2,1866.1 L389.5,1863.2 L390.8,1860.4 L392.1,1857.7 L393.5,1854.9 L394.8,1852.2 L396.3,1849.2 L397.9,1846.2 L399.5,1843.3 L401.1,1840.4 L402.8,1837.6 L404.5,1834.8 L406.1,1832.2 L407.8,1829.7 L409.4,1827.3 L411.4,1824.5 L413.4,1821.9 L415.3,1819.6 L417.3,1817.3 L419.4,1815.1 L421.6,1812.9 L424.0,1810.6 L426.3,1808.5 L428.7,1806.2 L431.3,1804.0 L434.0,1801.8 L436.7,1799.6 L439.4,1797.6 L442.1,1795.7 L444.7,1794.0 L447.7,1792.3 L450.6,1790.9 L453.6,1789.7 L456.6,1788.6 L459.6,1787.6 L462.5,1786.6 L465.5,1785.7 L468.3,1784.8 L470.8,1784.0 L473.3,1783.2 L475.9,1782.5 L478.8,1781.9 L482.1,1781.4 L486.2,1781.0 L488.7,1780.8 L491.5,1780.8 L494.6,1780.7 L497.8,1780.7 L501.1,1780.7 L504.5,1780.7 L508.0,1780.8 L511.5,1780.9 L515.0,1780.9 L518.4,1781.0 L521.7,1781.0 L524.9,1781.0 L527.8,1781.0 L531.2,1780.9 L534.3,1780.9 L537.1,1780.8 L539.7,1780.8 L542.4,1780.7 L545.1,1780.6 L548.2,1780.5 L551.5,1780.3 L555.5,1780.2" fill="none" stroke="#000" stroke-width="19" stroke-linejoin="round" stroke-linecap="round"/>
<path d="M383.4,1878.1 L386.6,1875.8 L387.7,1872.7 L387.0,1869.0 L386.5,1865.3 L392.1,1864.4 L390.3,1860.2 L391.6,1857.4 L393.4,1854.9 L394.0,1851.8 L395.6,1848.8 L397.9,1846.2 L400.3,1843.7 L399.4,1839.4 L405.1,1838.9 L404.2,1834.7 L407.8,1833.3 L408.4,1830.1 L409.1,1827.1 L409.2,1822.9 L414.1,1822.4 L415.2,1819.5 L417.6,1817.6 L418.0,1813.8 L423.0,1814.3 L422.8,1809.3 L425.1,1807.2 L427.4,1804.7 L430.8,1803.4 L432.9,1800.4 L436.0,1798.7 L440.5,1799.1 L443.5,1797.8 L445.0,1794.6 L446.5,1790.2 L450.5,1790.5 L454.6,1792.3 L456.0,1787.0 L459.5,1787.4 L463.3,1789.2 L465.8,1786.5 L468.1,1784.4 L470.8,1783.9 L472.5,1780.6 L475.7,1781.9 L478.9,1782.7 L481.9,1779.5 L486.3,1782.7 L488.7,1780.7 L491.5,1781.0 L494.6,1782.4 L497.8,1781.2 L501.1,1778.7 L504.5,1781.4 L508.0,1783.3 L511.5,1782.2 L515.0,1780.5 L518.4,1779.8 L521.7,1781.1 L524.9,1782.5 L527.8,1782.4 L531.3,1781.2 L534.3,1780.8 L537.1,1781.9 L539.8,1782.7 L542.4,1780.0 L545.1,1780.1 L548.1,1778.5 L551.4,1777.4 L555.5,1780.2" fill="none" stroke="#000" stroke-width="8" stroke-linejoin="round" stroke-linecap="round"/>
<path d="M383.4,1878.1 L383.1,1874.5 L388.2,1873.0 L389.6,1870.1 L389.7,1866.7 L388.4,1862.7 L389.3,1859.7 L390.4,1856.8 L393.4,1854.9 L393.0,1851.3 L394.1,1848.0 L398.7,1846.7 L399.6,1843.3 L400.9,1840.3 L404.8,1838.8 L405.9,1835.7 L405.5,1831.8 L408.6,1830.2 L407.7,1826.1 L409.6,1823.1 L414.0,1822.4 L415.8,1820.0 L419.1,1818.9 L419.7,1815.4 L420.8,1812.1 L425.2,1811.9 L424.5,1806.5 L429.7,1807.4 L432.5,1805.3 L434.9,1802.9 L434.9,1797.4 L439.8,1798.1 L442.0,1795.6 L445.6,1795.5 L446.5,1790.1 L449.8,1789.2 L454.4,1791.8 L455.8,1786.3 L458.9,1785.4 L462.0,1784.8 L464.8,1783.4 L467.7,1782.9 L471.4,1785.7 L473.7,1784.6 L475.3,1780.1 L479.0,1782.9 L481.9,1779.7 L486.0,1778.5 L488.8,1781.5 L491.5,1778.7 L494.5,1778.8 L497.8,1781.3 L501.1,1779.5 L504.5,1781.9 L508.0,1782.1 L511.5,1781.3 L515.0,1779.8 L518.4,1782.2 L521.7,1779.7 L524.8,1778.1 L527.8,1779.1 L531.3,1781.8 L534.3,1782.8 L537.0,1778.5 L539.7,1778.3 L542.3,1778.8 L545.1,1779.3 L548.2,1780.6 L551.5,1780.2 L555.5,1780.2" fill="none" stroke="#000" stroke-width="8" stroke-linejoin="round" stroke-linecap="round"/>
<path d="M462.5,1786.6 L465.5,1785.7 L468.3,1784.8 L470.8,1784.0 L473.3,1783.2 L475.9,1782.5 L478.8,1781.9 L482.1,1781.4 L486.2,1781.0 L488.7,1780.8 L491.5,1780.8 L494.6,1780.7 L497.8,1780.7 L501.1,1780.7 L504.5,1780.7 L508.0,1780.8 L511.5,1780.9 L515.0,1780.9 L518.4,1781.0 L521.7,1781.0 L524.9,1781.0 L527.8,1781.0 L531.2,1780.9 L534.3,1780.9 L537.1,1780.8 L539.7,1780.8 L542.4,1780.7 L545.1,1780.6 L548.2,1780.5 L551.5,1780.3 L555.5,1780.2 L560.0,1780.0 L562.2,1779.9 L564.5,1779.8 L566.8,1779.7 L569.1,1779.6 L571.4,1779.4 L573.8,1779.3 L576.3,1779.2 L578.8,1779.0 L581.4,1778.9 L584.1,1778.7 L586.9,1778.6 L589.8,1778.4 L592.8,1778.3 L595.9,1778.1 L599.1,1778.0 L602.5,1777.8 L606.0,1777.7 L609.6,1777.5 L613.5,1777.4 L617.5,1777.3 L621.6,1777.1 L626.0,1777.0 L628.3,1776.9 L630.7,1776.9 L633.1,1776.8 L635.6,1776.7 L638.1,1776.7 L640.7,1776.6 L643.4,1776.5 L646.0,1776.5 L648.8,1776.4 L651.6,1776.3 L654.4,1776.3 L657.2,1776.2 L660.1,1776.1 L663.1,1776.0 L666.1,1776.0 L669.1,1775.9 L672.1,1775.8 L675.2,1775.8 L678.3,1775.7 L681.4,1775.6 L684.5,1775.6 L687.7,1775.5 L690.9,1775.4 L694.1,1775.4 L697.3,1775.3 L700.6,1775.2 L703.8,1775.2 L707.1,1775.1 L710.4,1775.1 L713.6,1775.0 L716.9,1775.0 L720.2,1774.9 L723.5,1774.9 L726.8,1774.8 L730.0,1774.8 L733.3,1774.7 L736.6,1774.7 L739.9,1774.7 L743.1,1774.6 L746.4,1774.6 L749.6,1774.6 L752.8,1774.5 L756.0,1774.5 L758.8,1774.5 L761.7,1774.5 L764.5,1774.4 L767.3,1774.4 L770.1,1774.4 L772.9,1774.4 L775.7,1774.4 L778.5,1774.4 L781.3,1774.4 L784.1,1774.4 L786.9,1774.4 L789.7,1774.4 L792.5,1774.4 L795.3,1774.4 L798.1,1774.5 L800.9,1774.5 L803.7,1774.5 L806.5,1774.5 L809.3,1774.5 L812.2,1774.5 L815.0,1774.5 L817.9,1774.6 L820.7,1774.6 L823.6,1774.6 L826.5,1774.6 L829.4,1774.6 L832.4,1774.7 L835.3,1774.7 L838.3,1774.7 L841.3,1774.7 L844.3,1774.7 L847.3,1774.8 L850.4,1774.8 L853.5,1774.8 L856.6,1774.8 L859.7,1774.8 L862.9,1774.9 L866.1,1774.9 L869.3,1774.9 L872.6,1774.9 L875.9,1774.9 L879.2,1774.9 L882.6,1775.0 L886.0,1775.0 L889.4,1775.0 L892.9,1775.0 L896.4,1775.0 L900.0,1775.0 L902.6,1775.0 L905.3,1775.0 L907.9,1775.0 L910.6,1775.0 L913.3,1775.0 L916.1,1775.0 L918.8,1775.0 L921.6,1775.0 L924.4,1775.0 L927.2,1775.0 L930.1,1775.1 L933.0,1775.1 L935.8,1775.1 L938.7,1775.1 L941.7,1775.1 L944.6,1775.1 L947.5,1775.1 L950.5,1775.1 L953.5,1775.1 L956.5,1775.1 L959.5,1775.1 L962.5,1775.1 L965.6,1775.1 L968.6,1775.1 L971.7,1775.1 L974.7,1775.1 L977.8,1775.1 L980.9,1775.1 L984.0,1775.1 L987.1,1775.1 L990.2,1775.2 L993.4,1775.2 L996.5,1775.2 L999.6,1775.2 L1002.8,1775.2 L1005.9,1775.2 L1009.1,1775.2 L1012.2,1775.2 L1015.4,1775.2 L1018.6,1775.2 L1021.7,1775.2 L1024.9,1775.2 L1028.1,1775.2 L1031.3,1775.2 L1034.4,1775.2 L1037.6,1775.2 L1040.8,1775.2 L1043.9,1775.2 L1047.1,1775.2 L1050.3,1775.2 L1053.4,1775.1 L1056.6,1775.1 L1059.7,1775.1 L1062.9,1775.1 L1066.0,1775.1 L1069.2,1775.1 L1072.3,1775.1 L1075.4,1775.1 L1078.5,1775.1 L1081.6,1775.1 L1084.7,1775.1 L1087.8,1775.1 L1090.9,1775.0 L1093.9,1775.0 L1097.0,1775.0 L1100.0,1775.0 L1103.0,1775.0 L1106.1,1775.0 L1109.1,1774.9 L1112.1,1774.9 L1115.2,1774.9 L1118.2,1774.9 L1121.2,1774.9 L1124.2,1774.8 L1127.3,1774.8 L1130.3,1774.8 L1133.3,1774.7 L1136.4,1774.7 L1139.4,1774.7 L1142.4,1774.6 L1145.5,1774.6 L1148.5,1774.6 L1151.5,1774.5 L1154.5,1774.5 L1157.6,1774.5 L1160.6,1774.4 L1163.6,1774.4 L1166.7,1774.4 L1169.7,1774.3 L1172.7,1774.3 L1175.8,1774.2 L1178.8,1774.2 L1181.8,1774.2 L1184.8,1774.1 L1187.9,1774.1 L1190.9,1774.0 L1193.9,1774.0 L1197.0,1773.9 L1200.0,1773.9 L1203.0,1773.9 L1206.1,1773.8 L1209.1,1773.8 L1212.1,1773.7 L1215.2,1773.7 L1218.2,1773.7 L1221.2,1773.6 L1224.2,1773.6 L1227.3,1773.6 L1230.3,1773.5 L1233.3,1773.5 L1236.4,1773.4 L1239.4,1773.4 L1242.4,1773.4 L1245.5,1773.3 L1248.5,1773.3 L1251.5,1773.3 L1254.5,1773.3 L1257.6,1773.2 L1260.6,1773.2 L1263.6,1773.2 L1266.7,1773.2 L1269.7,1773.1 L1272.7,1773.1 L1275.8,1773.1 L1278.8,1773.1 L1281.8,1773.1 L1284.8,1773.0 L1287.9,1773.0 L1290.9,1773.0 L1293.9,1773.0 L1297.0,1773.0 L1300.0,1773.0 L1303.0,1773.0 L1306.1,1773.0 L1309.2,1773.0 L1312.2,1773.0 L1315.3,1773.0 L1318.4,1773.0 L1321.5,1773.0 L1324.6,1773.0 L1327.8,1773.0 L1330.9,1773.1 L1334.0,1773.1 L1337.2,1773.1 L1340.3,1773.1 L1343.5,1773.1 L1346.7,1773.1 L1349.8,1773.2 L1353.0,1773.2 L1356.2,1773.2 L1359.3,1773.2 L1362.5,1773.3 L1365.7,1773.3 L1368.9,1773.3 L1372.1,1773.3 L1375.3,1773.4 L1378.4,1773.4 L1381.6,1773.4 L1384.8,1773.5 L1388.0,1773.5 L1391.1,1773.5 L1394.3,1773.6 L1397.4,1773.6 L1400.6,1773.6 L1403.8,1773.7 L1406.9,1773.7 L1410.0,1773.7 L1413.1,1773.8 L1416.3,1773.8 L1419.4,1773.8 L1422.5,1773.9 L1425.6,1773.9 L1428.6,1773.9 L1431.7,1774.0 L1434.7,1774.0 L1437.8,1774.0 L1440.8,1774.0 L1443.8,1774.1 L1446.8,1774.1 L1449.8,1774.1 L1452.7,1774.2 L1455.7,1774.2 L1458.6,1774.2 L1461.5,1774.3 L1464.4,1774.3 L1467.3,1774.3 L1470.1,1774.3 L1473.0,1774.3 L1475.8,1774.4 L1478.6,1774.4 L1481.3,1774.4 L1484.1,1774.4 L1486.8,1774.4 L1489.5,1774.5 L1492.2,1774.5 L1494.8,1774.5 L1497.4,1774.5 L1500.0,1774.5 L1503.7,1774.5 L1507.4,1774.5 L1511.1,1774.5 L1514.8,1774.5 L1518.4,1774.5 L1522.1,1774.5 L1525.7,1774.5 L1529.4,1774.5 L1533.0,1774.5 L1536.6,1774.4 L1540.2,1774.4 L1543.8,1774.4 L1547.3,1774.4 L1550.8,1774.3 L1554.3,1774.3 L1557.8,1774.3 L1561.2,1774.3 L1564.6,1774.2 L1568.0,1774.2 L1571.3,1774.2 L1574.6,1774.1 L1577.9,1774.1 L1581.1,1774.1 L1584.3,1774.0 L1587.4,1774.0 L1590.5,1774.0 L1593.5,1774.0 L1596.5,1773.9 L1599.5,1773.9 L1602.4,1773.9 L1605.2,1773.9 L1608.0,1773.9 L1610.7,1773.8 L1613.4,1773.8 L1616.0,1773.8 L1618.5,1773.8 L1621.0,1773.8 L1623.4,1773.8 L1625.7,1773.8 L1628.0,1773.8 L1630.2,1773.9 L1632.3,1773.9 L1634.3,1773.9 L1636.3,1773.9 L1638.2,1774.0 L1640.0,1774.0 L1649.4,1774.4 L1655.0,1774.8 L1657.9,1775.4 L1659.0,1776.1 L1659.5,1776.8 L1660.3,1777.6 L1662.5,1778.3 L1665.7,1779.0 L1668.9,1779.8 L1672.1,1780.5 L1675.4,1781.3 L1678.6,1782.2 L1681.8,1783.1 L1685.0,1784.0 L1688.2,1785.0 L1691.4,1786.1 L1694.6,1787.3 L1697.9,1788.5 L1701.1,1789.6 L1704.3,1790.8 L1707.5,1792.0 L1710.7,1793.2 L1713.9,1794.4 L1717.1,1795.6 L1720.4,1796.8 L1723.6,1797.9 L1726.8,1799.0 L1730.0,1800.0 L1733.2,1800.9 L1736.5,1801.8 L1739.7,1802.6 L1742.9,1803.4 L1746.2,1804.1 L1749.4,1804.7 L1752.6,1805.3 L1755.8,1805.8 L1759.0,1806.2 L1762.2,1806.6 L1765.4,1806.9 L1768.6,1807.2 L1771.8,1807.6 L1775.0,1808.0 L1778.3,1808.5 L1781.6,1809.0 L1784.9,1809.5 L1788.2,1810.0 L1791.5,1810.6 L1794.6,1811.3 L1797.6,1812.0 L1800.9,1812.9 L1804.0,1813.8 L1807.0,1814.8 L1809.9,1815.9" fill="none" stroke="#000" stroke-width="27" stroke-linejoin="round" stroke-linecap="round"/>
<path d="M462.5,1786.6 L465.5,1785.8 L465.8,1777.2 L469.7,1780.4 L469.9,1771.4 L473.8,1773.5 L479.7,1787.3 L483.0,1788.6 L485.5,1772.2 L488.6,1777.8 L491.2,1768.0 L494.6,1782.6 L497.8,1773.3 L501.1,1781.6 L504.5,1781.1 L508.1,1777.3 L511.3,1791.6 L514.9,1788.1 L518.5,1771.6 L521.8,1771.3 L524.8,1780.0 L527.8,1785.1 L531.1,1769.0 L534.1,1771.4 L536.9,1771.9 L539.6,1776.7 L542.2,1774.0 L545.6,1792.3 L547.8,1772.6 L552.0,1792.5 L554.9,1767.8 L560.4,1788.5 L562.7,1789.5 L564.5,1779.8 L566.1,1767.3 L568.8,1773.5 L571.6,1782.1 L573.3,1769.6 L575.7,1768.8 L578.9,1781.0 L581.5,1780.4 L584.0,1776.1 L587.3,1786.0 L590.2,1786.7 L592.7,1776.8 L596.2,1784.5 L599.6,1790.0 L602.0,1767.3 L605.6,1768.0 L609.5,1772.9 L613.8,1785.3 L617.5,1776.8 L621.5,1772.0 L626.3,1786.8 L628.1,1767.7 L630.8,1782.5 L632.9,1768.2 L635.4,1771.1 L638.2,1779.6 L641.1,1789.5 L643.7,1789.3 L645.7,1764.8 L648.7,1772.0 L651.5,1775.7 L654.7,1787.7 L657.3,1777.5 L660.3,1783.3 L662.8,1763.5 L665.9,1770.3 L669.3,1786.5 L672.2,1781.4 L675.2,1776.5 L678.3,1778.8 L681.3,1769.5 L684.8,1788.2 L687.7,1776.1 L690.9,1773.9 L694.2,1780.3 L697.5,1784.7 L700.6,1779.1 L703.7,1766.4 L707.1,1777.3 L710.2,1769.0 L713.4,1762.5 L717.0,1780.4 L720.3,1781.6 L723.4,1769.9 L726.7,1766.7 L729.9,1762.2 L733.5,1785.3 L736.7,1783.2 L740.0,1787.2 L743.2,1786.6 L746.4,1773.7 L749.5,1764.7 L752.8,1769.7 L755.9,1766.3 L758.9,1774.8 L761.7,1780.2 L764.5,1778.1 L767.3,1769.9 L770.1,1775.0 L772.9,1773.2 L775.8,1782.9 L778.5,1777.9 L781.3,1783.3 L784.1,1775.7 L786.9,1785.2 L789.7,1775.2 L792.5,1766.1 L795.3,1784.9 L798.1,1774.2 L800.9,1774.6 L803.7,1779.3 L806.5,1785.2 L809.3,1780.2 L812.2,1773.6 L815.1,1762.2 L817.8,1782.0 L820.8,1766.3 L823.7,1763.3 L826.5,1778.4 L829.4,1785.0 L832.4,1766.1 L835.3,1782.9 L838.2,1786.0 L841.4,1764.6 L844.3,1776.6 L847.3,1782.9 L850.3,1783.2 L853.4,1780.1 L856.6,1766.1 L859.7,1775.7 L862.9,1774.3 L866.1,1767.2 L869.4,1763.5 L872.6,1783.6 L875.9,1776.8 L879.3,1766.5 L882.6,1776.1 L886.0,1773.2 L889.4,1783.6 L892.9,1764.7 L896.4,1774.9 L900.0,1776.2 L902.6,1773.7 L905.3,1775.7 L907.9,1766.8 L910.6,1762.4 L913.3,1781.3 L916.1,1782.1 L918.9,1768.6 L921.6,1763.0 L924.4,1785.8 L927.2,1782.5 L930.1,1765.4 L932.9,1783.2 L935.8,1787.2 L938.8,1766.9 L941.7,1777.5 L944.6,1762.4 L947.5,1776.7 L950.5,1775.5 L953.5,1785.3 L956.5,1768.9 L959.5,1772.5 L962.5,1779.8 L965.5,1788.1 L968.6,1771.2 L971.6,1786.1 L974.7,1778.0 L977.8,1781.1 L980.9,1769.9 L984.0,1786.7 L987.1,1775.1 L990.2,1787.6 L993.4,1784.9 L996.5,1776.1 L999.6,1772.0 L1002.8,1770.9 L1005.9,1772.0 L1009.1,1783.0 L1012.2,1781.6 L1015.4,1784.8 L1018.6,1772.7 L1021.7,1775.8 L1024.9,1780.5 L1028.1,1785.2 L1031.3,1766.5 L1034.4,1786.4 L1037.6,1765.1 L1040.8,1763.0 L1043.9,1782.0 L1047.1,1767.7 L1050.3,1777.5 L1053.4,1763.2 L1056.6,1773.1 L1059.8,1785.6 L1062.9,1764.4 L1066.0,1770.9 L1069.2,1776.4 L1072.3,1780.2 L1075.4,1765.3 L1078.5,1765.0 L1081.6,1773.0 L1084.7,1787.7 L1087.8,1782.2 L1090.8,1770.9 L1094.0,1788.0 L1096.9,1769.6 L1100.0,1776.3 L1103.0,1768.7 L1106.0,1773.1 L1109.2,1785.1 L1112.1,1776.4 L1115.2,1780.5 L1118.3,1786.2 L1121.1,1763.0 L1124.2,1767.2 L1127.2,1765.3 L1130.3,1769.8 L1133.3,1770.0 L1136.3,1765.7 L1139.5,1786.2 L1142.5,1785.5 L1145.5,1775.6 L1148.6,1786.9 L1151.6,1781.2 L1154.5,1767.5 L1157.7,1786.3 L1160.6,1777.6 L1163.6,1767.7 L1166.5,1762.0 L1169.8,1780.7 L1172.6,1763.9 L1175.7,1767.1 L1178.8,1774.9 L1181.9,1780.6 L1184.7,1761.2 L1188.0,1780.0 L1190.9,1770.0 L1193.9,1773.5 L1197.0,1779.0 L1200.0,1771.8 L1203.2,1786.5 L1206.1,1775.7 L1209.2,1783.4 L1212.1,1773.7 L1215.1,1766.4 L1218.0,1761.2 L1221.3,1782.5 L1224.4,1786.3 L1227.4,1780.9 L1230.4,1778.8 L1233.5,1785.9 L1236.3,1770.5 L1239.5,1779.5 L1242.4,1774.4 L1245.5,1781.0 L1248.4,1762.4 L1251.5,1776.5 L1254.5,1768.8 L1257.6,1781.4 L1260.7,1783.9 L1263.5,1761.3 L1266.6,1769.7 L1269.7,1768.4 L1272.7,1772.7 L1275.7,1768.0 L1278.9,1784.3 L1281.9,1785.4 L1284.9,1783.0 L1287.8,1760.5 L1290.9,1779.1 L1293.9,1772.4 L1297.0,1767.3 L1300.0,1776.2 L1303.0,1778.1 L1306.1,1783.3 L1309.1,1780.3 L1312.2,1773.5 L1315.3,1769.4 L1318.4,1782.2 L1321.5,1772.9 L1324.7,1760.4 L1327.7,1774.7 L1330.9,1775.8 L1334.0,1770.3 L1337.1,1779.3 L1340.3,1774.6 L1343.4,1781.0 L1346.6,1775.4 L1349.8,1775.5 L1352.9,1779.1 L1356.1,1779.2 L1359.3,1781.2 L1362.5,1782.3 L1365.6,1781.7 L1368.8,1778.7 L1372.1,1770.4 L1375.1,1785.0 L1378.6,1760.5 L1381.5,1783.7 L1384.7,1781.3 L1388.0,1771.4 L1391.2,1764.1 L1394.2,1782.8 L1397.4,1782.6 L1400.7,1765.8 L1403.7,1780.1 L1406.8,1779.9 L1410.1,1763.8 L1413.1,1774.9 L1416.2,1780.8 L1419.5,1764.4 L1422.5,1773.2 L1425.6,1772.9 L1428.7,1763.9 L1431.6,1779.0 L1434.7,1781.8 L1437.7,1780.4 L1440.8,1771.6 L1443.8,1774.4 L1446.7,1781.1 L1449.9,1762.2 L1452.8,1765.0 L1455.7,1771.6 L1458.6,1773.1 L1461.6,1769.6 L1464.4,1781.0 L1467.3,1767.4 L1470.1,1781.0 L1473.0,1767.2 L1475.8,1774.8 L1478.6,1773.2 L1481.2,1787.1 L1484.1,1764.0 L1486.7,1786.6 L1489.4,1782.9 L1492.2,1764.1 L1494.8,1782.7 L1497.4,1771.0 L1500.0,1770.9 L1503.7,1764.0 L1507.4,1777.1 L1511.1,1777.8 L1514.8,1782.6 L1518.5,1787.3 L1522.1,1764.3 L1525.7,1768.7 L1529.4,1772.3 L1533.0,1783.8 L1536.6,1782.9 L1540.2,1775.2 L1543.7,1763.0 L1547.2,1763.2 L1550.8,1773.1 L1554.4,1784.8 L1557.9,1785.4 L1561.2,1768.9 L1564.7,1779.8 L1567.9,1763.1 L1571.4,1784.7 L1574.6,1775.1 L1577.9,1772.1 L1581.0,1762.2 L1584.2,1767.2 L1587.3,1766.2 L1590.5,1769.6 L1593.6,1775.5 L1596.4,1763.4 L1599.4,1768.9 L1602.3,1764.6 L1605.2,1768.3 L1608.0,1784.7 L1610.7,1770.1 L1613.3,1768.1 L1615.9,1763.3 L1618.5,1773.7 L1621.0,1784.4 L1623.4,1785.2 L1625.7,1766.4 L1628.0,1761.3 L1630.2,1775.2 L1632.4,1765.1 L1634.5,1763.3 L1636.3,1774.0 L1638.1,1776.2 L1639.6,1786.4 L1649.6,1769.8 L1654.8,1776.3 L1655.1,1784.1 L1652.5,1783.7 L1657.7,1778.4 L1663.4,1771.3 L1659.1,1790.8 L1665.7,1779.2 L1669.0,1779.6 L1674.3,1771.8 L1677.5,1773.0 L1675.9,1792.2 L1683.0,1779.0 L1682.4,1792.3 L1691.2,1776.0 L1694.1,1778.4 L1690.4,1798.9 L1698.4,1786.9 L1697.4,1799.4 L1704.7,1789.8 L1706.4,1795.0 L1708.8,1798.5 L1714.7,1792.3 L1718.8,1791.2 L1724.7,1784.8 L1721.1,1805.0 L1726.2,1800.8 L1728.8,1804.1 L1736.3,1789.6 L1736.6,1801.4 L1737.5,1811.8 L1740.9,1812.2 L1746.3,1803.2 L1751.6,1793.1 L1754.5,1794.1 L1754.6,1814.1 L1759.9,1799.0 L1763.1,1797.5 L1766.4,1796.8 L1769.1,1802.6 L1770.6,1817.6 L1774.7,1810.0 L1777.1,1816.4 L1782.8,1801.0 L1784.3,1813.6 L1787.6,1813.4 L1792.8,1804.0 L1793.3,1816.9 L1798.6,1808.0 L1801.9,1809.2 L1800.6,1825.1 L1809.1,1808.9 L1809.9,1815.9" fill="none" stroke="#000" stroke-width="9" stroke-linejoin="round" stroke-linecap="round"/>
<path d="M462.5,1786.6 L469.2,1797.3 L470.7,1792.2 L470.7,1783.6 L474.0,1785.8 L477.9,1790.9 L480.5,1791.8 L481.4,1774.8 L486.0,1778.4 L488.2,1768.9 L491.6,1783.5 L494.6,1784.7 L497.8,1783.2 L501.1,1781.5 L504.7,1771.8 L508.0,1782.2 L511.4,1789.3 L515.1,1775.1 L518.4,1779.8 L521.7,1783.3 L524.8,1771.2 L527.9,1786.3 L531.2,1775.0 L534.5,1788.6 L537.1,1779.5 L539.7,1778.9 L542.7,1791.1 L544.9,1775.2 L547.9,1775.0 L552.0,1790.9 L555.1,1772.5 L560.4,1789.0 L562.0,1774.7 L564.8,1786.6 L566.9,1782.0 L569.5,1788.0 L571.6,1782.2 L573.2,1767.4 L576.7,1786.2 L579.5,1791.9 L581.6,1782.6 L584.0,1776.9 L586.3,1767.1 L589.1,1765.7 L592.6,1774.2 L595.9,1779.4 L599.4,1785.4 L602.9,1786.6 L605.7,1771.9 L609.7,1778.9 L613.9,1789.0 L617.5,1777.0 L621.9,1785.6 L626.2,1783.9 L628.4,1780.0 L630.7,1776.1 L632.9,1771.1 L635.4,1769.0 L637.8,1763.8 L640.9,1782.3 L643.1,1765.9 L646.0,1773.7 L649.0,1784.8 L651.4,1768.5 L654.3,1773.4 L657.0,1764.7 L660.0,1769.6 L663.3,1783.7 L665.8,1763.5 L669.1,1775.4 L672.1,1774.3 L675.4,1787.1 L678.4,1780.9 L681.4,1774.4 L684.5,1775.2 L687.5,1762.8 L690.8,1769.1 L694.2,1780.4 L697.3,1771.9 L700.4,1766.8 L703.7,1768.3 L706.9,1762.6 L710.2,1768.9 L713.5,1769.3 L717.1,1785.9 L720.1,1767.4 L723.6,1780.4 L726.7,1769.1 L730.1,1780.3 L733.3,1775.7 L736.7,1780.7 L740.0,1787.5 L743.1,1770.5 L746.4,1781.3 L749.5,1767.2 L752.7,1762.8 L756.0,1781.2 L758.8,1767.6 L761.8,1786.7 L764.5,1763.1 L767.3,1775.3 L770.1,1764.3 L773.0,1776.4 L775.8,1784.6 L778.5,1764.2 L781.3,1775.7 L784.1,1765.2 L786.9,1773.6 L789.7,1782.3 L792.5,1783.2 L795.3,1779.7 L798.1,1778.9 L800.8,1787.4 L803.7,1768.7 L806.5,1786.0 L809.3,1782.7 L812.2,1771.5 L814.9,1785.6 L817.8,1778.9 L820.7,1775.4 L823.6,1772.3 L826.4,1786.7 L829.4,1778.8 L832.3,1780.7 L835.3,1778.4 L838.3,1776.5 L841.4,1764.3 L844.3,1771.9 L847.4,1765.1 L850.4,1781.0 L853.4,1780.9 L856.6,1772.4 L859.8,1772.0 L862.8,1787.8 L866.0,1784.8 L869.3,1773.2 L872.6,1780.2 L875.9,1783.9 L879.2,1774.1 L882.6,1781.0 L886.0,1770.4 L889.4,1771.1 L892.9,1784.2 L896.4,1778.1 L900.0,1775.5 L902.6,1770.7 L905.2,1787.2 L907.9,1768.0 L910.6,1770.0 L913.3,1775.3 L916.1,1787.6 L918.8,1779.4 L921.6,1773.3 L924.4,1771.7 L927.2,1775.0 L930.1,1771.6 L933.0,1764.7 L935.8,1781.3 L938.7,1775.1 L941.6,1784.4 L944.6,1787.8 L947.5,1782.0 L950.5,1777.5 L953.5,1775.7 L956.5,1766.5 L959.5,1773.7 L962.5,1778.2 L965.5,1783.5 L968.6,1764.0 L971.7,1775.8 L974.7,1772.5 L977.8,1769.1 L980.9,1766.7 L984.0,1782.9 L987.1,1772.3 L990.2,1775.9 L993.4,1782.6 L996.5,1781.6 L999.6,1769.5 L1002.8,1772.1 L1005.9,1775.6 L1009.1,1782.0 L1012.2,1775.2 L1015.4,1779.9 L1018.6,1783.7 L1021.7,1786.7 L1024.9,1775.8 L1028.1,1778.0 L1031.3,1780.9 L1034.4,1787.6 L1037.6,1769.0 L1040.8,1783.1 L1043.9,1774.6 L1047.1,1777.4 L1050.3,1783.5 L1053.4,1782.8 L1056.6,1770.0 L1059.7,1782.0 L1062.9,1785.0 L1066.0,1766.1 L1069.2,1779.2 L1072.2,1764.8 L1075.4,1771.0 L1078.5,1766.3 L1081.6,1777.9 L1084.7,1771.1 L1087.8,1775.4 L1090.9,1787.5 L1093.9,1775.5 L1096.9,1769.5 L1100.1,1787.3 L1103.0,1770.6 L1106.1,1781.6 L1109.0,1767.3 L1112.1,1778.4 L1115.2,1785.3 L1118.1,1768.0 L1121.1,1764.6 L1124.3,1778.7 L1127.2,1764.8 L1130.4,1780.9 L1133.2,1762.0 L1136.3,1770.0 L1139.3,1764.8 L1142.3,1767.2 L1145.4,1768.2 L1148.6,1786.5 L1151.6,1784.2 L1154.4,1763.4 L1157.5,1769.5 L1160.5,1763.7 L1163.8,1784.0 L1166.6,1767.1 L1169.7,1774.1 L1172.7,1769.8 L1175.7,1767.7 L1178.8,1775.9 L1181.7,1767.6 L1184.9,1778.0 L1187.8,1770.2 L1191.0,1782.8 L1193.9,1767.6 L1196.9,1767.5 L1200.0,1770.6 L1203.0,1768.1 L1206.0,1767.2 L1209.2,1785.6 L1212.1,1774.9 L1215.0,1763.1 L1218.2,1771.6 L1221.1,1767.0 L1224.2,1773.0 L1227.2,1765.4 L1230.4,1784.6 L1233.4,1779.6 L1236.4,1772.4 L1239.3,1763.4 L1242.4,1770.4 L1245.4,1767.7 L1248.6,1786.2 L1251.6,1781.8 L1254.6,1777.1 L1257.5,1760.2 L1260.6,1772.9 L1263.6,1769.6 L1266.6,1763.5 L1269.7,1770.3 L1272.7,1764.8 L1275.8,1772.8 L1278.7,1763.9 L1281.9,1785.4 L1284.8,1773.2 L1287.9,1768.5 L1290.9,1785.2 L1294.0,1780.8 L1297.0,1770.8 L1300.0,1778.3 L1303.0,1784.8 L1306.1,1774.6 L1309.1,1781.1 L1312.2,1778.8 L1315.3,1771.1 L1318.4,1769.6 L1321.5,1777.5 L1324.7,1766.9 L1327.8,1764.9 L1330.9,1761.1 L1334.0,1772.4 L1337.1,1781.6 L1340.3,1776.1 L1343.4,1780.7 L1346.6,1782.8 L1349.8,1780.8 L1352.9,1779.6 L1356.1,1777.0 L1359.4,1764.1 L1362.5,1770.4 L1365.8,1765.1 L1368.8,1785.8 L1372.1,1770.8 L1375.1,1784.9 L1378.4,1772.0 L1381.6,1772.8 L1384.7,1781.2 L1388.0,1773.6 L1391.0,1783.9 L1394.3,1774.9 L1397.4,1782.0 L1400.5,1779.7 L1403.7,1773.9 L1407.0,1762.6 L1410.1,1767.2 L1413.2,1765.6 L1416.4,1765.7 L1419.4,1767.9 L1422.4,1780.8 L1425.5,1774.8 L1428.5,1785.5 L1431.7,1771.2 L1434.7,1773.8 L1437.9,1765.4 L1440.8,1774.8 L1443.9,1763.1 L1446.7,1782.1 L1449.7,1785.1 L1452.7,1779.8 L1455.8,1764.6 L1458.6,1771.9 L1461.4,1785.7 L1464.5,1764.4 L1467.3,1767.5 L1470.1,1776.1 L1473.0,1766.3 L1475.8,1771.6 L1478.6,1775.3 L1481.4,1766.8 L1484.1,1763.2 L1486.8,1780.0 L1489.5,1764.1 L1492.1,1781.0 L1494.8,1776.2 L1497.5,1763.3 L1500.0,1770.4 L1503.7,1764.8 L1507.4,1775.4 L1511.1,1765.3 L1514.8,1773.4 L1518.4,1780.2 L1522.1,1773.5 L1525.7,1761.5 L1529.4,1780.8 L1533.0,1771.9 L1536.6,1780.4 L1540.2,1783.2 L1543.7,1762.5 L1547.2,1767.6 L1550.9,1786.3 L1554.4,1780.7 L1557.8,1775.5 L1561.1,1766.3 L1564.5,1762.9 L1567.9,1761.3 L1571.2,1766.1 L1574.5,1764.3 L1577.8,1768.3 L1581.1,1779.6 L1584.2,1770.5 L1587.4,1767.6 L1590.4,1766.7 L1593.6,1776.3 L1596.5,1767.8 L1599.4,1768.6 L1602.4,1786.3 L1605.2,1769.4 L1607.9,1765.2 L1610.7,1775.7 L1613.4,1775.4 L1615.9,1768.5 L1618.5,1764.3 L1621.0,1775.0 L1623.4,1766.1 L1625.7,1779.2 L1628.0,1771.7 L1630.2,1770.8 L1632.3,1770.8 L1634.3,1776.0 L1636.2,1783.0 L1638.1,1777.6 L1640.3,1764.4 L1649.3,1776.4 L1656.1,1766.5 L1655.9,1781.7 L1657.1,1778.3 L1658.4,1777.8 L1658.8,1780.8 L1662.0,1780.1 L1668.5,1766.8 L1670.2,1774.4 L1669.5,1791.5 L1675.8,1779.6 L1679.1,1780.1 L1682.1,1781.9 L1682.3,1792.8 L1685.7,1792.6 L1694.2,1778.2 L1692.3,1793.8 L1695.1,1795.8 L1700.4,1791.4 L1708.3,1780.0 L1703.7,1802.5 L1711.9,1789.8 L1717.8,1784.0 L1718.5,1791.9 L1719.7,1798.6 L1722.6,1800.7 L1728.9,1792.5 L1729.9,1800.2 L1735.7,1791.8 L1738.7,1793.2 L1742.0,1793.2 L1741.8,1808.2 L1748.4,1793.1 L1748.5,1809.2 L1754.6,1793.9 L1756.0,1804.7 L1757.6,1818.3 L1762.8,1800.8 L1765.4,1807.0 L1767.6,1816.5 L1771.5,1809.7 L1774.2,1813.4 L1779.5,1799.9 L1781.3,1810.6 L1786.1,1802.2 L1787.5,1814.0 L1792.1,1807.5 L1796.0,1805.1 L1795.9,1818.4 L1802.2,1808.0 L1801.1,1823.4 L1808.3,1811.2 L1809.9,1815.9" fill="none" stroke="#000" stroke-width="9" stroke-linejoin="round" stroke-linecap="round"/>
<path d="M462.5,1786.6 L467.2,1790.9 L467.9,1783.7 L472.2,1788.1 L476.1,1793.0 L475.5,1780.9 L480.6,1792.5 L483.6,1793.5 L486.3,1782.0 L488.1,1768.0 L491.9,1793.4 L494.6,1787.4 L497.8,1788.6 L501.1,1778.0 L504.5,1782.4 L508.2,1773.4 L511.5,1781.4 L515.0,1778.9 L518.6,1770.6 L521.6,1794.0 L524.9,1780.6 L527.9,1786.5 L531.2,1779.5 L534.1,1772.9 L537.1,1780.2 L539.4,1768.0 L542.3,1776.9 L545.2,1781.5 L548.2,1782.7 L551.2,1770.6 L555.2,1774.1 L560.1,1783.0 L561.8,1769.2 L564.2,1773.3 L567.2,1787.6 L569.3,1783.6 L571.8,1785.6 L574.5,1791.0 L576.2,1777.6 L579.2,1785.3 L581.7,1784.6 L584.3,1781.4 L587.5,1789.4 L589.4,1771.1 L592.4,1771.6 L595.9,1779.3 L599.4,1785.1 L602.1,1769.8 L606.3,1786.4 L609.7,1780.0 L613.2,1768.6 L617.8,1787.1 L621.8,1780.8 L626.1,1781.3 L628.2,1774.1 L630.6,1772.9 L632.9,1768.5 L635.6,1777.2 L638.4,1787.4 L640.5,1769.2 L643.4,1777.9 L646.0,1775.1 L649.1,1788.4 L651.4,1768.2 L654.2,1769.0 L657.0,1767.9 L660.4,1784.9 L663.1,1777.6 L666.2,1781.9 L669.1,1775.6 L672.0,1771.6 L675.0,1767.2 L678.0,1764.3 L681.3,1771.9 L684.6,1776.9 L687.7,1773.4 L690.9,1776.8 L694.0,1770.3 L697.6,1787.4 L700.7,1780.1 L703.7,1768.3 L707.0,1773.0 L710.2,1766.0 L713.5,1768.8 L717.0,1778.3 L720.0,1762.0 L723.6,1784.0 L726.8,1777.0 L730.2,1786.9 L733.3,1768.8 L736.7,1785.1 L740.0,1786.6 L743.1,1776.9 L746.3,1771.5 L749.6,1770.4 L752.8,1777.9 L756.0,1772.1 L758.9,1785.7 L761.7,1782.5 L764.5,1776.3 L767.3,1763.0 L770.1,1772.5 L772.9,1763.9 L775.8,1786.0 L778.5,1782.6 L781.3,1780.2 L784.1,1781.4 L786.9,1766.6 L789.7,1786.6 L792.5,1781.9 L795.3,1773.7 L798.1,1776.0 L800.9,1783.4 L803.7,1777.2 L806.5,1778.4 L809.3,1773.7 L812.1,1781.2 L814.9,1785.5 L817.8,1784.7 L820.7,1773.9 L823.6,1779.3 L826.6,1765.9 L829.5,1772.5 L832.3,1784.3 L835.3,1780.5 L838.2,1781.2 L841.2,1787.0 L844.3,1769.9 L847.3,1779.9 L850.4,1772.1 L853.4,1781.2 L856.6,1769.8 L859.8,1771.2 L863.0,1766.0 L866.1,1779.8 L869.3,1781.8 L872.5,1787.6 L876.0,1762.0 L879.2,1776.1 L882.5,1787.8 L886.0,1783.6 L889.5,1769.3 L892.9,1763.1 L896.4,1786.5 L900.0,1783.1 L902.6,1778.4 L905.3,1775.5 L907.9,1770.0 L910.6,1780.6 L913.3,1782.7 L916.1,1765.3 L918.8,1772.9 L921.6,1772.5 L924.4,1766.9 L927.3,1770.7 L930.1,1763.6 L933.0,1771.6 L935.8,1782.8 L938.7,1774.0 L941.7,1776.4 L944.6,1770.8 L947.5,1772.4 L950.5,1779.5 L953.5,1766.2 L956.5,1767.6 L959.5,1768.2 L962.5,1783.6 L965.5,1778.9 L968.6,1768.3 L971.7,1766.1 L974.7,1783.9 L977.8,1785.5 L980.9,1775.9 L984.0,1764.4 L987.1,1769.0 L990.2,1776.0 L993.4,1765.9 L996.5,1770.6 L999.6,1776.7 L1002.8,1788.1 L1005.9,1774.3 L1009.1,1773.5 L1012.2,1775.8 L1015.4,1773.4 L1018.6,1773.0 L1021.7,1775.9 L1024.9,1783.6 L1028.1,1763.3 L1031.3,1767.0 L1034.4,1772.9 L1037.6,1782.9 L1040.8,1776.4 L1044.0,1787.9 L1047.1,1770.4 L1050.3,1762.5 L1053.4,1787.2 L1056.6,1769.6 L1059.7,1775.0 L1062.9,1786.5 L1066.0,1784.4 L1069.2,1779.9 L1072.3,1778.1 L1075.4,1779.5 L1078.5,1766.8 L1081.6,1774.4 L1084.7,1766.7 L1087.8,1767.7 L1090.9,1780.5 L1093.9,1772.7 L1096.9,1767.4 L1100.0,1773.3 L1103.1,1779.7 L1106.1,1785.7 L1109.1,1779.7 L1112.1,1776.1 L1115.1,1774.2 L1118.2,1779.8 L1121.3,1784.3 L1124.1,1763.9 L1127.3,1776.2 L1130.2,1763.5 L1133.4,1776.7 L1136.4,1775.2 L1139.4,1777.8 L1142.3,1764.3 L1145.5,1782.2 L1148.5,1774.4 L1151.4,1761.6 L1154.6,1779.8 L1157.6,1774.1 L1160.8,1786.5 L1163.5,1767.5 L1166.8,1784.0 L1169.8,1784.6 L1172.7,1768.5 L1175.9,1783.5 L1178.8,1775.0 L1181.7,1765.8 L1184.9,1777.9 L1188.0,1780.0 L1190.8,1769.6 L1194.0,1780.5 L1196.8,1761.4 L1199.9,1767.1 L1202.9,1767.1 L1206.0,1769.2 L1209.0,1770.2 L1212.0,1763.9 L1215.0,1764.2 L1218.3,1783.0 L1221.1,1764.1 L1224.4,1783.9 L1227.3,1776.0 L1230.3,1770.9 L1233.4,1777.2 L1236.4,1780.1 L1239.3,1762.2 L1242.3,1766.5 L1245.4,1766.9 L1248.6,1785.8 L1251.5,1772.8 L1254.4,1762.6 L1257.6,1773.0 L1260.6,1775.7 L1263.7,1778.5 L1266.7,1774.4 L1269.8,1783.4 L1272.7,1770.4 L1275.8,1779.4 L1278.8,1770.1 L1281.8,1768.6 L1284.9,1778.5 L1287.8,1763.5 L1290.9,1784.6 L1294.0,1778.4 L1297.0,1765.1 L1300.0,1773.8 L1303.0,1762.0 L1306.1,1761.3 L1309.2,1762.9 L1312.2,1769.2 L1315.3,1773.5 L1318.4,1763.1 L1321.5,1770.8 L1324.6,1774.5 L1327.7,1777.7 L1330.9,1761.5 L1334.0,1768.9 L1337.2,1776.8 L1340.3,1782.9 L1343.5,1768.3 L1346.7,1763.4 L1349.8,1780.7 L1353.0,1768.9 L1356.2,1772.1 L1359.3,1782.4 L1362.6,1769.6 L1365.8,1767.4 L1368.8,1779.9 L1372.0,1779.7 L1375.2,1782.9 L1378.5,1765.1 L1381.5,1785.8 L1384.9,1766.1 L1387.9,1778.4 L1391.2,1770.7 L1394.2,1785.7 L1397.3,1784.8 L1400.5,1783.4 L1403.7,1777.9 L1407.0,1767.0 L1409.9,1786.4 L1413.2,1772.5 L1416.3,1767.8 L1419.3,1781.1 L1422.6,1761.1 L1425.5,1774.3 L1428.6,1773.4 L1431.7,1776.1 L1434.8,1769.7 L1437.7,1780.7 L1440.8,1776.6 L1443.9,1762.8 L1446.8,1770.6 L1449.7,1778.2 L1452.8,1767.5 L1455.8,1766.6 L1458.6,1776.3 L1461.6,1762.9 L1464.3,1784.1 L1467.2,1785.9 L1470.2,1764.5 L1473.0,1770.3 L1475.8,1770.1 L1478.5,1778.9 L1481.3,1772.8 L1484.1,1774.8 L1486.8,1764.6 L1489.4,1781.7 L1492.2,1772.1 L1494.8,1784.2 L1497.5,1763.1 L1500.0,1773.4 L1503.7,1779.9 L1507.4,1774.7 L1511.1,1786.9 L1514.8,1782.4 L1518.4,1785.1 L1522.1,1773.9 L1525.7,1762.2 L1529.4,1783.1 L1533.0,1783.0 L1536.6,1766.1 L1540.1,1764.9 L1543.7,1771.1 L1547.2,1766.3 L1550.9,1779.7 L1554.4,1782.2 L1557.7,1768.9 L1561.2,1777.7 L1564.6,1776.4 L1567.9,1763.5 L1571.2,1765.7 L1574.5,1767.3 L1577.9,1774.4 L1581.0,1766.8 L1584.2,1771.2 L1587.4,1778.3 L1590.5,1769.6 L1593.6,1779.7 L1596.6,1779.0 L1599.5,1772.4 L1602.4,1780.2 L1605.2,1771.6 L1608.0,1781.2 L1610.7,1769.6 L1613.4,1784.0 L1616.0,1773.7 L1618.5,1782.0 L1621.0,1783.9 L1623.4,1773.7 L1625.7,1782.1 L1628.0,1776.1 L1630.3,1763.5 L1632.3,1772.7 L1634.3,1779.4 L1636.2,1779.3 L1638.4,1765.1 L1639.8,1778.7 L1649.4,1774.1 L1655.5,1771.0 L1660.1,1768.2 L1657.2,1778.2 L1651.8,1783.6 L1663.5,1771.0 L1662.4,1778.6 L1664.4,1784.9 L1668.2,1782.8 L1671.2,1784.6 L1677.7,1772.2 L1678.8,1781.3 L1679.8,1789.9 L1683.6,1788.5 L1689.6,1780.9 L1689.9,1790.4 L1691.7,1795.4 L1696.3,1792.7 L1698.2,1797.3 L1703.9,1791.8 L1709.3,1787.0 L1712.3,1788.9 L1714.7,1792.4 L1717.6,1794.3 L1720.9,1795.3 L1723.6,1797.9 L1723.4,1809.5 L1726.3,1812.3 L1733.1,1801.4 L1738.9,1792.4 L1739.9,1801.7 L1744.2,1797.7 L1744.9,1809.9 L1748.9,1807.2 L1750.6,1817.1 L1755.4,1808.9 L1757.9,1815.4 L1762.9,1800.0 L1765.2,1808.8 L1768.5,1808.3 L1772.8,1799.3 L1775.0,1807.9 L1777.7,1812.4 L1783.0,1799.4 L1785.3,1807.0 L1788.1,1810.5 L1792.9,1803.4 L1796.0,1805.1 L1799.4,1805.1 L1801.1,1812.2 L1807.0,1804.0 L1805.3,1819.5 L1809.9,1815.9" fill="none" stroke="#000" stroke-width="9" stroke-linejoin="round" stroke-linecap="round"/>
<path d="M1791.5,1810.6 L1794.6,1811.3 L1797.6,1812.0 L1800.9,1812.9 L1804.0,1813.8 L1807.0,1814.8 L1809.9,1815.9 L1812.8,1817.3 L1815.6,1819.0 L1818.0,1820.7 L1820.4,1822.6 L1822.8,1824.7 L1825.1,1827.0 L1827.3,1829.4 L1829.4,1831.9 L1831.4,1834.6 L1833.0,1837.0 L1834.6,1839.6 L1836.0,1842.2 L1837.4,1844.9 L1838.8,1847.8 L1840.1,1850.8 L1841.3,1853.8 L1842.6,1857.0 L1843.6,1859.6 L1844.6,1862.3 L1845.5,1865.1 L1846.5,1868.0 L1847.4,1870.9 L1848.3,1873.9 L1849.1,1877.0 L1850.0,1880.0 L1850.8,1883.2 L1851.6,1886.3 L1852.3,1889.2 L1853.0,1892.2 L1853.6,1895.2 L1854.2,1898.2" fill="none" stroke="#000" stroke-width="15" stroke-linejoin="round" stroke-linecap="round"/>
<path d="M1791.5,1810.6 L1794.3,1812.5 L1797.6,1811.8 L1800.5,1814.3 L1803.7,1814.8 L1807.1,1814.4 L1809.7,1816.3 L1813.1,1816.7 L1815.1,1819.8 L1818.3,1820.3 L1821.0,1821.9 L1823.5,1823.9 L1825.7,1826.3 L1828.1,1828.7 L1829.8,1831.6 L1831.7,1834.4 L1834.5,1836.1 L1833.9,1840.0 L1837.0,1841.7 L1836.6,1845.4 L1839.6,1847.4 L1839.7,1850.9 L1841.2,1853.9 L1841.4,1857.5 L1843.2,1859.8 L1845.1,1862.1 L1844.0,1865.6 L1846.1,1868.1 L1848.2,1870.7 L1848.6,1873.8 L1848.0,1877.3 L1849.6,1880.2 L1849.2,1883.6 L1851.8,1886.2 L1852.2,1889.2 L1853.6,1892.0 L1853.8,1895.1 L1854.2,1898.2" fill="none" stroke="#000" stroke-width="8" stroke-linejoin="round" stroke-linecap="round"/>
<path d="M290.0,2820.0 L290.1,2818.3 L290.2,2816.3 L290.4,2814.0 L290.5,2811.5 L290.7,2808.7 L290.9,2805.8 L291.1,2802.7 L291.2,2799.4 L291.5,2796.0 L291.7,2792.4 L291.9,2788.8 L292.1,2785.1 L292.3,2781.3 L292.6,2777.5 L292.8,2773.8 L293.0,2770.0 L293.2,2767.4 L293.3,2764.6 L293.5,2761.9 L293.6,2759.0 L293.8,2756.1 L294.0,2753.2 L294.1,2750.2 L294.3,2747.1 L294.5,2744.1 L294.7,2741.0 L294.8,2737.8 L295.0,2734.7 L295.2,2731.5 L295.4,2728.3 L295.6,2725.1 L295.8,2721.9 L295.9,2718.8 L296.1,2715.6 L296.3,2712.4 L296.5,2709.3 L296.6,2706.2 L296.8,2703.1 L297.0,2700.0 L297.2,2697.0 L297.3,2693.9 L297.5,2690.9 L297.7,2687.8 L297.9,2684.8 L298.0,2681.7 L298.2,2678.7 L298.4,2675.7 L298.5,2672.6 L298.7,2669.6 L298.9,2666.5 L299.0,2663.5 L299.2,2660.4 L299.4,2657.4 L299.5,2654.3 L299.7,2651.3 L299.9,2648.3 L300.1,2645.2 L300.2,2642.2 L300.4,2639.1 L300.6,2636.1 L300.8,2633.0 L301.0,2630.0 L301.2,2627.0 L301.4,2623.9 L301.6,2620.9 L301.8,2617.8 L302.0,2614.8 L302.2,2611.7 L302.4,2608.7 L302.7,2605.7 L302.9,2602.6 L303.1,2599.6 L303.3,2596.5 L303.5,2593.5 L303.8,2590.4 L304.0,2587.4 L304.2,2584.3 L304.4,2581.3 L304.7,2578.3 L304.9,2575.2 L305.1,2572.2 L305.3,2569.1 L305.6,2566.1 L305.8,2563.0 L306.0,2560.0 L306.2,2557.0 L306.4,2553.9 L306.6,2550.9 L306.9,2547.8 L307.1,2544.8 L307.3,2541.7 L307.5,2538.7 L307.7,2535.7 L307.9,2532.6 L308.1,2529.6 L308.3,2526.5 L308.5,2523.5 L308.8,2520.4 L309.0,2517.4 L309.2,2514.3 L309.4,2511.3 L309.6,2508.3 L309.8,2505.2 L310.1,2502.2 L310.3,2499.1 L310.5,2496.1 L310.8,2493.0 L311.0,2490.0 L311.2,2487.0 L311.5,2483.9 L311.7,2480.9 L312.0,2477.8 L312.2,2474.8 L312.5,2471.7 L312.8,2468.7 L313.0,2465.7 L313.3,2462.6 L313.5,2459.6 L313.8,2456.5 L314.1,2453.5 L314.3,2450.4 L314.6,2447.4 L314.9,2444.3 L315.1,2441.3 L315.4,2438.3 L315.7,2435.2 L315.9,2432.2 L316.2,2429.1 L316.5,2426.1 L316.7,2423.0 L317.0,2420.0 L317.3,2417.0 L317.5,2413.9 L317.8,2410.9 L318.0,2407.8 L318.3,2404.8 L318.5,2401.7 L318.8,2398.7 L319.0,2395.7 L319.3,2392.6 L319.6,2389.6 L319.8,2386.5 L320.1,2383.5 L320.3,2380.4 L320.6,2377.4 L320.8,2374.3 L321.1,2371.3 L321.4,2368.3 L321.6,2365.2 L321.9,2362.2 L322.2,2359.1 L322.4,2356.1 L322.7,2353.0 L323.0,2350.0 L323.3,2347.0 L323.6,2343.9 L323.9,2340.9 L324.1,2337.8 L324.4,2334.8 L324.7,2331.7 L325.0,2328.7 L325.3,2325.7 L325.6,2322.6 L325.9,2319.6 L326.2,2316.5 L326.5,2313.5 L326.8,2310.4 L327.1,2307.4 L327.5,2304.3 L327.8,2301.3 L328.1,2298.3 L328.4,2295.2 L328.7,2292.2 L329.0,2289.1 L329.4,2286.1 L329.7,2283.0 L330.0,2280.0 L330.3,2277.0 L330.7,2273.9 L331.0,2270.9 L331.3,2267.8 L331.7,2264.8 L332.0,2261.7 L332.3,2258.7 L332.7,2255.7 L333.0,2252.6 L333.4,2249.6 L333.7,2246.5 L334.0,2243.5 L334.4,2240.4 L334.8,2237.4 L335.1,2234.3 L335.5,2231.3 L335.8,2228.3 L336.2,2225.2 L336.5,2222.2 L336.9,2219.1 L337.3,2216.1 L337.6,2213.0 L338.0,2210.0 L338.4,2207.0 L338.7,2203.9 L339.1,2200.9 L339.5,2197.8 L339.9,2194.8 L340.3,2191.7 L340.6,2188.7 L341.0,2185.7 L341.4,2182.6 L341.8,2179.6 L342.2,2176.5 L342.6,2173.5 L343.0,2170.4 L343.4,2167.4 L343.8,2164.3 L344.2,2161.3 L344.6,2158.3 L345.0,2155.2 L345.4,2152.2 L345.8,2149.1 L346.2,2146.1 L346.6,2143.0 L347.0,2140.0 L347.4,2137.0 L347.8,2133.9 L348.3,2130.9 L348.7,2127.8 L349.1,2124.8 L349.5,2121.7 L350.0,2118.7 L350.4,2115.6 L350.8,2112.6 L351.3,2109.5 L351.7,2106.5 L352.2,2103.4 L352.6,2100.4 L353.0,2097.3 L353.5,2094.3 L353.9,2091.2 L354.4,2088.2 L354.8,2085.2 L355.2,2082.1 L355.7,2079.1 L356.1,2076.1 L356.6,2073.0 L357.0,2070.0 L357.4,2067.0 L357.9,2063.9 L358.3,2060.9 L358.7,2057.8 L359.2,2054.7 L359.6,2051.6 L360.0,2048.5 L360.4,2045.4 L360.9,2042.3 L361.3,2039.2 L361.7,2036.2 L362.2,2033.1 L362.6,2030.0 L363.0,2027.0 L363.4,2024.0 L363.9,2021.0 L364.3,2018.0 L364.8,2015.1 L365.2,2012.2 L365.6,2009.4 L366.1,2006.5 L366.5,2003.7 L367.0,2001.0 L367.6,1997.7 L368.1,1994.5 L368.7,1991.3 L369.2,1988.1 L369.8,1985.0 L370.4,1981.9 L370.9,1978.8 L371.5,1975.8 L372.1,1972.8 L372.7,1969.8 L373.2,1966.9 L373.8,1964.0 L374.4,1961.2 L375.0,1958.4 L375.6,1955.6 L376.2,1952.9 L376.8,1950.2 L377.4,1947.6 L378.0,1945.0 L378.8,1941.6 L379.6,1938.3 L380.4,1935.2 L381.2,1932.2 L382.0,1929.2 L382.8,1926.3 L383.6,1923.5 L384.5,1920.7 L385.3,1917.9 L386.2,1915.0 L387.1,1912.1 L388.0,1909.2 L389.0,1906.2 L390.0,1903.0 L390.9,1900.1 L391.9,1897.2 L392.8,1894.2 L393.8,1891.1 L394.8,1888.0 L395.8,1884.9 L396.9,1881.8 L397.9,1878.6 L399.0,1875.5 L400.1,1872.4 L401.2,1869.3 L402.4,1866.3 L403.5,1863.3 L404.6,1860.5 L405.8,1857.7 L407.0,1855.0 L408.5,1851.8 L409.9,1848.7 L411.3,1845.7 L412.8,1842.7 L414.3,1839.8 L415.8,1837.0 L417.3,1834.3 L418.9,1831.6 L420.6,1828.9 L422.3,1826.4 L424.1,1823.9 L426.0,1821.4 L428.0,1819.0 L430.0,1816.6 L432.1,1814.3 L434.1,1812.1 L436.2,1809.8 L438.3,1807.7 L440.5,1805.6 L442.9,1803.6 L445.3,1801.6 L447.9,1799.7 L450.6,1797.9 L453.5,1796.2 L456.7,1794.5 L460.0,1793.0 L462.4,1792.0 L464.8,1791.0 L467.3,1790.1 L469.8,1789.3 L472.3,1788.4 L475.0,1787.6 L477.7,1786.9 L480.4,1786.2 L483.3,1785.5 L486.2,1784.8 L489.3,1784.2 L492.4,1783.6 L495.7,1783.0 L499.1,1782.5 L502.6,1782.0 L506.2,1781.4 L510.0,1780.9 L513.9,1780.5 L518.0,1780.0 L520.4,1779.7 L522.9,1779.5 L525.5,1779.3 L528.1,1779.1 L530.8,1778.8 L533.6,1778.7 L536.4,1778.5 L539.3,1778.3 L542.2,1778.1 L545.1,1778.0 L548.1,1777.8 L551.2,1777.7 L554.3,1777.6 L557.4,1777.4 L560.5,1777.3 L563.7,1777.2 L566.8,1777.1 L570.0,1777.0 L573.3,1776.9 L576.5,1776.8 L579.7,1776.7 L583.0,1776.6 L586.2,1776.5 L589.4,1776.4 L592.7,1776.3 L595.9,1776.2 L599.1,1776.1 L602.3,1776.0 L605.5,1775.9 L608.7,1775.8 L611.8,1775.7 L614.9,1775.6 L618.0,1775.5 L621.0,1775.4 L623.9,1775.3 L626.9,1775.1 L629.8,1775.0 L632.8,1774.9 L635.8,1774.8 L638.7,1774.7 L641.7,1774.6 L644.6,1774.4 L647.5,1774.3 L650.5,1774.2 L653.4,1774.1 L656.4,1774.0 L659.4,1773.9 L662.3,1773.8 L665.3,1773.6 L668.2,1773.5 L671.2,1773.4 L674.2,1773.3 L677.2,1773.2 L680.2,1773.1 L683.2,1773.0 L686.2,1772.9 L689.2,1772.8 L692.2,1772.7 L695.3,1772.6 L698.3,1772.5 L701.4,1772.5 L704.4,1772.4 L707.5,1772.3 L710.6,1772.2 L713.7,1772.1 L716.9,1772.1 L720.0,1772.0 L722.9,1771.9 L725.8,1771.9 L728.8,1771.8 L731.8,1771.8 L734.8,1771.8 L737.8,1771.7 L740.9,1771.7 L744.0,1771.7 L747.0,1771.7 L750.1,1771.6 L753.2,1771.6 L756.4,1771.6 L759.5,1771.6 L762.6,1771.6 L765.8,1771.6 L768.9,1771.6 L772.0,1771.6 L775.2,1771.5 L778.3,1771.5 L781.4,1771.5 L784.6,1771.5 L787.7,1771.5 L790.8,1771.5 L793.9,1771.5 L796.9,1771.5 L800.0,1771.5 L803.0,1771.4 L806.1,1771.4 L809.1,1771.4 L812.0,1771.4 L815.0,1771.3 L817.9,1771.3 L820.8,1771.2 L823.6,1771.2 L826.5,1771.1 L829.3,1771.1 L832.0,1771.0 L835.3,1770.9 L838.6,1770.8 L841.9,1770.7 L845.0,1770.6 L848.2,1770.5 L851.3,1770.3 L854.3,1770.2 L857.4,1770.1 L860.4,1769.9 L863.3,1769.8 L866.3,1769.6 L869.2,1769.5 L872.1,1769.3 L875.0,1769.2 L877.9,1769.0 L880.7,1768.9 L883.6,1768.7 L886.5,1768.5 L889.3,1768.4 L892.2,1768.2 L895.1,1768.1 L898.0,1767.9 L900.9,1767.8 L903.8,1767.6 L906.8,1767.5 L909.8,1767.3 L912.8,1767.2 L915.8,1767.0 L918.9,1766.9 L922.0,1766.8 L924.9,1766.7 L927.9,1766.6 L930.9,1766.5 L933.9,1766.3 L936.8,1766.2 L939.9,1766.1 L942.9,1766.0 L945.9,1765.8 L948.9,1765.7 L952.0,1765.6 L955.0,1765.5 L958.1,1765.4 L961.1,1765.2 L964.2,1765.1 L967.3,1765.0 L970.4,1764.9 L973.5,1764.8 L976.6,1764.7 L979.7,1764.6 L982.8,1764.5 L985.9,1764.4 L989.0,1764.3 L992.1,1764.3 L995.2,1764.2 L998.3,1764.1 L1001.4,1764.1 L1004.5,1764.1 L1007.6,1764.0 L1010.7,1764.0 L1013.8,1764.0 L1016.9,1764.0 L1020.0,1764.0 L1023.0,1764.0 L1026.0,1764.1 L1029.0,1764.1 L1032.0,1764.2 L1035.0,1764.3 L1038.1,1764.4 L1041.1,1764.5 L1044.1,1764.6 L1047.1,1764.7 L1050.2,1764.8 L1053.2,1765.0 L1056.2,1765.1 L1059.2,1765.2 L1062.3,1765.4 L1065.3,1765.6 L1068.4,1765.7 L1071.4,1765.9 L1074.4,1766.0 L1077.5,1766.2 L1080.5,1766.3 L1083.6,1766.5 L1086.6,1766.7 L1089.6,1766.8 L1092.7,1766.9 L1095.7,1767.1 L1098.8,1767.2 L1101.8,1767.3 L1104.8,1767.4 L1107.9,1767.5 L1110.9,1767.6 L1113.9,1767.7 L1117.0,1767.8 L1120.0,1767.8 L1123.0,1767.8 L1126.1,1767.9 L1129.1,1767.9 L1132.1,1767.9 L1135.1,1767.9 L1138.2,1767.9 L1141.2,1767.9 L1144.2,1767.8 L1147.2,1767.8 L1150.2,1767.8 L1153.3,1767.7 L1156.3,1767.7 L1159.3,1767.6 L1162.3,1767.6 L1165.3,1767.5 L1168.4,1767.4 L1171.4,1767.4 L1174.4,1767.3 L1177.4,1767.3 L1180.5,1767.2 L1183.5,1767.1 L1186.5,1767.1 L1189.5,1767.0 L1192.6,1767.0 L1195.6,1766.9 L1198.7,1766.9 L1201.7,1766.8 L1204.7,1766.8 L1207.8,1766.8 L1210.8,1766.7 L1213.9,1766.7 L1216.9,1766.7 L1220.0,1766.7 L1223.0,1766.7 L1226.0,1766.7 L1228.9,1766.7 L1231.9,1766.7 L1234.9,1766.7 L1237.9,1766.7 L1241.0,1766.7 L1244.0,1766.8 L1247.0,1766.8 L1250.0,1766.8 L1253.0,1766.8 L1256.1,1766.8 L1259.1,1766.9 L1262.1,1766.9 L1265.1,1766.9 L1268.2,1766.9 L1271.2,1767.0 L1274.2,1767.0 L1277.2,1767.1 L1280.3,1767.1 L1283.3,1767.1 L1286.3,1767.2 L1289.3,1767.2 L1292.3,1767.3 L1295.3,1767.3 L1298.3,1767.4 L1301.3,1767.4 L1304.3,1767.5 L1307.2,1767.5 L1310.2,1767.6 L1313.2,1767.6 L1316.1,1767.7 L1319.1,1767.7 L1322.0,1767.8 L1325.1,1767.9 L1328.2,1767.9 L1331.3,1768.0 L1334.3,1768.1 L1337.4,1768.2 L1340.5,1768.3 L1343.5,1768.4 L1346.5,1768.5 L1349.6,1768.6 L1352.6,1768.8 L1355.6,1768.9 L1358.6,1769.0 L1361.6,1769.1 L1364.6,1769.2 L1367.6,1769.3 L1370.6,1769.5 L1373.6,1769.6 L1376.6,1769.7 L1379.6,1769.8 L1382.6,1769.9 L1385.6,1770.1 L1388.6,1770.2 L1391.6,1770.3 L1394.7,1770.4 L1397.7,1770.5 L1400.7,1770.6 L1403.7,1770.7 L1406.8,1770.7 L1409.8,1770.8 L1412.9,1770.9 L1415.9,1770.9 L1419.0,1771.0 L1422.0,1771.0 L1425.0,1771.1 L1428.0,1771.1 L1431.0,1771.2 L1434.0,1771.2 L1437.0,1771.2 L1440.0,1771.2 L1443.0,1771.2 L1446.1,1771.3 L1449.1,1771.3 L1452.1,1771.3 L1455.1,1771.3 L1458.2,1771.3 L1461.2,1771.3 L1464.3,1771.3 L1467.3,1771.3 L1470.3,1771.3 L1473.4,1771.2 L1476.4,1771.2 L1479.5,1771.2 L1482.5,1771.2 L1485.6,1771.2 L1488.6,1771.2 L1491.6,1771.2 L1494.7,1771.1 L1497.7,1771.1 L1500.8,1771.1 L1503.8,1771.1 L1506.9,1771.1 L1509.9,1771.0 L1512.9,1771.0 L1516.0,1771.0 L1519.0,1771.0 L1522.0,1771.0 L1525.1,1771.0 L1528.1,1770.9 L1531.1,1770.9 L1534.1,1770.9 L1537.2,1770.9 L1540.2,1770.9 L1543.2,1770.8 L1546.2,1770.8 L1549.3,1770.8 L1552.3,1770.7 L1555.3,1770.7 L1558.3,1770.7 L1561.4,1770.6 L1564.4,1770.6 L1567.4,1770.6 L1570.5,1770.5 L1573.5,1770.5 L1576.5,1770.5 L1579.5,1770.4 L1582.6,1770.4 L1585.6,1770.4 L1588.6,1770.3 L1591.7,1770.3 L1594.7,1770.3 L1597.7,1770.2 L1600.8,1770.2 L1603.8,1770.2 L1606.8,1770.1 L1609.9,1770.1 L1612.9,1770.1 L1616.0,1770.0 L1619.0,1770.0 L1622.1,1770.0 L1625.2,1769.9 L1628.4,1769.9 L1631.6,1769.9 L1634.8,1769.8 L1638.1,1769.8 L1641.4,1769.8 L1644.8,1769.8 L1648.1,1769.7 L1651.5,1769.7 L1654.9,1769.7 L1658.2,1769.6 L1661.6,1769.6 L1664.9,1769.6 L1668.3,1769.5 L1671.6,1769.5 L1674.9,1769.5 L1678.2,1769.5 L1681.4,1769.4 L1684.6,1769.4 L1687.7,1769.4 L1690.8,1769.3 L1693.9,1769.3 L1696.8,1769.3 L1699.7,1769.2 L1702.6,1769.2 L1705.3,1769.2 L1708.0,1769.2 L1710.6,1769.1 L1713.1,1769.1 L1715.5,1769.1 L1717.8,1769.0 L1720.0,1769.0 L1725.1,1768.9 L1729.7,1768.8 L1733.8,1768.6 L1737.5,1768.4 L1740.7,1768.3 L1743.7,1768.1 L1746.4,1767.9 L1748.8,1767.8 L1751.2,1767.7 L1753.4,1767.7 L1755.6,1767.7 L1757.7,1767.8 L1760.0,1768.0 L1763.8,1768.3 L1766.8,1768.5 L1769.2,1768.8 L1771.5,1769.4 L1773.8,1770.5 L1776.6,1772.3 L1780.0,1775.0 L1781.7,1776.5 L1783.6,1778.2 L1785.6,1780.0 L1787.6,1782.1 L1789.7,1784.2 L1791.9,1786.5 L1794.1,1788.9 L1796.4,1791.4 L1798.7,1794.0 L1801.0,1796.6 L1803.2,1799.2 L1805.5,1801.9 L1807.7,1804.6 L1809.9,1807.3 L1812.0,1809.9 L1814.0,1812.5 L1815.9,1814.9 L1817.7,1817.4 L1819.5,1820.0 L1821.3,1822.6 L1823.1,1825.2 L1824.9,1827.9 L1826.6,1830.5 L1828.4,1833.2 L1830.1,1835.9 L1831.8,1838.6 L1833.5,1841.3 L1835.2,1844.0 L1836.9,1846.7 L1838.5,1849.3 L1840.2,1851.9 L1841.9,1854.5 L1843.5,1857.0 L1845.4,1859.8 L1847.2,1862.5 L1849.0,1865.2 L1850.8,1867.8 L1852.6,1870.4 L1854.3,1873.0 L1856.1,1875.5 L1857.8,1878.1 L1859.6,1880.7 L1861.3,1883.3 L1863.0,1885.9 L1864.8,1888.6 L1866.5,1891.3 L1868.3,1894.1 L1870.0,1897.0 L1871.5,1899.5 L1872.9,1902.0 L1874.4,1904.6 L1875.9,1907.2 L1877.4,1909.8 L1878.9,1912.5 L1880.3,1915.3 L1881.8,1918.0 L1883.3,1920.7 L1884.7,1923.5 L1886.2,1926.2 L1887.6,1928.9 L1889.1,1931.6 L1890.5,1934.3 L1891.9,1936.9 L1893.3,1939.5 L1894.7,1942.0 L1896.0,1944.5 L1897.6,1947.4 L1899.1,1950.2 L1900.6,1952.9 L1902.1,1955.6 L1903.6,1958.2 L1905.1,1960.8 L1906.5,1963.3 L1907.9,1965.9 L1909.4,1968.5 L1910.8,1971.1 L1912.2,1973.7 L1913.6,1976.4 L1915.1,1979.2 L1916.5,1982.1 L1918.0,1985.0 L1919.2,1987.5 L1920.5,1990.1 L1921.8,1992.8 L1923.0,1995.5 L1924.3,1998.3 L1925.6,2001.1 L1926.9,2003.9 L1928.2,2006.8 L1929.5,2009.6 L1930.7,2012.5 L1932.0,2015.4 L1933.3,2018.2 L1934.5,2021.0 L1935.8,2023.8 L1937.0,2026.6 L1938.2,2029.3 L1939.3,2031.9 L1940.5,2034.5 L1941.8,2037.5 L1943.2,2040.4 L1944.4,2043.2 L1945.7,2046.0 L1946.9,2048.7 L1948.1,2051.4 L1949.3,2054.1 L1950.5,2056.8 L1951.7,2059.4 L1952.9,2062.2 L1954.1,2064.9 L1955.3,2067.7 L1956.5,2070.6 L1957.7,2073.5 L1959.0,2076.6 L1960.1,2079.2 L1961.2,2082.0 L1962.3,2084.7 L1963.4,2087.6 L1964.5,2090.5 L1965.7,2093.4 L1966.8,2096.3 L1968.0,2099.3 L1969.1,2102.3 L1970.3,2105.3 L1971.4,2108.3 L1972.5,2111.2 L1973.7,2114.1 L1974.8,2117.0 L1975.9,2119.9 L1976.9,2122.7 L1978.0,2125.4 L1979.0,2128.0 L1980.2,2131.1 L1981.5,2134.3 L1982.7,2137.5 L1983.9,2140.7 L1985.2,2143.8 L1986.4,2146.9 L1987.6,2150.0 L1988.7,2152.9 L1989.9,2155.8 L1990.9,2158.6 L1992.0,2161.2 L1992.9,2163.7 L1993.8,2166.0 L1994.7,2168.1 L1995.4,2170.0 L1997.5,2175.4 L1998.7,2178.6 L1999.5,2180.5 L2000.0,2182.0" fill="none" stroke="#f8000a" stroke-width="11" stroke-dasharray="41 59" stroke-dashoffset="0.3" stroke-linecap="round" stroke-linejoin="round"/>
</g>
<line x1="1764.2" y1="1815.8" x2="1505.8" y2="2049.8" stroke="#2a2a2a" stroke-width="2"/>
<polygon points="1483.6,2069.9 1502.8,2040.4 1514.8,2053.7" fill="#000"/>
<line x1="290.0" y1="2625.2" x2="318.0" y2="2625.2" stroke="#000" stroke-width="5"/>
<line x1="290.0" y1="2430.3" x2="318.0" y2="2430.3" stroke="#000" stroke-width="5"/>
<line x1="290.0" y1="2235.5" x2="318.0" y2="2235.5" stroke="#000" stroke-width="5"/>
<line x1="290.0" y1="2040.7" x2="318.0" y2="2040.7" stroke="#000" stroke-width="5"/>
<line x1="290.0" y1="1845.8" x2="318.0" y2="1845.8" stroke="#000" stroke-width="5"/>
<line x1="632.9" y1="2820.0" x2="632.9" y2="2793.0" stroke="#000" stroke-width="5"/>
<line x1="975.7" y1="2820.0" x2="975.7" y2="2793.0" stroke="#000" stroke-width="5"/>
<line x1="1318.6" y1="2820.0" x2="1318.6" y2="2793.0" stroke="#000" stroke-width="5"/>
<line x1="1661.4" y1="2820.0" x2="1661.4" y2="2793.0" stroke="#000" stroke-width="5"/>
<text x="261.0" y="2844.5" font-size="85" font-weight="normal" text-anchor="end">0</text>
<text x="261.0" y="2649.7" font-size="85" font-weight="normal" text-anchor="end">50</text>
<text x="261.0" y="2454.8" font-size="85" font-weight="normal" text-anchor="end">100</text>
<text x="261.0" y="2260.0" font-size="85" font-weight="normal" text-anchor="end">150</text>
<text x="261.0" y="2065.2" font-size="85" font-weight="normal" text-anchor="end">200</text>
<text x="261.0" y="1870.3" font-size="85" font-weight="normal" text-anchor="end">250</text>
<text x="261.0" y="1675.5" font-size="85" font-weight="normal" text-anchor="end">300</text>
<text x="290.0" y="2914.5" font-size="85" font-weight="normal" text-anchor="middle">0</text>
<text x="632.9" y="2914.5" font-size="85" font-weight="normal" text-anchor="middle">2</text>
<text x="975.7" y="2914.5" font-size="85" font-weight="normal" text-anchor="middle">4</text>
<text x="1318.6" y="2914.5" font-size="85" font-weight="normal" text-anchor="middle">6</text>
<text x="1661.4" y="2914.5" font-size="85" font-weight="normal" text-anchor="middle">8</text>
<text x="2004.3" y="2914.5" font-size="85" font-weight="normal" text-anchor="middle">10</text>
<text transform="translate(99.5,2198.2) rotate(-90)" font-size="96" font-weight="bold" text-anchor="middle">Load (N)</text>
<text x="744.8" y="3012.7" font-size="96" font-weight="bold" text-anchor="start">Displacement (mm)</text>
<text x="325.4" y="1747.3" font-size="96" font-weight="bold" text-anchor="start">(b)</text>
<defs>
<linearGradient id="s3g" gradientUnits="userSpaceOnUse" x1="872.0" y1="0" x2="1362.0" y2="0"><stop offset="0.0000" stop-color="#0606b0"/><stop offset="0.0082" stop-color="#1050c0"/><stop offset="0.0327" stop-color="#18a0b0"/><stop offset="0.0673" stop-color="#20b060"/><stop offset="0.1082" stop-color="#28b028"/><stop offset="0.3837" stop-color="#40b820"/><stop offset="0.4408" stop-color="#98c000"/><stop offset="0.4776" stop-color="#d07800"/><stop offset="0.5041" stop-color="#c02010"/><stop offset="0.5286" stop-color="#b01008"/><stop offset="0.5531" stop-color="#c02010"/><stop offset="0.5796" stop-color="#d07800"/><stop offset="0.6082" stop-color="#a8c000"/><stop offset="0.6490" stop-color="#60b818"/><stop offset="0.6898" stop-color="#30b028"/><stop offset="0.9449" stop-color="#28b030"/><stop offset="0.9755" stop-color="#18a890"/><stop offset="1.0000" stop-color="#1880c0"/><stop offset="1.0000" stop-color="#1040b8"/><stop offset="1.0000" stop-color="#0606b0"/></linearGradient>
<linearGradient id="s3sh" x1="0" y1="0" x2="0" y2="1"><stop offset="0" stop-color="#000" stop-opacity="0.55"/><stop offset="0.15" stop-color="#000" stop-opacity="0.18"/><stop offset="0.4" stop-color="#fff" stop-opacity="0.12"/><stop offset="0.65" stop-color="#000" stop-opacity="0.12"/><stop offset="0.88" stop-color="#000" stop-opacity="0.35"/><stop offset="1" stop-color="#000" stop-opacity="0.6"/></linearGradient>
<linearGradient id="s3gb" x1="0" y1="0" x2="0" y2="1"><stop offset="0" stop-color="#02028c"/><stop offset="0.1" stop-color="#0404c4"/><stop offset="0.4" stop-color="#0c0cf0"/><stop offset="0.6" stop-color="#0606d4"/><stop offset="0.9" stop-color="#0303ac"/><stop offset="1" stop-color="#020280"/></linearGradient>
<pattern id="s3m" patternUnits="userSpaceOnUse" width="4.90" height="4.90" x="667.0" y="4017.0"><path d="M0,0 H4.90 M0,0 V4.90" stroke="#000030" stroke-opacity="0.42" stroke-width="1.3" fill="none"/></pattern>
<pattern id="s3n" patternUnits="userSpaceOnUse" width="7.20" height="6.60" x="872.0" y="4048.0"><path d="M0,0 H7.20 M0,0 V6.60" stroke="#000" stroke-opacity="0.3" stroke-width="1.4" fill="none"/></pattern>
</defs>
<path d="M830.2,4017.5 C849.2,4040.4 859.2,4048.0 871.2,4048.0 L1095.0,4046.1 C1113.0,4046.1 1113.0,4049.5 1131.0,4049.5 C1149.0,4049.5 1149.0,4045.6 1167.0,4045.6 L1355.0,4044.0 C1367.0,4044.0 1377.0,4037.2 1396.0,4016.6 L1396.0,4122.6 C1377.0,4102.6 1367.0,4096.0 1355.0,4096.0 L1167.0,4096.8 C1149.0,4096.8 1149.0,4093.0 1131.0,4093.0 C1113.0,4093.0 1113.0,4097.1 1095.0,4097.1 L871.2,4098.0 C859.2,4098.0 849.2,4106.8 830.2,4133.0 Z" fill="url(#s3g)"/>
<path d="M830.2,4017.5 C849.2,4040.4 859.2,4048.0 871.2,4048.0 L1095.0,4046.1 C1113.0,4046.1 1113.0,4049.5 1131.0,4049.5 C1149.0,4049.5 1149.0,4045.6 1167.0,4045.6 L1355.0,4044.0 C1367.0,4044.0 1377.0,4037.2 1396.0,4016.6 L1396.0,4122.6 C1377.0,4102.6 1367.0,4096.0 1355.0,4096.0 L1167.0,4096.8 C1149.0,4096.8 1149.0,4093.0 1131.0,4093.0 C1113.0,4093.0 1113.0,4097.1 1095.0,4097.1 L871.2,4098.0 C859.2,4098.0 849.2,4106.8 830.2,4133.0 Z" fill="url(#s3sh)"/>
<path d="M830.2,4017.5 C849.2,4040.4 859.2,4048.0 871.2,4048.0 L1095.0,4046.1 C1113.0,4046.1 1113.0,4049.5 1131.0,4049.5 C1149.0,4049.5 1149.0,4045.6 1167.0,4045.6 L1355.0,4044.0 C1367.0,4044.0 1377.0,4037.2 1396.0,4016.6 L1396.0,4122.6 C1377.0,4102.6 1367.0,4096.0 1355.0,4096.0 L1167.0,4096.8 C1149.0,4096.8 1149.0,4093.0 1131.0,4093.0 C1113.0,4093.0 1113.0,4097.1 1095.0,4097.1 L871.2,4098.0 C859.2,4098.0 849.2,4106.8 830.2,4133.0 Z" fill="url(#s3n)"/>
<path d="M675.0,4017.5 L831.2,4017.5 L831.2,4133.0 L675.0,4135.0 C664.6,4132.0 664.6,4020.5 675.0,4017.5 Z" fill="url(#s3gb)"/>
<path d="M675.0,4017.5 L831.2,4017.5 L831.2,4133.0 L675.0,4135.0 C664.6,4132.0 664.6,4020.5 675.0,4017.5 Z" fill="url(#s3m)"/>
<path d="M1395.0,4016.6 L1551.3,4014.5 C1561.7,4017.5 1561.7,4117.5 1551.3,4120.5 L1395.0,4122.6 Z" fill="url(#s3gb)"/>
<path d="M1395.0,4016.6 L1551.3,4014.5 C1561.7,4017.5 1561.7,4117.5 1551.3,4120.5 L1395.0,4122.6 Z" fill="url(#s3m)"/>
<rect x="1056.4" y="3490.3" width="70.3" height="42.4" fill="#ff0000"/>
<rect x="1056.4" y="3532.2" width="70.3" height="42.4" fill="#ff5c00"/>
<rect x="1056.4" y="3574.0" width="70.3" height="42.4" fill="#f5b800"/>
<rect x="1056.4" y="3615.9" width="70.3" height="42.4" fill="#e6ff00"/>
<rect x="1056.4" y="3657.8" width="70.3" height="42.4" fill="#8cf500"/>
<rect x="1056.4" y="3699.7" width="70.3" height="42.4" fill="#30f000"/>
<rect x="1056.4" y="3741.5" width="70.3" height="42.4" fill="#00f02e"/>
<rect x="1056.4" y="3783.4" width="70.3" height="42.4" fill="#00f08c"/>
<rect x="1056.4" y="3825.3" width="70.3" height="42.4" fill="#00fff0"/>
<rect x="1056.4" y="3867.1" width="70.3" height="42.4" fill="#00b4f5"/>
<rect x="1056.4" y="3909.0" width="70.3" height="42.4" fill="#005aff"/>
<rect x="1056.4" y="3950.9" width="70.3" height="42.4" fill="#0000ff"/>
<line x1="1056.4" y1="3490.3" x2="1126.7" y2="3490.3" stroke="#000" stroke-opacity="0.55" stroke-width="2.8"/>
<line x1="1126.7" y1="3490.3" x2="1146.0" y2="3490.3" stroke="#444" stroke-width="2.3"/>
<line x1="1056.4" y1="3532.2" x2="1126.7" y2="3532.2" stroke="#000" stroke-opacity="0.55" stroke-width="2.8"/>
<line x1="1126.7" y1="3532.2" x2="1146.0" y2="3532.2" stroke="#444" stroke-width="2.3"/>
<line x1="1056.4" y1="3574.0" x2="1126.7" y2="3574.0" stroke="#000" stroke-opacity="0.55" stroke-width="2.8"/>
<line x1="1126.7" y1="3574.0" x2="1146.0" y2="3574.0" stroke="#444" stroke-width="2.3"/>
<line x1="1056.4" y1="3615.9" x2="1126.7" y2="3615.9" stroke="#000" stroke-opacity="0.55" stroke-width="2.8"/>
<line x1="1126.7" y1="3615.9" x2="1146.0" y2="3615.9" stroke="#444" stroke-width="2.3"/>
<line x1="1056.4" y1="3657.8" x2="1126.7" y2="3657.8" stroke="#000" stroke-opacity="0.55" stroke-width="2.8"/>
<line x1="1126.7" y1="3657.8" x2="1146.0" y2="3657.8" stroke="#444" stroke-width="2.3"/>
<line x1="1056.4" y1="3699.7" x2="1126.7" y2="3699.7" stroke="#000" stroke-opacity="0.55" stroke-width="2.8"/>
<line x1="1126.7" y1="3699.7" x2="1146.0" y2="3699.7" stroke="#444" stroke-width="2.3"/>
<line x1="1056.4" y1="3741.5" x2="1126.7" y2="3741.5" stroke="#000" stroke-opacity="0.55" stroke-width="2.8"/>
<line x1="1126.7" y1="3741.5" x2="1146.0" y2="3741.5" stroke="#444" stroke-width="2.3"/>
<line x1="1056.4" y1="3783.4" x2="1126.7" y2="3783.4" stroke="#000" stroke-opacity="0.55" stroke-width="2.8"/>
<line x1="1126.7" y1="3783.4" x2="1146.0" y2="3783.4" stroke="#444" stroke-width="2.3"/>
<line x1="1056.4" y1="3825.3" x2="1126.7" y2="3825.3" stroke="#000" stroke-opacity="0.55" stroke-width="2.8"/>
<line x1="1126.7" y1="3825.3" x2="1146.0" y2="3825.3" stroke="#444" stroke-width="2.3"/>
<line x1="1056.4" y1="3867.1" x2="1126.7" y2="3867.1" stroke="#000" stroke-opacity="0.55" stroke-width="2.8"/>
<line x1="1126.7" y1="3867.1" x2="1146.0" y2="3867.1" stroke="#444" stroke-width="2.3"/>
<line x1="1056.4" y1="3909.0" x2="1126.7" y2="3909.0" stroke="#000" stroke-opacity="0.55" stroke-width="2.8"/>
<line x1="1126.7" y1="3909.0" x2="1146.0" y2="3909.0" stroke="#444" stroke-width="2.3"/>
<line x1="1056.4" y1="3950.9" x2="1126.7" y2="3950.9" stroke="#000" stroke-opacity="0.55" stroke-width="2.8"/>
<line x1="1126.7" y1="3950.9" x2="1146.0" y2="3950.9" stroke="#444" stroke-width="2.3"/>
<line x1="1056.4" y1="3992.7" x2="1126.7" y2="3992.7" stroke="#000" stroke-opacity="0.55" stroke-width="2.8"/>
<line x1="1126.7" y1="3992.7" x2="1146.0" y2="3992.7" stroke="#444" stroke-width="2.3"/>
<rect x="1058.1" y="3490.8" width="67.0" height="501.4" fill="none" stroke="#000" stroke-opacity="0.6" stroke-width="3.3"/>
<text transform="translate(1166.2,3501.3) scale(1.1962,1)" font-size="36" font-weight="bold" text-anchor="start">0.463</text>
<text transform="translate(1166.2,3543.2) scale(1.1962,1)" font-size="36" font-weight="bold" text-anchor="start">0.424</text>
<text transform="translate(1166.2,3585.0) scale(1.1962,1)" font-size="36" font-weight="bold" text-anchor="start">0.385</text>
<text transform="translate(1166.2,3626.9) scale(1.1962,1)" font-size="36" font-weight="bold" text-anchor="start">0.347</text>
<text transform="translate(1166.2,3668.8) scale(1.1962,1)" font-size="36" font-weight="bold" text-anchor="start">0.308</text>
<text transform="translate(1166.2,3710.7) scale(1.1962,1)" font-size="36" font-weight="bold" text-anchor="start">0.270</text>
<text transform="translate(1166.2,3752.5) scale(1.1962,1)" font-size="36" font-weight="bold" text-anchor="start">0.231</text>
<text transform="translate(1166.2,3794.4) scale(1.1962,1)" font-size="36" font-weight="bold" text-anchor="start">0.192</text>
<text transform="translate(1166.2,3836.3) scale(1.1962,1)" font-size="36" font-weight="bold" text-anchor="start">0.154</text>
<text transform="translate(1166.2,3878.1) scale(1.1962,1)" font-size="36" font-weight="bold" text-anchor="start">0.115</text>
<text transform="translate(1166.2,3920.0) scale(1.1962,1)" font-size="36" font-weight="bold" text-anchor="start">0.077</text>
<text transform="translate(1166.2,3961.9) scale(1.1962,1)" font-size="36" font-weight="bold" text-anchor="start">0.038</text>
<text transform="translate(1166.2,4003.7) scale(1.1962,1)" font-size="36" font-weight="bold" text-anchor="start">0</text>
<text transform="translate(1070.0,3450.3) scale(1.1274,1)" font-size="59" font-weight="bold" text-anchor="start">PEEQ</text>
<line x1="1180.8" y1="4201.8" x2="1361.2" y2="4201.8" stroke="#000" stroke-width="11" stroke-linecap="round"/>
<line x1="1179.0" y1="4303.0" x2="1221.2" y2="4303.0" stroke="#f8000a" stroke-width="11" stroke-linecap="round"/>
<line x1="1278.5" y1="4303.0" x2="1320.7" y2="4303.0" stroke="#f8000a" stroke-width="11" stroke-linecap="round"/>
<text transform="translate(1387.2,4230.3) scale(0.9497,1)" font-size="85" font-weight="normal" text-anchor="start">Experiment</text>
<text transform="translate(1383.4,4333.5) scale(0.9609,1)" font-size="85" font-weight="normal" text-anchor="start">Simulation</text>
<rect x="290.0" y="3222.5" width="1714.5" height="1169.8" fill="none" stroke="#000" stroke-width="5.5"/>
<clipPath id="clipc"><rect x="283.0" y="3222.5" width="1721.5" height="1172.8"/></clipPath>
<g clip-path="url(#clipc)">
<path d="M290.4,4391.0 L291.2,4389.6 L292.0,4388.0 L292.9,4386.3 L293.9,4384.5 L295.0,4382.5 L296.1,4380.4 L297.3,4378.2 L298.6,4375.8 L299.9,4373.4 L301.3,4370.9 L302.7,4368.3 L304.1,4365.6 L305.6,4362.8 L307.2,4359.9 L308.7,4357.0 L310.3,4354.1 L312.0,4351.0 L313.6,4348.0 L315.3,4344.9 L316.9,4341.7 L318.6,4338.5 L320.3,4335.4 L322.0,4332.2 L323.7,4328.9 L325.4,4325.7 L327.1,4322.5 L328.7,4319.3 L330.4,4316.2 L332.0,4313.0 L333.2,4310.6 L334.5,4308.1 L335.8,4305.6 L337.0,4303.1 L338.3,4300.5 L339.6,4297.9 L340.9,4295.3 L342.3,4292.6 L343.6,4289.9 L344.9,4287.2 L346.3,4284.5 L347.7,4281.7 L349.0,4278.9 L350.4,4276.1 L351.8,4273.3 L353.2,4270.5 L354.6,4267.7 L356.0,4264.8 L357.4,4262.0 L358.8,4259.1 L360.2,4256.2 L361.6,4253.4 L363.0,4250.5 L364.4,4247.7 L365.8,4244.8 L367.2,4241.9 L368.7,4239.1 L370.1,4236.3 L371.5,4233.5 L372.9,4230.7 L374.3,4227.9 L375.7,4225.1 L377.1,4222.4 L378.5,4219.6 L379.9,4216.9 L381.3,4214.3 L382.6,4211.6 L384.0,4209.0 L385.5,4206.2 L387.0,4203.4 L388.4,4200.6 L389.9,4197.9 L391.4,4195.1 L392.9,4192.4 L394.4,4189.7 L395.8,4187.0 L397.3,4184.4 L398.8,4181.7 L400.3,4179.0 L401.8,4176.4 L403.2,4173.8 L404.7,4171.1 L406.2,4168.5 L407.7,4165.9 L409.2,4163.3 L410.6,4160.7 L412.1,4158.1 L413.6,4155.4 L415.1,4152.8 L416.6,4150.2 L418.0,4147.6 L419.5,4145.0 L421.0,4142.4 L422.5,4139.7 L424.0,4137.1 L425.4,4134.4 L426.9,4131.8 L428.4,4129.1 L429.9,4126.5 L431.4,4123.8 L432.8,4121.1 L434.3,4118.3 L435.8,4115.6 L437.2,4113.0 L438.6,4110.4 L440.0,4107.8 L441.4,4105.2 L442.8,4102.6 L444.2,4100.0 L445.6,4097.4 L447.0,4094.8 L448.4,4092.2 L449.8,4089.6 L451.2,4087.0 L452.7,4084.4 L454.1,4081.7 L455.5,4079.1 L456.9,4076.5 L458.3,4073.8 L459.7,4071.2 L461.1,4068.6 L462.5,4065.9 L463.9,4063.2 L465.3,4060.6 L466.7,4057.9 L468.1,4055.2 L469.5,4052.6 L470.9,4049.9 L472.3,4047.2 L473.7,4044.5 L475.2,4041.8 L476.6,4039.0 L478.0,4036.3 L479.4,4033.6 L480.8,4030.8 L482.2,4028.0 L483.6,4025.3 L485.0,4022.5 L486.4,4019.7 L487.8,4016.9 L489.1,4014.3 L490.4,4011.7 L491.7,4009.0 L493.0,4006.4 L494.3,4003.7 L495.6,4001.0 L496.9,3998.3 L498.2,3995.6 L499.5,3992.9 L500.8,3990.1 L502.1,3987.4 L503.4,3984.6 L504.7,3981.8 L506.0,3979.1 L507.3,3976.3 L508.6,3973.5 L509.9,3970.7 L511.2,3967.9 L512.5,3965.1 L513.8,3962.4 L515.0,3959.6 L516.3,3956.8 L517.6,3954.0 L518.9,3951.2 L520.2,3948.4 L521.5,3945.6 L522.8,3942.9 L524.1,3940.1 L525.4,3937.3 L526.7,3934.6 L528.0,3931.9 L529.3,3929.1 L530.6,3926.4 L531.9,3923.7 L533.2,3921.0 L534.5,3918.3 L535.8,3915.7 L537.1,3913.0 L538.4,3910.4 L539.7,3907.8 L541.1,3905.0 L542.5,3902.2 L544.0,3899.3 L545.4,3896.5 L546.9,3893.7 L548.4,3890.8 L549.9,3888.0 L551.4,3885.1 L552.9,3882.3 L554.4,3879.4 L555.9,3876.6 L557.4,3873.8 L558.9,3870.9 L560.4,3868.1 L561.9,3865.3 L563.4,3862.5 L564.9,3859.7 L566.4,3857.0 L567.9,3854.2 L569.3,3851.5 L570.8,3848.8 L572.3,3846.1 L573.7,3843.4 L575.1,3840.7 L576.5,3838.1 L577.9,3835.5 L579.3,3832.9 L580.6,3830.4 L582.0,3827.9 L583.3,3825.4 L584.6,3822.9 L585.8,3820.5 L587.1,3818.1 L588.3,3815.8 L589.4,3813.5 L590.6,3811.2 L591.7,3809.0 L593.4,3805.5 L595.1,3802.2 L596.6,3798.9 L598.1,3795.8 L599.5,3792.7 L600.9,3789.7 L602.2,3786.9 L603.4,3784.0 L604.6,3781.3 L605.8,3778.6 L607.0,3775.9 L608.1,3773.3 L609.2,3770.7 L610.3,3768.2 L611.4,3765.6 L612.5,3763.1 L613.6,3760.5 L614.8,3758.0 L615.9,3755.4 L617.1,3752.8 L618.3,3750.2 L619.5,3747.5 L620.8,3744.8 L622.1,3742.0 L623.5,3739.3 L624.8,3736.5 L626.2,3733.7 L627.5,3730.9 L628.9,3728.2 L630.3,3725.4 L631.7,3722.6 L633.1,3719.8 L634.5,3717.0 L635.9,3714.3 L637.3,3711.5 L638.7,3708.8 L640.1,3706.0 L641.4,3703.3 L642.8,3700.6 L644.2,3698.0 L645.5,3695.3 L646.9,3692.7 L648.2,3690.1 L649.5,3687.5 L650.7,3685.0 L652.0,3682.5 L653.5,3679.5 L655.0,3676.5 L656.4,3673.6 L657.8,3670.7 L659.2,3667.8 L660.6,3665.0 L662.0,3662.1 L663.3,3659.3 L664.7,3656.6 L666.0,3653.8 L667.3,3651.1 L668.6,3648.4 L670.0,3645.8 L671.3,3643.2 L672.6,3640.6 L673.9,3638.0 L675.3,3635.5 L676.6,3633.0 L678.0,3630.5 L679.6,3627.6 L681.3,3624.8 L682.9,3622.0 L684.5,3619.3 L686.1,3616.6 L687.8,3613.9 L689.4,3611.3 L691.0,3608.8 L692.6,3606.2 L694.3,3603.7 L695.9,3601.2 L697.5,3598.8 L699.1,3596.3 L700.8,3593.9 L702.4,3591.4 L704.0,3589.0 L705.9,3586.2 L707.7,3583.5 L709.6,3580.8 L711.4,3578.1 L713.3,3575.4 L715.1,3572.8 L717.0,3570.2 L718.8,3567.6 L720.7,3565.0 L722.5,3562.5 L724.4,3560.0 L726.2,3557.5 L728.1,3555.0 L729.9,3552.6 L731.8,3550.1 L733.6,3547.7 L735.3,3545.4 L737.0,3543.2 L738.7,3541.0 L740.4,3538.9 L742.1,3536.7 L743.9,3534.5 L745.9,3532.2 L748.0,3529.7 L750.4,3527.2 L753.0,3524.4 L755.8,3521.4 L757.5,3519.6 L759.4,3517.7 L761.3,3515.7 L763.3,3513.7 L765.4,3511.6 L767.5,3509.4 L769.7,3507.2 L772.0,3504.9 L774.3,3502.7 L776.6,3500.3 L779.0,3498.0 L781.4,3495.7 L783.8,3493.4 L786.2,3491.0 L788.7,3488.7 L791.1,3486.5 L793.6,3484.2 L796.0,3482.0 L798.4,3479.9 L800.8,3477.8 L803.2,3475.8 L805.5,3473.9 L807.8,3472.0 L810.4,3469.9 L813.0,3467.9 L815.6,3466.0 L818.2,3464.0 L820.8,3462.2 L823.4,3460.3 L826.0,3458.5 L828.6,3456.8 L831.2,3455.0 L833.7,3453.4 L836.3,3451.7 L838.9,3450.1 L841.5,3448.5 L844.1,3447.0 L846.7,3445.4 L849.3,3444.0 L851.9,3442.5 L854.5,3441.1 L857.1,3439.7 L859.7,3438.3 L862.6,3436.8 L865.5,3435.4 L868.4,3434.0 L871.3,3432.7 L874.1,3431.4 L877.0,3430.2 L879.9,3429.0 L882.8,3427.9 L885.7,3426.8 L888.6,3425.7 L891.5,3424.6 L894.4,3423.6 L897.3,3422.5 L900.1,3421.5 L903.0,3420.5 L905.9,3419.5 L908.8,3418.5 L911.7,3417.5 L914.6,3416.5 L917.5,3415.5 L920.4,3414.6 L923.2,3413.6 L926.1,3412.7 L929.0,3411.8 L931.9,3410.9 L934.8,3410.0 L937.7,3409.1 L940.5,3408.2 L943.4,3407.4 L946.3,3406.6 L949.2,3405.8 L952.1,3405.0 L954.9,3404.2 L957.8,3403.5 L960.7,3402.7 L963.6,3402.0 L966.7,3401.3 L969.7,3400.5 L972.8,3399.9 L975.8,3399.2 L978.9,3398.6 L981.9,3398.0 L985.0,3397.4 L988.1,3396.8 L991.1,3396.2 L994.2,3395.6 L997.3,3395.1 L1000.3,3394.5 L1003.4,3393.9 L1006.4,3393.4 L1009.5,3392.8 L1012.5,3392.2 L1015.6,3391.6 L1018.7,3391.0 L1021.7,3390.4 L1024.8,3389.7 L1027.8,3389.1 L1030.9,3388.5 L1033.9,3387.8 L1037.0,3387.2 L1040.0,3386.6 L1043.1,3385.9 L1046.1,3385.3 L1049.2,3384.7 L1052.2,3384.1 L1055.3,3383.5 L1058.3,3382.9 L1061.4,3382.3 L1064.4,3381.7 L1067.5,3381.2 L1070.6,3380.7 L1073.6,3380.1 L1076.7,3379.6 L1079.7,3379.1 L1082.8,3378.6 L1085.8,3378.2 L1088.9,3377.7 L1092.0,3377.2 L1095.0,3376.7 L1098.1,3376.3 L1101.2,3375.9 L1104.2,3375.4 L1107.3,3375.0 L1110.3,3374.6 L1113.4,3374.2 L1116.4,3373.8 L1119.5,3373.4 L1122.6,3373.0 L1125.7,3372.6 L1128.9,3372.3 L1132.2,3371.9 L1135.4,3371.5 L1138.7,3371.2 L1141.9,3370.8 L1145.2,3370.5 L1148.4,3370.2 L1151.6,3369.9 L1154.7,3369.6 L1157.7,3369.3 L1160.7,3369.1 L1163.5,3368.8 L1166.3,3368.6 L1168.9,3368.4 L1171.4,3368.2 L1175.2,3368.0 L1178.5,3367.8 L1181.5,3367.7 L1184.2,3367.7 L1186.7,3367.7 L1189.2,3367.7 L1191.9,3367.7 L1194.9,3367.7 L1198.2,3367.6 L1202.0,3367.5 L1204.5,3367.4 L1207.1,3367.3 L1209.9,3367.2 L1212.7,3367.1 L1215.7,3366.9 L1218.7,3366.8 L1221.9,3366.7 L1225.0,3366.5 L1228.2,3366.4 L1231.5,3366.2 L1234.7,3366.0 L1238.0,3365.9 L1241.2,3365.7 L1244.5,3365.5 L1247.7,3365.4 L1250.8,3365.2 L1253.9,3365.0 L1257.0,3364.8 L1260.0,3364.6 L1263.1,3364.4 L1266.1,3364.2 L1269.2,3364.0 L1272.2,3363.8 L1275.3,3363.5 L1278.3,3363.3 L1281.4,3363.1 L1284.4,3362.8 L1287.5,3362.6 L1290.5,3362.4 L1293.6,3362.2 L1296.6,3361.9 L1299.7,3361.7 L1302.7,3361.5 L1305.8,3361.3 L1308.9,3361.1 L1311.9,3360.9 L1315.0,3360.7 L1318.0,3360.5 L1321.1,3360.3 L1324.1,3360.1 L1327.2,3359.9 L1330.3,3359.7 L1333.3,3359.5 L1336.4,3359.3 L1339.5,3359.1 L1342.5,3358.9 L1345.6,3358.8 L1348.6,3358.6 L1351.7,3358.5 L1354.7,3358.3 L1357.8,3358.2 L1360.9,3358.1 L1363.9,3358.0 L1367.0,3357.9 L1370.0,3357.8 L1373.1,3357.7 L1376.1,3357.6 L1379.2,3357.5 L1382.2,3357.4 L1385.3,3357.4 L1388.3,3357.3 L1391.4,3357.2 L1394.4,3357.2 L1397.5,3357.2 L1400.5,3357.1 L1403.6,3357.1 L1406.6,3357.1 L1409.7,3357.1 L1412.8,3357.1 L1415.8,3357.1 L1418.9,3357.2 L1421.9,3357.3 L1425.0,3357.3 L1428.0,3357.4 L1431.1,3357.5 L1434.2,3357.6 L1437.2,3357.7 L1440.3,3357.8 L1443.4,3357.9 L1446.4,3358.0 L1449.5,3358.0 L1452.5,3358.1 L1455.6,3358.2 L1458.6,3358.2 L1461.7,3358.2 L1464.8,3358.2 L1467.8,3358.1 L1470.9,3358.1 L1473.9,3358.0 L1477.0,3357.8 L1480.0,3357.7 L1483.1,3357.6 L1486.1,3357.5 L1489.2,3357.3 L1492.2,3357.2 L1495.3,3357.1 L1498.3,3357.0 L1501.4,3357.0 L1504.4,3356.9 L1507.5,3357.0 L1510.5,3357.0 L1513.6,3357.1 L1516.7,3357.2 L1519.9,3357.4 L1523.2,3357.6 L1526.5,3357.8 L1529.8,3358.1 L1533.2,3358.4 L1536.6,3358.7 L1539.9,3359.0 L1543.2,3359.3 L1546.4,3359.7 L1549.5,3360.0 L1552.6,3360.4 L1555.5,3360.8 L1558.3,3361.2 L1560.9,3361.5 L1563.4,3361.9 L1565.6,3362.3 L1570.3,3363.2 L1574.0,3364.2 L1577.0,3365.1 L1579.5,3366.2 L1581.7,3367.3 L1584.0,3368.6 L1586.4,3370.0 L1589.3,3371.8 L1592.0,3373.6 L1594.5,3375.7 L1597.0,3377.9 L1599.5,3380.3 L1602.0,3383.0 L1604.0,3385.2 L1606.0,3387.5 L1608.0,3389.8 L1610.1,3392.4 L1612.1,3395.0 L1614.0,3397.9 L1615.8,3400.8 L1617.5,3404.0 L1618.8,3406.6 L1619.9,3409.3 L1621.0,3412.1 L1622.1,3414.9 L1623.1,3417.9 L1624.1,3421.0 L1625.0,3424.2 L1626.0,3427.6 L1627.0,3431.2 L1628.0,3435.0 L1628.7,3437.7 L1629.4,3440.5 L1630.1,3443.4 L1630.8,3446.4 L1631.6,3449.6 L1632.3,3452.8 L1633.0,3456.0 L1633.7,3459.3 L1634.4,3462.6 L1635.1,3465.9 L1635.8,3469.2 L1636.4,3472.4 L1637.1,3475.6 L1637.7,3478.8 L1638.3,3481.8 L1638.9,3485.0 L1639.5,3488.1 L1640.1,3491.3 L1640.6,3494.4 L1641.2,3497.4 L1641.7,3500.5 L1642.2,3503.5 L1642.7,3506.5 L1643.2,3509.6 L1643.7,3512.6 L1644.1,3515.7 L1644.6,3518.8 L1645.0,3521.9 L1645.5,3525.0 L1645.9,3528.0 L1646.3,3530.9 L1646.7,3534.0 L1647.1,3537.0 L1647.4,3540.1 L1647.8,3543.1 L1648.2,3546.2 L1648.5,3549.2 L1648.8,3552.3 L1649.2,3555.3 L1649.5,3558.3 L1649.9,3561.3 L1650.3,3564.2 L1650.6,3567.1 L1651.0,3570.0 L1651.4,3573.3 L1651.9,3576.5 L1652.4,3579.7 L1652.8,3582.8 L1653.3,3586.0 L1653.7,3589.1 L1654.2,3592.2 L1654.7,3595.2 L1655.1,3598.2 L1655.6,3601.2 L1656.1,3604.2 L1656.5,3607.1 L1657.0,3610.0 L1657.5,3613.4 L1658.1,3616.7 L1658.6,3620.0 L1659.1,3623.3 L1659.6,3626.5 L1660.1,3629.7 L1660.6,3632.9 L1661.1,3636.0 L1661.7,3639.0 L1662.3,3642.0 L1663.0,3645.0 L1663.7,3648.2 L1664.5,3651.4 L1665.2,3654.5 L1666.0,3657.5 L1666.8,3660.5 L1667.7,3663.5 L1668.6,3666.4 L1669.6,3669.3 L1670.7,3672.2 L1672.0,3675.0 L1673.4,3677.8 L1674.9,3680.5 L1676.5,3683.1 L1678.2,3685.7 L1680.0,3688.3 L1681.9,3690.8 L1683.7,3693.4 L1685.6,3696.0 L1687.5,3698.6 L1689.4,3701.3 L1691.1,3703.7 L1692.9,3706.1 L1694.6,3708.5 L1696.5,3710.8 L1698.3,3713.2 L1700.1,3715.6 L1702.0,3718.1 L1703.8,3720.7 L1705.6,3723.4 L1707.5,3726.2 L1709.3,3729.2 L1710.7,3731.7 L1712.1,3734.3 L1713.6,3736.9 L1715.0,3739.7 L1716.4,3742.5 L1717.8,3745.4 L1719.2,3748.3 L1720.7,3751.3 L1722.1,3754.3 L1723.5,3757.3 L1724.9,3760.3 L1726.4,3763.2 L1727.8,3766.1 L1729.2,3769.0 L1730.6,3771.8 L1732.0,3774.7 L1733.5,3777.5 L1734.9,3780.4 L1736.3,3783.2 L1737.7,3786.1 L1739.2,3788.9 L1740.6,3791.8 L1742.0,3794.7 L1743.4,3797.5 L1744.8,3800.4 L1746.3,3803.2 L1747.7,3806.1 L1749.1,3808.9 L1750.5,3811.7 L1751.9,3814.6 L1753.4,3817.4 L1754.8,3820.3 L1756.2,3823.1 L1757.6,3826.0 L1759.0,3828.8 L1760.5,3831.6 L1761.9,3834.5 L1763.3,3837.3 L1764.7,3840.2 L1766.2,3843.0 L1767.6,3845.9 L1769.0,3848.7 L1770.4,3851.5 L1771.9,3854.4 L1773.3,3857.2 L1774.7,3860.1 L1776.1,3862.9 L1777.6,3865.8 L1779.0,3868.6 L1780.4,3871.4 L1781.9,3874.3 L1783.3,3877.1 L1784.7,3880.0 L1786.1,3882.8 L1787.6,3885.7 L1789.0,3888.5 L1790.4,3891.3 L1791.8,3894.2 L1793.3,3897.0 L1794.7,3899.9 L1796.1,3902.7 L1797.5,3905.6 L1799.0,3908.4 L1800.4,3911.2 L1801.8,3914.1 L1803.2,3916.9 L1804.6,3919.8 L1806.1,3922.6 L1807.5,3925.5 L1808.9,3928.3 L1810.3,3931.1 L1811.7,3934.0 L1813.2,3936.8 L1814.6,3939.7 L1816.0,3942.5 L1817.4,3945.4 L1818.9,3948.3 L1820.3,3951.1 L1821.7,3954.0 L1823.1,3956.8 L1824.5,3959.7 L1826.0,3962.5 L1827.4,3965.4 L1828.8,3968.2 L1830.2,3971.0 L1831.7,3973.8 L1833.1,3976.6 L1834.6,3979.3 L1836.1,3982.1 L1837.5,3984.8 L1839.0,3987.6 L1840.5,3990.4 L1841.9,3993.2 L1843.3,3996.0 L1844.7,3998.9 L1846.1,4001.9 L1847.4,4004.9 L1848.7,4008.0 L1849.8,4010.8 L1850.8,4013.7 L1851.8,4016.7 L1852.8,4019.8 L1853.7,4022.9 L1854.6,4026.0 L1855.5,4029.2 L1856.4,4032.4 L1857.3,4035.6 L1858.2,4038.7 L1859.2,4041.8 L1860.2,4044.8 L1861.2,4047.7 L1862.3,4050.5 L1863.4,4053.2 L1864.6,4055.8 L1866.2,4058.8 L1867.9,4061.7 L1869.7,4064.4 L1871.5,4067.0 L1873.4,4069.6 L1875.3,4072.0 L1877.3,4074.4 L1879.2,4076.7 L1881.2,4078.9 L1883.1,4081.1 L1885.0,4083.3 L1886.8,4085.5 L1888.5,4087.6 L1890.7,4090.3 L1893.0,4092.9 L1895.3,4095.4 L1897.5,4097.7 L1899.7,4100.0 L1901.8,4102.3 L1903.7,4104.6 L1905.5,4106.8 L1907.1,4109.1 L1908.4,4111.5 L1909.7,4114.7 L1910.6,4118.0 L1911.2,4121.5 L1911.6,4124.9 L1911.9,4128.2 L1912.1,4131.1 L1912.2,4133.6 L1912.4,4135.4" fill="none" stroke="#000" stroke-width="11" stroke-linejoin="round" stroke-linecap="round"/>
<path d="M290.4,4391.0 L291.2,4389.6 L292.0,4388.0 L292.9,4386.3 L293.9,4384.5 L295.0,4382.5 L296.1,4380.4 L297.3,4378.2 L298.6,4375.8 L299.9,4373.4 L301.3,4370.9 L302.7,4368.3 L304.1,4365.6 L305.6,4362.8 L307.2,4359.9 L308.7,4357.0 L310.3,4354.1 L312.0,4351.0 L313.6,4348.0 L315.3,4344.9 L316.9,4341.7 L318.6,4338.5 L320.3,4335.4 L322.0,4332.2 L323.7,4328.9 L325.4,4325.7 L327.1,4322.5 L328.7,4319.3 L330.4,4316.2 L332.0,4313.0 L333.2,4310.6 L334.5,4308.1 L335.8,4305.6 L337.0,4303.1 L338.3,4300.5 L339.6,4297.9 L340.9,4295.3 L342.3,4292.6 L343.6,4289.9 L344.9,4287.2 L346.3,4284.5 L347.7,4281.7 L349.0,4278.9 L350.4,4276.1 L351.8,4273.3 L353.2,4270.5 L354.6,4267.7 L356.0,4264.8 L357.4,4262.0 L358.8,4259.1 L360.2,4256.2 L361.6,4253.4 L363.0,4250.5 L364.4,4247.7 L365.8,4244.8 L367.2,4241.9 L368.7,4239.1 L370.1,4236.3 L371.5,4233.5 L372.9,4230.7 L374.3,4227.9 L375.7,4225.1 L377.1,4222.4 L378.5,4219.6 L379.9,4216.9 L381.3,4214.3 L382.6,4211.6 L384.0,4209.0 L385.5,4206.2 L387.0,4203.4 L388.4,4200.6 L389.9,4197.9 L391.4,4195.1 L392.9,4192.4 L394.4,4189.7 L395.8,4187.0 L397.3,4184.4 L398.8,4181.7 L400.3,4179.0 L401.8,4176.4 L403.2,4173.8 L404.7,4171.1 L406.2,4168.5 L407.7,4165.9 L409.2,4163.3 L410.6,4160.7 L412.1,4158.1 L413.6,4155.4 L415.1,4152.8 L416.6,4150.2 L418.0,4147.6 L419.5,4145.0 L421.0,4142.4 L422.5,4139.7 L424.0,4137.1 L425.4,4134.4 L426.9,4131.8 L428.4,4129.1 L429.9,4126.5 L431.4,4123.8 L432.8,4121.1 L434.3,4118.3 L435.8,4115.6 L437.2,4113.0 L438.6,4110.4 L440.0,4107.8 L441.4,4105.2 L442.8,4102.6 L444.2,4100.0 L445.6,4097.4 L447.0,4094.8 L448.4,4092.2 L449.8,4089.6 L451.2,4087.0 L452.7,4084.4 L454.1,4081.7 L455.5,4079.1 L456.9,4076.5 L458.3,4073.8 L459.7,4071.2 L461.1,4068.6 L462.5,4065.9 L463.9,4063.2 L465.3,4060.6 L466.7,4057.9 L468.1,4055.2 L469.5,4052.6 L470.9,4049.9 L472.3,4047.2 L473.7,4044.5 L475.2,4041.8 L476.6,4039.0 L478.0,4036.3 L479.4,4033.6 L480.8,4030.8 L482.2,4028.0 L483.6,4025.3 L485.0,4022.5 L486.4,4019.7 L487.8,4016.9 L489.1,4014.3 L490.4,4011.7 L491.7,4009.0 L493.0,4006.4 L494.3,4003.7 L495.6,4001.0 L496.9,3998.3 L498.2,3995.6 L499.5,3992.9 L500.8,3990.1 L502.1,3987.4 L503.4,3984.6 L504.7,3981.8 L506.0,3979.1 L507.3,3976.3 L508.6,3973.5 L509.9,3970.7 L511.2,3967.9 L512.5,3965.1 L513.8,3962.4 L515.0,3959.6 L516.3,3956.8 L517.6,3954.0 L518.9,3951.2 L520.2,3948.4 L521.5,3945.6 L522.8,3942.9 L524.1,3940.1 L525.4,3937.3 L526.7,3934.6 L528.0,3931.9 L529.3,3929.1 L530.6,3926.4 L531.9,3923.7 L533.2,3921.0 L534.5,3918.3 L535.8,3915.7 L537.1,3913.0 L538.4,3910.4 L539.7,3907.8 L541.1,3905.0 L542.5,3902.2 L544.0,3899.3 L545.4,3896.5 L546.9,3893.7 L548.4,3890.8 L549.9,3888.0 L551.4,3885.1 L552.9,3882.3 L554.4,3879.4 L555.9,3876.6 L557.4,3873.8 L558.9,3870.9 L560.4,3868.1 L561.9,3865.3 L563.4,3862.5 L564.9,3859.7 L566.4,3857.0 L567.9,3854.2 L569.3,3851.5 L570.8,3848.8 L572.3,3846.1 L573.7,3843.4 L575.1,3840.7 L576.5,3838.1 L577.9,3835.5 L579.3,3832.9 L580.6,3830.4 L582.0,3827.9 L583.3,3825.4 L584.6,3822.9 L585.8,3820.5 L587.1,3818.1 L588.3,3815.8 L589.4,3813.5 L590.6,3811.2 L591.7,3809.0 L593.4,3805.5 L595.1,3802.2 L596.6,3798.9 L598.1,3795.8 L599.5,3792.7 L600.9,3789.7 L602.2,3786.9 L603.4,3784.0 L604.6,3781.3 L605.8,3778.6 L607.0,3775.9 L608.1,3773.3 L609.2,3770.7 L610.3,3768.2 L611.4,3765.6 L612.5,3763.1 L613.6,3760.5 L614.8,3758.0 L615.9,3755.4 L617.1,3752.8 L618.3,3750.2 L619.5,3747.5 L620.8,3744.8 L622.1,3742.0 L623.5,3739.3 L624.8,3736.5 L626.2,3733.7 L627.5,3730.9 L628.9,3728.2 L630.3,3725.4 L631.7,3722.6 L633.1,3719.8 L634.5,3717.0 L635.9,3714.3 L637.3,3711.5 L638.7,3708.8 L640.1,3706.0 L641.4,3703.3 L642.8,3700.6 L644.2,3698.0 L645.5,3695.3 L646.9,3692.7 L648.2,3690.1 L649.5,3687.5 L650.7,3685.0 L652.0,3682.5 L653.5,3679.5 L655.0,3676.5 L656.4,3673.6 L657.8,3670.7 L659.2,3667.8 L660.6,3665.0 L662.0,3662.1 L663.3,3659.3 L664.7,3656.6 L666.0,3653.8 L667.3,3651.1 L668.6,3648.4 L670.0,3645.8 L671.3,3643.2 L672.6,3640.6 L673.9,3638.0 L675.3,3635.5 L676.6,3633.0 L678.0,3630.5 L679.6,3627.6 L681.3,3624.8 L682.9,3622.0 L684.5,3619.3 L686.1,3616.6 L687.8,3613.9 L689.4,3611.3 L691.0,3608.8 L692.6,3606.2 L694.3,3603.7 L695.9,3601.2 L697.5,3598.8 L699.1,3596.3 L700.8,3593.9 L702.4,3591.4 L704.0,3589.0 L705.9,3586.2 L707.7,3583.5 L709.6,3580.8 L711.4,3578.1 L713.3,3575.4 L715.1,3572.8 L717.0,3570.2 L718.8,3567.6 L720.7,3565.0 L722.5,3562.5 L724.4,3560.0 L726.2,3557.5 L728.1,3555.0 L729.9,3552.6 L731.8,3550.1 L733.6,3547.7 L735.3,3545.4 L737.0,3543.2 L738.7,3541.0 L740.4,3538.9 L742.1,3536.7 L743.9,3534.5 L745.9,3532.2 L748.0,3529.7 L750.4,3527.2 L753.0,3524.4 L755.8,3521.4 L757.5,3519.6 L759.4,3517.7 L761.3,3515.7 L763.3,3513.7 L765.4,3511.6 L767.5,3509.4 L769.7,3507.2 L772.0,3504.9 L774.3,3502.7 L776.6,3500.3 L779.0,3498.0 L781.4,3495.7 L783.8,3493.4 L786.2,3491.0 L788.7,3488.7 L791.1,3486.5 L793.6,3484.2 L796.0,3482.0 L798.4,3479.9" fill="none" stroke="#000" stroke-width="12" stroke-linejoin="round" stroke-linecap="round"/>
<path d="M290.4,4391.0 L291.7,4389.9 L295.6,4390.0 L295.3,4387.6 L293.2,4384.0 L297.9,4384.1 L293.4,4378.9 L295.1,4377.0 L299.7,4376.4 L298.1,4372.5 L303.5,4372.1 L304.4,4369.2 L302.1,4364.5 L303.0,4361.4 L306.0,4359.3 L306.1,4355.6 L313.6,4355.8 L312.7,4351.4 L310.9,4346.5 L314.5,4344.4 L316.6,4341.5 L320.8,4339.7 L317.0,4333.6 L318.8,4330.5 L320.7,4327.4 L324.4,4325.2 L323.1,4320.5 L325.0,4317.4 L332.4,4317.2 L332.7,4313.3 L331.7,4309.8 L335.8,4308.8 L338.8,4307.2 L336.9,4303.0 L339.1,4300.9 L341.3,4298.7 L343.4,4296.5 L344.7,4293.8 L341.2,4288.7 L348.1,4288.8 L344.0,4283.4 L349.7,4282.7 L351.7,4280.2 L348.6,4275.3 L349.5,4272.2 L351.2,4269.5 L358.0,4269.3 L352.4,4263.0 L360.5,4263.5 L355.5,4257.5 L361.6,4257.0 L360.7,4252.9 L363.0,4250.5 L362.7,4246.8 L368.0,4245.9 L369.5,4243.0 L365.9,4237.8 L368.0,4235.2 L370.5,4233.0 L372.3,4230.4 L377.6,4229.5 L373.4,4223.9 L378.8,4223.2 L379.0,4219.9 L383.4,4218.7 L383.3,4215.3 L380.7,4210.6 L382.4,4208.2 L386.1,4206.5 L387.6,4203.7 L390.8,4201.9 L386.2,4195.9 L388.5,4193.5 L394.3,4193.2 L395.6,4190.4 L396.2,4187.2 L397.2,4184.3 L398.1,4181.3 L401.0,4179.5 L400.7,4175.8 L400.7,4172.3 L408.4,4173.2 L405.1,4167.9 L405.7,4164.8 L409.6,4163.5 L411.0,4160.8 L415.4,4159.9 L413.7,4155.5 L416.5,4153.6 L417.5,4150.7 L419.3,4148.3 L422.2,4146.5 L418.3,4140.8 L420.2,4138.5 L424.8,4137.5 L424.1,4133.7 L427.6,4132.2 L427.6,4128.7 L433.7,4128.6 L432.6,4124.4 L433.9,4121.6 L435.2,4118.8 L435.7,4115.5 L439.6,4114.3 L437.3,4109.7 L442.6,4109.2 L440.9,4104.9 L439.9,4101.1 L445.3,4100.6 L447.8,4098.6 L450.8,4096.8 L448.6,4092.3 L448.1,4088.7 L452.6,4087.7 L450.4,4083.2 L456.2,4082.9 L457.7,4080.3 L460.0,4078.1 L455.7,4072.5 L459.6,4071.1 L457.4,4066.6 L464.1,4066.7 L462.5,4062.5 L466.4,4061.2 L468.2,4058.7 L467.0,4054.6 L472.3,4054.0 L474.1,4051.5 L470.4,4046.2 L474.2,4044.7 L476.8,4042.6 L477.3,4039.4 L476.3,4035.4 L479.9,4033.8 L476.9,4028.8 L484.9,4029.4 L480.7,4023.8 L487.5,4023.7 L487.6,4020.3 L491.5,4018.8 L486.2,4012.9 L492.4,4012.7 L487.7,4007.1 L493.4,4006.6 L490.6,4001.9 L499.1,4002.7 L493.8,3996.8 L498.9,3995.9 L500.6,3993.4 L502.9,3991.1 L505.5,3989.0 L505.3,3985.5 L504.2,3981.6 L509.9,3980.9 L505.7,3975.6 L512.4,3975.3 L513.1,3972.3 L509.7,3967.3 L515.8,3966.7 L516.9,3963.8 L512.3,3958.3 L519.2,3958.1 L519.0,3954.6 L516.2,3949.9 L521.4,3948.9 L523.3,3946.5 L524.5,3943.7 L520.1,3938.2 L524.0,3936.7 L523.6,3933.1 L527.8,3931.7 L528.3,3928.7 L528.6,3925.5 L535.1,3925.3 L534.1,3921.4 L533.4,3917.8 L535.7,3915.6 L534.2,3911.6 L538.0,3910.2 L536.2,3906.1 L544.7,3906.8 L540.9,3901.4 L540.1,3897.4 L543.2,3895.3 L547.4,3893.9 L549.0,3891.1 L549.8,3887.9 L550.5,3884.7 L555.4,3883.6 L557.3,3881.0 L555.7,3876.5 L559.5,3874.9 L559.7,3871.4 L564.1,3870.1 L560.0,3864.3 L566.6,3864.2 L568.8,3861.8 L568.1,3857.9 L570.8,3855.8 L568.0,3850.8 L572.6,3849.7 L573.7,3846.8 L570.6,3841.7 L573.9,3840.1 L578.3,3839.0 L579.0,3836.1 L582.5,3834.6 L579.7,3829.9 L583.9,3828.9 L582.5,3825.0 L588.1,3824.8 L584.2,3819.7 L590.8,3820.1 L590.1,3816.7 L586.1,3811.8 L588.6,3810.2 L593.3,3809.8 L595.5,3806.6 L596.5,3802.8 L594.2,3797.8 L594.5,3794.1 L596.1,3791.1 L598.6,3788.7 L603.2,3787.3 L601.3,3783.1 L606.2,3782.0 L605.6,3778.5 L605.1,3775.1 L610.3,3774.3 L605.7,3769.2 L613.5,3769.5 L612.6,3766.1 L609.3,3761.7 L614.3,3760.8 L616.4,3758.7 L615.9,3755.4 L617.7,3753.1 L618.0,3750.1 L615.8,3745.8 L617.0,3743.0 L623.9,3742.9 L625.4,3740.2 L622.4,3735.3 L626.7,3734.0 L625.6,3730.0 L629.6,3728.5 L626.8,3723.6 L630.9,3722.2 L636.3,3721.4 L636.0,3717.8 L636.9,3714.8 L639.9,3712.8 L638.0,3708.4 L643.9,3708.0 L641.5,3703.4 L639.0,3698.7 L642.7,3697.2 L648.3,3696.7 L645.8,3692.2 L651.6,3691.8 L650.1,3687.9 L650.7,3685.0 L649.6,3681.3 L649.8,3677.7 L654.2,3676.1 L657.5,3674.2 L656.1,3669.9 L659.8,3668.1 L660.8,3665.1 L664.2,3663.2 L663.1,3659.2 L666.3,3657.4 L667.0,3654.3 L666.2,3650.6 L667.2,3647.7 L672.1,3646.8 L671.6,3643.3 L668.8,3638.6 L674.7,3638.4 L675.5,3635.6 L679.1,3634.3 L681.3,3632.4 L677.6,3626.5 L685.0,3627.0 L685.1,3623.3 L683.9,3618.9 L689.2,3618.4 L691.5,3616.2 L687.8,3610.3 L692.7,3609.9 L693.8,3607.0 L694.9,3604.2 L697.4,3602.2 L699.6,3600.1 L698.7,3596.1 L702.0,3594.7 L702.3,3591.4 L701.5,3587.3 L707.4,3587.3 L709.1,3584.4 L707.8,3579.5 L710.7,3577.6 L711.6,3574.2 L713.3,3571.5 L720.2,3572.4 L717.7,3566.8 L720.5,3564.9 L721.6,3561.8 L726.9,3561.8 L725.9,3557.3 L724.7,3552.5 L728.4,3551.4 L733.3,3551.2 L734.9,3548.6 L738.6,3547.9 L734.7,3541.4 L739.8,3542.0 L741.8,3540.1 L741.8,3536.5 L746.3,3536.5 L745.1,3531.4 L746.5,3528.4 L751.7,3528.4 L752.4,3523.9 L753.3,3519.0 L759.1,3521.1 L760.2,3518.5 L763.6,3518.0 L760.4,3510.9 L764.6,3510.8 L768.7,3510.6 L769.0,3506.5 L773.6,3506.5 L771.5,3499.9 L775.6,3499.4 L781.3,3500.4 L780.6,3494.9 L783.2,3492.8 L783.8,3488.5 L788.3,3488.4 L791.7,3487.0 L790.6,3480.9 L796.7,3482.8 L798.4,3479.9" fill="none" stroke="#000" stroke-width="7" stroke-linejoin="round" stroke-linecap="round"/>
<path d="M290.4,4391.0 L295.0,4391.6 L289.8,4386.8 L295.3,4387.6 L290.2,4382.4 L292.4,4381.1 L298.9,4381.9 L295.9,4377.4 L300.3,4376.8 L297.7,4372.2 L303.1,4371.9 L305.0,4369.5 L303.0,4364.9 L306.8,4363.4 L306.3,4359.5 L306.5,4355.8 L307.1,4352.3 L308.2,4349.0 L315.5,4349.0 L312.1,4343.2 L318.7,4342.7 L322.0,4340.3 L317.0,4333.6 L325.9,4334.2 L323.2,4328.7 L323.8,4324.9 L330.6,4324.4 L325.9,4317.8 L326.9,4314.4 L328.1,4311.0 L330.3,4309.1 L335.8,4308.8 L334.6,4305.0 L333.2,4301.2 L334.4,4298.6 L339.8,4298.0 L337.8,4293.7 L338.4,4290.7 L343.0,4289.6 L342.7,4286.1 L344.0,4283.3 L350.4,4283.1 L350.8,4279.8 L347.7,4274.8 L349.3,4272.1 L349.3,4268.6 L355.5,4268.1 L353.6,4263.7 L359.2,4262.9 L360.5,4259.9 L359.9,4256.1 L364.6,4254.9 L362.9,4250.4 L366.7,4248.8 L369.1,4246.4 L364.2,4240.4 L369.2,4239.4 L370.2,4236.3 L374.6,4235.0 L372.0,4230.2 L370.9,4226.2 L373.0,4223.7 L375.7,4221.6 L379.5,4220.1 L382.3,4218.2 L381.7,4214.5 L379.2,4209.8 L387.7,4210.9 L388.3,4207.7 L385.2,4202.4 L385.3,4198.9 L387.6,4196.6 L395.3,4197.3 L391.8,4191.9 L397.6,4191.5 L395.0,4186.6 L398.9,4185.2 L398.5,4181.5 L398.7,4178.2 L401.8,4176.4 L403.6,4174.0 L403.1,4170.2 L403.2,4166.8 L409.7,4167.0 L408.5,4162.9 L413.3,4162.2 L413.6,4158.9 L417.4,4157.6 L418.3,4154.6 L415.2,4149.4 L417.3,4147.2 L421.4,4146.1 L420.5,4142.1 L424.5,4140.9 L423.3,4136.7 L428.9,4136.4 L424.0,4130.2 L429.0,4129.5 L429.3,4126.1 L431.2,4123.7 L430.8,4120.0 L433.0,4117.6 L436.9,4116.2 L439.5,4114.2 L439.8,4111.1 L440.3,4108.0 L443.4,4106.3 L446.4,4104.5 L447.7,4101.9 L443.2,4096.1 L444.6,4093.5 L445.3,4090.5 L446.7,4087.9 L453.7,4088.3 L450.8,4083.3 L456.2,4082.9 L452.6,4077.6 L460.2,4078.3 L460.0,4074.7 L461.9,4072.4 L458.1,4067.0 L458.8,4064.0 L460.1,4061.2 L461.3,4058.5 L469.4,4059.3 L464.5,4053.4 L465.7,4050.6 L470.8,4049.8 L469.2,4045.5 L477.0,4046.2 L477.0,4042.7 L475.6,4038.5 L477.0,4035.8 L475.9,4031.8 L477.3,4029.0 L479.3,4026.6 L482.5,4024.7 L481.1,4020.5 L484.7,4018.8 L487.9,4017.0 L490.1,4014.8 L486.9,4009.9 L488.3,4007.4 L496.9,4008.3 L492.6,4002.9 L497.6,4002.0 L497.0,3998.3 L498.9,3995.9 L496.0,3991.2 L501.4,3990.4 L498.8,3985.8 L506.4,3986.0 L505.5,3982.3 L502.7,3977.5 L508.9,3977.1 L509.4,3973.9 L509.5,3970.6 L515.0,3969.7 L512.0,3964.9 L515.2,3963.0 L518.9,3961.4 L517.6,3957.3 L515.4,3952.9 L517.5,3950.5 L519.4,3948.0 L522.6,3946.1 L518.9,3941.0 L520.5,3938.4 L527.4,3938.3 L524.1,3933.4 L527.3,3931.5 L529.0,3929.0 L527.9,3925.1 L529.9,3922.7 L533.8,3921.3 L536.2,3919.1 L536.5,3916.0 L535.8,3912.4 L537.6,3910.0 L542.0,3908.9 L537.1,3903.0 L545.2,3903.5 L543.5,3899.1 L541.6,3894.5 L544.5,3892.4 L546.9,3890.1 L553.0,3889.6 L550.5,3884.7 L549.5,3880.5 L552.6,3878.5 L553.8,3875.5 L554.6,3872.3 L556.9,3869.9 L562.8,3869.4 L564.7,3866.8 L562.9,3862.3 L564.3,3859.4 L567.2,3857.4 L567.1,3853.8 L568.8,3851.2 L568.4,3847.4 L570.2,3845.0 L575.8,3844.5 L577.8,3842.2 L575.5,3837.6 L574.9,3833.9 L581.3,3834.0 L582.2,3831.2 L582.3,3828.1 L582.2,3824.8 L587.0,3824.2 L588.2,3821.7 L585.8,3817.5 L587.3,3815.3 L589.3,3813.4 L590.0,3811.0 L594.5,3810.4 L597.0,3807.3 L594.0,3801.6 L593.2,3797.3 L596.4,3795.0 L599.4,3792.6 L601.1,3789.9 L600.2,3785.9 L604.3,3784.4 L603.1,3780.6 L608.3,3779.7 L607.6,3776.2 L606.7,3772.7 L612.0,3771.9 L613.7,3769.6 L614.9,3767.1 L613.2,3763.4 L615.9,3761.6 L610.9,3756.3 L616.8,3755.8 L614.1,3751.5 L618.2,3750.2 L618.9,3747.2 L616.9,3742.9 L619.7,3740.9 L625.3,3740.2 L622.5,3735.4 L623.7,3732.5 L627.0,3730.7 L626.1,3726.7 L628.9,3724.7 L632.1,3722.8 L630.4,3718.4 L636.3,3717.9 L633.0,3712.8 L641.2,3713.5 L635.5,3707.1 L641.7,3706.9 L642.3,3703.8 L640.3,3699.4 L646.7,3699.3 L644.4,3694.7 L645.6,3692.1 L644.4,3688.2 L646.4,3686.0 L650.3,3684.8 L651.2,3682.1 L656.7,3681.1 L653.0,3675.6 L660.2,3675.5 L655.9,3669.8 L657.1,3666.8 L664.1,3666.7 L663.6,3662.9 L666.0,3660.7 L661.3,3655.0 L665.9,3653.8 L664.1,3649.5 L665.8,3647.0 L673.7,3647.7 L670.9,3643.0 L675.3,3642.0 L677.3,3639.7 L677.7,3636.8 L677.1,3633.2 L680.0,3631.6 L683.1,3629.6 L678.8,3623.3 L686.6,3624.2 L685.9,3620.1 L683.3,3614.8 L686.2,3613.0 L687.5,3610.2 L691.9,3609.3 L688.9,3603.9 L697.4,3605.7 L697.5,3602.3 L696.6,3598.2 L698.8,3596.1 L701.8,3594.6 L701.3,3590.7 L700.5,3586.6 L705.8,3586.2 L706.3,3582.5 L709.6,3580.8 L709.4,3576.7 L711.1,3573.9 L713.6,3571.7 L717.2,3570.4 L717.0,3566.3 L718.6,3563.5 L721.3,3561.6 L724.2,3559.9 L725.1,3556.7 L728.3,3555.2 L729.5,3552.3 L732.9,3550.9 L730.2,3545.1 L734.5,3544.8 L739.5,3545.1 L735.7,3538.8 L742.1,3540.3 L740.4,3535.3 L746.6,3536.8 L744.9,3531.3 L744.9,3526.9 L749.0,3525.9 L755.5,3526.8 L758.2,3523.7 L760.2,3522.2 L757.8,3516.2 L759.2,3513.6 L766.4,3516.8 L765.1,3511.3 L770.2,3512.1 L770.1,3507.6 L771.3,3504.3 L776.5,3505.0 L773.8,3497.5 L780.2,3499.3 L779.6,3493.8 L784.2,3493.7 L784.0,3488.7 L786.2,3486.1 L793.9,3489.4 L791.0,3481.4 L798.9,3485.2 L798.4,3479.9" fill="none" stroke="#000" stroke-width="7" stroke-linejoin="round" stroke-linecap="round"/>
<path d="M290.4,4391.0 L292.6,4390.3 L294.7,4389.5 L295.2,4387.6 L295.0,4385.0 L297.7,4384.0 L299.3,4382.1 L294.1,4376.4 L300.8,4377.0 L299.2,4373.1 L299.8,4370.1 L301.2,4367.5 L307.2,4367.2 L306.4,4363.2 L305.3,4358.9 L311.4,4358.4 L308.8,4353.2 L314.0,4352.1 L311.5,4346.8 L318.5,4346.6 L317.1,4341.8 L316.0,4337.2 L317.6,4333.9 L324.0,4333.2 L325.6,4329.9 L329.4,4327.8 L330.6,4324.4 L326.1,4318.0 L328.0,4314.9 L329.8,4311.9 L332.0,4310.0 L332.5,4307.1 L336.3,4305.9 L335.2,4302.2 L335.0,4298.9 L341.2,4298.7 L343.6,4296.6 L342.2,4292.6 L342.5,4289.4 L344.4,4286.9 L343.1,4282.9 L349.6,4282.7 L346.6,4277.8 L348.0,4274.9 L352.6,4273.7 L350.7,4269.3 L357.2,4269.0 L357.3,4265.5 L361.4,4263.9 L355.5,4257.5 L363.3,4257.8 L360.5,4252.8 L366.7,4252.3 L364.9,4247.9 L368.1,4245.9 L365.7,4241.2 L368.3,4238.9 L373.0,4237.7 L374.2,4234.8 L375.4,4231.9 L372.4,4226.9 L375.3,4224.9 L377.3,4222.4 L377.0,4218.9 L382.4,4218.2 L383.1,4215.2 L383.4,4212.0 L384.6,4209.3 L385.3,4206.1 L389.4,4204.7 L387.4,4200.0 L392.9,4199.5 L393.7,4196.4 L391.7,4191.8 L397.8,4191.6 L398.9,4188.7 L394.2,4182.6 L398.4,4181.4 L396.7,4177.0 L405.7,4178.6 L399.6,4171.7 L405.2,4171.4 L403.7,4167.1 L409.0,4166.6 L406.6,4161.8 L410.7,4160.7 L410.2,4157.0 L409.7,4153.3 L416.7,4153.7 L417.1,4150.5 L415.9,4146.4 L418.0,4144.1 L424.2,4144.2 L425.2,4141.3 L427.2,4138.9 L422.1,4132.6 L426.2,4131.4 L426.6,4128.1 L428.7,4125.8 L429.0,4122.4 L431.3,4120.2 L435.3,4118.8 L439.5,4117.6 L439.3,4114.1 L436.5,4109.3 L441.5,4108.6 L439.3,4104.1 L444.7,4103.6 L443.3,4099.5 L442.2,4095.6 L447.7,4095.2 L448.7,4092.3 L450.8,4090.1 L451.7,4087.2 L452.4,4084.2 L456.6,4083.1 L458.4,4080.7 L456.3,4076.2 L456.8,4073.1 L462.9,4072.9 L459.6,4067.8 L458.9,4064.0 L463.6,4063.1 L467.3,4061.6 L464.1,4056.5 L468.0,4055.2 L469.0,4052.3 L473.5,4051.2 L475.1,4048.6 L471.6,4043.3 L477.3,4042.8 L473.0,4037.2 L478.4,4036.5 L482.1,4035.0 L479.3,4030.1 L480.5,4027.2 L487.2,4027.1 L484.8,4022.4 L486.0,4019.5 L488.1,4017.1 L491.5,4015.5 L491.6,4012.3 L492.4,4009.3 L492.9,4006.3 L495.6,4004.3 L494.7,4000.6 L494.1,3997.0 L501.2,3997.0 L501.5,3993.8 L497.5,3988.6 L499.2,3986.0 L503.5,3984.7 L508.5,3983.6 L502.0,3977.2 L509.3,3977.2 L508.6,3973.5 L509.6,3970.6 L513.3,3968.9 L510.8,3964.4 L517.6,3964.1 L513.0,3958.6 L513.9,3955.6 L520.8,3955.4 L520.0,3951.7 L517.2,3947.0 L521.9,3945.8 L520.0,3941.5 L521.2,3938.7 L529.3,3939.2 L526.7,3934.6 L531.7,3933.6 L532.4,3930.6 L533.5,3927.8 L534.8,3925.1 L529.5,3919.2 L531.6,3916.9 L535.2,3915.4 L534.6,3911.8 L535.4,3908.9 L537.1,3906.5 L543.9,3906.4 L542.7,3902.2 L545.5,3900.1 L542.8,3895.2 L543.8,3892.1 L547.2,3890.2 L545.9,3885.9 L554.3,3886.6 L556.3,3884.1 L555.1,3879.8 L553.8,3875.5 L554.0,3872.0 L561.3,3872.2 L562.5,3869.3 L559.0,3863.8 L565.7,3863.8 L567.4,3861.1 L568.6,3858.2 L569.3,3855.0 L567.2,3850.4 L568.6,3847.6 L570.3,3845.0 L570.7,3841.8 L571.7,3838.9 L575.6,3837.6 L579.5,3836.4 L583.2,3835.0 L578.2,3829.1 L578.2,3825.9 L579.4,3823.4 L581.5,3821.3 L582.8,3819.0 L584.6,3816.9 L586.4,3814.8 L589.4,3813.4 L587.1,3809.5 L592.5,3809.4 L596.6,3807.1 L593.2,3801.3 L598.7,3799.9 L594.0,3793.9 L597.2,3791.6 L600.3,3789.5 L604.0,3787.7 L603.2,3783.9 L604.6,3781.2 L607.6,3779.4 L603.1,3774.3 L606.5,3772.6 L611.5,3771.7 L608.6,3767.4 L613.2,3766.4 L609.7,3761.8 L617.6,3762.3 L611.5,3756.6 L614.2,3754.7 L614.0,3751.4 L621.7,3751.8 L615.7,3745.8 L620.4,3744.6 L620.5,3741.3 L624.5,3739.8 L627.2,3737.7 L626.2,3733.7 L630.9,3732.6 L631.1,3729.2 L630.0,3725.2 L631.6,3722.5 L631.5,3719.0 L633.0,3716.3 L638.1,3715.4 L635.8,3710.7 L638.4,3708.6 L638.9,3705.5 L637.6,3701.4 L641.4,3699.9 L645.7,3698.7 L645.0,3695.1 L647.1,3692.8 L645.8,3688.9 L651.0,3688.3 L652.7,3686.0 L648.4,3680.7 L656.9,3681.2 L652.4,3675.3 L657.8,3674.3 L660.4,3671.9 L661.3,3668.8 L662.4,3665.8 L657.9,3660.2 L661.5,3658.5 L667.0,3657.7 L662.2,3652.0 L670.8,3652.8 L668.4,3648.3 L668.6,3645.1 L674.0,3644.5 L668.9,3638.6 L675.6,3638.9 L675.4,3635.5 L673.9,3631.5 L681.8,3632.6 L681.4,3628.6 L679.0,3623.5 L686.7,3624.2 L688.0,3621.4 L688.4,3618.0 L684.1,3611.7 L685.6,3609.0 L693.9,3610.6 L689.3,3604.1 L691.7,3602.1 L694.5,3600.3 L700.9,3601.0 L702.1,3598.3 L698.8,3592.6 L706.0,3593.8 L703.6,3588.8 L708.4,3587.9 L705.4,3581.9 L712.8,3583.0 L714.4,3580.1 L715.0,3576.6 L714.6,3572.4 L715.8,3569.3 L717.6,3566.7 L721.3,3565.4 L719.4,3560.2 L722.5,3558.6 L726.7,3557.8 L726.6,3553.9 L733.0,3555.0 L733.5,3551.3 L731.1,3545.8 L734.0,3544.4 L738.4,3544.3 L741.0,3542.9 L742.9,3540.9 L741.2,3536.0 L742.7,3533.5 L743.9,3530.4 L748.0,3529.7 L749.0,3525.9 L750.2,3521.7 L756.0,3521.6 L755.8,3517.9 L762.5,3520.8 L760.2,3514.7 L760.7,3511.1 L764.6,3510.8 L766.1,3508.0 L772.5,3510.0 L773.8,3506.8 L771.2,3499.6 L777.0,3500.8 L781.8,3500.9 L780.8,3495.1 L783.3,3492.8 L787.9,3492.8 L788.8,3488.9 L792.0,3487.4 L793.8,3484.5 L795.5,3481.5 L798.4,3479.9" fill="none" stroke="#000" stroke-width="7" stroke-linejoin="round" stroke-linecap="round"/>
<path d="M781.4,3495.7 L783.8,3493.4 L786.2,3491.0 L788.7,3488.7 L791.1,3486.5 L793.6,3484.2 L796.0,3482.0 L798.4,3479.9 L800.8,3477.8 L803.2,3475.8 L805.5,3473.9 L807.8,3472.0 L810.4,3469.9 L813.0,3467.9 L815.6,3466.0 L818.2,3464.0 L820.8,3462.2 L823.4,3460.3 L826.0,3458.5 L828.6,3456.8 L831.2,3455.0 L833.7,3453.4 L836.3,3451.7 L838.9,3450.1 L841.5,3448.5 L844.1,3447.0 L846.7,3445.4 L849.3,3444.0 L851.9,3442.5 L854.5,3441.1 L857.1,3439.7 L859.7,3438.3 L862.6,3436.8 L865.5,3435.4 L868.4,3434.0 L871.3,3432.7 L874.1,3431.4 L877.0,3430.2 L879.9,3429.0 L882.8,3427.9 L885.7,3426.8 L888.6,3425.7 L891.5,3424.6 L894.4,3423.6 L897.3,3422.5 L900.1,3421.5 L903.0,3420.5 L905.9,3419.5 L908.8,3418.5 L911.7,3417.5 L914.6,3416.5 L917.5,3415.5 L920.4,3414.6 L923.2,3413.6 L926.1,3412.7 L929.0,3411.8 L931.9,3410.9 L934.8,3410.0 L937.7,3409.1 L940.5,3408.2 L943.4,3407.4 L946.3,3406.6 L949.2,3405.8 L952.1,3405.0 L954.9,3404.2 L957.8,3403.5 L960.7,3402.7 L963.6,3402.0 L966.7,3401.3 L969.7,3400.5 L972.8,3399.9 L975.8,3399.2 L978.9,3398.6 L981.9,3398.0 L985.0,3397.4 L988.1,3396.8 L991.1,3396.2 L994.2,3395.6 L997.3,3395.1 L1000.3,3394.5 L1003.4,3393.9 L1006.4,3393.4 L1009.5,3392.8 L1012.5,3392.2 L1015.6,3391.6 L1018.7,3391.0 L1021.7,3390.4 L1024.8,3389.7 L1027.8,3389.1 L1030.9,3388.5 L1033.9,3387.8 L1037.0,3387.2 L1040.0,3386.6 L1043.1,3385.9 L1046.1,3385.3 L1049.2,3384.7 L1052.2,3384.1 L1055.3,3383.5 L1058.3,3382.9 L1061.4,3382.3 L1064.4,3381.7 L1067.5,3381.2 L1070.6,3380.7 L1073.6,3380.1 L1076.7,3379.6 L1079.7,3379.1 L1082.8,3378.6 L1085.8,3378.2 L1088.9,3377.7 L1092.0,3377.2 L1095.0,3376.7 L1098.1,3376.3 L1101.2,3375.9 L1104.2,3375.4 L1107.3,3375.0 L1110.3,3374.6 L1113.4,3374.2 L1116.4,3373.8 L1119.5,3373.4 L1122.6,3373.0 L1125.7,3372.6 L1128.9,3372.3 L1132.2,3371.9 L1135.4,3371.5 L1138.7,3371.2 L1141.9,3370.8 L1145.2,3370.5 L1148.4,3370.2 L1151.6,3369.9 L1154.7,3369.6 L1157.7,3369.3 L1160.7,3369.1 L1163.5,3368.8 L1166.3,3368.6 L1168.9,3368.4 L1171.4,3368.2 L1175.2,3368.0 L1178.5,3367.8 L1181.5,3367.7 L1184.2,3367.7 L1186.7,3367.7 L1189.2,3367.7 L1191.9,3367.7 L1194.9,3367.7 L1198.2,3367.6 L1202.0,3367.5 L1204.5,3367.4 L1207.1,3367.3 L1209.9,3367.2 L1212.7,3367.1 L1215.7,3366.9 L1218.7,3366.8 L1221.9,3366.7 L1225.0,3366.5 L1228.2,3366.4 L1231.5,3366.2 L1234.7,3366.0 L1238.0,3365.9 L1241.2,3365.7 L1244.5,3365.5 L1247.7,3365.4 L1250.8,3365.2 L1253.9,3365.0 L1257.0,3364.8 L1260.0,3364.6 L1263.1,3364.4 L1266.1,3364.2 L1269.2,3364.0 L1272.2,3363.8 L1275.3,3363.5 L1278.3,3363.3 L1281.4,3363.1 L1284.4,3362.8 L1287.5,3362.6 L1290.5,3362.4 L1293.6,3362.2 L1296.6,3361.9 L1299.7,3361.7 L1302.7,3361.5 L1305.8,3361.3 L1308.9,3361.1 L1311.9,3360.9 L1315.0,3360.7 L1318.0,3360.5 L1321.1,3360.3 L1324.1,3360.1 L1327.2,3359.9 L1330.3,3359.7 L1333.3,3359.5 L1336.4,3359.3 L1339.5,3359.1 L1342.5,3358.9 L1345.6,3358.8 L1348.6,3358.6 L1351.7,3358.5 L1354.7,3358.3 L1357.8,3358.2 L1360.9,3358.1 L1363.9,3358.0 L1367.0,3357.9 L1370.0,3357.8 L1373.1,3357.7 L1376.1,3357.6 L1379.2,3357.5 L1382.2,3357.4 L1385.3,3357.4 L1388.3,3357.3 L1391.4,3357.2 L1394.4,3357.2 L1397.5,3357.2 L1400.5,3357.1 L1403.6,3357.1 L1406.6,3357.1 L1409.7,3357.1 L1412.8,3357.1 L1415.8,3357.1 L1418.9,3357.2 L1421.9,3357.3 L1425.0,3357.3 L1428.0,3357.4 L1431.1,3357.5 L1434.2,3357.6 L1437.2,3357.7 L1440.3,3357.8 L1443.4,3357.9 L1446.4,3358.0 L1449.5,3358.0 L1452.5,3358.1 L1455.6,3358.2 L1458.6,3358.2 L1461.7,3358.2 L1464.8,3358.2 L1467.8,3358.1 L1470.9,3358.1 L1473.9,3358.0 L1477.0,3357.8 L1480.0,3357.7 L1483.1,3357.6 L1486.1,3357.5 L1489.2,3357.3 L1492.2,3357.2 L1495.3,3357.1 L1498.3,3357.0 L1501.4,3357.0 L1504.4,3356.9 L1507.5,3357.0 L1510.5,3357.0 L1513.6,3357.1 L1516.7,3357.2 L1519.9,3357.4 L1523.2,3357.6 L1526.5,3357.8 L1529.8,3358.1 L1533.2,3358.4 L1536.6,3358.7 L1539.9,3359.0 L1543.2,3359.3 L1546.4,3359.7 L1549.5,3360.0 L1552.6,3360.4 L1555.5,3360.8 L1558.3,3361.2 L1560.9,3361.5 L1563.4,3361.9 L1565.6,3362.3 L1570.3,3363.2 L1574.0,3364.2 L1577.0,3365.1 L1579.5,3366.2 L1581.7,3367.3 L1584.0,3368.6 L1586.4,3370.0 L1589.3,3371.8 L1592.0,3373.6 L1594.5,3375.7 L1597.0,3377.9 L1599.5,3380.3" fill="none" stroke="#000" stroke-width="18" stroke-linejoin="round" stroke-linecap="round"/>
<path d="M781.4,3495.7 L782.1,3491.6 L787.9,3492.8 L787.4,3487.4 L786.2,3481.1 L788.6,3478.8 L801.0,3487.7 L800.9,3482.7 L796.7,3473.1 L804.2,3477.0 L802.0,3469.6 L808.7,3473.1 L811.0,3470.8 L813.0,3467.9 L815.6,3465.9 L820.8,3467.6 L816.7,3456.5 L824.4,3461.8 L828.3,3461.9 L824.7,3451.1 L829.6,3452.6 L834.3,3454.3 L833.2,3446.7 L842.7,3456.3 L837.5,3441.8 L848.0,3453.5 L847.3,3446.4 L852.9,3450.3 L853.0,3444.4 L856.9,3445.4 L860.1,3445.2 L859.3,3437.6 L859.6,3430.9 L866.9,3438.3 L867.8,3432.9 L870.1,3430.0 L875.6,3434.9 L877.4,3431.0 L879.6,3428.1 L883.8,3430.3 L887.0,3430.2 L889.4,3427.8 L891.1,3423.5 L895.9,3427.8 L897.9,3424.2 L901.4,3425.1 L901.9,3417.2 L905.6,3418.6 L908.8,3418.5 L910.3,3413.5 L912.0,3409.0 L918.3,3418.1 L921.1,3416.7 L922.8,3412.1 L927.1,3415.7 L929.5,3413.2 L930.9,3407.6 L936.1,3414.5 L936.0,3403.7 L939.5,3404.7 L943.9,3409.3 L947.0,3409.1 L948.6,3403.5 L952.7,3407.5 L955.1,3404.7 L958.7,3407.0 L962.2,3408.6 L965.2,3408.3 L966.4,3400.2 L971.2,3407.0 L971.5,3394.2 L976.9,3404.2 L978.7,3397.7 L983.3,3404.5 L986.3,3404.2 L989.3,3403.5 L990.2,3391.0 L995.5,3402.8 L995.9,3388.0 L1000.5,3395.3 L1002.1,3387.1 L1006.3,3392.7 L1010.7,3399.2 L1012.5,3392.0 L1016.6,3396.4 L1018.9,3392.2 L1020.2,3383.1 L1023.3,3382.6 L1029.2,3395.6 L1029.3,3381.0 L1034.3,3389.8 L1035.4,3379.9 L1041.4,3393.0 L1042.4,3382.8 L1046.8,3388.6 L1048.2,3379.9 L1053.7,3391.7 L1054.2,3377.7 L1058.0,3381.2 L1061.6,3383.3 L1063.7,3377.6 L1068.7,3388.1 L1071.5,3386.0 L1073.3,3378.5 L1077.2,3382.7 L1080.5,3384.0 L1082.0,3373.8 L1085.5,3376.2 L1088.0,3371.8 L1092.2,3378.8 L1094.5,3373.1 L1098.0,3375.7 L1100.9,3374.4 L1104.8,3380.0 L1107.9,3379.7 L1110.6,3376.8 L1114.3,3381.5 L1115.5,3366.4 L1118.9,3368.5 L1122.6,3373.2 L1125.0,3366.1 L1129.3,3375.7 L1132.9,3378.2 L1136.3,3379.2 L1138.5,3369.5 L1141.5,3366.8 L1145.3,3371.9 L1147.8,3363.8 L1150.9,3362.6 L1155.2,3375.0 L1157.0,3361.6 L1160.5,3367.7 L1163.0,3362.7 L1165.6,3360.7 L1169.0,3369.9 L1171.5,3369.2 L1175.6,3375.3 L1178.7,3370.8 L1181.5,3367.7 L1184.2,3367.8 L1186.7,3373.1 L1189.2,3375.3 L1191.9,3370.5 L1194.9,3373.7 L1198.2,3367.4 L1202.0,3367.2 L1204.4,3365.4 L1206.8,3360.2 L1209.9,3367.9 L1212.8,3367.1 L1215.8,3369.9 L1219.0,3372.3 L1222.0,3369.6 L1224.7,3359.2 L1228.1,3363.2 L1231.5,3366.8 L1234.4,3359.0 L1238.3,3372.8 L1240.9,3359.0 L1244.2,3361.4 L1247.3,3358.1 L1251.0,3369.1 L1253.5,3358.4 L1257.3,3370.5 L1259.9,3362.8 L1262.8,3360.4 L1266.5,3369.4 L1268.7,3357.7 L1271.7,3356.9 L1275.1,3361.9 L1277.7,3355.4 L1281.6,3366.5 L1284.5,3363.7 L1287.9,3367.8 L1291.0,3369.3 L1294.1,3369.4 L1296.7,3362.8 L1299.2,3354.1 L1302.6,3359.8 L1306.1,3366.3 L1309.1,3364.9 L1311.6,3356.2 L1315.3,3365.0 L1318.0,3360.3 L1320.8,3356.5 L1324.3,3362.1 L1327.1,3358.9 L1330.4,3362.5 L1333.8,3367.5 L1336.8,3365.7 L1339.8,3364.7 L1342.5,3357.9 L1345.4,3354.9 L1348.7,3360.0 L1351.5,3354.8 L1354.6,3355.2 L1357.9,3360.1 L1361.1,3363.9 L1364.1,3363.0 L1367.0,3358.3 L1369.9,3352.7 L1373.1,3358.8 L1376.2,3361.7 L1379.1,3354.9 L1382.4,3365.0 L1385.3,3356.8 L1388.4,3361.1 L1391.5,3364.0 L1394.5,3364.0 L1397.4,3349.3 L1400.5,3355.8 L1403.6,3356.6 L1406.7,3360.8 L1409.7,3362.9 L1412.8,3357.8 L1415.9,3351.6 L1418.8,3359.3 L1422.0,3356.3 L1425.1,3353.9 L1428.2,3351.0 L1431.3,3350.8 L1434.2,3355.7 L1437.3,3354.3 L1440.2,3359.7 L1443.1,3365.0 L1446.6,3351.9 L1449.5,3358.1 L1452.4,3365.9 L1455.5,3365.3 L1458.7,3350.8 L1461.7,3361.0 L1464.7,3353.7 L1467.9,3360.9 L1471.1,3365.7 L1473.8,3354.2 L1476.9,3355.8 L1479.8,3353.2 L1482.8,3350.6 L1485.8,3350.4 L1488.9,3349.5 L1492.3,3360.3 L1495.2,3353.7 L1498.4,3358.0 L1501.3,3349.4 L1504.4,3355.7 L1507.6,3350.3 L1510.5,3360.7 L1513.4,3363.6 L1516.7,3356.4 L1520.2,3351.8 L1523.6,3351.2 L1526.9,3351.9 L1529.4,3363.0 L1532.6,3365.1 L1535.9,3366.2 L1539.6,3362.2 L1543.9,3352.3 L1546.4,3359.6 L1549.7,3358.7 L1553.4,3354.0 L1555.8,3358.6 L1558.1,3362.3 L1562.1,3353.8 L1563.0,3364.2 L1565.0,3365.2 L1569.6,3366.3 L1572.0,3370.9 L1575.7,3368.5 L1578.8,3367.6 L1578.5,3373.4 L1580.9,3374.0 L1590.0,3363.9 L1592.5,3366.8 L1590.3,3375.9 L1589.7,3381.4 L1594.2,3380.8 L1599.5,3380.3" fill="none" stroke="#000" stroke-width="8" stroke-linejoin="round" stroke-linecap="round"/>
<path d="M781.4,3495.7 L786.4,3496.1 L791.7,3496.8 L787.1,3487.0 L788.7,3483.8 L788.6,3478.7 L796.1,3482.2 L800.1,3481.8 L800.5,3477.4 L800.9,3473.0 L800.7,3468.0 L808.4,3472.7 L814.1,3474.7 L810.9,3465.2 L812.6,3462.0 L822.2,3469.5 L820.9,3462.3 L821.5,3457.6 L825.6,3458.0 L830.0,3458.9 L833.3,3458.3 L830.1,3447.6 L836.5,3451.9 L842.3,3455.6 L839.6,3445.4 L845.4,3449.1 L849.9,3451.0 L847.9,3441.4 L851.9,3442.6 L850.7,3434.1 L856.3,3438.1 L863.2,3445.0 L862.7,3437.1 L868.8,3442.2 L868.8,3434.9 L871.0,3432.1 L876.4,3436.7 L875.1,3425.5 L881.1,3431.9 L885.3,3434.1 L885.8,3426.9 L886.9,3421.2 L889.4,3419.0 L895.2,3426.0 L898.7,3426.5 L901.9,3426.7 L901.7,3416.7 L907.6,3424.3 L910.8,3424.1 L909.7,3411.9 L912.8,3411.3 L920.0,3422.9 L921.7,3418.7 L921.9,3409.4 L927.0,3415.4 L927.1,3405.6 L932.5,3412.7 L933.9,3407.0 L937.6,3409.1 L940.5,3408.0 L945.4,3414.4 L947.7,3411.5 L949.3,3406.4 L951.9,3404.5 L956.0,3408.0 L958.8,3407.2 L960.9,3403.7 L962.0,3395.7 L967.9,3406.3 L970.5,3403.8 L973.4,3402.6 L975.1,3395.8 L977.8,3393.3 L981.3,3394.7 L984.0,3392.1 L987.9,3395.6 L991.5,3398.3 L995.5,3402.6 L998.0,3399.1 L999.0,3387.6 L1004.4,3399.3 L1005.4,3388.2 L1009.7,3393.7 L1011.1,3384.8 L1016.7,3397.3 L1018.6,3390.6 L1021.0,3386.8 L1023.6,3384.0 L1028.8,3393.6 L1029.8,3383.2 L1035.2,3393.8 L1037.9,3391.4 L1038.5,3379.4 L1043.4,3387.7 L1046.8,3388.7 L1049.6,3386.8 L1051.9,3382.4 L1054.9,3381.7 L1058.6,3384.3 L1060.3,3376.4 L1064.0,3379.4 L1066.8,3377.3 L1071.1,3384.1 L1074.5,3385.2 L1076.0,3375.3 L1079.0,3374.9 L1083.2,3381.0 L1086.9,3385.1 L1088.1,3372.7 L1092.3,3379.5 L1094.7,3374.4 L1098.7,3380.7 L1101.1,3375.3 L1103.9,3372.9 L1107.4,3376.1 L1109.7,3369.8 L1113.6,3375.9 L1115.5,3366.2 L1118.9,3368.3 L1123.1,3377.6 L1125.1,3367.5 L1129.8,3379.6 L1133.0,3379.6 L1136.0,3377.1 L1138.7,3371.2 L1141.1,3363.2 L1145.7,3375.7 L1149.0,3376.7 L1151.3,3367.6 L1154.9,3371.9 L1157.6,3367.8 L1160.8,3371.2 L1163.4,3367.3 L1166.2,3368.1 L1168.4,3361.2 L1171.9,3375.9 L1175.0,3364.3 L1178.3,3361.9 L1181.6,3374.5 L1184.2,3374.6 L1186.7,3365.9 L1189.3,3361.2 L1191.9,3369.2 L1194.8,3366.6 L1198.0,3361.3 L1202.2,3372.2 L1204.2,3361.1 L1207.4,3373.8 L1209.6,3361.2 L1212.7,3365.9 L1215.9,3372.6 L1218.7,3365.8 L1221.9,3367.5 L1225.2,3370.9 L1228.3,3367.0 L1231.6,3368.1 L1234.9,3369.0 L1237.7,3359.5 L1241.4,3369.1 L1244.3,3362.3 L1247.3,3358.0 L1250.8,3365.8 L1254.2,3370.0 L1256.5,3357.2 L1260.3,3368.9 L1263.1,3365.6 L1266.5,3369.8 L1269.2,3364.0 L1272.2,3362.9 L1275.0,3360.5 L1277.8,3357.0 L1281.2,3360.2 L1284.5,3364.1 L1287.7,3365.6 L1290.2,3357.4 L1293.3,3358.4 L1296.5,3360.4 L1299.9,3364.9 L1302.9,3363.2 L1306.0,3364.0 L1309.1,3365.1 L1311.6,3356.6 L1314.7,3357.2 L1318.4,3365.5 L1321.5,3366.0 L1324.0,3358.5 L1327.6,3365.3 L1330.6,3364.3 L1333.4,3360.9 L1336.7,3363.9 L1339.7,3363.0 L1342.2,3353.2 L1345.9,3365.8 L1348.2,3350.7 L1351.4,3353.5 L1354.8,3359.9 L1358.1,3365.3 L1361.1,3365.5 L1364.0,3360.0 L1367.2,3363.8 L1370.2,3364.9 L1373.0,3356.7 L1376.0,3351.8 L1379.1,3354.0 L1382.1,3353.8 L1385.3,3357.6 L1388.4,3363.7 L1391.5,3363.6 L1394.4,3352.5 L1397.5,3357.3 L1400.5,3354.2 L1403.6,3364.0 L1406.6,3352.7 L1409.7,3362.4 L1412.7,3364.4 L1415.8,3359.6 L1418.7,3364.8 L1421.9,3358.5 L1424.8,3364.5 L1428.2,3353.6 L1431.3,3351.2 L1433.9,3365.5 L1437.3,3354.9 L1440.1,3365.3 L1443.5,3354.3 L1446.2,3364.6 L1449.4,3361.8 L1452.6,3356.7 L1455.6,3358.8 L1458.6,3364.3 L1461.7,3351.4 L1464.7,3356.0 L1467.9,3361.5 L1470.8,3357.2 L1473.9,3357.1 L1476.7,3352.2 L1479.9,3354.9 L1483.2,3360.8 L1486.3,3361.4 L1489.4,3362.7 L1492.5,3364.0 L1495.3,3356.9 L1498.2,3351.5 L1501.3,3351.9 L1504.4,3360.6 L1507.5,3359.7 L1510.4,3362.6 L1513.7,3355.5 L1516.7,3358.0 L1519.5,3363.8 L1523.5,3352.4 L1526.8,3353.8 L1530.3,3352.3 L1532.8,3363.5 L1536.4,3360.6 L1540.5,3352.6 L1543.8,3353.8 L1546.7,3357.0 L1549.2,3362.7 L1552.1,3364.1 L1554.7,3366.7 L1558.9,3356.6 L1560.4,3364.8 L1562.5,3367.1 L1564.8,3366.5 L1570.1,3363.7 L1571.9,3371.4 L1578.3,3361.5 L1576.6,3372.5 L1585.2,3360.8 L1587.8,3361.9 L1589.9,3364.2 L1590.3,3370.2 L1587.7,3379.4 L1596.3,3373.5 L1596.2,3378.7 L1599.5,3380.3" fill="none" stroke="#000" stroke-width="8" stroke-linejoin="round" stroke-linecap="round"/>
<path d="M781.4,3495.7 L780.8,3490.2 L787.4,3492.2 L784.6,3484.4 L786.6,3481.5 L792.0,3482.5 L792.7,3478.3 L803.2,3485.3 L803.4,3480.8 L802.4,3474.8 L808.1,3477.0 L805.9,3469.6 L805.8,3464.1 L816.9,3473.1 L813.7,3463.5 L819.1,3465.2 L820.3,3461.5 L819.2,3454.3 L828.3,3461.9 L830.7,3460.0 L828.6,3451.1 L836.3,3457.3 L839.0,3456.0 L842.6,3456.1 L837.7,3442.1 L840.6,3441.0 L845.8,3443.9 L851.6,3448.1 L848.5,3436.4 L856.1,3444.0 L859.1,3443.3 L860.7,3440.2 L865.9,3443.4 L865.5,3435.5 L869.9,3437.4 L874.3,3439.5 L875.0,3433.4 L877.2,3430.5 L878.9,3426.4 L880.8,3422.8 L885.5,3426.2 L891.3,3432.8 L890.2,3421.2 L896.5,3429.4 L894.6,3415.1 L899.5,3419.8 L904.5,3424.8 L904.9,3416.5 L906.2,3411.0 L914.2,3424.6 L915.5,3419.2 L918.6,3418.9 L919.3,3411.2 L924.7,3418.2 L927.1,3415.8 L928.5,3410.0 L932.2,3412.0 L933.3,3405.0 L936.0,3403.4 L941.6,3412.0 L943.2,3406.8 L947.1,3409.5 L947.5,3399.7 L951.4,3402.5 L955.6,3406.8 L955.9,3396.1 L961.7,3406.5 L963.5,3401.4 L967.7,3405.7 L971.1,3406.7 L971.7,3395.0 L976.7,3403.2 L977.7,3392.6 L983.0,3403.0 L986.1,3403.1 L989.2,3402.8 L990.6,3393.5 L994.9,3399.5 L996.6,3391.4 L1000.5,3395.4 L1002.1,3387.0 L1007.5,3399.0 L1010.1,3396.0 L1013.7,3398.3 L1015.5,3391.1 L1019.4,3394.5 L1020.2,3383.2 L1024.8,3389.8 L1028.9,3394.3 L1030.8,3388.0 L1035.2,3394.2 L1038.3,3393.5 L1039.7,3384.9 L1043.9,3389.8 L1046.9,3389.1 L1050.4,3390.7 L1053.2,3389.0 L1055.1,3382.6 L1057.0,3375.6 L1060.2,3375.9 L1064.9,3384.5 L1068.0,3384.0 L1071.0,3383.2 L1072.6,3373.9 L1075.8,3374.3 L1078.5,3371.9 L1083.6,3383.4 L1087.1,3385.9 L1089.3,3380.1 L1091.1,3371.6 L1094.9,3375.9 L1097.5,3372.5 L1101.3,3376.9 L1104.8,3379.6 L1107.9,3379.7 L1111.3,3382.1 L1112.7,3369.0 L1117.3,3380.2 L1120.2,3379.0 L1122.1,3368.9 L1126.0,3374.6 L1129.7,3379.1 L1132.9,3378.1 L1135.3,3370.2 L1138.5,3369.3 L1142.0,3371.0 L1144.5,3363.7 L1149.1,3377.5 L1151.6,3370.7 L1155.2,3374.9 L1157.4,3366.2 L1161.3,3376.0 L1163.1,3363.3 L1166.6,3372.6 L1168.4,3362.1 L1171.3,3366.4 L1175.0,3363.1 L1178.7,3372.4 L1181.3,3361.5 L1184.1,3364.1 L1186.7,3368.1 L1189.2,3370.5 L1191.9,3370.7 L1194.9,3372.7 L1198.2,3369.3 L1201.8,3362.0 L1204.2,3359.9 L1206.9,3362.7 L1210.2,3374.3 L1212.7,3365.4 L1215.7,3366.6 L1218.6,3363.0 L1221.7,3362.6 L1224.8,3362.2 L1228.0,3361.4 L1231.6,3368.3 L1234.8,3367.2 L1237.7,3361.1 L1241.5,3370.4 L1244.9,3373.3 L1247.3,3359.6 L1250.9,3367.0 L1254.1,3367.9 L1256.6,3358.6 L1259.8,3362.1 L1262.8,3360.9 L1266.4,3368.0 L1269.1,3363.2 L1271.7,3356.9 L1275.5,3366.6 L1278.4,3364.5 L1281.3,3361.6 L1285.0,3370.2 L1287.9,3368.9 L1290.7,3364.1 L1293.8,3364.9 L1297.0,3367.6 L1300.2,3368.7 L1302.5,3357.2 L1306.1,3365.4 L1308.5,3356.4 L1311.9,3360.5 L1315.1,3362.8 L1318.4,3365.4 L1320.7,3354.4 L1323.6,3352.3 L1326.8,3354.2 L1330.7,3367.2 L1333.4,3360.0 L1336.5,3361.1 L1339.3,3357.2 L1342.8,3364.4 L1345.5,3358.3 L1348.9,3364.2 L1351.7,3359.6 L1354.9,3361.8 L1358.0,3364.3 L1360.8,3356.1 L1363.9,3357.1 L1366.9,3355.4 L1370.2,3362.0 L1373.0,3356.2 L1376.2,3359.1 L1379.3,3360.9 L1382.0,3349.7 L1385.1,3350.2 L1388.3,3355.3 L1391.4,3360.5 L1394.4,3352.3 L1397.5,3358.2 L1400.6,3362.1 L1403.6,3362.5 L1406.6,3357.0 L1409.7,3358.2 L1412.7,3362.3 L1415.9,3351.6 L1418.9,3358.4 L1421.8,3360.9 L1424.9,3359.3 L1427.8,3365.1 L1431.2,3353.5 L1434.4,3350.1 L1437.3,3355.3 L1440.5,3351.4 L1443.4,3354.6 L1446.2,3365.0 L1449.6,3350.5 L1452.7,3350.9 L1455.6,3354.6 L1458.6,3365.5 L1461.7,3351.7 L1464.8,3364.3 L1467.8,3357.3 L1471.0,3362.7 L1474.1,3363.6 L1477.2,3363.2 L1479.7,3350.5 L1483.2,3361.1 L1486.0,3355.7 L1489.0,3354.1 L1492.1,3353.4 L1495.4,3359.6 L1498.4,3357.9 L1501.3,3353.5 L1504.4,3355.6 L1507.6,3350.0 L1510.6,3354.2 L1513.8,3352.0 L1516.4,3364.3 L1520.0,3355.6 L1523.1,3359.4 L1526.4,3358.8 L1529.8,3358.4 L1533.8,3351.4 L1537.2,3351.2 L1540.6,3351.6 L1542.4,3367.1 L1547.1,3353.8 L1550.2,3354.1 L1552.8,3359.0 L1554.8,3365.9 L1558.3,3361.2 L1561.7,3356.6 L1562.9,3364.7 L1566.0,3360.2 L1569.2,3368.0 L1575.5,3359.0 L1578.0,3362.3 L1581.8,3361.2 L1585.2,3360.8 L1582.7,3370.7 L1584.0,3374.0 L1590.0,3370.7 L1593.9,3371.0 L1599.0,3370.4 L1596.1,3378.8 L1599.5,3380.3" fill="none" stroke="#000" stroke-width="8" stroke-linejoin="round" stroke-linecap="round"/>
<path d="M1581.7,3367.3 L1584.0,3368.6 L1586.4,3370.0 L1589.3,3371.8 L1592.0,3373.6 L1594.5,3375.7 L1597.0,3377.9 L1599.5,3380.3 L1602.0,3383.0 L1604.0,3385.2 L1606.0,3387.5 L1608.0,3389.8 L1610.1,3392.4 L1612.1,3395.0 L1614.0,3397.9 L1615.8,3400.8 L1617.5,3404.0 L1618.8,3406.6 L1619.9,3409.3 L1621.0,3412.1 L1622.1,3414.9 L1623.1,3417.9 L1624.1,3421.0 L1625.0,3424.2 L1626.0,3427.6 L1627.0,3431.2 L1628.0,3435.0 L1628.7,3437.7 L1629.4,3440.5 L1630.1,3443.4 L1630.8,3446.4 L1631.6,3449.6 L1632.3,3452.8 L1633.0,3456.0 L1633.7,3459.3 L1634.4,3462.6 L1635.1,3465.9 L1635.8,3469.2 L1636.4,3472.4 L1637.1,3475.6 L1637.7,3478.8 L1638.3,3481.8 L1638.9,3485.0 L1639.5,3488.1 L1640.1,3491.3 L1640.6,3494.4 L1641.2,3497.4 L1641.7,3500.5 L1642.2,3503.5 L1642.7,3506.5 L1643.2,3509.6 L1643.7,3512.6 L1644.1,3515.7 L1644.6,3518.8 L1645.0,3521.9 L1645.5,3525.0 L1645.9,3528.0 L1646.3,3530.9 L1646.7,3534.0 L1647.1,3537.0 L1647.4,3540.1 L1647.8,3543.1 L1648.2,3546.2 L1648.5,3549.2 L1648.8,3552.3 L1649.2,3555.3 L1649.5,3558.3 L1649.9,3561.3 L1650.3,3564.2 L1650.6,3567.1 L1651.0,3570.0 L1651.4,3573.3 L1651.9,3576.5 L1652.4,3579.7 L1652.8,3582.8 L1653.3,3586.0 L1653.7,3589.1 L1654.2,3592.2 L1654.7,3595.2 L1655.1,3598.2 L1655.6,3601.2 L1656.1,3604.2 L1656.5,3607.1 L1657.0,3610.0 L1657.5,3613.4 L1658.1,3616.7 L1658.6,3620.0 L1659.1,3623.3 L1659.6,3626.5 L1660.1,3629.7 L1660.6,3632.9 L1661.1,3636.0 L1661.7,3639.0 L1662.3,3642.0 L1663.0,3645.0 L1663.7,3648.2 L1664.5,3651.4 L1665.2,3654.5 L1666.0,3657.5 L1666.8,3660.5 L1667.7,3663.5 L1668.6,3666.4 L1669.6,3669.3 L1670.7,3672.2 L1672.0,3675.0 L1673.4,3677.8 L1674.9,3680.5 L1676.5,3683.1 L1678.2,3685.7 L1680.0,3688.3 L1681.9,3690.8 L1683.7,3693.4 L1685.6,3696.0 L1687.5,3698.6 L1689.4,3701.3 L1691.1,3703.7 L1692.9,3706.1 L1694.6,3708.5 L1696.5,3710.8 L1698.3,3713.2 L1700.1,3715.6 L1702.0,3718.1 L1703.8,3720.7 L1705.6,3723.4 L1707.5,3726.2 L1709.3,3729.2 L1710.7,3731.7 L1712.1,3734.3 L1713.6,3736.9 L1715.0,3739.7 L1716.4,3742.5 L1717.8,3745.4 L1719.2,3748.3 L1720.7,3751.3 L1722.1,3754.3 L1723.5,3757.3 L1724.9,3760.3 L1726.4,3763.2 L1727.8,3766.1 L1729.2,3769.0 L1730.6,3771.8 L1732.0,3774.7 L1733.5,3777.5 L1734.9,3780.4 L1736.3,3783.2 L1737.7,3786.1 L1739.2,3788.9 L1740.6,3791.8 L1742.0,3794.7 L1743.4,3797.5 L1744.8,3800.4 L1746.3,3803.2 L1747.7,3806.1 L1749.1,3808.9 L1750.5,3811.7 L1751.9,3814.6 L1753.4,3817.4 L1754.8,3820.3 L1756.2,3823.1 L1757.6,3826.0 L1759.0,3828.8 L1760.5,3831.6 L1761.9,3834.5 L1763.3,3837.3 L1764.7,3840.2 L1766.2,3843.0 L1767.6,3845.9 L1769.0,3848.7 L1770.4,3851.5 L1771.9,3854.4 L1773.3,3857.2 L1774.7,3860.1 L1776.1,3862.9 L1777.6,3865.8 L1779.0,3868.6 L1780.4,3871.4 L1781.9,3874.3 L1783.3,3877.1 L1784.7,3880.0 L1786.1,3882.8 L1787.6,3885.7 L1789.0,3888.5 L1790.4,3891.3 L1791.8,3894.2 L1793.3,3897.0 L1794.7,3899.9 L1796.1,3902.7 L1797.5,3905.6 L1799.0,3908.4 L1800.4,3911.2 L1801.8,3914.1 L1803.2,3916.9 L1804.6,3919.8 L1806.1,3922.6 L1807.5,3925.5 L1808.9,3928.3 L1810.3,3931.1 L1811.7,3934.0 L1813.2,3936.8 L1814.6,3939.7 L1816.0,3942.5 L1817.4,3945.4 L1818.9,3948.3 L1820.3,3951.1 L1821.7,3954.0 L1823.1,3956.8 L1824.5,3959.7 L1826.0,3962.5 L1827.4,3965.4 L1828.8,3968.2 L1830.2,3971.0 L1831.7,3973.8 L1833.1,3976.6 L1834.6,3979.3 L1836.1,3982.1 L1837.5,3984.8 L1839.0,3987.6 L1840.5,3990.4 L1841.9,3993.2 L1843.3,3996.0 L1844.7,3998.9 L1846.1,4001.9 L1847.4,4004.9 L1848.7,4008.0 L1849.8,4010.8 L1850.8,4013.7 L1851.8,4016.7 L1852.8,4019.8 L1853.7,4022.9 L1854.6,4026.0 L1855.5,4029.2 L1856.4,4032.4 L1857.3,4035.6 L1858.2,4038.7 L1859.2,4041.8 L1860.2,4044.8 L1861.2,4047.7 L1862.3,4050.5 L1863.4,4053.2 L1864.6,4055.8 L1866.2,4058.8 L1867.9,4061.7 L1869.7,4064.4 L1871.5,4067.0 L1873.4,4069.6 L1875.3,4072.0 L1877.3,4074.4 L1879.2,4076.7 L1881.2,4078.9 L1883.1,4081.1 L1885.0,4083.3 L1886.8,4085.5 L1888.5,4087.6 L1890.7,4090.3 L1893.0,4092.9 L1895.3,4095.4 L1897.5,4097.7 L1899.7,4100.0 L1901.8,4102.3 L1903.7,4104.6 L1905.5,4106.8 L1907.1,4109.1 L1908.4,4111.5 L1909.7,4114.7 L1910.6,4118.0 L1911.2,4121.5 L1911.6,4124.9 L1911.9,4128.2 L1912.1,4131.1 L1912.2,4133.6 L1912.4,4135.4" fill="none" stroke="#000" stroke-width="13" stroke-linejoin="round" stroke-linecap="round"/>
<path d="M1581.7,3367.3 L1581.7,3372.5 L1587.0,3369.0 L1587.4,3374.7 L1593.2,3372.1 L1595.9,3374.0 L1595.3,3379.6 L1602.8,3377.1 L1604.0,3381.1 L1600.5,3388.3 L1602.9,3390.2 L1609.8,3388.4 L1611.4,3391.4 L1609.9,3396.6 L1611.3,3399.6 L1616.4,3400.5 L1621.3,3402.1 L1619.0,3406.5 L1619.3,3409.6 L1619.4,3412.7 L1625.5,3413.7 L1620.6,3418.7 L1622.8,3421.4 L1624.8,3424.3 L1623.5,3428.3 L1629.2,3430.6 L1630.6,3434.3 L1628.3,3437.8 L1631.6,3439.9 L1625.5,3444.5 L1632.0,3446.2 L1627.9,3450.4 L1629.1,3453.5 L1629.1,3456.9 L1632.6,3459.5 L1638.5,3461.7 L1637.2,3465.5 L1631.9,3470.0 L1640.6,3471.6 L1636.3,3475.8 L1637.5,3478.8 L1643.0,3480.9 L1640.0,3484.8 L1637.3,3488.6 L1640.2,3491.2 L1643.3,3493.9 L1641.1,3497.4 L1637.3,3501.2 L1638.8,3504.1 L1638.1,3507.3 L1641.4,3509.9 L1643.7,3512.6 L1645.0,3515.6 L1641.9,3519.2 L1644.0,3522.0 L1644.4,3525.2 L1646.0,3527.9 L1643.9,3531.3 L1648.9,3533.7 L1645.2,3537.2 L1646.5,3540.2 L1650.6,3542.8 L1647.1,3546.3 L1647.7,3549.3 L1644.2,3552.8 L1653.3,3554.8 L1651.2,3558.1 L1653.1,3560.9 L1646.7,3564.7 L1646.9,3567.6 L1654.4,3569.5 L1656.0,3572.6 L1652.6,3576.4 L1648.7,3580.2 L1648.3,3583.5 L1648.5,3586.7 L1656.2,3588.7 L1650.5,3592.7 L1652.3,3595.6 L1655.8,3598.1 L1652.7,3601.7 L1653.9,3604.5 L1653.3,3607.6 L1658.6,3609.7 L1656.1,3613.6 L1655.2,3617.2 L1654.5,3620.7 L1663.5,3622.6 L1658.5,3626.7 L1659.4,3629.8 L1661.2,3632.7 L1663.4,3635.5 L1658.9,3639.6 L1667.1,3641.0 L1664.4,3644.7 L1662.7,3648.5 L1668.5,3650.4 L1663.4,3654.9 L1668.7,3656.8 L1663.8,3661.4 L1667.7,3663.5 L1667.1,3666.9 L1669.2,3669.5 L1666.4,3674.0 L1668.9,3676.5 L1675.4,3676.7 L1671.1,3682.7 L1677.7,3682.4 L1675.8,3687.3 L1679.3,3688.8 L1678.4,3693.3 L1685.6,3692.0 L1687.3,3694.8 L1687.3,3698.8 L1687.4,3702.7 L1692.6,3702.6 L1690.9,3707.6 L1695.4,3707.9 L1695.5,3711.6 L1700.0,3711.9 L1702.3,3714.0 L1701.4,3718.6 L1704.2,3720.4 L1704.1,3724.4 L1711.6,3723.6 L1710.4,3728.5 L1707.6,3733.4 L1716.0,3732.2 L1714.0,3736.7 L1713.7,3740.4 L1713.1,3744.2 L1717.6,3745.5 L1717.0,3749.5 L1719.4,3751.9 L1720.4,3755.1 L1723.5,3757.3 L1720.5,3762.4 L1728.8,3762.0 L1728.6,3765.7 L1726.5,3770.3 L1734.7,3769.8 L1733.3,3774.1 L1737.2,3775.7 L1734.2,3780.7 L1737.1,3782.9 L1734.5,3787.7 L1739.9,3788.6 L1741.8,3791.2 L1743.2,3794.1 L1741.2,3798.6 L1742.1,3801.7 L1748.0,3802.3 L1749.8,3805.0 L1749.6,3808.6 L1747.9,3813.1 L1752.3,3814.4 L1755.3,3816.5 L1751.7,3821.8 L1755.8,3823.3 L1759.4,3825.1 L1761.6,3827.5 L1763.7,3830.0 L1761.7,3834.6 L1764.2,3836.9 L1763.0,3841.0 L1765.0,3843.6 L1764.4,3847.4 L1770.4,3848.0 L1770.7,3851.4 L1768.9,3855.9 L1770.1,3858.8 L1775.8,3859.5 L1780.3,3860.8 L1778.1,3865.5 L1775.6,3870.3 L1777.6,3872.9 L1780.4,3875.0 L1787.1,3875.2 L1788.8,3877.9 L1782.0,3884.9 L1784.8,3887.0 L1791.7,3887.2 L1793.7,3889.7 L1795.6,3892.3 L1794.6,3896.4 L1792.7,3900.9 L1791.9,3904.8 L1794.3,3907.2 L1802.3,3906.7 L1800.3,3911.3 L1799.1,3915.4 L1805.0,3916.0 L1804.9,3919.6 L1805.0,3923.2 L1810.9,3923.8 L1810.7,3927.4 L1810.8,3930.9 L1807.8,3936.0 L1814.6,3936.1 L1810.9,3941.5 L1812.0,3944.5 L1820.1,3944.1 L1815.6,3949.9 L1819.4,3951.5 L1820.0,3954.8 L1819.5,3958.6 L1822.9,3960.4 L1823.9,3963.5 L1828.9,3964.6 L1830.8,3967.2 L1832.9,3969.7 L1832.8,3973.2 L1837.1,3974.5 L1836.5,3978.3 L1838.8,3980.7 L1840.8,3983.1 L1843.4,3985.3 L1844.2,3988.5 L1845.4,3991.4 L1842.4,3996.5 L1843.8,3999.4 L1848.1,4001.0 L1847.5,4004.9 L1851.9,4006.7 L1853.4,4009.4 L1855.4,4012.1 L1853.5,4016.2 L1849.3,4020.8 L1849.1,4024.2 L1854.7,4026.0 L1852.1,4030.2 L1854.5,4032.9 L1859.5,4034.9 L1853.7,4040.0 L1861.5,4041.0 L1857.8,4045.6 L1863.1,4047.0 L1860.3,4051.3 L1859.9,4054.8 L1860.9,4057.7 L1869.9,4056.7 L1864.3,4063.9 L1867.6,4065.8 L1869.9,4068.2 L1876.7,4067.0 L1878.4,4069.5 L1878.8,4073.1 L1881.5,4074.8 L1884.3,4076.2 L1882.6,4081.6 L1884.0,4084.2 L1890.4,4082.5 L1888.4,4087.6 L1891.0,4090.1 L1894.9,4091.1 L1894.1,4096.5 L1898.7,4096.6 L1896.5,4103.0 L1899.6,4104.3 L1906.7,4102.1 L1903.3,4108.5 L1903.8,4111.2 L1904.7,4113.3 L1909.0,4114.9 L1908.2,4118.6 L1909.8,4121.7 L1910.5,4125.1 L1916.3,4127.9 L1910.1,4131.2 L1911.9,4133.6 L1912.4,4135.4" fill="none" stroke="#000" stroke-width="8" stroke-linejoin="round" stroke-linecap="round"/>
<path d="M1581.7,3367.3 L1582.4,3371.3 L1586.4,3370.0 L1589.1,3372.0 L1594.8,3369.9 L1592.7,3377.8 L1594.7,3380.3 L1596.3,3383.4 L1600.1,3384.7 L1603.9,3385.2 L1608.9,3385.0 L1610.7,3387.6 L1608.6,3393.5 L1612.7,3394.6 L1615.7,3396.7 L1619.5,3398.7 L1619.0,3403.2 L1617.4,3407.2 L1621.9,3408.5 L1625.1,3410.5 L1625.2,3413.8 L1623.1,3417.9 L1627.4,3420.0 L1620.9,3425.4 L1627.1,3427.3 L1623.6,3432.1 L1628.5,3434.9 L1630.0,3437.3 L1625.1,3441.5 L1633.2,3442.7 L1628.5,3447.0 L1636.1,3448.5 L1631.5,3452.9 L1634.3,3455.7 L1632.2,3459.6 L1629.6,3463.6 L1633.8,3466.2 L1632.8,3469.8 L1637.8,3472.1 L1634.7,3476.1 L1640.4,3478.2 L1635.0,3482.4 L1636.2,3485.5 L1639.9,3488.1 L1641.0,3491.1 L1636.9,3495.0 L1643.8,3497.0 L1642.2,3500.4 L1641.5,3503.6 L1638.9,3507.2 L1643.0,3509.6 L1642.3,3512.8 L1644.9,3515.6 L1640.3,3519.4 L1649.2,3521.3 L1642.7,3525.4 L1642.4,3528.4 L1642.4,3531.5 L1651.1,3533.4 L1643.7,3537.4 L1642.8,3540.6 L1644.0,3543.5 L1644.4,3546.6 L1647.5,3549.3 L1650.9,3552.0 L1649.6,3555.3 L1648.0,3558.5 L1649.3,3561.4 L1646.4,3564.7 L1649.4,3567.3 L1654.4,3569.5 L1650.4,3573.4 L1656.6,3575.8 L1652.7,3579.6 L1651.8,3583.0 L1658.1,3585.3 L1655.8,3588.8 L1650.3,3592.7 L1657.2,3594.8 L1657.8,3597.8 L1652.1,3601.8 L1654.1,3604.5 L1660.3,3606.5 L1661.6,3609.3 L1659.4,3613.1 L1655.4,3617.1 L1657.1,3620.3 L1656.5,3623.7 L1655.5,3627.2 L1656.6,3630.3 L1662.7,3632.5 L1663.7,3635.5 L1661.5,3639.1 L1666.9,3641.1 L1658.5,3646.0 L1662.4,3648.5 L1665.6,3651.1 L1661.9,3655.3 L1663.2,3658.3 L1662.1,3661.9 L1672.3,3662.1 L1668.4,3666.5 L1667.5,3670.1 L1674.1,3670.8 L1669.1,3676.3 L1671.9,3678.6 L1676.3,3679.7 L1679.8,3681.0 L1676.0,3687.2 L1676.0,3691.1 L1679.6,3692.5 L1683.0,3694.0 L1686.9,3695.1 L1686.3,3699.5 L1688.7,3701.8 L1693.6,3701.9 L1692.9,3706.1 L1698.1,3705.8 L1695.0,3711.9 L1696.0,3715.0 L1699.0,3716.4 L1703.4,3717.1 L1707.1,3718.4 L1707.7,3722.0 L1705.0,3727.7 L1713.1,3726.9 L1715.1,3729.2 L1710.8,3735.0 L1717.4,3734.9 L1714.6,3739.9 L1719.1,3741.2 L1715.3,3746.7 L1723.3,3746.4 L1718.5,3752.4 L1724.5,3753.1 L1723.8,3757.1 L1720.8,3762.2 L1727.1,3762.9 L1731.5,3764.3 L1728.1,3769.6 L1729.5,3772.4 L1729.6,3775.9 L1733.1,3777.7 L1736.9,3779.4 L1739.0,3781.9 L1734.7,3787.6 L1736.4,3790.3 L1741.8,3791.2 L1742.1,3794.6 L1746.7,3795.8 L1740.4,3802.6 L1743.1,3804.8 L1747.9,3805.9 L1746.4,3810.3 L1746.7,3813.7 L1756.2,3812.5 L1753.9,3817.1 L1755.2,3820.1 L1757.7,3822.4 L1756.8,3826.4 L1757.9,3829.4 L1764.1,3829.8 L1763.0,3833.9 L1758.9,3839.5 L1768.6,3838.2 L1769.8,3841.2 L1771.4,3843.9 L1766.2,3850.1 L1769.2,3852.2 L1772.7,3854.0 L1777.7,3855.0 L1773.9,3860.5 L1771.7,3865.2 L1780.8,3864.1 L1783.2,3866.5 L1778.2,3872.6 L1777.5,3876.5 L1784.5,3876.5 L1781.7,3881.5 L1785.3,3883.3 L1788.4,3885.2 L1790.4,3887.8 L1790.0,3891.6 L1788.6,3895.8 L1791.2,3898.0 L1791.9,3901.3 L1794.5,3903.5 L1797.3,3905.7 L1795.1,3910.3 L1799.6,3911.6 L1805.6,3912.2 L1800.8,3918.1 L1805.7,3919.2 L1805.1,3923.1 L1810.6,3923.9 L1811.1,3927.2 L1811.6,3930.5 L1816.0,3931.9 L1816.8,3935.1 L1812.9,3940.5 L1819.1,3941.0 L1819.5,3944.4 L1819.3,3948.1 L1816.4,3953.0 L1824.8,3952.4 L1824.3,3956.2 L1829.0,3957.5 L1825.1,3962.9 L1825.0,3966.5 L1830.7,3967.2 L1827.7,3972.3 L1835.1,3972.0 L1830.2,3978.1 L1830.8,3981.4 L1839.0,3980.5 L1838.7,3984.2 L1835.6,3989.4 L1836.7,3992.3 L1840.0,3994.1 L1842.7,3996.3 L1842.1,4000.2 L1846.1,4001.9 L1843.6,4006.6 L1852.2,4006.6 L1852.7,4009.7 L1850.7,4013.7 L1849.7,4017.4 L1852.1,4020.0 L1854.9,4022.5 L1854.5,4026.1 L1855.2,4029.3 L1856.4,4032.4 L1853.9,4036.6 L1856.9,4039.1 L1856.1,4042.8 L1861.1,4044.5 L1864.7,4046.4 L1859.1,4051.8 L1859.8,4054.8 L1866.4,4054.9 L1870.3,4056.5 L1869.9,4060.4 L1866.7,4066.4 L1874.2,4065.1 L1869.6,4072.4 L1875.3,4072.0 L1878.4,4073.4 L1879.7,4076.3 L1879.6,4080.3 L1882.5,4081.7 L1885.1,4083.2 L1888.1,4084.4 L1886.7,4089.1 L1887.4,4093.1 L1891.5,4094.2 L1893.9,4096.6 L1898.8,4096.5 L1896.2,4103.3 L1902.8,4101.4 L1901.2,4106.7 L1909.4,4104.0 L1907.9,4108.6 L1909.9,4110.8 L1909.5,4114.7 L1906.8,4118.9 L1915.2,4120.9 L1912.3,4124.9 L1908.3,4128.4 L1907.8,4131.3 L1910.0,4133.7 L1912.4,4135.4" fill="none" stroke="#000" stroke-width="8" stroke-linejoin="round" stroke-linecap="round"/>
<path d="M1581.7,3367.3 L1584.1,3368.4 L1584.1,3373.9 L1590.9,3369.3 L1594.7,3370.0 L1595.7,3374.3 L1596.2,3378.7 L1598.8,3381.0 L1602.2,3382.8 L1600.6,3388.2 L1607.4,3386.2 L1608.0,3389.9 L1609.4,3392.9 L1614.5,3393.3 L1614.8,3397.3 L1614.8,3401.4 L1615.7,3404.9 L1616.4,3407.7 L1623.6,3407.8 L1618.9,3412.9 L1619.8,3415.7 L1620.3,3418.8 L1623.1,3421.3 L1627.7,3423.4 L1630.7,3426.3 L1624.9,3431.8 L1623.8,3436.1 L1631.4,3437.0 L1626.5,3441.2 L1628.1,3443.9 L1634.8,3445.5 L1632.6,3449.3 L1629.8,3453.3 L1635.0,3455.6 L1635.2,3459.0 L1635.9,3462.3 L1637.3,3465.4 L1640.2,3468.3 L1640.5,3471.6 L1636.1,3475.8 L1635.8,3479.1 L1641.4,3481.2 L1637.5,3485.3 L1637.9,3488.4 L1636.2,3492.0 L1635.8,3495.2 L1640.5,3497.5 L1638.9,3500.9 L1646.6,3502.8 L1644.2,3506.3 L1646.6,3509.1 L1639.6,3513.3 L1647.7,3515.2 L1643.8,3518.9 L1644.3,3522.0 L1641.8,3525.5 L1641.4,3528.6 L1649.0,3530.6 L1643.4,3534.4 L1645.3,3537.2 L1650.1,3539.7 L1646.0,3543.3 L1649.9,3546.0 L1653.2,3548.7 L1644.9,3552.7 L1649.1,3555.3 L1652.8,3557.9 L1649.9,3561.3 L1646.1,3564.8 L1649.2,3567.3 L1648.9,3570.3 L1648.0,3573.7 L1650.3,3576.7 L1652.6,3579.6 L1655.2,3582.5 L1651.2,3586.3 L1655.2,3588.9 L1653.4,3592.3 L1658.4,3594.6 L1658.0,3597.8 L1654.7,3601.4 L1655.8,3604.2 L1654.5,3607.4 L1656.0,3610.2 L1655.3,3613.7 L1659.3,3616.5 L1657.1,3620.3 L1654.5,3624.0 L1655.8,3627.1 L1659.6,3629.8 L1661.8,3632.6 L1656.4,3636.8 L1660.1,3639.3 L1666.7,3641.1 L1666.2,3644.3 L1659.3,3649.3 L1665.9,3651.1 L1662.7,3655.1 L1668.1,3657.0 L1669.2,3659.9 L1666.6,3663.8 L1670.8,3665.7 L1672.9,3668.1 L1668.3,3673.2 L1668.7,3676.6 L1677.4,3675.6 L1675.0,3680.4 L1679.7,3681.1 L1679.3,3685.0 L1678.3,3689.5 L1683.1,3690.0 L1685.1,3692.4 L1682.2,3698.5 L1691.4,3695.9 L1690.6,3700.4 L1694.0,3701.7 L1691.1,3707.4 L1694.7,3708.5 L1696.1,3711.1 L1697.7,3713.6 L1702.4,3713.9 L1700.2,3719.4 L1706.3,3718.9 L1707.6,3722.1 L1708.9,3725.3 L1712.1,3727.6 L1713.0,3730.4 L1709.0,3736.0 L1716.5,3735.4 L1718.6,3737.9 L1719.9,3740.8 L1716.2,3746.2 L1721.5,3747.2 L1718.3,3752.4 L1722.5,3754.1 L1721.4,3758.3 L1720.9,3762.2 L1726.3,3763.2 L1725.3,3767.4 L1728.0,3769.6 L1729.8,3772.2 L1734.9,3773.3 L1733.8,3777.4 L1737.7,3779.0 L1737.0,3782.9 L1738.6,3785.7 L1741.5,3787.8 L1744.7,3789.7 L1740.1,3795.6 L1745.1,3796.7 L1743.4,3801.1 L1747.0,3802.8 L1749.7,3805.0 L1748.2,3809.4 L1749.6,3812.2 L1752.4,3814.4 L1756.8,3815.7 L1754.4,3820.5 L1759.6,3821.4 L1756.6,3826.5 L1763.3,3826.7 L1760.9,3831.5 L1764.3,3833.3 L1761.7,3838.1 L1765.9,3839.6 L1770.4,3840.9 L1771.2,3844.0 L1769.3,3848.6 L1767.5,3853.0 L1769.4,3855.6 L1774.4,3856.7 L1771.1,3861.9 L1777.4,3862.3 L1776.3,3866.4 L1781.2,3867.5 L1783.6,3869.8 L1777.8,3876.3 L1781.3,3878.1 L1785.4,3879.6 L1783.9,3884.0 L1789.8,3884.6 L1790.8,3887.6 L1791.6,3890.8 L1794.6,3892.8 L1793.7,3896.8 L1792.5,3901.0 L1795.3,3903.1 L1795.5,3906.6 L1795.4,3910.2 L1796.3,3913.3 L1798.9,3915.5 L1799.9,3918.6 L1802.2,3921.0 L1801.9,3924.7 L1811.1,3923.6 L1807.5,3929.0 L1810.4,3931.1 L1809.8,3935.0 L1811.0,3937.9 L1815.4,3939.3 L1818.7,3941.2 L1816.4,3945.9 L1818.6,3948.4 L1816.8,3952.8 L1825.4,3952.1 L1827.5,3954.6 L1820.9,3961.5 L1821.7,3964.6 L1828.8,3964.6 L1828.1,3968.5 L1833.2,3969.5 L1832.5,3973.4 L1831.0,3977.7 L1837.1,3978.0 L1836.9,3981.7 L1839.1,3984.0 L1843.0,3985.5 L1840.1,3990.6 L1838.8,3994.8 L1846.9,3994.3 L1847.4,3997.7 L1843.7,4003.0 L1849.7,4003.9 L1851.0,4007.1 L1847.7,4011.6 L1851.7,4013.4 L1849.8,4017.3 L1853.2,4019.6 L1854.0,4022.8 L1855.8,4025.7 L1859.0,4028.2 L1853.8,4033.1 L1859.3,4035.0 L1861.6,4037.7 L1859.4,4041.7 L1855.6,4046.3 L1861.9,4047.5 L1859.2,4051.7 L1867.6,4051.4 L1862.5,4056.8 L1865.3,4059.3 L1872.1,4059.1 L1868.9,4064.9 L1875.5,4064.1 L1871.8,4070.8 L1873.1,4073.8 L1873.6,4077.5 L1881.8,4074.5 L1883.8,4076.6 L1882.7,4081.5 L1886.5,4082.0 L1884.8,4087.1 L1891.5,4085.2 L1892.0,4089.3 L1896.4,4089.8 L1893.5,4097.0 L1894.7,4100.4 L1900.2,4099.6 L1905.5,4099.0 L1903.9,4104.4 L1902.0,4109.4 L1903.3,4111.5 L1905.7,4112.8 L1910.4,4114.4 L1906.1,4119.1 L1911.5,4121.5 L1909.2,4125.2 L1909.1,4128.4 L1909.8,4131.2 L1910.9,4133.7 L1912.4,4135.4" fill="none" stroke="#000" stroke-width="8" stroke-linejoin="round" stroke-linecap="round"/>
<path d="M290.0,4392.0 L290.7,4390.6 L291.5,4389.0 L292.4,4387.3 L293.4,4385.5 L294.4,4383.5 L295.4,4381.5 L296.6,4379.3 L297.7,4377.0 L299.0,4374.6 L300.2,4372.1 L301.5,4369.6 L302.9,4366.9 L304.3,4364.2 L305.7,4361.4 L307.2,4358.5 L308.7,4355.6 L310.2,4352.6 L311.8,4349.6 L313.3,4346.6 L314.9,4343.5 L316.5,4340.4 L318.2,4337.3 L319.8,4334.1 L321.4,4330.9 L323.1,4327.8 L324.7,4324.6 L326.3,4321.5 L328.0,4318.3 L329.6,4315.2 L331.2,4312.1 L332.8,4309.1 L334.4,4306.0 L335.9,4303.1 L337.4,4300.1 L339.0,4297.3 L340.4,4294.5 L341.9,4291.7 L343.3,4289.1 L344.7,4286.5 L346.0,4284.0 L347.6,4281.0 L349.2,4278.1 L350.7,4275.3 L352.3,4272.4 L353.8,4269.6 L355.4,4266.8 L356.9,4264.0 L358.4,4261.3 L359.9,4258.6 L361.4,4255.9 L362.9,4253.2 L364.4,4250.6 L365.9,4247.9 L367.4,4245.3 L368.9,4242.7 L370.3,4240.1 L371.8,4237.5 L373.3,4234.9 L374.7,4232.4 L376.2,4229.8 L377.6,4227.2 L379.1,4224.7 L380.5,4222.1 L382.0,4219.5 L383.4,4217.0 L384.9,4214.4 L386.3,4211.8 L387.8,4209.2 L389.2,4206.6 L390.6,4204.0 L392.1,4201.3 L393.5,4198.7 L395.0,4196.0 L396.5,4193.3 L397.9,4190.6 L399.3,4187.9 L400.8,4185.2 L402.2,4182.5 L403.6,4179.8 L405.1,4177.1 L406.5,4174.4 L407.9,4171.7 L409.3,4169.0 L410.7,4166.3 L412.2,4163.6 L413.6,4160.9 L415.0,4158.2 L416.4,4155.4 L417.8,4152.7 L419.2,4150.0 L420.6,4147.3 L422.0,4144.6 L423.4,4141.9 L424.8,4139.2 L426.3,4136.5 L427.7,4133.8 L429.1,4131.1 L430.5,4128.4 L431.9,4125.7 L433.4,4123.0 L434.8,4120.3 L436.2,4117.7 L437.7,4115.0 L439.1,4112.3 L440.5,4109.7 L442.0,4107.0 L443.5,4104.3 L445.0,4101.5 L446.5,4098.8 L448.0,4096.1 L449.5,4093.4 L451.0,4090.7 L452.6,4088.1 L454.1,4085.4 L455.6,4082.7 L457.1,4080.0 L458.7,4077.4 L460.2,4074.7 L461.7,4072.0 L463.2,4069.4 L464.8,4066.7 L466.3,4064.1 L467.8,4061.4 L469.4,4058.7 L470.9,4056.1 L472.5,4053.4 L474.0,4050.7 L475.5,4048.1 L477.1,4045.4 L478.6,4042.7 L480.2,4040.0 L481.7,4037.3 L483.3,4034.6 L484.8,4031.9 L486.4,4029.2 L487.9,4026.5 L489.5,4023.7 L491.0,4021.0 L492.5,4018.4 L493.9,4015.8 L495.4,4013.2 L496.9,4010.6 L498.3,4008.0 L499.8,4005.3 L501.3,4002.7 L502.8,4000.1 L504.2,3997.4 L505.7,3994.8 L507.2,3992.1 L508.7,3989.5 L510.2,3986.8 L511.7,3984.1 L513.2,3981.5 L514.6,3978.8 L516.1,3976.1 L517.6,3973.5 L519.1,3970.8 L520.6,3968.1 L522.1,3965.4 L523.5,3962.8 L525.0,3960.1 L526.5,3957.4 L528.0,3954.8 L529.4,3952.1 L530.9,3949.5 L532.3,3946.8 L533.8,3944.2 L535.2,3941.5 L536.7,3938.9 L538.1,3936.2 L539.6,3933.6 L541.0,3931.0 L542.5,3928.3 L543.9,3925.6 L545.4,3922.9 L546.8,3920.2 L548.3,3917.6 L549.7,3914.9 L551.1,3912.2 L552.5,3909.5 L554.0,3906.9 L555.4,3904.2 L556.8,3901.5 L558.2,3898.9 L559.6,3896.2 L561.0,3893.5 L562.4,3890.9 L563.8,3888.2 L565.2,3885.5 L566.6,3882.9 L568.0,3880.2 L569.4,3877.6 L570.8,3874.9 L572.2,3872.3 L573.6,3869.6 L575.0,3866.9 L576.5,3864.3 L577.9,3861.6 L579.3,3859.0 L580.7,3856.3 L582.2,3853.7 L583.6,3851.0 L585.1,3848.3 L586.5,3845.7 L588.0,3843.0 L589.5,3840.3 L591.0,3837.7 L592.4,3835.0 L593.9,3832.3 L595.4,3829.6 L596.9,3827.0 L598.4,3824.3 L599.9,3821.6 L601.4,3818.9 L603.0,3816.2 L604.5,3813.6 L606.0,3810.9 L607.5,3808.2 L609.1,3805.5 L610.6,3802.8 L612.1,3800.2 L613.6,3797.5 L615.2,3794.8 L616.7,3792.1 L618.2,3789.4 L619.8,3786.8 L621.3,3784.1 L622.8,3781.4 L624.4,3778.8 L625.9,3776.1 L627.4,3773.5 L628.9,3770.8 L630.4,3768.2 L632.0,3765.5 L633.5,3762.9 L635.0,3760.3 L636.5,3757.6 L638.0,3755.0 L639.5,3752.3 L641.1,3749.6 L642.6,3746.9 L644.2,3744.3 L645.7,3741.6 L647.3,3738.9 L648.8,3736.3 L650.3,3733.6 L651.9,3731.0 L653.4,3728.4 L655.0,3725.7 L656.5,3723.1 L658.0,3720.4 L659.6,3717.8 L661.1,3715.2 L662.6,3712.6 L664.2,3709.9 L665.7,3707.3 L667.2,3704.7 L668.7,3702.0 L670.3,3699.4 L671.8,3696.8 L673.3,3694.1 L674.8,3691.5 L676.4,3688.8 L677.9,3686.1 L679.4,3683.5 L680.9,3680.8 L682.4,3678.1 L684.0,3675.4 L685.5,3672.7 L687.0,3670.0 L688.5,3667.4 L689.9,3664.7 L691.4,3662.0 L692.8,3659.4 L694.3,3656.7 L695.8,3654.0 L697.2,3651.3 L698.7,3648.6 L700.1,3645.9 L701.5,3643.2 L703.0,3640.5 L704.4,3637.8 L705.9,3635.1 L707.3,3632.4 L708.7,3629.6 L710.2,3626.9 L711.6,3624.2 L713.1,3621.5 L714.5,3618.8 L716.0,3616.0 L717.4,3613.3 L718.9,3610.6 L720.3,3607.9 L721.8,3605.2 L723.2,3602.5 L724.7,3599.8 L726.1,3597.1 L727.6,3594.4 L729.1,3591.7 L730.5,3589.0 L732.0,3586.3 L733.5,3583.7 L735.0,3581.0 L736.5,3578.3 L738.0,3575.6 L739.6,3572.9 L741.1,3570.1 L742.7,3567.4 L744.2,3564.6 L745.8,3561.7 L747.4,3558.9 L749.0,3556.1 L750.6,3553.2 L752.2,3550.4 L753.9,3547.6 L755.5,3544.7 L757.1,3541.9 L758.7,3539.1 L760.3,3536.3 L761.9,3533.6 L763.5,3530.8 L765.1,3528.1 L766.6,3525.4 L768.2,3522.8 L769.8,3520.1 L771.3,3517.6 L772.8,3515.1 L774.3,3512.6 L775.8,3510.2 L777.3,3507.8 L778.7,3505.5 L780.1,3503.3 L781.5,3501.1 L782.9,3499.0 L784.2,3496.9 L785.5,3495.0 L787.9,3491.4 L790.3,3488.0 L792.5,3484.9 L794.6,3481.9 L796.7,3479.1 L798.7,3476.5 L800.6,3474.0 L802.5,3471.7 L804.4,3469.5 L806.2,3467.4 L808.1,3465.5 L810.0,3463.6 L811.9,3461.8 L813.8,3460.0 L815.8,3458.3 L817.9,3456.6 L820.0,3455.0 L822.5,3453.2 L824.9,3451.7 L827.1,3450.5 L829.2,3449.4 L831.4,3448.6 L833.5,3447.8 L835.8,3447.1 L838.3,3446.4 L840.9,3445.7 L843.8,3444.8 L847.1,3443.8 L850.8,3442.7 L854.9,3441.2 L859.5,3439.5 L861.6,3438.7 L863.7,3437.8 L866.0,3437.0 L868.3,3436.0 L870.8,3435.1 L873.3,3434.1 L875.9,3433.0 L878.5,3431.9 L881.2,3430.9 L884.0,3429.7 L886.8,3428.6 L889.7,3427.4 L892.7,3426.2 L895.6,3425.1 L898.7,3423.8 L901.7,3422.6 L904.8,3421.4 L907.9,3420.2 L911.0,3418.9 L914.1,3417.7 L917.3,3416.5 L920.4,3415.3 L923.6,3414.1 L926.7,3412.9 L929.9,3411.7 L933.0,3410.5 L936.1,3409.3 L939.2,3408.2 L942.3,3407.1 L945.3,3406.0 L948.3,3405.0 L951.2,3403.9 L954.1,3403.0 L957.0,3402.0 L960.0,3401.0 L963.0,3400.0 L966.0,3399.1 L969.0,3398.1 L972.0,3397.2 L974.9,3396.3 L977.9,3395.4 L980.9,3394.5 L983.8,3393.6 L986.8,3392.8 L989.7,3391.9 L992.7,3391.1 L995.6,3390.2 L998.6,3389.4 L1001.5,3388.6 L1004.5,3387.8 L1007.4,3387.0 L1010.4,3386.2 L1013.3,3385.4 L1016.3,3384.7 L1019.2,3383.9 L1022.2,3383.1 L1025.1,3382.4 L1028.1,3381.7 L1031.1,3380.9 L1034.0,3380.2 L1037.0,3379.5 L1040.0,3378.8 L1043.0,3378.1 L1046.0,3377.4 L1049.0,3376.7 L1052.0,3376.0 L1054.9,3375.3 L1057.9,3374.7 L1060.8,3374.0 L1063.7,3373.4 L1066.7,3372.7 L1069.6,3372.1 L1072.5,3371.4 L1075.5,3370.8 L1078.4,3370.2 L1081.4,3369.6 L1084.3,3369.0 L1087.3,3368.4 L1090.2,3367.8 L1093.2,3367.2 L1096.2,3366.6 L1099.1,3366.0 L1102.1,3365.5 L1105.1,3364.9 L1108.1,3364.4 L1111.0,3363.8 L1114.0,3363.3 L1117.0,3362.8 L1120.0,3362.3 L1123.0,3361.8 L1126.0,3361.4 L1129.0,3360.9 L1132.0,3360.4 L1135.0,3360.0 L1138.0,3359.6 L1141.0,3359.2 L1144.0,3358.8 L1147.0,3358.4 L1150.0,3358.0 L1153.0,3357.6 L1156.0,3357.3 L1159.1,3357.0 L1162.1,3356.7 L1165.2,3356.4 L1168.2,3356.1 L1171.3,3355.9 L1174.3,3355.6 L1177.4,3355.4 L1180.4,3355.2 L1183.5,3355.0 L1186.6,3354.8 L1189.7,3354.6 L1192.7,3354.4 L1195.8,3354.3 L1198.9,3354.1 L1202.0,3354.0 L1205.1,3353.8 L1208.1,3353.7 L1211.2,3353.6 L1214.3,3353.4 L1217.4,3353.3 L1220.4,3353.2 L1223.5,3353.1 L1226.6,3353.0 L1229.7,3352.8 L1232.7,3352.7 L1235.8,3352.6 L1238.8,3352.5 L1241.9,3352.4 L1244.9,3352.3 L1248.0,3352.1 L1251.0,3352.0 L1254.0,3351.9 L1257.1,3351.7 L1260.1,3351.6 L1263.1,3351.5 L1266.1,3351.4 L1269.1,3351.3 L1272.1,3351.1 L1275.2,3351.0 L1278.2,3350.9 L1281.2,3350.8 L1284.2,3350.7 L1287.2,3350.6 L1290.2,3350.5 L1293.2,3350.4 L1296.2,3350.3 L1299.2,3350.2 L1302.2,3350.1 L1305.1,3350.0 L1308.1,3350.0 L1311.1,3349.9 L1314.1,3349.8 L1317.1,3349.8 L1320.1,3349.7 L1323.1,3349.6 L1326.1,3349.6 L1329.1,3349.5 L1332.1,3349.5 L1335.0,3349.5 L1338.0,3349.4 L1341.0,3349.4 L1344.0,3349.4 L1347.0,3349.4 L1350.0,3349.4 L1353.1,3349.4 L1356.2,3349.4 L1359.2,3349.4 L1362.3,3349.5 L1365.4,3349.5 L1368.5,3349.5 L1371.6,3349.6 L1374.6,3349.6 L1377.7,3349.7 L1380.8,3349.7 L1383.8,3349.8 L1386.9,3349.9 L1390.0,3350.0 L1393.0,3350.0 L1396.1,3350.1 L1399.2,3350.2 L1402.3,3350.3 L1405.3,3350.4 L1408.4,3350.5 L1411.5,3350.6 L1414.5,3350.7 L1417.6,3350.8 L1420.7,3350.9 L1423.8,3351.1 L1426.9,3351.2 L1429.9,3351.3 L1433.0,3351.4 L1436.1,3351.5 L1439.2,3351.6 L1442.3,3351.8 L1445.4,3351.9 L1448.5,3352.0 L1451.5,3352.1 L1454.5,3352.2 L1457.5,3352.4 L1460.5,3352.5 L1463.5,3352.6 L1466.6,3352.7 L1469.6,3352.9 L1472.6,3353.0 L1475.6,3353.1 L1478.6,3353.3 L1481.6,3353.4 L1484.6,3353.5 L1487.7,3353.7 L1490.7,3353.8 L1493.7,3354.0 L1496.7,3354.1 L1499.8,3354.3 L1502.8,3354.4 L1505.8,3354.6 L1508.9,3354.7 L1511.9,3354.9 L1514.9,3355.0 L1518.0,3355.2 L1521.0,3355.4 L1524.1,3355.5 L1527.1,3355.7 L1530.1,3355.9 L1533.2,3356.1 L1536.3,3356.3 L1539.3,3356.4 L1542.4,3356.6 L1545.4,3356.8 L1548.5,3357.0 L1551.5,3357.2 L1554.5,3357.4 L1557.5,3357.6 L1560.5,3357.8 L1563.5,3358.0 L1566.5,3358.2 L1569.5,3358.4 L1572.5,3358.6 L1575.5,3358.9 L1578.5,3359.1 L1581.5,3359.3 L1584.6,3359.5 L1587.6,3359.8 L1590.6,3360.0 L1593.6,3360.2 L1596.7,3360.5 L1599.7,3360.7 L1602.7,3360.9 L1605.7,3361.2 L1608.8,3361.4 L1611.8,3361.7 L1614.8,3361.9 L1617.9,3362.1 L1620.9,3362.4 L1623.9,3362.6 L1626.9,3362.9 L1630.0,3363.1 L1633.0,3363.3 L1636.0,3363.6 L1639.0,3363.8 L1642.0,3364.0 L1645.0,3364.3 L1648.0,3364.5 L1651.0,3364.7 L1654.1,3364.9 L1657.2,3365.2 L1660.2,3365.4 L1663.3,3365.6 L1666.4,3365.8 L1669.5,3366.1 L1672.5,3366.3 L1675.6,3366.5 L1678.7,3366.7 L1681.7,3367.0 L1684.8,3367.2 L1687.9,3367.4 L1690.9,3367.6 L1694.0,3367.8 L1697.1,3368.1 L1700.1,3368.3 L1703.2,3368.5 L1706.2,3368.7 L1709.3,3368.9 L1712.4,3369.2 L1715.4,3369.4 L1718.5,3369.6 L1721.5,3369.8 L1724.6,3370.0 L1727.6,3370.3 L1730.7,3370.5 L1733.7,3370.7 L1736.8,3370.9 L1739.8,3371.1 L1742.9,3371.3 L1745.9,3371.6 L1749.0,3371.8 L1752.0,3372.0 L1755.0,3372.2 L1758.1,3372.4 L1761.1,3372.6 L1764.2,3372.9 L1767.2,3373.1 L1770.2,3373.3 L1773.3,3373.5 L1776.3,3373.7 L1779.3,3373.9 L1782.4,3374.1 L1785.4,3374.3 L1788.4,3374.5 L1791.5,3374.8 L1794.5,3375.0 L1797.5,3375.2 L1800.5,3375.4 L1803.6,3375.6 L1806.6,3375.8 L1809.6,3376.0 L1812.7,3376.2 L1815.7,3376.4 L1818.7,3376.6 L1821.7,3376.9 L1824.8,3377.1 L1827.8,3377.3 L1830.8,3377.5 L1833.8,3377.7 L1836.9,3377.9 L1839.9,3378.1 L1842.9,3378.3 L1845.9,3378.6 L1849.0,3378.8 L1852.0,3379.0 L1855.1,3379.2 L1858.2,3379.5 L1861.4,3379.7 L1864.6,3379.9 L1867.9,3380.2 L1871.2,3380.4 L1874.5,3380.7 L1877.9,3380.9 L1881.2,3381.2 L1884.6,3381.4 L1888.0,3381.7 L1891.4,3381.9 L1894.8,3382.2 L1898.2,3382.4 L1901.6,3382.7 L1904.9,3382.9 L1908.2,3383.2 L1911.5,3383.4 L1914.7,3383.7 L1917.9,3383.9 L1921.0,3384.2 L1924.1,3384.4 L1927.1,3384.6 L1930.0,3384.8 L1932.8,3385.1 L1935.6,3385.3 L1938.3,3385.5 L1940.8,3385.7 L1943.3,3385.8 L1945.7,3386.0 L1947.9,3386.2 L1950.0,3386.4 L1952.0,3386.5 L1958.4,3387.0 L1963.4,3387.4 L1967.4,3387.6 L1970.5,3387.9 L1972.9,3388.1 L1974.7,3388.2 L1976.2,3388.3 L1977.6,3388.4 L1979.0,3388.5" fill="none" stroke="#f8000a" stroke-width="11" stroke-dasharray="41 59" stroke-dashoffset="92.6" stroke-linecap="round" stroke-linejoin="round"/>
</g>
<line x1="1592.4" y1="3383.0" x2="1511.5" y2="3927.0" stroke="#2a2a2a" stroke-width="2"/>
<polygon points="1507.1,3956.7 1503.2,3921.7 1521.0,3924.4" fill="#000"/>
<line x1="290.0" y1="4197.3" x2="318.0" y2="4197.3" stroke="#000" stroke-width="5"/>
<line x1="290.0" y1="4002.4" x2="318.0" y2="4002.4" stroke="#000" stroke-width="5"/>
<line x1="290.0" y1="3807.4" x2="318.0" y2="3807.4" stroke="#000" stroke-width="5"/>
<line x1="290.0" y1="3612.4" x2="318.0" y2="3612.4" stroke="#000" stroke-width="5"/>
<line x1="290.0" y1="3417.5" x2="318.0" y2="3417.5" stroke="#000" stroke-width="5"/>
<line x1="575.8" y1="4392.3" x2="575.8" y2="4365.3" stroke="#000" stroke-width="5"/>
<line x1="861.5" y1="4392.3" x2="861.5" y2="4365.3" stroke="#000" stroke-width="5"/>
<line x1="1147.2" y1="4392.3" x2="1147.2" y2="4365.3" stroke="#000" stroke-width="5"/>
<line x1="1433.0" y1="4392.3" x2="1433.0" y2="4365.3" stroke="#000" stroke-width="5"/>
<line x1="1718.8" y1="4392.3" x2="1718.8" y2="4365.3" stroke="#000" stroke-width="5"/>
<text x="261.0" y="4416.8" font-size="85" font-weight="normal" text-anchor="end">0</text>
<text x="261.0" y="4221.8" font-size="85" font-weight="normal" text-anchor="end">50</text>
<text x="261.0" y="4026.9" font-size="85" font-weight="normal" text-anchor="end">100</text>
<text x="261.0" y="3831.9" font-size="85" font-weight="normal" text-anchor="end">150</text>
<text x="261.0" y="3636.9" font-size="85" font-weight="normal" text-anchor="end">200</text>
<text x="261.0" y="3442.0" font-size="85" font-weight="normal" text-anchor="end">250</text>
<text x="261.0" y="3247.0" font-size="85" font-weight="normal" text-anchor="end">300</text>
<text x="290.0" y="4486.8" font-size="85" font-weight="normal" text-anchor="middle">0.0</text>
<text x="575.8" y="4486.8" font-size="85" font-weight="normal" text-anchor="middle">0.3</text>
<text x="861.5" y="4486.8" font-size="85" font-weight="normal" text-anchor="middle">0.6</text>
<text x="1147.2" y="4486.8" font-size="85" font-weight="normal" text-anchor="middle">0.9</text>
<text x="1433.0" y="4486.8" font-size="85" font-weight="normal" text-anchor="middle">1.2</text>
<text x="1718.8" y="4486.8" font-size="85" font-weight="normal" text-anchor="middle">1.5</text>
<text x="2004.5" y="4486.8" font-size="85" font-weight="normal" text-anchor="middle">1.8</text>
<text transform="translate(94.0,3770.4) rotate(-90)" font-size="96" font-weight="bold" text-anchor="middle">Load (N)</text>
<text x="748.7" y="4581.3" font-size="96" font-weight="bold" text-anchor="start">Displacement (mm)</text>
<text x="359.6" y="3357.0" font-size="96" font-weight="bold" text-anchor="start">(c)</text>
<line x1="660.8" y1="4011" x2="660.8" y2="4145" stroke="#d0d0d0" stroke-width="2"/>
</svg></body></html>
